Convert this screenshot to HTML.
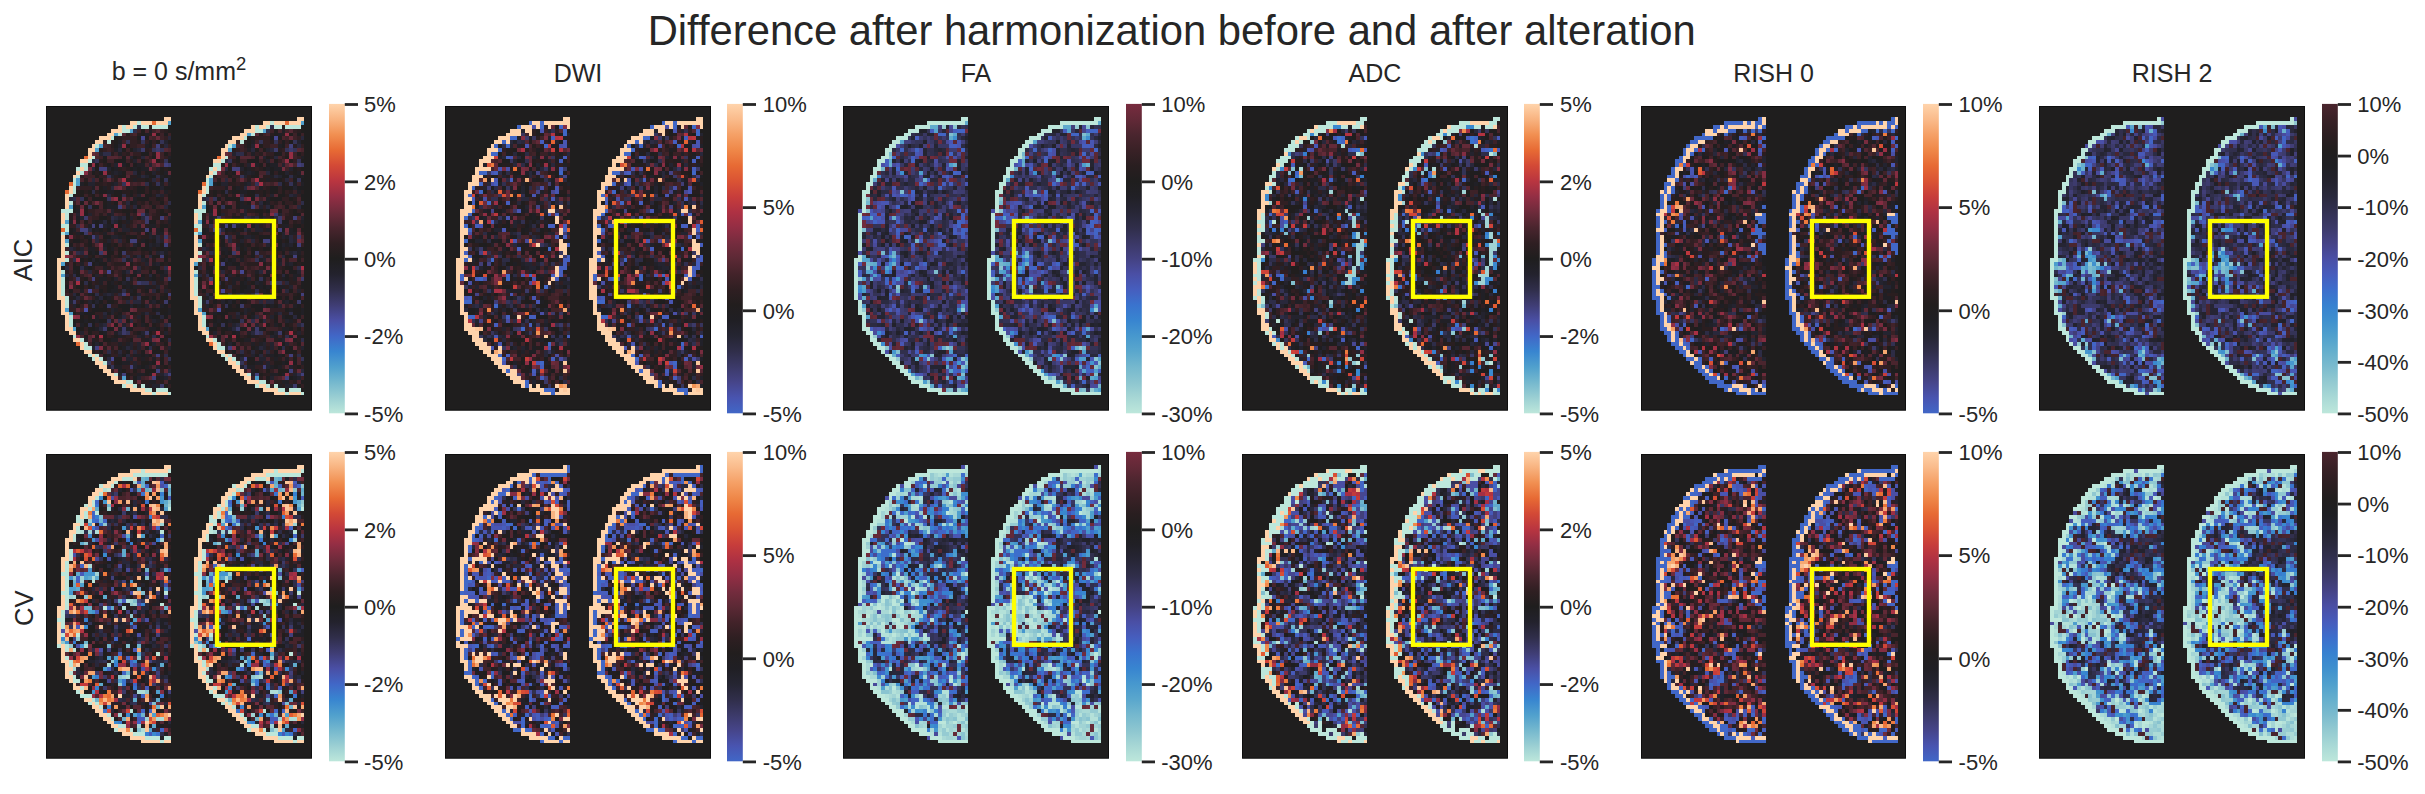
<!DOCTYPE html><html><head><meta charset="utf-8"><style>html,body{margin:0;padding:0;background:#fff;width:2425px;height:794px;overflow:hidden}svg{display:block}text{font-family:"Liberation Sans",sans-serif;fill:#262626}</style></head><body><svg width="2425" height="794" viewBox="0 0 2425 794"><rect width="2425" height="794" fill="#fff"/><defs><linearGradient id="g0" x1="0" y1="0" x2="0" y2="1"><stop offset="0.00" stop-color="#ffd4ac"/><stop offset="0.05" stop-color="#f8b380"/><stop offset="0.10" stop-color="#f18f51"/><stop offset="0.15" stop-color="#e76a34"/><stop offset="0.20" stop-color="#d34936"/><stop offset="0.25" stop-color="#b93540"/><stop offset="0.30" stop-color="#932e44"/><stop offset="0.35" stop-color="#6d2b3b"/><stop offset="0.40" stop-color="#4a252e"/><stop offset="0.45" stop-color="#2f1f22"/><stop offset="0.50" stop-color="#1f1e1e"/><stop offset="0.55" stop-color="#23222d"/><stop offset="0.60" stop-color="#302e4a"/><stop offset="0.65" stop-color="#3f3d74"/><stop offset="0.70" stop-color="#4a4fa5"/><stop offset="0.75" stop-color="#4167c7"/><stop offset="0.80" stop-color="#3885d0"/><stop offset="0.85" stop-color="#50a0cd"/><stop offset="0.90" stop-color="#75b8ce"/><stop offset="0.95" stop-color="#9bcfd3"/><stop offset="1.00" stop-color="#bde7db"/></linearGradient><linearGradient id="g1" x1="0" y1="0" x2="0" y2="1"><stop offset="0.00" stop-color="#ffd4ac"/><stop offset="0.05" stop-color="#fabb8b"/><stop offset="0.10" stop-color="#f5a066"/><stop offset="0.15" stop-color="#ef8748"/><stop offset="0.20" stop-color="#e76a34"/><stop offset="0.25" stop-color="#da5334"/><stop offset="0.30" stop-color="#c73d3b"/><stop offset="0.35" stop-color="#ae3143"/><stop offset="0.40" stop-color="#932e44"/><stop offset="0.45" stop-color="#752c3e"/><stop offset="0.50" stop-color="#5c2935"/><stop offset="0.55" stop-color="#43232a"/><stop offset="0.60" stop-color="#2f1f22"/><stop offset="0.65" stop-color="#221e1e"/><stop offset="0.70" stop-color="#201f24"/><stop offset="0.75" stop-color="#252532"/><stop offset="0.80" stop-color="#302e4a"/><stop offset="0.85" stop-color="#3c3a69"/><stop offset="0.90" stop-color="#46458a"/><stop offset="0.95" stop-color="#4954b0"/><stop offset="1.00" stop-color="#4167c7"/></linearGradient><linearGradient id="g2" x1="0" y1="0" x2="0" y2="1"><stop offset="0.00" stop-color="#782c3f"/><stop offset="0.05" stop-color="#622937"/><stop offset="0.10" stop-color="#4a252e"/><stop offset="0.15" stop-color="#392126"/><stop offset="0.20" stop-color="#291e20"/><stop offset="0.25" stop-color="#1f1e1e"/><stop offset="0.30" stop-color="#212026"/><stop offset="0.35" stop-color="#272636"/><stop offset="0.40" stop-color="#302e4a"/><stop offset="0.45" stop-color="#3b3866"/><stop offset="0.50" stop-color="#444282"/><stop offset="0.55" stop-color="#4a4fa5"/><stop offset="0.60" stop-color="#465ebe"/><stop offset="0.65" stop-color="#3a73ce"/><stop offset="0.70" stop-color="#3885d0"/><stop offset="0.75" stop-color="#4798ce"/><stop offset="0.80" stop-color="#5aa7cd"/><stop offset="0.85" stop-color="#75b8ce"/><stop offset="0.90" stop-color="#8dc6d0"/><stop offset="0.95" stop-color="#a7d7d5"/><stop offset="1.00" stop-color="#bde7db"/></linearGradient><linearGradient id="g3" x1="0" y1="0" x2="0" y2="1"><stop offset="0.00" stop-color="#ffd4ac"/><stop offset="0.05" stop-color="#f8b380"/><stop offset="0.10" stop-color="#f18f51"/><stop offset="0.15" stop-color="#e76a34"/><stop offset="0.20" stop-color="#d34936"/><stop offset="0.25" stop-color="#b93540"/><stop offset="0.30" stop-color="#932e44"/><stop offset="0.35" stop-color="#6d2b3b"/><stop offset="0.40" stop-color="#4a252e"/><stop offset="0.45" stop-color="#2f1f22"/><stop offset="0.50" stop-color="#1f1e1e"/><stop offset="0.55" stop-color="#23222d"/><stop offset="0.60" stop-color="#302e4a"/><stop offset="0.65" stop-color="#3f3d74"/><stop offset="0.70" stop-color="#4a4fa5"/><stop offset="0.75" stop-color="#4167c7"/><stop offset="0.80" stop-color="#3885d0"/><stop offset="0.85" stop-color="#50a0cd"/><stop offset="0.90" stop-color="#75b8ce"/><stop offset="0.95" stop-color="#9bcfd3"/><stop offset="1.00" stop-color="#bde7db"/></linearGradient><linearGradient id="g4" x1="0" y1="0" x2="0" y2="1"><stop offset="0.00" stop-color="#ffd4ac"/><stop offset="0.05" stop-color="#fabb8b"/><stop offset="0.10" stop-color="#f5a066"/><stop offset="0.15" stop-color="#ef8748"/><stop offset="0.20" stop-color="#e76a34"/><stop offset="0.25" stop-color="#da5334"/><stop offset="0.30" stop-color="#c73d3b"/><stop offset="0.35" stop-color="#ae3143"/><stop offset="0.40" stop-color="#932e44"/><stop offset="0.45" stop-color="#752c3e"/><stop offset="0.50" stop-color="#5c2935"/><stop offset="0.55" stop-color="#43232a"/><stop offset="0.60" stop-color="#2f1f22"/><stop offset="0.65" stop-color="#221e1e"/><stop offset="0.70" stop-color="#201f24"/><stop offset="0.75" stop-color="#252532"/><stop offset="0.80" stop-color="#302e4a"/><stop offset="0.85" stop-color="#3c3a69"/><stop offset="0.90" stop-color="#46458a"/><stop offset="0.95" stop-color="#4954b0"/><stop offset="1.00" stop-color="#4167c7"/></linearGradient><linearGradient id="g5" x1="0" y1="0" x2="0" y2="1"><stop offset="0.00" stop-color="#4a252e"/><stop offset="0.05" stop-color="#392126"/><stop offset="0.10" stop-color="#2c1e21"/><stop offset="0.15" stop-color="#211e1e"/><stop offset="0.20" stop-color="#1f1f23"/><stop offset="0.25" stop-color="#23222d"/><stop offset="0.30" stop-color="#2a293d"/><stop offset="0.35" stop-color="#333153"/><stop offset="0.40" stop-color="#3c3a69"/><stop offset="0.45" stop-color="#454386"/><stop offset="0.50" stop-color="#4a4fa5"/><stop offset="0.55" stop-color="#475cbc"/><stop offset="0.60" stop-color="#3d6ecc"/><stop offset="0.65" stop-color="#3781d0"/><stop offset="0.70" stop-color="#3f90ce"/><stop offset="0.75" stop-color="#50a0cd"/><stop offset="0.80" stop-color="#65afcd"/><stop offset="0.85" stop-color="#7bbbce"/><stop offset="0.90" stop-color="#93cad1"/><stop offset="0.95" stop-color="#a9d9d6"/><stop offset="1.00" stop-color="#bde7db"/></linearGradient></defs><text x="647.7" y="0" font-size="41.75" transform="translate(0,44.8) scale(1,1.036)">Difference after harmonization before and after alteration</text><text transform="translate(32.2,260) rotate(-90)" text-anchor="middle" font-size="25.5">AIC</text><text transform="translate(32.6,608.2) rotate(-90)" text-anchor="middle" font-size="25.5">CV</text><text x="179.0" y="79.7" text-anchor="middle" font-size="25">b = 0 s/mm<tspan dy="-10" font-size="18.5">2</tspan></text><rect x="46.5" y="106.5" width="265" height="303.7" fill="#1f1e1e" stroke="#0e0e0e" stroke-width="1"/><g transform="translate(46,106) scale(3.80000,3.80875)" shape-rendering="crispEdges"><g id="h00"><path fill="#bde7db" d="M24 4h1v1h-1zM20 5h1v1h-1zM23 5h1v1h-1zM25 5h2v1h-2zM28 5h4v1h-4zM20 6h2v1h-2zM19 7h1v1h-1zM17 8h1v1h-1zM16 9h1v1h-1zM13 10h1v1h-1zM12 13h1v1h-1zM11 14h1v1h-1zM9 15h2v1h-2zM8 16h1v1h-1zM10 16h1v1h-1zM9 17h1v1h-1zM8 18h1v1h-1zM7 19h1v1h-1zM7 20h1v1h-1zM7 21h1v1h-1zM7 22h1v1h-1zM6 23h1v1h-1zM6 25h1v1h-1zM4 27h3v1h-3zM5 28h1v1h-1zM5 29h1v1h-1zM4 31h2v1h-2zM5 32h1v1h-1zM4 33h1v1h-1zM5 36h1v1h-1zM5 38h1v1h-1zM5 40h1v1h-1zM4 43h1v1h-1zM4 45h1v1h-1zM4 46h1v1h-1zM4 47h1v1h-1zM4 48h1v1h-1zM4 49h1v1h-1zM5 50h1v1h-1zM5 51h1v1h-1zM5 52h1v1h-1zM6 55h1v1h-1zM6 56h1v1h-1zM6 57h1v1h-1zM7 60h1v1h-1zM9 61h1v1h-1zM10 62h1v1h-1zM10 63h2v1h-2zM11 65h1v1h-1zM13 65h1v1h-1zM12 66h1v1h-1zM14 66h1v1h-1zM15 67h1v1h-1zM18 70h1v1h-1zM21 72h2v1h-2zM20 73h1v1h-1zM23 73h1v1h-1zM25 73h1v1h-1zM26 74h2v1h-2zM29 74h3v1h-3zM28 75h1v1h-1zM32 75h1v1h-1z"/><path fill="#50a0cd" d="M32 4h1v1h-1zM22 6h1v1h-1zM18 7h1v1h-1zM14 10h1v1h-1zM13 11h1v1h-1zM8 19h1v1h-1zM8 20h1v1h-1zM6 26h1v1h-1zM5 30h1v1h-1zM5 33h1v1h-1zM5 35h1v1h-1zM4 41h1v1h-1zM4 44h1v1h-1zM5 53h1v1h-1zM6 54h1v1h-1zM7 58h1v1h-1zM20 71h1v1h-1z"/><path fill="#4a4fa5" d="M10 53h1v1h-1z"/><path fill="#474792" d="M25 8h1v1h-1zM16 43h1v1h-1zM11 48h1v1h-1zM17 66h1v1h-1z"/><path fill="#42407b" d="M29 10h1v1h-1zM31 15h1v1h-1zM14 16h2v1h-2zM19 26h1v1h-1zM30 29h1v1h-1zM12 31h1v1h-1zM14 31h1v1h-1zM9 32h2v1h-2zM26 32h1v1h-1zM12 34h1v1h-1zM22 35h2v1h-2zM31 36h1v1h-1zM30 39h1v1h-1zM11 41h1v1h-1zM12 45h1v1h-1zM20 49h1v1h-1zM32 49h1v1h-1zM13 63h1v1h-1zM29 65h1v1h-1zM22 68h1v1h-1zM29 69h1v1h-1zM20 70h1v1h-1zM32 70h1v1h-1zM28 71h1v1h-1z"/><path fill="#3c3a69" d="M25 11h1v1h-1zM29 11h1v1h-1zM32 15h1v1h-1zM25 28h1v1h-1zM10 29h1v1h-1zM26 29h1v1h-1zM26 30h1v1h-1zM10 33h1v1h-1zM31 34h1v1h-1zM14 38h1v1h-1zM20 38h1v1h-1zM8 45h1v1h-1zM32 45h1v1h-1zM24 46h1v1h-1zM7 51h1v1h-1zM31 51h1v1h-1zM16 52h1v1h-1zM15 58h1v1h-1zM20 58h1v1h-1zM20 59h1v1h-1zM26 59h1v1h-1zM30 73h1v1h-1z"/><path fill="#343356" d="M21 9h1v1h-1zM25 9h1v1h-1zM30 9h1v1h-1zM28 11h1v1h-1zM30 11h1v1h-1zM13 14h1v1h-1zM31 14h1v1h-1zM16 18h1v1h-1zM31 19h1v1h-1zM20 20h1v1h-1zM29 20h1v1h-1zM9 24h1v1h-1zM16 24h1v1h-1zM11 26h1v1h-1zM20 40h1v1h-1zM21 45h1v1h-1zM25 46h2v1h-2zM24 50h1v1h-1zM12 52h1v1h-1zM16 56h1v1h-1zM11 57h1v1h-1zM32 57h1v1h-1zM21 59h1v1h-1zM32 66h1v1h-1zM16 67h1v1h-1zM17 68h1v1h-1z"/><path fill="#2e2d48" d="M24 5h1v1h-1zM23 6h1v1h-1zM15 12h2v1h-2zM29 18h1v1h-1zM26 20h1v1h-1zM12 22h1v1h-1zM20 23h1v1h-1zM7 24h1v1h-1zM32 25h1v1h-1zM17 29h1v1h-1zM8 31h1v1h-1zM8 38h1v1h-1zM21 39h1v1h-1zM7 40h1v1h-1zM9 42h1v1h-1zM31 42h1v1h-1zM7 44h1v1h-1zM10 46h1v1h-1zM20 48h1v1h-1zM13 49h1v1h-1zM29 54h1v1h-1zM19 56h1v1h-1zM28 60h1v1h-1zM32 61h1v1h-1zM27 63h1v1h-1zM16 64h1v1h-1zM31 65h1v1h-1zM31 70h1v1h-1z"/><path fill="#29283b" d="M32 8h1v1h-1zM31 10h1v1h-1zM19 11h1v1h-1zM24 11h1v1h-1zM25 13h1v1h-1zM12 14h1v1h-1zM12 16h1v1h-1zM23 17h1v1h-1zM25 18h1v1h-1zM12 19h1v1h-1zM28 19h1v1h-1zM17 21h1v1h-1zM16 23h1v1h-1zM29 23h1v1h-1zM6 24h1v1h-1zM21 25h1v1h-1zM23 26h1v1h-1zM31 26h1v1h-1zM18 29h1v1h-1zM20 29h1v1h-1zM25 29h1v1h-1zM15 30h1v1h-1zM17 30h1v1h-1zM11 32h1v1h-1zM17 32h1v1h-1zM13 34h1v1h-1zM29 34h1v1h-1zM13 35h1v1h-1zM19 35h1v1h-1zM29 35h1v1h-1zM6 37h1v1h-1zM9 38h1v1h-1zM30 38h1v1h-1zM24 39h1v1h-1zM27 39h1v1h-1zM5 42h1v1h-1zM24 42h1v1h-1zM11 43h1v1h-1zM21 43h1v1h-1zM5 44h1v1h-1zM27 44h1v1h-1zM28 46h1v1h-1zM13 47h1v1h-1zM28 48h1v1h-1zM7 49h1v1h-1zM16 49h1v1h-1zM19 49h1v1h-1zM8 50h1v1h-1zM14 50h1v1h-1zM22 50h1v1h-1zM21 51h1v1h-1zM23 51h2v1h-2zM15 54h1v1h-1zM26 54h1v1h-1zM20 55h1v1h-1zM30 55h1v1h-1zM22 56h1v1h-1zM15 57h1v1h-1zM31 57h1v1h-1zM14 58h1v1h-1zM19 59h1v1h-1zM21 63h1v1h-1zM19 64h1v1h-1zM23 64h1v1h-1zM21 65h1v1h-1zM16 66h1v1h-1zM32 69h1v1h-1z"/><path fill="#24232e" d="M31 9h1v1h-1zM19 10h1v1h-1zM23 11h1v1h-1zM14 12h1v1h-1zM22 13h1v1h-1zM23 14h1v1h-1zM18 15h1v1h-1zM27 15h1v1h-1zM16 16h1v1h-1zM29 16h1v1h-1zM18 17h1v1h-1zM28 17h1v1h-1zM17 18h1v1h-1zM26 18h1v1h-1zM11 20h2v1h-2zM18 20h1v1h-1zM30 21h1v1h-1zM24 23h1v1h-1zM30 23h1v1h-1zM21 26h1v1h-1zM17 27h1v1h-1zM8 28h1v1h-1zM11 28h1v1h-1zM17 28h1v1h-1zM26 28h1v1h-1zM9 29h1v1h-1zM19 29h1v1h-1zM22 29h1v1h-1zM32 29h1v1h-1zM18 30h1v1h-1zM15 31h1v1h-1zM20 31h1v1h-1zM20 32h2v1h-2zM27 33h1v1h-1zM17 34h2v1h-2zM27 34h1v1h-1zM16 35h1v1h-1zM30 35h1v1h-1zM23 36h1v1h-1zM27 36h1v1h-1zM29 36h1v1h-1zM7 37h1v1h-1zM9 37h1v1h-1zM15 37h1v1h-1zM29 38h1v1h-1zM10 39h1v1h-1zM12 40h1v1h-1zM22 40h1v1h-1zM25 40h1v1h-1zM26 41h1v1h-1zM29 41h1v1h-1zM24 43h1v1h-1zM31 43h1v1h-1zM13 44h1v1h-1zM18 45h1v1h-1zM20 46h1v1h-1zM29 47h1v1h-1zM31 48h1v1h-1zM15 49h1v1h-1zM17 49h1v1h-1zM24 49h1v1h-1zM6 51h1v1h-1zM11 51h1v1h-1zM13 51h1v1h-1zM28 51h1v1h-1zM7 52h1v1h-1zM22 52h1v1h-1zM26 52h1v1h-1zM17 53h1v1h-1zM17 54h1v1h-1zM15 55h1v1h-1zM24 55h1v1h-1zM28 56h1v1h-1zM14 57h1v1h-1zM20 57h1v1h-1zM9 59h1v1h-1zM25 59h1v1h-1zM31 59h1v1h-1zM24 60h1v1h-1zM27 61h1v1h-1zM13 62h1v1h-1zM22 62h1v1h-1zM24 62h1v1h-1zM28 62h1v1h-1zM12 63h1v1h-1zM22 63h1v1h-1zM24 63h1v1h-1zM32 63h1v1h-1zM19 65h1v1h-1zM21 66h2v1h-2zM23 67h1v1h-1zM16 68h1v1h-1zM23 68h1v1h-1zM29 68h1v1h-1zM19 70h1v1h-1zM30 70h1v1h-1zM24 71h1v1h-1zM31 71h1v1h-1zM28 73h2v1h-2z"/><path fill="#212026" d="M27 6h1v1h-1zM26 7h1v1h-1zM19 9h1v1h-1zM26 10h1v1h-1zM18 11h1v1h-1zM19 12h1v1h-1zM32 13h1v1h-1zM20 15h1v1h-1zM24 15h2v1h-2zM18 16h1v1h-1zM23 16h1v1h-1zM25 16h2v1h-2zM17 17h1v1h-1zM19 17h1v1h-1zM31 17h1v1h-1zM24 18h1v1h-1zM30 18h1v1h-1zM32 18h1v1h-1zM23 19h1v1h-1zM9 20h1v1h-1zM17 20h1v1h-1zM30 20h1v1h-1zM32 20h1v1h-1zM12 21h1v1h-1zM15 21h1v1h-1zM21 21h1v1h-1zM16 22h2v1h-2zM31 22h1v1h-1zM23 24h1v1h-1zM16 25h1v1h-1zM23 25h1v1h-1zM16 26h3v1h-3zM8 27h1v1h-1zM16 28h1v1h-1zM8 29h1v1h-1zM6 30h1v1h-1zM12 30h1v1h-1zM14 30h1v1h-1zM21 30h1v1h-1zM32 30h1v1h-1zM11 31h1v1h-1zM16 31h1v1h-1zM24 31h1v1h-1zM27 31h2v1h-2zM7 32h1v1h-1zM13 32h1v1h-1zM18 32h1v1h-1zM23 32h2v1h-2zM29 32h1v1h-1zM8 33h1v1h-1zM15 33h1v1h-1zM29 33h2v1h-2zM11 34h1v1h-1zM19 34h1v1h-1zM28 34h1v1h-1zM25 35h1v1h-1zM15 36h1v1h-1zM28 36h1v1h-1zM11 37h2v1h-2zM17 37h1v1h-1zM27 37h1v1h-1zM31 37h1v1h-1zM12 38h1v1h-1zM31 38h1v1h-1zM15 39h1v1h-1zM23 39h1v1h-1zM14 40h1v1h-1zM16 40h1v1h-1zM21 40h1v1h-1zM26 40h1v1h-1zM9 41h1v1h-1zM13 41h1v1h-1zM28 41h1v1h-1zM10 42h1v1h-1zM15 42h1v1h-1zM7 43h1v1h-1zM20 43h1v1h-1zM23 43h1v1h-1zM30 44h2v1h-2zM14 45h2v1h-2zM22 45h1v1h-1zM25 45h1v1h-1zM27 45h1v1h-1zM30 45h1v1h-1zM14 46h1v1h-1zM17 46h1v1h-1zM21 46h1v1h-1zM18 47h1v1h-1zM21 47h1v1h-1zM23 47h1v1h-1zM26 47h2v1h-2zM9 48h1v1h-1zM17 48h2v1h-2zM22 48h1v1h-1zM11 49h1v1h-1zM7 50h1v1h-1zM13 50h1v1h-1zM16 50h1v1h-1zM27 51h1v1h-1zM24 52h1v1h-1zM30 52h1v1h-1zM18 53h1v1h-1zM29 53h1v1h-1zM32 53h1v1h-1zM9 54h1v1h-1zM25 54h1v1h-1zM32 54h1v1h-1zM13 55h1v1h-1zM19 55h1v1h-1zM27 55h1v1h-1zM10 56h1v1h-1zM13 56h1v1h-1zM29 56h1v1h-1zM7 57h1v1h-1zM9 57h1v1h-1zM25 57h1v1h-1zM13 58h1v1h-1zM19 58h1v1h-1zM21 58h1v1h-1zM27 58h2v1h-2zM15 59h1v1h-1zM18 59h1v1h-1zM19 60h1v1h-1zM25 60h1v1h-1zM29 60h1v1h-1zM10 61h1v1h-1zM12 61h1v1h-1zM17 61h2v1h-2zM26 61h1v1h-1zM19 62h1v1h-1zM21 62h1v1h-1zM20 63h1v1h-1zM16 65h1v1h-1zM23 65h2v1h-2zM26 65h1v1h-1zM25 66h1v1h-1zM28 66h1v1h-1zM20 67h2v1h-2zM27 67h1v1h-1zM32 67h1v1h-1zM18 68h2v1h-2zM24 68h1v1h-1zM26 68h1v1h-1zM19 69h1v1h-1zM24 70h2v1h-2zM27 70h1v1h-1zM30 71h1v1h-1zM27 72h2v1h-2zM26 73h1v1h-1z"/><path fill="#1f1e20" d="M32 5h1v1h-1zM31 7h1v1h-1zM24 8h1v1h-1zM27 9h1v1h-1zM18 10h1v1h-1zM27 10h1v1h-1zM25 12h2v1h-2zM15 13h1v1h-1zM20 13h1v1h-1zM19 14h2v1h-2zM13 15h1v1h-1zM16 15h1v1h-1zM23 15h1v1h-1zM17 16h1v1h-1zM22 16h1v1h-1zM24 16h1v1h-1zM12 17h1v1h-1zM14 17h1v1h-1zM24 17h1v1h-1zM26 17h1v1h-1zM19 18h1v1h-1zM27 18h2v1h-2zM30 19h1v1h-1zM32 19h1v1h-1zM27 20h1v1h-1zM24 21h2v1h-2zM27 21h1v1h-1zM31 21h2v1h-2zM14 22h1v1h-1zM19 22h1v1h-1zM24 22h1v1h-1zM22 23h1v1h-1zM27 23h1v1h-1zM32 23h1v1h-1zM10 24h1v1h-1zM12 24h2v1h-2zM19 24h1v1h-1zM25 24h2v1h-2zM9 25h1v1h-1zM18 25h1v1h-1zM22 25h1v1h-1zM7 26h1v1h-1zM13 26h1v1h-1zM15 26h1v1h-1zM24 26h1v1h-1zM28 26h1v1h-1zM32 26h1v1h-1zM23 27h1v1h-1zM26 27h1v1h-1zM10 28h1v1h-1zM21 28h1v1h-1zM31 28h1v1h-1zM15 29h1v1h-1zM8 30h1v1h-1zM13 30h1v1h-1zM27 30h2v1h-2zM13 31h1v1h-1zM17 31h1v1h-1zM19 31h1v1h-1zM31 31h1v1h-1zM6 32h1v1h-1zM14 32h1v1h-1zM16 32h1v1h-1zM27 32h1v1h-1zM30 32h1v1h-1zM6 33h1v1h-1zM9 33h1v1h-1zM15 34h2v1h-2zM21 34h1v1h-1zM23 34h1v1h-1zM7 35h2v1h-2zM11 35h1v1h-1zM26 35h1v1h-1zM6 36h1v1h-1zM11 36h1v1h-1zM16 36h1v1h-1zM24 36h1v1h-1zM26 36h1v1h-1zM22 37h1v1h-1zM26 37h1v1h-1zM32 37h1v1h-1zM11 38h1v1h-1zM13 38h1v1h-1zM16 38h1v1h-1zM27 38h1v1h-1zM19 39h1v1h-1zM25 39h1v1h-1zM9 40h1v1h-1zM11 40h1v1h-1zM13 40h1v1h-1zM14 41h2v1h-2zM4 42h1v1h-1zM7 42h2v1h-2zM11 42h1v1h-1zM29 42h1v1h-1zM29 43h2v1h-2zM8 44h1v1h-1zM15 44h1v1h-1zM23 44h1v1h-1zM25 44h1v1h-1zM28 44h1v1h-1zM17 45h1v1h-1zM28 45h1v1h-1zM16 46h1v1h-1zM32 46h1v1h-1zM5 47h1v1h-1zM16 47h2v1h-2zM22 47h1v1h-1zM32 47h1v1h-1zM6 48h1v1h-1zM14 48h1v1h-1zM16 48h1v1h-1zM26 48h1v1h-1zM8 49h1v1h-1zM22 49h2v1h-2zM15 50h1v1h-1zM28 50h1v1h-1zM31 50h1v1h-1zM9 51h1v1h-1zM12 51h1v1h-1zM14 51h1v1h-1zM16 51h1v1h-1zM29 51h1v1h-1zM32 51h1v1h-1zM13 52h1v1h-1zM15 52h1v1h-1zM19 52h3v1h-3zM31 52h1v1h-1zM12 53h2v1h-2zM20 53h2v1h-2zM28 53h1v1h-1zM7 54h1v1h-1zM10 54h2v1h-2zM16 54h1v1h-1zM19 54h1v1h-1zM22 54h1v1h-1zM31 54h1v1h-1zM28 55h1v1h-1zM31 55h1v1h-1zM9 56h1v1h-1zM12 56h1v1h-1zM14 56h1v1h-1zM25 56h1v1h-1zM32 56h1v1h-1zM12 57h1v1h-1zM8 58h1v1h-1zM12 58h1v1h-1zM16 58h2v1h-2zM22 58h1v1h-1zM29 58h1v1h-1zM14 59h1v1h-1zM24 59h1v1h-1zM10 60h1v1h-1zM31 60h1v1h-1zM22 61h1v1h-1zM30 61h1v1h-1zM12 62h1v1h-1zM14 62h1v1h-1zM27 62h1v1h-1zM26 63h1v1h-1zM29 63h1v1h-1zM14 64h1v1h-1zM21 64h1v1h-1zM25 64h1v1h-1zM28 64h1v1h-1zM32 64h1v1h-1zM15 65h1v1h-1zM20 65h1v1h-1zM25 65h1v1h-1zM18 66h1v1h-1zM19 67h1v1h-1zM28 67h1v1h-1zM30 67h1v1h-1zM25 68h1v1h-1zM23 71h1v1h-1zM29 71h1v1h-1zM32 72h1v1h-1z"/><path fill="#211e1e" d="M25 6h1v1h-1zM32 6h1v1h-1zM25 7h1v1h-1zM29 7h1v1h-1zM18 8h1v1h-1zM26 8h1v1h-1zM18 9h1v1h-1zM29 9h1v1h-1zM32 9h1v1h-1zM21 10h1v1h-1zM20 11h1v1h-1zM22 11h1v1h-1zM31 12h1v1h-1zM23 13h1v1h-1zM28 13h1v1h-1zM15 14h1v1h-1zM18 14h1v1h-1zM25 14h1v1h-1zM29 14h1v1h-1zM32 14h1v1h-1zM21 15h1v1h-1zM13 16h1v1h-1zM30 16h1v1h-1zM32 16h1v1h-1zM20 17h1v1h-1zM27 17h1v1h-1zM30 17h1v1h-1zM13 18h1v1h-1zM20 18h1v1h-1zM31 18h1v1h-1zM14 19h1v1h-1zM26 19h1v1h-1zM10 20h1v1h-1zM14 21h1v1h-1zM28 21h2v1h-2zM9 22h1v1h-1zM11 22h1v1h-1zM15 22h1v1h-1zM18 22h1v1h-1zM22 22h1v1h-1zM25 22h1v1h-1zM27 22h1v1h-1zM9 23h1v1h-1zM12 23h1v1h-1zM18 23h2v1h-2zM26 23h1v1h-1zM14 24h2v1h-2zM24 24h1v1h-1zM29 24h1v1h-1zM32 24h1v1h-1zM15 25h1v1h-1zM27 25h1v1h-1zM30 25h1v1h-1zM10 26h1v1h-1zM12 26h1v1h-1zM7 27h1v1h-1zM10 27h1v1h-1zM20 27h2v1h-2zM30 27h1v1h-1zM30 28h1v1h-1zM14 29h1v1h-1zM21 29h1v1h-1zM24 29h1v1h-1zM10 30h1v1h-1zM16 30h1v1h-1zM19 30h1v1h-1zM30 31h1v1h-1zM12 32h1v1h-1zM32 32h1v1h-1zM19 33h2v1h-2zM26 33h1v1h-1zM10 34h1v1h-1zM22 34h1v1h-1zM21 35h1v1h-1zM28 35h1v1h-1zM18 36h1v1h-1zM30 36h1v1h-1zM16 37h1v1h-1zM19 37h2v1h-2zM23 37h1v1h-1zM25 37h1v1h-1zM29 37h2v1h-2zM17 38h1v1h-1zM19 38h1v1h-1zM12 39h1v1h-1zM16 39h1v1h-1zM28 39h2v1h-2zM31 39h1v1h-1zM31 40h1v1h-1zM7 41h1v1h-1zM12 41h1v1h-1zM22 41h1v1h-1zM30 41h1v1h-1zM32 41h1v1h-1zM28 42h1v1h-1zM8 43h1v1h-1zM27 43h1v1h-1zM12 44h1v1h-1zM20 44h1v1h-1zM22 44h1v1h-1zM5 45h1v1h-1zM10 45h1v1h-1zM20 45h1v1h-1zM24 45h1v1h-1zM9 46h1v1h-1zM11 46h1v1h-1zM19 46h1v1h-1zM8 47h2v1h-2zM11 47h1v1h-1zM20 47h1v1h-1zM23 48h1v1h-1zM29 48h1v1h-1zM12 49h1v1h-1zM31 49h1v1h-1zM25 50h2v1h-2zM30 50h1v1h-1zM17 51h1v1h-1zM8 52h1v1h-1zM23 52h1v1h-1zM25 52h1v1h-1zM14 53h2v1h-2zM30 53h2v1h-2zM12 54h1v1h-1zM30 54h1v1h-1zM9 55h1v1h-1zM11 55h1v1h-1zM18 55h1v1h-1zM25 55h1v1h-1zM29 55h1v1h-1zM7 56h1v1h-1zM11 56h1v1h-1zM15 56h1v1h-1zM21 56h1v1h-1zM10 57h1v1h-1zM18 57h1v1h-1zM23 57h1v1h-1zM26 57h1v1h-1zM28 57h1v1h-1zM9 58h1v1h-1zM11 58h1v1h-1zM31 58h1v1h-1zM11 59h1v1h-1zM27 59h1v1h-1zM13 60h1v1h-1zM15 60h1v1h-1zM18 60h1v1h-1zM32 60h1v1h-1zM15 61h2v1h-2zM31 62h1v1h-1zM19 63h1v1h-1zM12 64h1v1h-1zM29 64h2v1h-2zM27 65h1v1h-1zM32 65h1v1h-1zM19 66h1v1h-1zM30 66h1v1h-1zM18 67h1v1h-1zM25 67h2v1h-2zM31 68h1v1h-1zM20 69h1v1h-1zM23 69h1v1h-1zM26 69h3v1h-3zM21 70h1v1h-1zM26 70h1v1h-1zM31 73h1v1h-1zM32 74h1v1h-1z"/><path fill="#291e20" d="M27 5h1v1h-1zM31 6h1v1h-1zM21 7h1v1h-1zM24 7h1v1h-1zM27 7h1v1h-1zM19 8h1v1h-1zM17 9h1v1h-1zM24 9h1v1h-1zM17 10h1v1h-1zM30 10h1v1h-1zM14 11h1v1h-1zM26 11h1v1h-1zM17 12h1v1h-1zM21 12h1v1h-1zM28 12h1v1h-1zM24 13h1v1h-1zM14 14h1v1h-1zM22 14h1v1h-1zM11 15h1v1h-1zM15 15h1v1h-1zM19 16h1v1h-1zM21 16h1v1h-1zM31 16h1v1h-1zM13 17h1v1h-1zM16 17h1v1h-1zM29 17h1v1h-1zM18 18h1v1h-1zM22 18h2v1h-2zM10 19h1v1h-1zM18 19h1v1h-1zM21 19h2v1h-2zM24 19h2v1h-2zM27 19h1v1h-1zM13 20h2v1h-2zM16 20h1v1h-1zM28 20h1v1h-1zM16 21h1v1h-1zM23 21h1v1h-1zM8 22h1v1h-1zM10 22h1v1h-1zM13 22h1v1h-1zM20 22h2v1h-2zM23 22h1v1h-1zM29 22h1v1h-1zM32 22h1v1h-1zM7 23h2v1h-2zM11 23h1v1h-1zM14 23h1v1h-1zM17 23h1v1h-1zM21 23h1v1h-1zM28 23h1v1h-1zM30 24h1v1h-1zM11 25h1v1h-1zM17 25h1v1h-1zM25 25h1v1h-1zM8 26h1v1h-1zM18 27h2v1h-2zM22 27h1v1h-1zM29 27h1v1h-1zM32 27h1v1h-1zM6 28h1v1h-1zM14 28h1v1h-1zM29 28h1v1h-1zM6 29h1v1h-1zM16 29h1v1h-1zM28 29h2v1h-2zM20 30h1v1h-1zM22 30h1v1h-1zM30 30h1v1h-1zM21 31h1v1h-1zM26 31h1v1h-1zM32 31h1v1h-1zM15 32h1v1h-1zM22 32h1v1h-1zM25 32h1v1h-1zM7 33h1v1h-1zM12 33h1v1h-1zM14 33h1v1h-1zM18 33h1v1h-1zM24 33h1v1h-1zM8 34h1v1h-1zM20 34h1v1h-1zM25 34h2v1h-2zM6 35h1v1h-1zM9 35h1v1h-1zM15 35h1v1h-1zM24 35h1v1h-1zM27 35h1v1h-1zM10 36h1v1h-1zM17 36h1v1h-1zM20 36h1v1h-1zM8 37h1v1h-1zM13 37h1v1h-1zM21 37h1v1h-1zM28 37h1v1h-1zM25 38h1v1h-1zM11 39h1v1h-1zM18 39h1v1h-1zM32 39h1v1h-1zM10 40h1v1h-1zM28 40h1v1h-1zM18 41h3v1h-3zM24 41h1v1h-1zM31 41h1v1h-1zM12 42h1v1h-1zM16 42h1v1h-1zM22 42h1v1h-1zM25 42h1v1h-1zM27 42h1v1h-1zM5 43h1v1h-1zM13 43h1v1h-1zM17 43h1v1h-1zM26 44h1v1h-1zM9 45h1v1h-1zM13 45h1v1h-1zM16 45h1v1h-1zM26 45h1v1h-1zM29 45h1v1h-1zM5 46h1v1h-1zM13 46h1v1h-1zM18 46h1v1h-1zM22 46h1v1h-1zM29 46h2v1h-2zM12 47h1v1h-1zM14 47h2v1h-2zM24 47h2v1h-2zM28 47h1v1h-1zM31 47h1v1h-1zM15 48h1v1h-1zM19 48h1v1h-1zM21 48h1v1h-1zM25 48h1v1h-1zM14 49h1v1h-1zM30 49h1v1h-1zM6 50h1v1h-1zM17 50h1v1h-1zM20 50h2v1h-2zM10 51h1v1h-1zM18 51h1v1h-1zM25 51h1v1h-1zM30 51h1v1h-1zM11 52h1v1h-1zM14 52h1v1h-1zM11 53h1v1h-1zM16 53h1v1h-1zM19 53h1v1h-1zM18 54h1v1h-1zM23 54h1v1h-1zM27 54h2v1h-2zM10 55h1v1h-1zM8 56h1v1h-1zM17 56h1v1h-1zM30 56h1v1h-1zM29 57h1v1h-1zM8 59h1v1h-1zM23 59h1v1h-1zM30 59h1v1h-1zM17 60h1v1h-1zM20 60h1v1h-1zM27 60h1v1h-1zM13 61h1v1h-1zM21 61h1v1h-1zM25 61h1v1h-1zM31 61h1v1h-1zM16 62h1v1h-1zM20 62h1v1h-1zM15 63h1v1h-1zM17 63h1v1h-1zM23 63h1v1h-1zM28 63h1v1h-1zM18 64h1v1h-1zM20 64h1v1h-1zM30 65h1v1h-1zM15 66h1v1h-1zM24 66h1v1h-1zM26 66h1v1h-1zM30 68h1v1h-1zM22 70h2v1h-2zM21 71h1v1h-1zM23 72h1v1h-1zM25 72h2v1h-2zM30 72h1v1h-1zM27 73h1v1h-1zM28 74h1v1h-1z"/><path fill="#311f23" d="M30 6h1v1h-1zM20 8h4v1h-4zM31 8h1v1h-1zM15 9h1v1h-1zM22 9h2v1h-2zM26 9h1v1h-1zM28 9h1v1h-1zM22 10h2v1h-2zM32 10h1v1h-1zM15 11h1v1h-1zM17 11h1v1h-1zM27 11h1v1h-1zM20 12h1v1h-1zM23 12h2v1h-2zM32 12h1v1h-1zM27 13h1v1h-1zM31 13h1v1h-1zM26 14h1v1h-1zM30 14h1v1h-1zM17 15h1v1h-1zM20 16h1v1h-1zM25 17h1v1h-1zM9 18h1v1h-1zM14 18h2v1h-2zM15 20h1v1h-1zM9 21h3v1h-3zM22 21h1v1h-1zM26 21h1v1h-1zM26 22h1v1h-1zM28 22h1v1h-1zM23 23h1v1h-1zM31 23h1v1h-1zM27 24h2v1h-2zM7 25h1v1h-1zM20 25h1v1h-1zM24 25h1v1h-1zM28 25h2v1h-2zM22 26h1v1h-1zM11 27h2v1h-2zM15 27h1v1h-1zM31 27h1v1h-1zM12 28h1v1h-1zM20 28h1v1h-1zM23 28h1v1h-1zM28 28h1v1h-1zM12 29h2v1h-2zM23 29h1v1h-1zM31 30h1v1h-1zM6 31h2v1h-2zM10 31h1v1h-1zM22 31h1v1h-1zM29 31h1v1h-1zM13 33h1v1h-1zM21 33h1v1h-1zM32 33h1v1h-1zM5 34h1v1h-1zM7 34h1v1h-1zM9 34h1v1h-1zM24 34h1v1h-1zM30 34h1v1h-1zM10 35h1v1h-1zM14 35h1v1h-1zM17 35h1v1h-1zM20 35h1v1h-1zM8 36h1v1h-1zM12 36h1v1h-1zM21 36h1v1h-1zM32 36h1v1h-1zM18 37h1v1h-1zM24 37h1v1h-1zM6 38h1v1h-1zM21 38h2v1h-2zM26 38h1v1h-1zM32 38h1v1h-1zM8 39h2v1h-2zM14 39h1v1h-1zM17 39h1v1h-1zM22 39h1v1h-1zM17 40h1v1h-1zM5 41h1v1h-1zM8 41h1v1h-1zM17 41h1v1h-1zM23 41h1v1h-1zM25 41h1v1h-1zM18 42h1v1h-1zM21 42h1v1h-1zM26 42h1v1h-1zM12 43h1v1h-1zM19 43h1v1h-1zM6 44h1v1h-1zM9 44h1v1h-1zM14 44h1v1h-1zM16 44h2v1h-2zM19 44h1v1h-1zM21 44h1v1h-1zM29 44h1v1h-1zM6 45h1v1h-1zM7 46h1v1h-1zM12 46h1v1h-1zM7 47h1v1h-1zM10 47h1v1h-1zM5 48h1v1h-1zM32 48h1v1h-1zM6 49h1v1h-1zM10 49h1v1h-1zM18 49h1v1h-1zM26 49h3v1h-3zM9 50h1v1h-1zM12 50h1v1h-1zM23 50h1v1h-1zM27 50h1v1h-1zM8 51h1v1h-1zM15 51h1v1h-1zM6 52h1v1h-1zM9 52h1v1h-1zM17 52h2v1h-2zM28 52h1v1h-1zM32 52h1v1h-1zM6 53h2v1h-2zM24 53h4v1h-4zM8 54h1v1h-1zM13 54h2v1h-2zM24 54h1v1h-1zM14 55h1v1h-1zM16 55h1v1h-1zM23 55h1v1h-1zM24 56h1v1h-1zM27 56h1v1h-1zM13 57h1v1h-1zM24 57h1v1h-1zM10 58h1v1h-1zM26 58h1v1h-1zM30 58h1v1h-1zM12 59h2v1h-2zM28 59h1v1h-1zM32 59h1v1h-1zM16 60h1v1h-1zM21 60h2v1h-2zM20 61h1v1h-1zM17 62h2v1h-2zM23 62h1v1h-1zM30 62h1v1h-1zM31 63h1v1h-1zM13 64h1v1h-1zM17 64h1v1h-1zM24 64h1v1h-1zM17 65h2v1h-2zM22 65h1v1h-1zM22 67h1v1h-1zM24 67h1v1h-1zM20 68h2v1h-2zM27 68h1v1h-1zM32 68h1v1h-1zM17 69h1v1h-1zM21 69h1v1h-1zM24 69h1v1h-1zM30 69h1v1h-1zM29 70h1v1h-1zM29 72h1v1h-1zM24 73h1v1h-1zM32 73h1v1h-1z"/><path fill="#3d2228" d="M24 6h1v1h-1zM28 6h1v1h-1zM22 7h1v1h-1zM30 7h1v1h-1zM32 7h1v1h-1zM28 8h1v1h-1zM30 8h1v1h-1zM20 9h1v1h-1zM16 10h1v1h-1zM24 10h2v1h-2zM28 10h1v1h-1zM16 11h1v1h-1zM21 11h1v1h-1zM18 12h1v1h-1zM27 12h1v1h-1zM30 12h1v1h-1zM14 13h1v1h-1zM30 13h1v1h-1zM16 14h2v1h-2zM21 14h1v1h-1zM14 15h1v1h-1zM28 16h1v1h-1zM11 17h1v1h-1zM10 18h3v1h-3zM15 19h1v1h-1zM17 19h1v1h-1zM29 19h1v1h-1zM19 20h1v1h-1zM22 20h1v1h-1zM24 20h1v1h-1zM31 20h1v1h-1zM8 21h1v1h-1zM30 22h1v1h-1zM10 23h1v1h-1zM13 23h1v1h-1zM11 24h1v1h-1zM21 24h1v1h-1zM26 25h1v1h-1zM31 25h1v1h-1zM25 26h1v1h-1zM27 26h1v1h-1zM29 26h1v1h-1zM13 27h2v1h-2zM27 27h2v1h-2zM13 28h1v1h-1zM15 28h1v1h-1zM19 28h1v1h-1zM22 28h1v1h-1zM27 28h1v1h-1zM11 29h1v1h-1zM11 30h1v1h-1zM23 30h1v1h-1zM25 30h1v1h-1zM29 30h1v1h-1zM8 32h1v1h-1zM19 32h1v1h-1zM16 33h1v1h-1zM22 33h2v1h-2zM7 36h1v1h-1zM19 36h1v1h-1zM5 37h1v1h-1zM10 37h1v1h-1zM18 38h1v1h-1zM23 38h2v1h-2zM28 38h1v1h-1zM13 39h1v1h-1zM20 39h1v1h-1zM6 40h1v1h-1zM15 40h1v1h-1zM18 40h1v1h-1zM24 40h1v1h-1zM32 40h1v1h-1zM10 41h1v1h-1zM16 41h1v1h-1zM13 42h2v1h-2zM19 42h1v1h-1zM30 42h1v1h-1zM6 43h1v1h-1zM10 43h1v1h-1zM15 43h1v1h-1zM18 43h1v1h-1zM25 43h2v1h-2zM7 45h1v1h-1zM11 45h1v1h-1zM19 45h1v1h-1zM23 45h1v1h-1zM15 46h1v1h-1zM27 46h1v1h-1zM31 46h1v1h-1zM7 48h2v1h-2zM12 48h2v1h-2zM30 48h1v1h-1zM5 49h1v1h-1zM25 49h1v1h-1zM29 49h1v1h-1zM19 50h1v1h-1zM29 50h1v1h-1zM20 51h1v1h-1zM9 53h1v1h-1zM20 54h1v1h-1zM21 55h1v1h-1zM32 55h1v1h-1zM23 56h1v1h-1zM21 57h1v1h-1zM30 57h1v1h-1zM23 58h3v1h-3zM32 58h1v1h-1zM10 59h1v1h-1zM16 59h1v1h-1zM22 59h1v1h-1zM23 60h1v1h-1zM26 60h1v1h-1zM11 62h1v1h-1zM29 62h1v1h-1zM25 63h1v1h-1zM15 64h1v1h-1zM31 64h1v1h-1zM28 65h1v1h-1zM27 66h1v1h-1zM29 66h1v1h-1zM17 67h1v1h-1zM22 69h1v1h-1zM19 71h1v1h-1zM22 71h1v1h-1zM25 71h1v1h-1zM32 71h1v1h-1z"/><path fill="#48242c" d="M26 6h1v1h-1zM23 7h1v1h-1zM27 8h1v1h-1zM15 10h1v1h-1zM32 11h1v1h-1zM22 12h1v1h-1zM13 13h1v1h-1zM19 13h1v1h-1zM26 13h1v1h-1zM24 14h1v1h-1zM27 14h1v1h-1zM22 15h1v1h-1zM26 15h1v1h-1zM30 15h1v1h-1zM21 17h2v1h-2zM9 19h1v1h-1zM11 19h1v1h-1zM13 19h1v1h-1zM23 20h1v1h-1zM20 21h1v1h-1zM31 24h1v1h-1zM12 25h1v1h-1zM14 25h1v1h-1zM14 26h1v1h-1zM26 26h1v1h-1zM30 26h1v1h-1zM7 28h1v1h-1zM18 28h1v1h-1zM31 29h1v1h-1zM9 30h1v1h-1zM24 30h1v1h-1zM23 31h1v1h-1zM17 33h1v1h-1zM14 34h1v1h-1zM32 34h1v1h-1zM18 35h1v1h-1zM9 36h1v1h-1zM22 36h1v1h-1zM7 39h1v1h-1zM26 39h1v1h-1zM19 40h1v1h-1zM29 40h2v1h-2zM6 41h1v1h-1zM6 42h1v1h-1zM17 42h1v1h-1zM20 42h1v1h-1zM28 43h1v1h-1zM10 44h1v1h-1zM19 47h1v1h-1zM30 47h1v1h-1zM10 48h1v1h-1zM24 48h1v1h-1zM11 50h1v1h-1zM32 50h1v1h-1zM22 51h1v1h-1zM29 52h1v1h-1zM26 55h1v1h-1zM26 56h1v1h-1zM8 57h1v1h-1zM27 57h1v1h-1zM17 59h1v1h-1zM9 60h1v1h-1zM14 61h1v1h-1zM19 61h1v1h-1zM15 62h1v1h-1zM18 63h1v1h-1zM22 64h1v1h-1zM14 65h1v1h-1zM23 66h1v1h-1zM31 66h1v1h-1zM31 67h1v1h-1zM25 69h1v1h-1zM26 71h1v1h-1zM31 72h1v1h-1z"/><path fill="#542732" d="M29 6h1v1h-1zM20 7h1v1h-1zM31 11h1v1h-1zM13 12h1v1h-1zM16 13h3v1h-3zM21 13h1v1h-1zM28 15h1v1h-1zM21 18h1v1h-1zM19 19h1v1h-1zM25 20h1v1h-1zM13 21h1v1h-1zM25 23h1v1h-1zM8 24h1v1h-1zM22 24h1v1h-1zM8 25h1v1h-1zM20 26h1v1h-1zM16 27h1v1h-1zM32 28h1v1h-1zM7 29h1v1h-1zM27 29h1v1h-1zM31 32h1v1h-1zM11 33h1v1h-1zM12 35h1v1h-1zM32 35h1v1h-1zM13 36h1v1h-1zM23 40h1v1h-1zM27 40h1v1h-1zM27 41h1v1h-1zM11 44h1v1h-1zM18 44h1v1h-1zM32 44h1v1h-1zM31 45h1v1h-1zM23 46h1v1h-1zM27 48h1v1h-1zM9 49h1v1h-1zM18 50h1v1h-1zM19 51h1v1h-1zM26 51h1v1h-1zM27 52h1v1h-1zM21 54h1v1h-1zM17 55h1v1h-1zM31 56h1v1h-1zM16 57h1v1h-1zM11 60h1v1h-1zM11 61h1v1h-1zM23 61h2v1h-2zM25 62h1v1h-1zM32 62h1v1h-1zM16 63h1v1h-1zM26 64h1v1h-1zM20 66h1v1h-1zM28 68h1v1h-1z"/><path fill="#642a38" d="M29 8h1v1h-1zM12 12h1v1h-1zM32 17h1v1h-1zM16 19h1v1h-1zM18 21h1v1h-1zM10 25h1v1h-1zM19 25h1v1h-1zM9 26h1v1h-1zM24 27h2v1h-2zM9 31h1v1h-1zM25 31h1v1h-1zM25 33h1v1h-1zM28 33h1v1h-1zM25 36h1v1h-1zM7 38h1v1h-1zM10 38h1v1h-1zM9 43h1v1h-1zM22 43h1v1h-1zM32 43h1v1h-1zM6 46h1v1h-1zM21 49h1v1h-1zM10 50h1v1h-1zM10 52h1v1h-1zM8 53h1v1h-1zM23 53h1v1h-1zM18 56h1v1h-1zM20 56h1v1h-1zM19 57h1v1h-1zM30 63h1v1h-1zM18 69h1v1h-1zM31 69h1v1h-1zM27 71h1v1h-1zM24 72h1v1h-1z"/><path fill="#722c3d" d="M29 15h1v1h-1zM11 16h1v1h-1zM27 16h1v1h-1zM19 21h1v1h-1zM17 24h1v1h-1zM20 24h1v1h-1zM13 25h1v1h-1zM28 32h1v1h-1zM31 33h1v1h-1zM31 35h1v1h-1zM14 37h1v1h-1zM15 38h1v1h-1zM6 39h1v1h-1zM23 42h1v1h-1zM24 44h1v1h-1zM22 53h1v1h-1zM12 55h1v1h-1zM18 58h1v1h-1zM12 60h1v1h-1zM30 60h1v1h-1zM28 61h1v1h-1z"/><path fill="#842d42" d="M10 17h1v1h-1zM15 23h1v1h-1zM24 28h1v1h-1zM7 30h1v1h-1zM6 34h1v1h-1zM14 36h1v1h-1zM21 41h1v1h-1zM14 43h1v1h-1zM6 47h1v1h-1zM8 55h1v1h-1zM22 55h1v1h-1zM17 57h1v1h-1zM29 61h1v1h-1zM14 63h1v1h-1zM27 64h1v1h-1z"/><path fill="#932e44" d="M28 7h1v1h-1zM20 10h1v1h-1zM29 12h1v1h-1zM29 13h1v1h-1zM28 14h1v1h-1zM12 15h1v1h-1zM19 15h1v1h-1zM15 17h1v1h-1zM18 24h1v1h-1zM9 27h1v1h-1zM9 28h1v1h-1zM18 31h1v1h-1zM5 39h1v1h-1zM7 55h1v1h-1zM22 57h1v1h-1zM8 60h1v1h-1zM26 62h1v1h-1zM29 67h1v1h-1zM28 70h1v1h-1z"/><path fill="#a52f44" d="M20 19h1v1h-1zM21 20h1v1h-1zM8 40h1v1h-1zM32 42h1v1h-1zM8 46h1v1h-1zM29 59h1v1h-1zM14 60h1v1h-1z"/><path fill="#e76a34" d="M28 4h1v1h-1zM10 13h1v1h-1zM6 20h1v1h-1zM5 22h1v1h-1zM4 32h1v1h-1zM8 62h1v1h-1z"/><path fill="#ffd4ac" d="M31 3h2v1h-2zM22 4h2v1h-2zM25 4h3v1h-3zM29 4h3v1h-3zM19 5h1v1h-1zM21 5h2v1h-2zM17 6h3v1h-3zM16 7h2v1h-2zM14 8h3v1h-3zM13 9h2v1h-2zM12 10h1v1h-1zM11 11h2v1h-2zM11 12h1v1h-1zM11 13h1v1h-1zM9 14h2v1h-2zM9 16h1v1h-1zM8 17h1v1h-1zM7 18h1v1h-1zM6 21h1v1h-1zM6 22h1v1h-1zM5 23h1v1h-1zM5 24h1v1h-1zM5 25h1v1h-1zM5 26h1v1h-1zM4 28h1v1h-1zM4 29h1v1h-1zM4 30h1v1h-1zM4 34h1v1h-1zM4 35h1v1h-1zM4 36h1v1h-1zM4 37h1v1h-1zM4 38h1v1h-1zM4 39h1v1h-1zM3 40h2v1h-2zM3 41h1v1h-1zM3 42h1v1h-1zM3 43h1v1h-1zM3 44h1v1h-1zM3 45h1v1h-1zM3 46h1v1h-1zM3 47h1v1h-1zM3 48h1v1h-1zM3 49h1v1h-1zM3 50h2v1h-2zM4 51h1v1h-1zM4 52h1v1h-1zM4 53h1v1h-1zM4 54h2v1h-2zM5 55h1v1h-1zM5 56h1v1h-1zM5 57h1v1h-1zM5 58h2v1h-2zM6 59h2v1h-2zM7 61h2v1h-2zM9 62h1v1h-1zM9 63h1v1h-1zM10 64h2v1h-2zM12 65h1v1h-1zM13 66h1v1h-1zM13 67h2v1h-2zM14 68h2v1h-2zM15 69h2v1h-2zM16 70h2v1h-2zM17 71h2v1h-2zM18 72h3v1h-3zM21 73h2v1h-2zM22 74h4v1h-4zM25 75h3v1h-3zM29 75h3v1h-3z"/></g><use href="#h00" x="35"/></g><rect x="217" y="221" width="57" height="75.8" fill="none" stroke="#ffff00" stroke-width="4.3"/><rect x="329" y="103.9" width="15.8" height="309.4" fill="url(#g0)"/><rect x="344.8" y="103.10" width="13.2" height="2.8" fill="#262626"/><text x="364.1" y="0" font-size="22" transform="translate(0,112.25) scale(1,1.045)">5%</text><rect x="344.8" y="180.45" width="13.2" height="2.8" fill="#262626"/><text x="364.1" y="0" font-size="22" transform="translate(0,189.60) scale(1,1.045)">2%</text><rect x="344.8" y="257.80" width="13.2" height="2.8" fill="#262626"/><text x="364.1" y="0" font-size="22" transform="translate(0,266.95) scale(1,1.045)">0%</text><rect x="344.8" y="335.15" width="13.2" height="2.8" fill="#262626"/><text x="364.1" y="0" font-size="22" transform="translate(0,344.30) scale(1,1.045)">-2%</text><rect x="344.8" y="412.50" width="13.2" height="2.8" fill="#262626"/><text x="364.1" y="0" font-size="22" transform="translate(0,421.65) scale(1,1.045)">-5%</text><rect x="46.5" y="454.5" width="265" height="303.7" fill="#1f1e1e" stroke="#0e0e0e" stroke-width="1"/><g transform="translate(46,454) scale(3.80000,3.80875)" shape-rendering="crispEdges"><g id="h01"><path fill="#bde7db" d="M25 4h1v1h-1zM32 4h1v1h-1zM23 5h9v1h-9zM20 6h3v1h-3zM18 7h1v1h-1zM14 8h1v1h-1zM17 8h1v1h-1zM16 9h1v1h-1zM14 10h1v1h-1zM13 11h1v1h-1zM12 12h1v1h-1zM10 13h1v1h-1zM12 13h1v1h-1zM11 14h1v1h-1zM32 14h1v1h-1zM10 15h1v1h-1zM13 15h1v1h-1zM8 16h1v1h-1zM10 16h1v1h-1zM8 17h2v1h-2zM9 18h1v1h-1zM8 19h1v1h-1zM8 20h1v1h-1zM30 20h1v1h-1zM7 21h1v1h-1zM7 22h1v1h-1zM6 25h1v1h-1zM6 26h1v1h-1zM6 27h1v1h-1zM5 28h1v1h-1zM5 29h1v1h-1zM5 30h1v1h-1zM4 31h2v1h-2zM5 32h1v1h-1zM5 33h1v1h-1zM12 33h1v1h-1zM5 34h1v1h-1zM5 35h1v1h-1zM4 36h2v1h-2zM31 36h1v1h-1zM5 37h1v1h-1zM5 38h1v1h-1zM5 39h1v1h-1zM30 39h1v1h-1zM5 40h1v1h-1zM15 40h1v1h-1zM4 41h1v1h-1zM4 42h1v1h-1zM3 43h2v1h-2zM4 44h1v1h-1zM4 45h1v1h-1zM4 47h1v1h-1zM8 47h1v1h-1zM3 50h1v1h-1zM5 50h1v1h-1zM5 51h1v1h-1zM7 51h1v1h-1zM29 52h1v1h-1zM5 53h1v1h-1zM6 54h1v1h-1zM6 55h1v1h-1zM6 57h1v1h-1zM7 58h1v1h-1zM7 59h2v1h-2zM9 61h1v1h-1zM8 62h1v1h-1zM9 63h3v1h-3zM12 64h1v1h-1zM11 65h1v1h-1zM13 65h1v1h-1zM14 66h1v1h-1zM22 67h1v1h-1zM16 68h1v1h-1zM17 69h1v1h-1zM19 71h2v1h-2zM18 72h1v1h-1zM22 72h1v1h-1zM23 73h3v1h-3zM26 74h4v1h-4zM31 74h2v1h-2zM30 75h1v1h-1z"/><path fill="#afddd7" d="M15 9h1v1h-1zM9 20h1v1h-1zM13 20h1v1h-1zM11 29h1v1h-1zM12 32h1v1h-1zM7 37h1v1h-1zM21 38h1v1h-1zM20 40h1v1h-1zM10 50h1v1h-1zM16 55h1v1h-1zM7 56h1v1h-1zM21 58h1v1h-1zM24 62h2v1h-2zM29 69h2v1h-2zM25 72h1v1h-1z"/><path fill="#a1d3d4" d="M23 7h1v1h-1zM32 13h1v1h-1zM16 14h1v1h-1zM11 17h1v1h-1zM30 18h1v1h-1zM11 20h1v1h-1zM30 22h1v1h-1zM13 31h1v1h-1zM9 32h1v1h-1zM9 33h1v1h-1zM6 37h1v1h-1zM22 38h1v1h-1zM23 39h1v1h-1zM20 58h1v1h-1zM19 68h1v1h-1zM26 69h1v1h-1zM24 71h1v1h-1z"/><path fill="#90c8d1" d="M32 8h1v1h-1zM30 9h1v1h-1zM32 12h1v1h-1zM15 18h1v1h-1zM10 23h1v1h-1zM7 32h1v1h-1zM10 37h1v1h-1zM22 39h1v1h-1zM22 42h1v1h-1zM8 48h1v1h-1zM4 49h1v1h-1zM6 50h1v1h-1zM24 53h1v1h-1zM17 54h1v1h-1zM19 58h1v1h-1zM19 60h1v1h-1zM26 62h1v1h-1z"/><path fill="#81bfcf" d="M27 9h1v1h-1zM14 16h1v1h-1zM26 32h1v1h-1zM25 36h1v1h-1zM23 38h1v1h-1zM21 50h1v1h-1zM28 65h1v1h-1zM24 72h1v1h-1z"/><path fill="#6eb4cd" d="M25 6h1v1h-1zM25 8h1v1h-1zM26 9h1v1h-1zM32 10h1v1h-1zM16 13h1v1h-1zM31 13h1v1h-1zM21 14h1v1h-1zM14 17h1v1h-1zM26 30h1v1h-1zM7 33h1v1h-1zM19 38h1v1h-1zM10 40h2v1h-2zM31 40h1v1h-1zM10 49h1v1h-1zM16 50h1v1h-1zM24 50h1v1h-1zM21 57h1v1h-1zM13 64h1v1h-1zM29 66h1v1h-1zM25 68h1v1h-1zM20 69h1v1h-1z"/><path fill="#60abcd" d="M26 6h1v1h-1zM25 7h1v1h-1zM32 9h1v1h-1zM31 12h1v1h-1zM13 14h1v1h-1zM21 21h1v1h-1zM9 23h1v1h-1zM20 25h1v1h-1zM20 26h1v1h-1zM8 31h1v1h-1zM11 32h1v1h-1zM13 32h1v1h-1zM7 34h1v1h-1zM8 35h1v1h-1zM24 35h1v1h-1zM15 37h1v1h-1zM17 40h1v1h-1zM30 55h1v1h-1zM14 60h1v1h-1zM23 64h1v1h-1zM29 64h1v1h-1zM28 71h1v1h-1z"/><path fill="#50a0cd" d="M24 9h1v1h-1zM31 14h1v1h-1zM11 18h1v1h-1zM25 21h1v1h-1zM31 30h1v1h-1zM10 32h1v1h-1zM9 34h1v1h-1zM6 35h2v1h-2zM11 41h1v1h-1zM23 43h1v1h-1zM24 52h1v1h-1zM16 53h1v1h-1zM18 53h1v1h-1zM19 59h1v1h-1zM29 62h1v1h-1zM23 68h1v1h-1zM28 68h1v1h-1zM27 72h1v1h-1z"/><path fill="#4596ce" d="M30 11h1v1h-1zM15 12h1v1h-1zM30 12h1v1h-1zM20 19h1v1h-1zM12 22h1v1h-1zM11 30h1v1h-1zM10 31h3v1h-3zM6 32h1v1h-1zM22 33h1v1h-1zM31 35h1v1h-1zM6 36h1v1h-1zM12 41h1v1h-1zM5 49h1v1h-1zM9 50h1v1h-1zM15 56h1v1h-1zM12 58h1v1h-1zM12 62h1v1h-1z"/><path fill="#3a89cf" d="M14 11h1v1h-1zM11 21h1v1h-1zM15 26h1v1h-1zM22 44h1v1h-1zM10 45h1v1h-1zM4 48h1v1h-1zM18 54h1v1h-1zM23 54h1v1h-1zM28 56h1v1h-1zM21 68h1v1h-1zM18 70h1v1h-1zM28 73h1v1h-1z"/><path fill="#377fd0" d="M30 10h1v1h-1zM13 16h1v1h-1zM27 16h1v1h-1zM29 22h1v1h-1zM22 23h1v1h-1zM25 39h1v1h-1zM10 43h1v1h-1zM7 49h1v1h-1zM18 55h1v1h-1zM13 58h1v1h-1zM13 61h1v1h-1zM16 66h1v1h-1zM19 70h1v1h-1zM26 73h1v1h-1z"/><path fill="#3a73ce" d="M25 10h1v1h-1zM26 12h1v1h-1zM13 13h1v1h-1zM12 17h1v1h-1zM14 18h1v1h-1zM12 19h1v1h-1zM21 22h1v1h-1zM20 59h1v1h-1zM20 60h1v1h-1zM23 61h1v1h-1zM30 63h1v1h-1zM15 67h1v1h-1zM24 68h1v1h-1zM29 73h1v1h-1z"/><path fill="#4265c5" d="M26 8h1v1h-1zM31 8h1v1h-1zM13 12h1v1h-1zM12 15h1v1h-1zM12 16h1v1h-1zM13 17h1v1h-1zM15 17h1v1h-1zM29 19h1v1h-1zM30 21h1v1h-1zM9 29h1v1h-1zM8 32h1v1h-1zM16 40h1v1h-1zM18 48h1v1h-1zM19 52h1v1h-1zM21 53h1v1h-1zM22 54h1v1h-1zM22 55h1v1h-1zM16 56h1v1h-1zM20 57h1v1h-1zM23 60h1v1h-1zM25 63h1v1h-1zM25 67h1v1h-1zM27 67h1v1h-1zM24 70h1v1h-1zM30 72h1v1h-1z"/><path fill="#475ab9" d="M24 7h1v1h-1zM30 7h1v1h-1zM22 9h1v1h-1zM32 11h1v1h-1zM32 30h1v1h-1zM9 31h1v1h-1zM8 33h1v1h-1zM20 38h1v1h-1zM13 41h1v1h-1zM8 45h1v1h-1zM23 45h1v1h-1zM23 51h1v1h-1zM26 61h1v1h-1zM24 69h2v1h-2zM27 73h1v1h-1z"/><path fill="#4a4fa5" d="M30 8h1v1h-1zM17 11h1v1h-1zM23 16h1v1h-1zM13 19h1v1h-1zM20 21h1v1h-1zM13 22h1v1h-1zM7 26h1v1h-1zM16 27h1v1h-1zM26 31h1v1h-1zM31 34h1v1h-1zM17 35h1v1h-1zM22 36h1v1h-1zM24 39h1v1h-1zM26 43h1v1h-1zM4 46h1v1h-1zM24 47h1v1h-1zM8 50h1v1h-1zM14 51h1v1h-1zM23 55h1v1h-1zM25 56h1v1h-1zM27 65h1v1h-1z"/><path fill="#474792" d="M28 23h1v1h-1zM16 24h1v1h-1zM13 27h1v1h-1zM19 29h1v1h-1zM21 30h1v1h-1zM31 37h1v1h-1zM19 39h1v1h-1zM16 59h1v1h-1zM23 63h1v1h-1z"/><path fill="#42407b" d="M19 26h1v1h-1zM17 32h1v1h-1zM20 33h1v1h-1zM32 33h1v1h-1zM32 35h1v1h-1zM18 38h1v1h-1zM24 38h1v1h-1zM14 39h1v1h-1zM5 41h1v1h-1zM21 41h1v1h-1zM23 41h1v1h-1zM29 47h1v1h-1zM7 48h1v1h-1zM16 51h1v1h-1zM27 54h1v1h-1zM29 57h1v1h-1zM32 62h1v1h-1z"/><path fill="#3c3a69" d="M18 10h1v1h-1zM20 15h1v1h-1zM23 18h1v1h-1zM32 21h1v1h-1zM18 23h1v1h-1zM15 25h1v1h-1zM27 28h1v1h-1zM27 35h1v1h-1zM29 36h1v1h-1zM18 45h1v1h-1zM22 45h1v1h-1zM29 45h1v1h-1zM24 49h1v1h-1zM31 50h1v1h-1zM14 52h1v1h-1zM13 57h1v1h-1zM15 58h1v1h-1zM29 58h1v1h-1zM22 59h1v1h-1zM31 59h1v1h-1zM28 60h1v1h-1zM15 61h1v1h-1zM20 62h1v1h-1z"/><path fill="#343356" d="M23 9h1v1h-1zM19 16h1v1h-1zM16 18h1v1h-1zM18 18h1v1h-1zM21 18h1v1h-1zM27 18h1v1h-1zM12 20h1v1h-1zM13 24h1v1h-1zM18 26h1v1h-1zM14 27h1v1h-1zM27 29h1v1h-1zM19 30h1v1h-1zM30 30h1v1h-1zM21 35h1v1h-1zM20 37h1v1h-1zM26 37h1v1h-1zM25 38h1v1h-1zM30 41h1v1h-1zM5 42h1v1h-1zM7 42h1v1h-1zM18 42h1v1h-1zM25 43h1v1h-1zM11 44h1v1h-1zM6 45h1v1h-1zM27 45h1v1h-1zM28 48h1v1h-1zM19 51h1v1h-1zM25 52h1v1h-1zM15 54h1v1h-1zM31 54h1v1h-1zM24 55h1v1h-1zM17 56h1v1h-1zM29 56h1v1h-1zM23 65h1v1h-1z"/><path fill="#2e2d48" d="M30 6h1v1h-1zM17 10h1v1h-1zM23 15h1v1h-1zM30 16h2v1h-2zM25 18h1v1h-1zM16 19h1v1h-1zM21 19h1v1h-1zM27 19h1v1h-1zM10 20h1v1h-1zM26 20h1v1h-1zM27 21h1v1h-1zM26 23h1v1h-1zM14 24h1v1h-1zM21 24h1v1h-1zM22 25h1v1h-1zM24 25h1v1h-1zM8 26h1v1h-1zM23 26h1v1h-1zM23 27h1v1h-1zM27 27h1v1h-1zM31 27h1v1h-1zM21 29h1v1h-1zM24 29h1v1h-1zM18 30h1v1h-1zM28 31h1v1h-1zM19 33h1v1h-1zM30 33h1v1h-1zM30 34h1v1h-1zM14 35h1v1h-1zM14 40h1v1h-1zM6 42h1v1h-1zM19 43h1v1h-1zM16 44h1v1h-1zM29 44h1v1h-1zM32 45h1v1h-1zM14 46h1v1h-1zM18 46h1v1h-1zM28 46h1v1h-1zM12 47h1v1h-1zM15 47h1v1h-1zM18 47h1v1h-1zM25 48h1v1h-1zM17 49h1v1h-1zM12 51h1v1h-1zM26 51h1v1h-1zM17 53h1v1h-1zM14 54h1v1h-1zM21 54h1v1h-1zM28 54h1v1h-1zM18 57h1v1h-1zM26 57h1v1h-1zM18 59h1v1h-1zM21 59h1v1h-1zM20 61h1v1h-1zM24 61h1v1h-1zM19 64h1v1h-1zM22 65h1v1h-1zM30 73h1v1h-1z"/><path fill="#29283b" d="M31 7h1v1h-1zM23 12h1v1h-1zM23 13h1v1h-1zM19 14h1v1h-1zM30 14h1v1h-1zM18 16h1v1h-1zM17 17h1v1h-1zM20 17h1v1h-1zM25 17h1v1h-1zM29 20h1v1h-1zM22 21h1v1h-1zM16 22h1v1h-1zM24 22h1v1h-1zM11 23h1v1h-1zM29 25h1v1h-1zM20 27h1v1h-1zM26 27h1v1h-1zM20 28h2v1h-2zM16 29h1v1h-1zM26 29h1v1h-1zM28 29h1v1h-1zM17 31h1v1h-1zM25 31h1v1h-1zM22 32h1v1h-1zM19 34h1v1h-1zM21 34h1v1h-1zM12 35h1v1h-1zM20 35h1v1h-1zM29 37h1v1h-1zM12 38h1v1h-1zM16 38h1v1h-1zM16 39h1v1h-1zM26 39h1v1h-1zM32 39h1v1h-1zM25 40h2v1h-2zM17 41h1v1h-1zM25 41h1v1h-1zM28 41h1v1h-1zM29 43h1v1h-1zM21 44h1v1h-1zM31 44h1v1h-1zM31 46h1v1h-1zM14 47h1v1h-1zM13 48h1v1h-1zM24 48h1v1h-1zM27 49h1v1h-1zM32 49h1v1h-1zM28 50h1v1h-1zM31 52h1v1h-1zM14 53h1v1h-1zM25 53h1v1h-1zM27 53h1v1h-1zM13 54h1v1h-1zM29 54h2v1h-2zM13 55h1v1h-1zM29 55h1v1h-1zM8 56h1v1h-1zM8 57h1v1h-1zM22 57h1v1h-1zM31 58h1v1h-1zM24 60h1v1h-1zM29 60h1v1h-1zM24 63h1v1h-1zM20 64h1v1h-1zM22 64h1v1h-1zM28 64h1v1h-1zM31 65h1v1h-1zM17 67h1v1h-1zM32 70h1v1h-1zM28 72h1v1h-1z"/><path fill="#24232e" d="M19 9h1v1h-1zM25 12h1v1h-1zM17 14h1v1h-1zM22 15h1v1h-1zM26 15h1v1h-1zM16 17h1v1h-1zM18 17h1v1h-1zM22 17h1v1h-1zM27 17h1v1h-1zM24 18h1v1h-1zM17 20h1v1h-1zM22 20h1v1h-1zM28 21h1v1h-1zM8 22h1v1h-1zM26 25h1v1h-1zM19 27h1v1h-1zM28 27h1v1h-1zM23 30h1v1h-1zM14 31h1v1h-1zM23 31h1v1h-1zM28 32h1v1h-1zM15 33h1v1h-1zM27 33h1v1h-1zM25 34h1v1h-1zM13 36h1v1h-1zM18 37h1v1h-1zM21 37h1v1h-1zM23 40h1v1h-1zM24 41h1v1h-1zM9 42h1v1h-1zM20 42h1v1h-1zM11 43h1v1h-1zM10 44h1v1h-1zM20 44h1v1h-1zM19 45h2v1h-2zM13 46h1v1h-1zM23 47h1v1h-1zM22 48h1v1h-1zM9 49h1v1h-1zM15 49h1v1h-1zM18 49h1v1h-1zM21 49h1v1h-1zM28 49h1v1h-1zM7 50h1v1h-1zM25 50h1v1h-1zM29 50h1v1h-1zM27 51h1v1h-1zM20 52h2v1h-2zM13 53h1v1h-1zM11 54h2v1h-2zM24 54h1v1h-1zM17 55h1v1h-1zM24 56h1v1h-1zM9 57h1v1h-1zM17 57h1v1h-1zM24 57h1v1h-1zM32 57h1v1h-1zM11 58h1v1h-1zM26 58h1v1h-1zM30 58h1v1h-1zM12 59h1v1h-1zM26 59h1v1h-1zM17 60h1v1h-1zM23 62h1v1h-1zM20 63h2v1h-2zM32 63h1v1h-1zM18 65h1v1h-1zM25 65h1v1h-1zM22 68h1v1h-1zM20 70h1v1h-1zM27 71h1v1h-1z"/><path fill="#212026" d="M28 6h1v1h-1zM20 7h1v1h-1zM23 10h1v1h-1zM31 11h1v1h-1zM29 12h1v1h-1zM22 14h1v1h-1zM24 14h1v1h-1zM21 15h1v1h-1zM10 17h1v1h-1zM20 18h1v1h-1zM28 20h1v1h-1zM8 21h1v1h-1zM23 22h1v1h-1zM25 22h1v1h-1zM16 23h1v1h-1zM21 23h1v1h-1zM6 24h1v1h-1zM19 24h1v1h-1zM24 24h1v1h-1zM32 25h1v1h-1zM29 26h1v1h-1zM17 27h1v1h-1zM17 28h1v1h-1zM14 29h1v1h-1zM20 29h1v1h-1zM22 29h2v1h-2zM30 29h1v1h-1zM21 31h1v1h-1zM24 31h1v1h-1zM16 32h1v1h-1zM18 32h1v1h-1zM21 33h1v1h-1zM29 33h1v1h-1zM12 34h2v1h-2zM16 35h1v1h-1zM26 35h1v1h-1zM28 35h1v1h-1zM14 38h1v1h-1zM29 38h1v1h-1zM8 39h1v1h-1zM13 39h1v1h-1zM18 39h1v1h-1zM21 39h1v1h-1zM28 39h2v1h-2zM14 42h1v1h-1zM24 42h1v1h-1zM5 43h2v1h-2zM17 43h1v1h-1zM30 43h2v1h-2zM12 44h1v1h-1zM19 44h1v1h-1zM25 44h1v1h-1zM28 44h1v1h-1zM30 44h1v1h-1zM15 45h1v1h-1zM30 45h2v1h-2zM17 46h1v1h-1zM19 46h1v1h-1zM25 46h1v1h-1zM32 46h1v1h-1zM20 47h1v1h-1zM22 47h1v1h-1zM25 47h1v1h-1zM30 47h3v1h-3zM16 48h1v1h-1zM20 48h2v1h-2zM19 49h1v1h-1zM31 51h1v1h-1zM10 52h1v1h-1zM12 52h1v1h-1zM11 53h1v1h-1zM22 56h1v1h-1zM19 57h1v1h-1zM8 58h1v1h-1zM21 60h1v1h-1zM27 61h1v1h-1zM30 61h1v1h-1zM14 62h1v1h-1zM31 62h1v1h-1zM30 64h1v1h-1zM21 65h1v1h-1zM20 66h1v1h-1zM26 67h1v1h-1zM29 71h1v1h-1zM32 71h1v1h-1zM31 73h1v1h-1zM30 74h1v1h-1z"/><path fill="#1f1e20" d="M22 7h1v1h-1zM22 8h1v1h-1zM20 9h1v1h-1zM27 10h1v1h-1zM29 10h1v1h-1zM15 11h1v1h-1zM24 11h1v1h-1zM17 12h1v1h-1zM27 12h1v1h-1zM19 13h1v1h-1zM26 13h1v1h-1zM19 15h1v1h-1zM21 17h1v1h-1zM26 18h1v1h-1zM9 19h1v1h-1zM17 19h1v1h-1zM32 19h1v1h-1zM23 20h1v1h-1zM13 21h1v1h-1zM23 21h1v1h-1zM29 21h1v1h-1zM9 22h1v1h-1zM27 22h1v1h-1zM13 23h1v1h-1zM29 23h1v1h-1zM7 24h1v1h-1zM9 24h1v1h-1zM18 24h1v1h-1zM12 25h1v1h-1zM14 26h1v1h-1zM25 26h1v1h-1zM9 27h1v1h-1zM8 28h1v1h-1zM12 28h1v1h-1zM16 28h1v1h-1zM15 29h1v1h-1zM32 29h1v1h-1zM16 30h1v1h-1zM20 30h1v1h-1zM29 30h1v1h-1zM31 31h1v1h-1zM19 32h2v1h-2zM25 32h1v1h-1zM23 33h1v1h-1zM19 35h1v1h-1zM23 35h1v1h-1zM25 35h1v1h-1zM15 36h1v1h-1zM28 36h1v1h-1zM13 37h2v1h-2zM25 37h1v1h-1zM10 39h1v1h-1zM12 39h1v1h-1zM19 40h1v1h-1zM20 41h1v1h-1zM22 41h1v1h-1zM26 41h1v1h-1zM31 41h1v1h-1zM12 42h1v1h-1zM17 42h1v1h-1zM26 42h1v1h-1zM11 45h2v1h-2zM17 45h1v1h-1zM6 48h1v1h-1zM12 48h1v1h-1zM27 48h1v1h-1zM11 49h1v1h-1zM22 50h1v1h-1zM27 50h1v1h-1zM10 51h1v1h-1zM15 51h1v1h-1zM17 51h2v1h-2zM23 52h1v1h-1zM12 53h1v1h-1zM15 53h1v1h-1zM10 54h1v1h-1zM19 54h1v1h-1zM9 55h1v1h-1zM11 55h1v1h-1zM31 55h1v1h-1zM14 56h1v1h-1zM18 56h1v1h-1zM31 56h1v1h-1zM31 57h1v1h-1zM32 58h1v1h-1zM15 59h1v1h-1zM15 60h1v1h-1zM11 61h1v1h-1zM18 61h1v1h-1zM22 61h1v1h-1zM28 63h2v1h-2zM31 63h1v1h-1zM26 66h1v1h-1zM31 66h1v1h-1zM18 67h1v1h-1zM18 69h1v1h-1zM30 71h1v1h-1z"/><path fill="#211e1e" d="M19 7h1v1h-1zM21 7h1v1h-1zM19 10h1v1h-1zM22 10h1v1h-1zM28 11h1v1h-1zM18 13h1v1h-1zM22 13h1v1h-1zM30 13h1v1h-1zM14 14h1v1h-1zM18 14h1v1h-1zM16 15h1v1h-1zM24 15h2v1h-2zM32 15h1v1h-1zM22 16h1v1h-1zM23 17h2v1h-2zM20 20h1v1h-1zM31 20h1v1h-1zM9 21h1v1h-1zM15 21h1v1h-1zM26 21h1v1h-1zM19 22h1v1h-1zM28 22h1v1h-1zM6 23h1v1h-1zM32 23h1v1h-1zM8 24h1v1h-1zM25 24h1v1h-1zM28 24h1v1h-1zM30 24h1v1h-1zM14 25h1v1h-1zM27 25h1v1h-1zM27 26h1v1h-1zM15 27h1v1h-1zM18 27h1v1h-1zM18 28h1v1h-1zM23 28h1v1h-1zM32 28h1v1h-1zM17 29h1v1h-1zM13 30h1v1h-1zM15 30h1v1h-1zM25 30h1v1h-1zM22 31h1v1h-1zM27 31h1v1h-1zM14 32h1v1h-1zM6 33h1v1h-1zM11 33h1v1h-1zM17 33h1v1h-1zM25 33h2v1h-2zM10 34h1v1h-1zM26 34h1v1h-1zM29 34h1v1h-1zM18 35h1v1h-1zM30 36h1v1h-1zM22 37h1v1h-1zM30 37h1v1h-1zM32 37h1v1h-1zM11 38h1v1h-1zM30 38h2v1h-2zM17 39h1v1h-1zM20 39h1v1h-1zM27 40h1v1h-1zM16 41h1v1h-1zM29 41h1v1h-1zM16 42h1v1h-1zM22 43h1v1h-1zM27 43h1v1h-1zM13 44h1v1h-1zM24 45h1v1h-1zM26 45h1v1h-1zM11 46h2v1h-2zM24 46h1v1h-1zM11 47h1v1h-1zM16 47h1v1h-1zM27 47h1v1h-1zM11 48h1v1h-1zM14 48h1v1h-1zM23 48h1v1h-1zM29 48h1v1h-1zM22 49h1v1h-1zM12 50h3v1h-3zM20 50h1v1h-1zM23 50h1v1h-1zM26 50h1v1h-1zM20 51h1v1h-1zM15 52h1v1h-1zM22 52h1v1h-1zM28 52h1v1h-1zM30 53h1v1h-1zM32 53h1v1h-1zM28 55h1v1h-1zM9 56h1v1h-1zM13 56h1v1h-1zM15 57h1v1h-1zM22 58h1v1h-1zM25 58h1v1h-1zM14 59h1v1h-1zM25 59h1v1h-1zM16 60h1v1h-1zM10 62h1v1h-1zM15 62h1v1h-1zM27 62h1v1h-1zM26 65h1v1h-1zM22 66h1v1h-1zM23 67h1v1h-1zM30 67h1v1h-1zM31 70h1v1h-1zM23 72h1v1h-1z"/><path fill="#291e20" d="M32 5h1v1h-1zM27 7h1v1h-1zM31 10h1v1h-1zM25 11h1v1h-1zM22 12h1v1h-1zM14 13h1v1h-1zM24 13h1v1h-1zM15 14h1v1h-1zM14 15h1v1h-1zM17 15h2v1h-2zM31 15h1v1h-1zM32 16h1v1h-1zM26 17h1v1h-1zM31 18h1v1h-1zM19 19h1v1h-1zM30 19h1v1h-1zM27 20h1v1h-1zM31 21h1v1h-1zM17 22h1v1h-1zM22 22h1v1h-1zM8 23h1v1h-1zM23 23h1v1h-1zM27 24h1v1h-1zM21 25h1v1h-1zM17 26h1v1h-1zM22 26h1v1h-1zM32 26h1v1h-1zM22 27h1v1h-1zM29 27h1v1h-1zM6 28h1v1h-1zM15 28h1v1h-1zM22 28h1v1h-1zM26 28h1v1h-1zM29 28h1v1h-1zM13 29h1v1h-1zM29 29h1v1h-1zM7 31h1v1h-1zM19 31h1v1h-1zM32 32h1v1h-1zM16 33h1v1h-1zM24 33h1v1h-1zM6 34h1v1h-1zM17 34h1v1h-1zM10 35h1v1h-1zM22 35h1v1h-1zM11 36h1v1h-1zM16 36h1v1h-1zM32 36h1v1h-1zM8 37h2v1h-2zM12 37h1v1h-1zM6 38h1v1h-1zM17 38h1v1h-1zM28 38h1v1h-1zM27 39h1v1h-1zM21 40h1v1h-1zM18 41h1v1h-1zM27 42h1v1h-1zM29 42h1v1h-1zM32 43h1v1h-1zM14 44h1v1h-1zM24 44h1v1h-1zM16 45h1v1h-1zM25 45h1v1h-1zM28 45h1v1h-1zM10 46h1v1h-1zM20 46h1v1h-1zM23 46h1v1h-1zM28 47h1v1h-1zM19 48h1v1h-1zM8 49h1v1h-1zM13 49h1v1h-1zM31 49h1v1h-1zM15 50h1v1h-1zM18 50h1v1h-1zM8 51h1v1h-1zM22 51h1v1h-1zM25 51h1v1h-1zM6 52h1v1h-1zM16 52h1v1h-1zM16 54h1v1h-1zM27 55h1v1h-1zM16 57h1v1h-1zM27 57h1v1h-1zM18 58h1v1h-1zM23 58h1v1h-1zM9 59h1v1h-1zM32 59h1v1h-1zM12 60h1v1h-1zM18 60h1v1h-1zM26 60h1v1h-1zM28 61h1v1h-1zM11 62h1v1h-1zM21 62h1v1h-1zM18 63h1v1h-1zM31 64h1v1h-1zM19 66h1v1h-1zM29 67h1v1h-1zM22 69h1v1h-1zM25 71h1v1h-1zM31 71h1v1h-1z"/><path fill="#311f23" d="M26 7h1v1h-1zM18 8h1v1h-1zM21 9h1v1h-1zM14 12h1v1h-1zM20 12h1v1h-1zM28 12h1v1h-1zM15 15h1v1h-1zM29 15h1v1h-1zM13 18h1v1h-1zM19 18h1v1h-1zM18 19h1v1h-1zM23 19h1v1h-1zM25 20h1v1h-1zM12 21h1v1h-1zM17 21h1v1h-1zM20 22h1v1h-1zM26 22h1v1h-1zM31 22h1v1h-1zM7 23h1v1h-1zM12 23h1v1h-1zM15 23h1v1h-1zM11 24h1v1h-1zM29 24h1v1h-1zM32 24h1v1h-1zM13 25h1v1h-1zM18 25h1v1h-1zM28 25h1v1h-1zM9 26h1v1h-1zM16 26h1v1h-1zM11 27h1v1h-1zM32 27h1v1h-1zM14 28h1v1h-1zM31 28h1v1h-1zM17 30h1v1h-1zM27 30h1v1h-1zM16 31h1v1h-1zM32 31h1v1h-1zM15 32h1v1h-1zM23 32h1v1h-1zM27 32h1v1h-1zM14 33h1v1h-1zM16 34h1v1h-1zM24 34h1v1h-1zM27 34h2v1h-2zM11 35h1v1h-1zM30 35h1v1h-1zM20 36h1v1h-1zM26 36h1v1h-1zM16 37h2v1h-2zM7 38h1v1h-1zM15 38h1v1h-1zM27 38h1v1h-1zM22 40h1v1h-1zM14 41h1v1h-1zM11 42h1v1h-1zM19 42h1v1h-1zM32 42h1v1h-1zM8 43h2v1h-2zM12 43h1v1h-1zM28 43h1v1h-1zM15 44h1v1h-1zM17 44h1v1h-1zM26 44h1v1h-1zM32 44h1v1h-1zM21 45h1v1h-1zM15 46h2v1h-2zM27 46h1v1h-1zM17 48h1v1h-1zM32 48h1v1h-1zM23 49h1v1h-1zM19 50h1v1h-1zM28 51h2v1h-2zM9 52h1v1h-1zM32 52h1v1h-1zM7 53h1v1h-1zM25 54h1v1h-1zM32 54h1v1h-1zM12 55h1v1h-1zM14 55h2v1h-2zM21 55h1v1h-1zM32 56h1v1h-1zM30 57h1v1h-1zM24 59h1v1h-1zM22 60h1v1h-1zM30 60h1v1h-1zM14 61h1v1h-1zM17 61h1v1h-1zM28 62h1v1h-1zM24 64h1v1h-1zM32 64h1v1h-1zM17 65h1v1h-1zM19 65h1v1h-1zM24 65h1v1h-1zM15 66h1v1h-1zM17 66h1v1h-1zM25 66h1v1h-1zM17 68h1v1h-1zM20 68h1v1h-1zM29 70h1v1h-1z"/><path fill="#3d2228" d="M32 7h1v1h-1zM23 8h1v1h-1zM27 8h1v1h-1zM20 10h1v1h-1zM24 12h1v1h-1zM21 13h1v1h-1zM26 14h1v1h-1zM17 18h1v1h-1zM26 19h1v1h-1zM16 20h1v1h-1zM19 20h1v1h-1zM16 21h1v1h-1zM10 22h2v1h-2zM32 22h1v1h-1zM17 23h1v1h-1zM24 23h1v1h-1zM17 25h1v1h-1zM19 25h1v1h-1zM12 26h1v1h-1zM8 27h1v1h-1zM21 27h1v1h-1zM24 27h1v1h-1zM10 28h1v1h-1zM13 28h1v1h-1zM19 28h1v1h-1zM30 28h1v1h-1zM12 29h1v1h-1zM18 29h1v1h-1zM7 30h1v1h-1zM12 30h1v1h-1zM28 30h1v1h-1zM18 31h1v1h-1zM20 31h1v1h-1zM21 32h1v1h-1zM13 33h1v1h-1zM14 34h2v1h-2zM32 34h1v1h-1zM12 36h1v1h-1zM13 38h1v1h-1zM31 39h1v1h-1zM27 41h1v1h-1zM8 42h1v1h-1zM23 42h1v1h-1zM9 44h1v1h-1zM27 44h1v1h-1zM26 46h1v1h-1zM13 47h1v1h-1zM21 47h1v1h-1zM9 48h2v1h-2zM14 49h1v1h-1zM16 49h1v1h-1zM17 50h1v1h-1zM30 50h1v1h-1zM30 51h1v1h-1zM32 51h1v1h-1zM17 52h1v1h-1zM26 52h1v1h-1zM29 53h1v1h-1zM10 56h1v1h-1zM12 56h1v1h-1zM30 56h1v1h-1zM28 57h1v1h-1zM16 58h1v1h-1zM30 59h1v1h-1zM8 60h1v1h-1zM17 62h2v1h-2zM22 62h1v1h-1zM22 63h1v1h-1zM27 63h1v1h-1zM27 66h1v1h-1zM19 67h1v1h-1zM32 67h1v1h-1zM26 68h1v1h-1zM23 69h1v1h-1zM22 71h1v1h-1zM29 72h1v1h-1zM32 72h1v1h-1z"/><path fill="#48242c" d="M24 6h1v1h-1zM17 9h1v1h-1zM19 11h2v1h-2zM22 11h1v1h-1zM15 13h1v1h-1zM20 13h1v1h-1zM26 16h1v1h-1zM31 17h2v1h-2zM22 18h1v1h-1zM14 19h1v1h-1zM18 21h1v1h-1zM19 23h2v1h-2zM30 23h1v1h-1zM22 24h1v1h-1zM25 25h1v1h-1zM26 26h1v1h-1zM24 28h1v1h-1zM28 28h1v1h-1zM14 30h1v1h-1zM22 30h1v1h-1zM10 33h1v1h-1zM7 36h1v1h-1zM19 36h1v1h-1zM21 36h1v1h-1zM23 37h1v1h-1zM7 39h1v1h-1zM9 39h1v1h-1zM8 40h1v1h-1zM12 40h1v1h-1zM28 40h1v1h-1zM13 42h1v1h-1zM21 42h1v1h-1zM28 42h1v1h-1zM30 42h2v1h-2zM13 43h1v1h-1zM15 43h1v1h-1zM18 44h1v1h-1zM23 44h1v1h-1zM13 45h1v1h-1zM30 46h1v1h-1zM9 47h1v1h-1zM26 47h1v1h-1zM30 48h2v1h-2zM20 49h1v1h-1zM26 49h1v1h-1zM29 49h2v1h-2zM32 50h1v1h-1zM21 51h1v1h-1zM18 52h1v1h-1zM27 52h1v1h-1zM30 52h1v1h-1zM20 53h1v1h-1zM10 55h1v1h-1zM32 55h1v1h-1zM11 56h1v1h-1zM13 59h1v1h-1zM17 59h1v1h-1zM11 60h1v1h-1zM31 60h2v1h-2zM16 61h1v1h-1zM25 61h1v1h-1zM21 64h1v1h-1zM25 64h1v1h-1zM27 64h1v1h-1zM19 69h1v1h-1zM22 70h1v1h-1zM23 71h1v1h-1z"/><path fill="#542732" d="M29 6h1v1h-1zM28 8h1v1h-1zM31 9h1v1h-1zM21 10h1v1h-1zM21 11h1v1h-1zM23 11h1v1h-1zM21 16h1v1h-1zM19 17h1v1h-1zM15 19h1v1h-1zM31 19h1v1h-1zM15 20h1v1h-1zM32 20h1v1h-1zM10 24h1v1h-1zM11 28h1v1h-1zM25 28h1v1h-1zM31 29h1v1h-1zM9 30h1v1h-1zM18 33h1v1h-1zM9 35h1v1h-1zM13 35h1v1h-1zM15 35h1v1h-1zM10 36h1v1h-1zM18 40h1v1h-1zM29 40h1v1h-1zM10 42h1v1h-1zM25 42h1v1h-1zM16 43h1v1h-1zM5 44h1v1h-1zM17 47h1v1h-1zM19 47h1v1h-1zM15 48h1v1h-1zM26 48h1v1h-1zM6 49h1v1h-1zM5 52h1v1h-1zM7 52h1v1h-1zM27 56h1v1h-1zM25 60h1v1h-1zM29 61h1v1h-1zM13 63h1v1h-1zM23 66h2v1h-2zM30 70h1v1h-1zM32 73h1v1h-1z"/><path fill="#642a38" d="M27 6h1v1h-1zM18 9h1v1h-1zM16 10h1v1h-1zM24 10h1v1h-1zM15 16h3v1h-3zM20 16h1v1h-1zM25 16h1v1h-1zM19 21h1v1h-1zM15 22h1v1h-1zM18 22h1v1h-1zM27 23h1v1h-1zM20 24h1v1h-1zM10 25h1v1h-1zM16 25h1v1h-1zM25 27h1v1h-1zM8 29h1v1h-1zM10 30h1v1h-1zM24 30h1v1h-1zM28 33h1v1h-1zM18 34h1v1h-1zM17 36h1v1h-1zM19 37h1v1h-1zM32 38h1v1h-1zM15 39h1v1h-1zM13 40h1v1h-1zM15 41h1v1h-1zM21 43h1v1h-1zM6 44h1v1h-1zM12 49h1v1h-1zM11 51h1v1h-1zM23 53h1v1h-1zM7 57h1v1h-1zM10 57h1v1h-1zM19 61h1v1h-1zM21 61h1v1h-1zM31 61h1v1h-1zM29 65h2v1h-2zM21 66h1v1h-1zM20 67h1v1h-1zM24 67h1v1h-1z"/><path fill="#722c3d" d="M31 6h2v1h-2zM10 21h1v1h-1zM15 24h1v1h-1zM13 26h1v1h-1zM21 26h1v1h-1zM8 30h1v1h-1zM7 43h1v1h-1zM14 43h1v1h-1zM25 49h1v1h-1zM11 50h1v1h-1zM13 52h1v1h-1zM14 57h1v1h-1zM9 58h1v1h-1zM14 58h1v1h-1zM20 65h1v1h-1zM31 67h1v1h-1z"/><path fill="#842d42" d="M18 12h1v1h-1zM20 14h1v1h-1zM24 16h1v1h-1zM18 20h1v1h-1zM14 22h1v1h-1zM11 25h1v1h-1zM28 26h1v1h-1zM6 31h1v1h-1zM8 36h1v1h-1zM11 39h1v1h-1zM24 40h1v1h-1zM30 40h1v1h-1zM9 41h1v1h-1zM8 52h1v1h-1zM30 62h1v1h-1zM18 68h1v1h-1zM31 72h1v1h-1z"/><path fill="#932e44" d="M25 9h1v1h-1zM28 9h1v1h-1zM18 11h1v1h-1zM25 14h1v1h-1zM14 21h1v1h-1zM26 24h1v1h-1zM23 25h1v1h-1zM29 31h1v1h-1zM30 32h1v1h-1zM14 36h1v1h-1zM18 36h1v1h-1zM6 40h1v1h-1zM24 43h1v1h-1zM10 47h1v1h-1zM9 51h1v1h-1zM13 51h1v1h-1zM6 53h1v1h-1zM26 53h1v1h-1zM19 55h2v1h-2zM23 56h1v1h-1zM28 59h1v1h-1zM12 61h1v1h-1zM19 62h1v1h-1zM12 63h1v1h-1zM32 69h1v1h-1zM23 70h1v1h-1zM21 71h1v1h-1z"/><path fill="#a52f44" d="M20 8h1v1h-1zM17 13h1v1h-1zM28 19h1v1h-1zM14 23h1v1h-1zM23 24h1v1h-1zM7 27h1v1h-1zM30 31h1v1h-1zM9 40h1v1h-1zM32 40h1v1h-1zM31 53h1v1h-1zM26 56h1v1h-1zM18 64h1v1h-1zM25 70h1v1h-1z"/><path fill="#b33341" d="M27 14h1v1h-1zM7 25h1v1h-1zM29 32h1v1h-1zM19 41h1v1h-1zM8 44h1v1h-1zM9 46h1v1h-1zM25 55h1v1h-1zM17 58h1v1h-1zM28 58h1v1h-1zM13 62h1v1h-1zM14 63h1v1h-1zM21 70h1v1h-1z"/><path fill="#c33a3c" d="M29 16h1v1h-1zM22 19h1v1h-1zM25 19h1v1h-1zM24 20h1v1h-1zM9 25h1v1h-1zM11 26h1v1h-1zM10 38h1v1h-1zM29 46h1v1h-1zM23 59h1v1h-1zM9 60h2v1h-2z"/><path fill="#ce4338" d="M10 18h1v1h-1zM10 41h1v1h-1zM5 47h1v1h-1zM8 53h1v1h-1zM22 53h1v1h-1zM20 54h1v1h-1zM15 65h1v1h-1zM16 67h1v1h-1zM21 67h1v1h-1zM28 70h1v1h-1z"/><path fill="#d74e35" d="M25 13h1v1h-1zM28 16h1v1h-1zM11 19h1v1h-1zM10 27h1v1h-1zM30 27h1v1h-1zM21 46h1v1h-1zM28 53h1v1h-1zM32 65h1v1h-1zM27 69h1v1h-1z"/><path fill="#e15c33" d="M16 11h1v1h-1zM27 15h1v1h-1zM8 25h1v1h-1zM10 26h1v1h-1zM24 26h1v1h-1zM8 34h1v1h-1zM6 39h1v1h-1zM8 54h1v1h-1zM24 58h1v1h-1zM27 59h1v1h-1zM13 60h1v1h-1zM29 68h1v1h-1z"/><path fill="#e76a34" d="M19 8h1v1h-1zM21 8h1v1h-1zM15 10h1v1h-1zM14 20h1v1h-1zM25 23h1v1h-1zM12 24h1v1h-1zM30 26h1v1h-1zM12 27h1v1h-1zM31 33h1v1h-1zM11 34h1v1h-1zM22 34h1v1h-1zM9 36h1v1h-1zM28 37h1v1h-1zM9 38h1v1h-1zM6 46h1v1h-1zM7 47h1v1h-1zM19 53h1v1h-1zM25 57h1v1h-1zM27 60h1v1h-1zM16 63h1v1h-1zM28 66h1v1h-1z"/><path fill="#ed7b3e" d="M11 15h1v1h-1zM32 18h1v1h-1zM7 29h1v1h-1zM15 31h1v1h-1zM20 34h1v1h-1zM24 37h1v1h-1zM8 41h1v1h-1zM11 52h1v1h-1zM7 54h1v1h-1zM26 55h1v1h-1zM11 59h1v1h-1zM16 62h1v1h-1zM15 63h1v1h-1zM14 64h1v1h-1zM16 64h1v1h-1zM30 68h1v1h-1zM27 70h1v1h-1z"/><path fill="#f0894b" d="M26 11h1v1h-1zM29 13h1v1h-1zM24 19h1v1h-1zM11 37h1v1h-1zM22 46h1v1h-1zM17 64h1v1h-1zM21 72h1v1h-1z"/><path fill="#f39a5f" d="M29 8h1v1h-1zM26 10h1v1h-1zM28 10h1v1h-1zM29 11h1v1h-1zM19 12h1v1h-1zM28 15h1v1h-1zM28 18h1v1h-1zM25 29h1v1h-1zM6 30h1v1h-1zM27 36h1v1h-1zM8 38h1v1h-1zM6 41h1v1h-1zM15 42h1v1h-1zM5 45h1v1h-1zM7 46h1v1h-1zM9 53h1v1h-1zM26 54h1v1h-1zM19 56h1v1h-1zM10 59h1v1h-1zM26 63h1v1h-1zM14 65h1v1h-1zM18 66h1v1h-1zM28 69h1v1h-1zM31 69h1v1h-1z"/><path fill="#f6a871" d="M24 8h1v1h-1zM12 14h1v1h-1zM23 14h1v1h-1zM11 16h1v1h-1zM29 17h1v1h-1zM31 23h1v1h-1zM17 24h1v1h-1zM31 24h1v1h-1zM7 28h1v1h-1zM31 32h1v1h-1zM23 34h1v1h-1zM7 40h1v1h-1zM32 41h1v1h-1zM7 44h1v1h-1zM8 46h1v1h-1zM6 51h1v1h-1zM24 51h1v1h-1zM10 53h1v1h-1zM9 54h1v1h-1zM7 55h1v1h-1zM11 57h2v1h-2zM23 57h1v1h-1zM29 59h1v1h-1zM32 61h1v1h-1zM17 63h1v1h-1zM32 66h1v1h-1zM31 68h1v1h-1zM21 69h1v1h-1z"/><path fill="#fab887" d="M29 7h1v1h-1zM29 9h1v1h-1zM21 12h1v1h-1zM27 13h1v1h-1zM29 14h1v1h-1zM29 18h1v1h-1zM10 19h1v1h-1zM21 20h1v1h-1zM30 25h1v1h-1zM31 26h1v1h-1zM6 29h1v1h-1zM10 29h1v1h-1zM24 32h1v1h-1zM24 36h1v1h-1zM27 37h1v1h-1zM18 43h1v1h-1zM7 45h1v1h-1zM9 45h1v1h-1zM5 46h1v1h-1zM6 47h1v1h-1zM5 48h1v1h-1zM20 56h2v1h-2zM27 58h1v1h-1zM10 61h1v1h-1zM15 64h1v1h-1zM26 64h1v1h-1zM16 65h1v1h-1zM28 67h1v1h-1zM27 68h1v1h-1zM26 71h1v1h-1z"/><path fill="#fcc69a" d="M28 7h1v1h-1zM27 11h1v1h-1zM16 12h1v1h-1zM28 13h1v1h-1zM28 14h1v1h-1zM30 15h1v1h-1zM28 17h1v1h-1zM24 21h1v1h-1zM31 25h1v1h-1zM9 28h1v1h-1zM29 35h1v1h-1zM23 36h1v1h-1zM26 38h1v1h-1zM7 41h1v1h-1zM20 43h1v1h-1zM14 45h1v1h-1zM10 58h1v1h-1zM30 66h1v1h-1zM26 72h1v1h-1z"/><path fill="#ffd4ac" d="M31 3h2v1h-2zM22 4h3v1h-3zM26 4h6v1h-6zM19 5h4v1h-4zM17 6h3v1h-3zM23 6h1v1h-1zM16 7h2v1h-2zM15 8h2v1h-2zM13 9h2v1h-2zM12 10h2v1h-2zM11 11h2v1h-2zM11 12h1v1h-1zM11 13h1v1h-1zM9 14h2v1h-2zM9 15h1v1h-1zM9 16h1v1h-1zM30 17h1v1h-1zM7 18h2v1h-2zM12 18h1v1h-1zM7 19h1v1h-1zM6 20h2v1h-2zM6 21h1v1h-1zM5 22h2v1h-2zM5 23h1v1h-1zM5 24h1v1h-1zM5 25h1v1h-1zM5 26h1v1h-1zM4 27h2v1h-2zM4 28h1v1h-1zM4 29h1v1h-1zM4 30h1v1h-1zM4 32h1v1h-1zM4 33h1v1h-1zM4 34h1v1h-1zM4 35h1v1h-1zM4 37h1v1h-1zM4 38h1v1h-1zM4 39h1v1h-1zM3 40h2v1h-2zM3 41h1v1h-1zM3 42h1v1h-1zM3 44h1v1h-1zM3 45h1v1h-1zM3 46h1v1h-1zM3 47h1v1h-1zM3 48h1v1h-1zM3 49h1v1h-1zM4 50h1v1h-1zM4 51h1v1h-1zM4 52h1v1h-1zM4 53h1v1h-1zM4 54h2v1h-2zM5 55h1v1h-1zM8 55h1v1h-1zM5 56h2v1h-2zM5 57h1v1h-1zM5 58h2v1h-2zM6 59h1v1h-1zM7 60h1v1h-1zM7 61h2v1h-2zM9 62h1v1h-1zM19 63h1v1h-1zM10 64h2v1h-2zM12 65h1v1h-1zM12 66h2v1h-2zM13 67h2v1h-2zM14 68h2v1h-2zM32 68h1v1h-1zM15 69h2v1h-2zM16 70h2v1h-2zM26 70h1v1h-1zM17 71h2v1h-2zM19 72h2v1h-2zM20 73h3v1h-3zM22 74h4v1h-4zM25 75h5v1h-5zM31 75h2v1h-2z"/></g><use href="#h01" x="35"/></g><rect x="217" y="569" width="57" height="75.8" fill="none" stroke="#ffff00" stroke-width="4.3"/><rect x="329" y="451.9" width="15.8" height="309.4" fill="url(#g0)"/><rect x="344.8" y="451.10" width="13.2" height="2.8" fill="#262626"/><text x="364.1" y="0" font-size="22" transform="translate(0,460.25) scale(1,1.045)">5%</text><rect x="344.8" y="528.45" width="13.2" height="2.8" fill="#262626"/><text x="364.1" y="0" font-size="22" transform="translate(0,537.60) scale(1,1.045)">2%</text><rect x="344.8" y="605.80" width="13.2" height="2.8" fill="#262626"/><text x="364.1" y="0" font-size="22" transform="translate(0,614.95) scale(1,1.045)">0%</text><rect x="344.8" y="683.15" width="13.2" height="2.8" fill="#262626"/><text x="364.1" y="0" font-size="22" transform="translate(0,692.30) scale(1,1.045)">-2%</text><rect x="344.8" y="760.50" width="13.2" height="2.8" fill="#262626"/><text x="364.1" y="0" font-size="22" transform="translate(0,769.65) scale(1,1.045)">-5%</text><text x="578.0" y="81.8" text-anchor="middle" font-size="25">DWI</text><rect x="445.5" y="106.5" width="265" height="303.7" fill="#1f1e1e" stroke="#0e0e0e" stroke-width="1"/><g transform="translate(445,106) scale(3.80000,3.80875)" shape-rendering="crispEdges"><g id="h10"><path fill="#4167c7" d="M22 4h1v1h-1zM25 4h1v1h-1zM19 5h1v1h-1zM25 5h1v1h-1zM30 5h1v1h-1zM31 6h1v1h-1zM31 7h1v1h-1zM17 8h2v1h-2zM15 9h1v1h-1zM13 10h1v1h-1zM16 10h1v1h-1zM26 10h1v1h-1zM14 11h1v1h-1zM12 12h2v1h-2zM9 17h2v1h-2zM30 17h1v1h-1zM9 20h1v1h-1zM7 21h1v1h-1zM9 22h1v1h-1zM6 23h1v1h-1zM11 25h1v1h-1zM7 27h1v1h-1zM6 28h1v1h-1zM5 29h1v1h-1zM5 31h1v1h-1zM6 32h1v1h-1zM5 35h1v1h-1zM27 37h1v1h-1zM5 40h1v1h-1zM12 40h1v1h-1zM4 44h1v1h-1zM16 44h1v1h-1zM22 44h1v1h-1zM4 45h1v1h-1zM9 45h1v1h-1zM16 45h1v1h-1zM26 47h1v1h-1zM5 51h2v1h-2zM13 52h1v1h-1zM6 55h2v1h-2zM20 58h1v1h-1zM27 62h1v1h-1zM14 65h1v1h-1zM15 66h1v1h-1zM25 67h1v1h-1zM16 69h1v1h-1zM21 72h1v1h-1zM21 73h1v1h-1zM26 74h3v1h-3zM28 75h1v1h-1z"/><path fill="#465ebe" d="M28 8h1v1h-1zM25 9h1v1h-1zM16 13h1v1h-1zM31 13h1v1h-1zM30 14h1v1h-1zM30 16h1v1h-1zM13 17h1v1h-1zM17 19h1v1h-1zM13 20h1v1h-1zM7 24h1v1h-1zM7 25h1v1h-1zM16 25h1v1h-1zM27 28h1v1h-1zM29 28h1v1h-1zM12 30h1v1h-1zM8 31h1v1h-1zM27 31h2v1h-2zM31 31h1v1h-1zM31 32h1v1h-1zM29 34h1v1h-1zM31 34h1v1h-1zM32 36h1v1h-1zM19 37h1v1h-1zM5 38h1v1h-1zM6 39h1v1h-1zM32 39h1v1h-1zM31 40h2v1h-2zM31 41h1v1h-1zM30 42h2v1h-2zM30 43h1v1h-1zM28 44h1v1h-1zM30 44h1v1h-1zM8 45h1v1h-1zM29 45h1v1h-1zM6 50h1v1h-1zM16 55h1v1h-1zM22 55h2v1h-2zM13 57h1v1h-1zM22 57h1v1h-1zM32 60h1v1h-1zM16 65h1v1h-1zM28 66h1v1h-1zM25 68h1v1h-1zM23 69h1v1h-1zM25 71h1v1h-1z"/><path fill="#4956b3" d="M25 6h1v1h-1zM31 9h1v1h-1zM21 10h1v1h-1zM31 10h1v1h-1zM17 13h1v1h-1zM14 16h1v1h-1zM12 17h1v1h-1zM13 19h1v1h-1zM29 21h1v1h-1zM29 22h1v1h-1zM23 23h1v1h-1zM28 24h1v1h-1zM19 27h1v1h-1zM16 29h1v1h-1zM9 31h1v1h-1zM15 32h1v1h-1zM18 35h1v1h-1zM20 44h1v1h-1zM23 45h1v1h-1zM17 49h1v1h-1zM5 50h1v1h-1zM23 50h1v1h-1zM24 51h1v1h-1zM13 60h1v1h-1zM14 62h1v1h-1zM12 63h1v1h-1zM27 63h1v1h-1zM15 67h1v1h-1zM24 67h1v1h-1zM23 70h1v1h-1z"/><path fill="#4a4fa5" d="M23 5h1v1h-1zM30 10h1v1h-1zM16 16h1v1h-1zM12 20h1v1h-1zM25 21h1v1h-1zM10 24h1v1h-1zM6 33h1v1h-1zM10 45h1v1h-1zM6 46h1v1h-1zM22 46h1v1h-1zM25 54h1v1h-1zM16 56h1v1h-1zM29 65h1v1h-1zM30 66h1v1h-1z"/><path fill="#484996" d="M28 22h1v1h-1zM21 35h1v1h-1z"/><path fill="#454386" d="M24 17h1v1h-1zM31 18h1v1h-1zM24 22h1v1h-1zM24 26h1v1h-1zM12 27h1v1h-1zM9 38h1v1h-1zM22 40h1v1h-1zM11 41h1v1h-1zM8 49h1v1h-1zM9 56h1v1h-1z"/><path fill="#413e77" d="M27 20h1v1h-1zM11 21h1v1h-1zM31 33h1v1h-1zM9 41h1v1h-1zM13 51h1v1h-1zM19 70h1v1h-1zM26 71h1v1h-1z"/><path fill="#3c3a69" d="M21 8h1v1h-1zM31 16h1v1h-1zM25 18h1v1h-1zM18 27h1v1h-1zM9 37h1v1h-1zM31 39h1v1h-1zM8 42h1v1h-1zM21 48h1v1h-1zM28 54h1v1h-1zM30 57h1v1h-1zM19 58h1v1h-1zM31 66h1v1h-1zM26 72h1v1h-1z"/><path fill="#37355c" d="M20 7h1v1h-1zM23 8h1v1h-1zM28 13h1v1h-1zM17 14h1v1h-1zM26 16h1v1h-1zM11 17h1v1h-1zM16 21h1v1h-1zM14 23h1v1h-1zM7 29h1v1h-1zM14 29h1v1h-1zM25 29h1v1h-1zM25 36h1v1h-1zM6 37h1v1h-1zM30 38h1v1h-1zM11 40h1v1h-1zM5 47h1v1h-1zM11 48h1v1h-1zM19 50h1v1h-1zM16 51h1v1h-1zM30 54h1v1h-1zM15 55h1v1h-1zM24 57h1v1h-1zM32 57h1v1h-1zM18 58h1v1h-1zM26 58h1v1h-1zM12 59h1v1h-1zM22 59h1v1h-1zM9 60h1v1h-1zM28 60h1v1h-1zM15 63h1v1h-1zM27 64h1v1h-1zM27 73h1v1h-1z"/><path fill="#323050" d="M28 6h1v1h-1zM21 14h1v1h-1zM26 19h1v1h-1zM15 20h1v1h-1zM24 21h1v1h-1zM20 23h1v1h-1zM12 24h2v1h-2zM26 24h1v1h-1zM27 25h1v1h-1zM30 25h1v1h-1zM27 26h1v1h-1zM8 30h1v1h-1zM20 30h1v1h-1zM19 33h1v1h-1zM23 35h1v1h-1zM11 38h1v1h-1zM14 39h1v1h-1zM19 39h1v1h-1zM25 41h1v1h-1zM28 41h1v1h-1zM32 45h1v1h-1zM25 48h1v1h-1zM19 51h1v1h-1zM17 52h1v1h-1zM18 53h1v1h-1zM12 54h1v1h-1zM7 56h1v1h-1zM21 56h1v1h-1zM29 57h1v1h-1zM11 60h1v1h-1zM30 60h1v1h-1zM17 62h1v1h-1zM30 62h1v1h-1zM18 68h1v1h-1z"/><path fill="#2d2c45" d="M19 9h1v1h-1zM15 10h1v1h-1zM21 12h1v1h-1zM20 15h1v1h-1zM14 17h1v1h-1zM16 17h1v1h-1zM30 18h1v1h-1zM16 19h1v1h-1zM13 21h1v1h-1zM22 21h1v1h-1zM12 22h1v1h-1zM32 25h1v1h-1zM9 26h1v1h-1zM29 27h1v1h-1zM6 29h1v1h-1zM13 30h1v1h-1zM23 31h1v1h-1zM10 33h1v1h-1zM22 33h1v1h-1zM19 34h1v1h-1zM11 35h1v1h-1zM26 36h1v1h-1zM12 39h1v1h-1zM15 40h2v1h-2zM26 43h1v1h-1zM18 44h1v1h-1zM27 47h1v1h-1zM31 48h1v1h-1zM17 51h1v1h-1zM8 52h1v1h-1zM23 52h1v1h-1zM24 53h1v1h-1zM18 56h1v1h-1zM20 57h1v1h-1zM32 59h1v1h-1zM29 61h1v1h-1zM30 71h1v1h-1zM31 72h1v1h-1z"/><path fill="#29283b" d="M17 9h1v1h-1zM20 9h1v1h-1zM18 12h1v1h-1zM32 12h1v1h-1zM15 13h1v1h-1zM19 13h1v1h-1zM18 15h1v1h-1zM28 15h1v1h-1zM25 16h1v1h-1zM22 17h1v1h-1zM22 18h1v1h-1zM31 19h1v1h-1zM11 20h1v1h-1zM20 24h2v1h-2zM29 24h1v1h-1zM19 25h1v1h-1zM29 25h1v1h-1zM26 27h1v1h-1zM24 32h1v1h-1zM18 33h1v1h-1zM32 33h1v1h-1zM13 34h1v1h-1zM23 34h1v1h-1zM18 36h1v1h-1zM8 37h1v1h-1zM26 39h1v1h-1zM20 40h1v1h-1zM15 41h1v1h-1zM30 41h1v1h-1zM16 42h1v1h-1zM29 46h1v1h-1zM32 47h1v1h-1zM20 50h1v1h-1zM7 52h1v1h-1zM16 52h1v1h-1zM21 52h1v1h-1zM5 53h1v1h-1zM13 53h1v1h-1zM26 54h1v1h-1zM15 56h1v1h-1zM23 58h1v1h-1zM30 58h1v1h-1zM13 59h1v1h-1zM17 59h1v1h-1zM12 60h1v1h-1zM14 60h1v1h-1zM10 61h1v1h-1zM15 61h1v1h-1zM30 61h1v1h-1zM13 62h1v1h-1zM26 64h1v1h-1zM26 65h1v1h-1zM29 66h1v1h-1zM24 69h1v1h-1z"/><path fill="#242430" d="M20 6h1v1h-1zM27 6h1v1h-1zM32 7h1v1h-1zM29 9h1v1h-1zM17 10h1v1h-1zM23 13h1v1h-1zM18 14h1v1h-1zM27 14h1v1h-1zM24 15h1v1h-1zM15 18h1v1h-1zM27 19h1v1h-1zM10 21h1v1h-1zM20 21h1v1h-1zM20 22h1v1h-1zM27 23h1v1h-1zM32 23h1v1h-1zM9 24h1v1h-1zM25 25h1v1h-1zM13 26h1v1h-1zM21 26h1v1h-1zM32 26h1v1h-1zM26 28h1v1h-1zM15 29h1v1h-1zM18 30h1v1h-1zM24 30h1v1h-1zM18 31h1v1h-1zM13 32h2v1h-2zM17 33h1v1h-1zM27 33h2v1h-2zM7 34h1v1h-1zM24 34h1v1h-1zM8 35h2v1h-2zM27 36h1v1h-1zM14 38h1v1h-1zM10 39h1v1h-1zM29 39h1v1h-1zM7 40h1v1h-1zM21 41h2v1h-2zM24 41h1v1h-1zM9 42h1v1h-1zM22 42h2v1h-2zM22 43h1v1h-1zM31 46h2v1h-2zM6 47h1v1h-1zM8 47h1v1h-1zM29 47h1v1h-1zM12 48h1v1h-1zM16 48h1v1h-1zM10 50h1v1h-1zM12 50h1v1h-1zM16 50h1v1h-1zM18 50h1v1h-1zM9 51h1v1h-1zM9 52h1v1h-1zM14 52h1v1h-1zM15 53h1v1h-1zM26 53h1v1h-1zM32 53h1v1h-1zM13 54h1v1h-1zM10 55h1v1h-1zM8 56h1v1h-1zM23 56h1v1h-1zM26 56h1v1h-1zM15 58h1v1h-1zM21 59h1v1h-1zM10 60h1v1h-1zM15 60h1v1h-1zM29 62h1v1h-1zM18 63h1v1h-1zM20 63h1v1h-1zM12 64h1v1h-1zM28 64h1v1h-1zM30 68h1v1h-1zM23 72h1v1h-1z"/><path fill="#222129" d="M19 8h1v1h-1zM22 8h1v1h-1zM27 8h1v1h-1zM31 8h1v1h-1zM18 9h1v1h-1zM19 10h1v1h-1zM32 10h1v1h-1zM27 12h1v1h-1zM14 13h1v1h-1zM26 13h1v1h-1zM30 13h1v1h-1zM10 15h1v1h-1zM31 15h1v1h-1zM27 16h1v1h-1zM21 17h1v1h-1zM10 18h1v1h-1zM19 18h1v1h-1zM14 20h1v1h-1zM20 20h1v1h-1zM32 20h1v1h-1zM17 21h1v1h-1zM13 22h1v1h-1zM18 22h1v1h-1zM25 22h1v1h-1zM8 23h1v1h-1zM24 23h1v1h-1zM8 26h1v1h-1zM10 27h1v1h-1zM15 27h1v1h-1zM21 27h1v1h-1zM25 27h1v1h-1zM30 28h1v1h-1zM10 29h1v1h-1zM14 30h1v1h-1zM19 30h1v1h-1zM22 30h1v1h-1zM26 30h1v1h-1zM22 31h1v1h-1zM16 35h1v1h-1zM32 35h1v1h-1zM12 36h1v1h-1zM19 36h1v1h-1zM10 37h1v1h-1zM15 37h1v1h-1zM7 41h1v1h-1zM20 41h1v1h-1zM27 41h1v1h-1zM6 42h1v1h-1zM21 42h1v1h-1zM26 42h1v1h-1zM25 44h1v1h-1zM15 45h1v1h-1zM18 45h1v1h-1zM30 45h2v1h-2zM7 46h1v1h-1zM11 47h1v1h-1zM30 47h1v1h-1zM17 48h3v1h-3zM28 48h1v1h-1zM21 49h1v1h-1zM5 52h1v1h-1zM18 52h1v1h-1zM22 54h1v1h-1zM21 55h1v1h-1zM29 55h1v1h-1zM20 56h1v1h-1zM8 57h1v1h-1zM23 57h1v1h-1zM26 57h1v1h-1zM30 59h1v1h-1zM19 60h1v1h-1zM12 61h1v1h-1zM25 61h1v1h-1zM32 61h1v1h-1zM26 62h1v1h-1zM32 62h1v1h-1zM20 64h1v1h-1zM32 66h1v1h-1zM18 67h1v1h-1zM26 67h1v1h-1zM30 67h1v1h-1zM22 69h1v1h-1zM21 70h1v1h-1zM24 70h1v1h-1zM30 70h1v1h-1zM32 71h1v1h-1zM32 73h1v1h-1z"/><path fill="#201f24" d="M28 10h2v1h-2zM24 11h1v1h-1zM16 12h1v1h-1zM30 12h1v1h-1zM24 13h1v1h-1zM20 14h1v1h-1zM29 14h1v1h-1zM21 15h1v1h-1zM24 16h1v1h-1zM23 17h1v1h-1zM32 18h1v1h-1zM23 19h1v1h-1zM28 19h1v1h-1zM28 20h1v1h-1zM28 21h1v1h-1zM29 23h1v1h-1zM18 24h1v1h-1zM24 25h1v1h-1zM28 25h1v1h-1zM11 27h1v1h-1zM20 27h1v1h-1zM23 28h1v1h-1zM9 29h1v1h-1zM23 29h1v1h-1zM26 29h1v1h-1zM32 29h1v1h-1zM10 30h1v1h-1zM6 31h1v1h-1zM13 31h1v1h-1zM26 31h1v1h-1zM17 32h1v1h-1zM21 32h1v1h-1zM11 33h1v1h-1zM9 34h1v1h-1zM11 34h1v1h-1zM18 34h1v1h-1zM6 35h1v1h-1zM13 35h1v1h-1zM21 36h1v1h-1zM25 37h1v1h-1zM8 38h1v1h-1zM18 38h1v1h-1zM25 38h1v1h-1zM8 40h1v1h-1zM25 40h1v1h-1zM29 40h1v1h-1zM18 41h1v1h-1zM10 42h1v1h-1zM20 42h1v1h-1zM24 42h1v1h-1zM14 43h1v1h-1zM18 43h1v1h-1zM9 44h1v1h-1zM32 44h1v1h-1zM11 45h1v1h-1zM24 45h2v1h-2zM9 46h1v1h-1zM9 48h1v1h-1zM6 49h1v1h-1zM11 49h1v1h-1zM17 50h1v1h-1zM25 51h1v1h-1zM8 53h1v1h-1zM19 53h1v1h-1zM25 53h1v1h-1zM10 54h1v1h-1zM17 54h1v1h-1zM24 54h1v1h-1zM31 54h1v1h-1zM14 55h1v1h-1zM18 55h1v1h-1zM32 55h1v1h-1zM13 56h1v1h-1zM28 56h1v1h-1zM30 56h1v1h-1zM17 58h1v1h-1zM29 60h1v1h-1zM11 61h1v1h-1zM24 61h1v1h-1zM28 61h1v1h-1zM15 62h1v1h-1zM17 63h1v1h-1zM21 63h1v1h-1zM23 63h1v1h-1zM25 63h1v1h-1zM22 64h2v1h-2zM19 65h1v1h-1zM27 70h1v1h-1zM23 71h1v1h-1zM25 73h1v1h-1z"/><path fill="#1f1e20" d="M29 5h1v1h-1zM30 9h1v1h-1zM14 10h1v1h-1zM19 12h1v1h-1zM20 13h1v1h-1zM16 14h1v1h-1zM12 18h1v1h-1zM21 18h1v1h-1zM30 20h1v1h-1zM12 21h1v1h-1zM15 21h1v1h-1zM21 21h1v1h-1zM10 22h1v1h-1zM19 22h1v1h-1zM27 22h1v1h-1zM22 23h1v1h-1zM17 24h1v1h-1zM8 25h1v1h-1zM20 26h1v1h-1zM29 26h1v1h-1zM14 27h1v1h-1zM8 28h1v1h-1zM19 28h1v1h-1zM32 28h1v1h-1zM22 29h1v1h-1zM16 30h1v1h-1zM21 31h1v1h-1zM20 32h1v1h-1zM25 32h1v1h-1zM27 32h1v1h-1zM12 33h2v1h-2zM12 35h1v1h-1zM14 35h1v1h-1zM10 36h1v1h-1zM16 37h1v1h-1zM32 37h1v1h-1zM20 38h1v1h-1zM23 38h1v1h-1zM32 38h1v1h-1zM7 39h3v1h-3zM12 41h1v1h-1zM14 42h1v1h-1zM32 42h1v1h-1zM5 43h1v1h-1zM23 43h1v1h-1zM11 44h1v1h-1zM17 44h1v1h-1zM25 46h1v1h-1zM15 47h1v1h-1zM25 47h1v1h-1zM31 47h1v1h-1zM5 48h1v1h-1zM27 48h1v1h-1zM31 49h1v1h-1zM25 50h1v1h-1zM10 51h1v1h-1zM22 51h1v1h-1zM26 52h1v1h-1zM6 53h2v1h-2zM20 53h1v1h-1zM27 53h1v1h-1zM7 54h1v1h-1zM26 55h1v1h-1zM31 55h1v1h-1zM10 57h1v1h-1zM27 57h1v1h-1zM10 58h1v1h-1zM9 59h1v1h-1zM29 59h1v1h-1zM26 61h1v1h-1zM29 63h1v1h-1zM26 66h1v1h-1zM22 67h1v1h-1zM19 68h1v1h-1zM28 69h1v1h-1zM23 73h1v1h-1z"/><path fill="#201e1e" d="M24 6h1v1h-1zM32 6h1v1h-1zM24 7h1v1h-1zM30 7h1v1h-1zM18 11h1v1h-1zM29 11h1v1h-1zM14 12h1v1h-1zM24 12h1v1h-1zM15 14h1v1h-1zM19 14h1v1h-1zM14 15h1v1h-1zM23 15h1v1h-1zM22 16h1v1h-1zM32 16h1v1h-1zM18 17h2v1h-2zM29 17h1v1h-1zM29 18h1v1h-1zM14 19h1v1h-1zM24 19h1v1h-1zM32 19h1v1h-1zM21 20h1v1h-1zM19 21h1v1h-1zM27 21h1v1h-1zM21 22h1v1h-1zM21 23h1v1h-1zM30 23h2v1h-2zM6 25h1v1h-1zM14 25h1v1h-1zM20 25h1v1h-1zM22 28h1v1h-1zM21 29h1v1h-1zM24 29h1v1h-1zM31 29h1v1h-1zM23 30h1v1h-1zM28 30h1v1h-1zM11 31h1v1h-1zM15 31h2v1h-2zM8 32h1v1h-1zM18 32h1v1h-1zM20 33h1v1h-1zM25 33h1v1h-1zM5 34h1v1h-1zM25 34h1v1h-1zM7 35h1v1h-1zM9 36h1v1h-1zM23 37h1v1h-1zM26 37h1v1h-1zM22 38h1v1h-1zM15 39h1v1h-1zM17 40h1v1h-1zM24 40h1v1h-1zM27 40h1v1h-1zM10 41h1v1h-1zM16 41h2v1h-2zM10 43h1v1h-1zM31 43h1v1h-1zM12 44h1v1h-1zM24 44h1v1h-1zM27 44h1v1h-1zM6 45h1v1h-1zM20 45h1v1h-1zM22 45h1v1h-1zM5 46h1v1h-1zM16 47h1v1h-1zM23 47h1v1h-1zM13 49h1v1h-1zM22 49h2v1h-2zM9 50h1v1h-1zM21 50h1v1h-1zM12 51h1v1h-1zM21 51h1v1h-1zM26 51h1v1h-1zM31 51h1v1h-1zM25 52h1v1h-1zM16 53h1v1h-1zM23 53h1v1h-1zM6 54h1v1h-1zM14 54h1v1h-1zM12 55h1v1h-1zM24 55h2v1h-2zM31 56h1v1h-1zM16 57h1v1h-1zM12 58h1v1h-1zM28 58h2v1h-2zM18 59h1v1h-1zM27 60h1v1h-1zM31 60h1v1h-1zM18 61h3v1h-3zM27 61h1v1h-1zM19 62h1v1h-1zM21 62h1v1h-1zM31 64h1v1h-1zM27 65h1v1h-1zM20 66h1v1h-1zM17 67h1v1h-1zM20 67h1v1h-1zM32 67h1v1h-1zM22 68h1v1h-1zM27 68h1v1h-1zM29 71h1v1h-1zM30 72h1v1h-1z"/><path fill="#251e1f" d="M25 7h1v1h-1zM22 9h1v1h-1zM27 9h1v1h-1zM23 10h1v1h-1zM16 11h2v1h-2zM25 11h1v1h-1zM17 12h1v1h-1zM20 12h1v1h-1zM29 13h1v1h-1zM23 14h1v1h-1zM25 14h2v1h-2zM31 14h1v1h-1zM15 15h2v1h-2zM27 15h1v1h-1zM17 16h1v1h-1zM19 16h1v1h-1zM15 17h1v1h-1zM27 17h2v1h-2zM31 17h1v1h-1zM13 18h1v1h-1zM18 18h1v1h-1zM20 18h1v1h-1zM24 18h1v1h-1zM11 19h1v1h-1zM25 19h1v1h-1zM31 20h1v1h-1zM31 21h1v1h-1zM30 22h2v1h-2zM24 24h1v1h-1zM17 25h1v1h-1zM16 26h1v1h-1zM19 26h1v1h-1zM13 27h1v1h-1zM16 28h1v1h-1zM27 29h2v1h-2zM21 30h1v1h-1zM27 30h1v1h-1zM24 31h1v1h-1zM29 31h1v1h-1zM12 32h1v1h-1zM16 32h1v1h-1zM26 32h1v1h-1zM21 33h1v1h-1zM17 34h1v1h-1zM30 34h1v1h-1zM26 35h2v1h-2zM5 36h1v1h-1zM11 36h1v1h-1zM15 36h1v1h-1zM20 36h1v1h-1zM7 37h1v1h-1zM20 37h1v1h-1zM24 37h1v1h-1zM28 37h1v1h-1zM15 38h1v1h-1zM17 38h1v1h-1zM29 38h1v1h-1zM23 39h2v1h-2zM18 40h2v1h-2zM28 40h1v1h-1zM19 41h1v1h-1zM11 42h1v1h-1zM15 42h1v1h-1zM32 43h1v1h-1zM8 44h1v1h-1zM17 45h1v1h-1zM17 47h1v1h-1zM7 48h1v1h-1zM23 48h1v1h-1zM5 49h1v1h-1zM7 49h1v1h-1zM19 49h1v1h-1zM7 51h1v1h-1zM11 51h1v1h-1zM20 51h1v1h-1zM24 52h1v1h-1zM29 52h1v1h-1zM21 53h1v1h-1zM16 54h1v1h-1zM11 55h1v1h-1zM17 55h1v1h-1zM22 56h1v1h-1zM15 57h1v1h-1zM17 57h1v1h-1zM14 59h1v1h-1zM20 59h1v1h-1zM17 60h1v1h-1zM21 60h1v1h-1zM17 61h1v1h-1zM23 61h1v1h-1zM12 62h1v1h-1zM23 62h1v1h-1zM24 63h1v1h-1zM28 63h1v1h-1zM31 63h2v1h-2zM16 64h1v1h-1zM19 64h1v1h-1zM22 65h1v1h-1zM31 65h1v1h-1zM21 68h1v1h-1zM26 68h1v1h-1zM20 69h2v1h-2zM22 71h1v1h-1zM24 72h2v1h-2zM28 72h1v1h-1z"/><path fill="#2a1e20" d="M26 5h1v1h-1zM23 6h1v1h-1zM23 7h1v1h-1zM29 7h1v1h-1zM24 8h1v1h-1zM32 8h1v1h-1zM32 9h1v1h-1zM20 10h1v1h-1zM25 10h1v1h-1zM21 11h1v1h-1zM29 12h1v1h-1zM24 14h1v1h-1zM17 15h1v1h-1zM25 15h1v1h-1zM29 15h1v1h-1zM32 15h1v1h-1zM29 16h1v1h-1zM16 18h1v1h-1zM20 19h1v1h-1zM22 20h1v1h-1zM32 21h1v1h-1zM18 23h1v1h-1zM14 24h1v1h-1zM18 25h1v1h-1zM21 25h1v1h-1zM31 25h1v1h-1zM15 26h1v1h-1zM25 26h1v1h-1zM7 28h1v1h-1zM11 28h1v1h-1zM14 28h1v1h-1zM18 28h1v1h-1zM20 28h1v1h-1zM17 29h1v1h-1zM10 31h1v1h-1zM14 31h1v1h-1zM20 31h1v1h-1zM22 32h1v1h-1zM23 33h2v1h-2zM8 34h1v1h-1zM10 35h1v1h-1zM31 35h1v1h-1zM7 36h2v1h-2zM14 36h1v1h-1zM29 36h1v1h-1zM13 37h1v1h-1zM21 37h2v1h-2zM14 40h1v1h-1zM6 41h1v1h-1zM8 41h1v1h-1zM14 41h1v1h-1zM18 42h1v1h-1zM6 43h1v1h-1zM9 43h1v1h-1zM26 44h1v1h-1zM19 45h1v1h-1zM26 45h1v1h-1zM15 46h3v1h-3zM19 46h1v1h-1zM21 46h1v1h-1zM28 46h1v1h-1zM12 47h1v1h-1zM20 47h1v1h-1zM28 47h1v1h-1zM20 48h1v1h-1zM10 49h1v1h-1zM27 49h1v1h-1zM8 50h1v1h-1zM11 50h1v1h-1zM26 50h1v1h-1zM30 50h3v1h-3zM23 51h1v1h-1zM27 51h1v1h-1zM12 52h1v1h-1zM15 52h1v1h-1zM31 52h1v1h-1zM10 53h1v1h-1zM14 53h1v1h-1zM17 53h1v1h-1zM8 54h1v1h-1zM29 54h1v1h-1zM12 56h1v1h-1zM29 56h1v1h-1zM32 56h1v1h-1zM11 57h1v1h-1zM25 57h1v1h-1zM27 58h1v1h-1zM31 58h1v1h-1zM18 60h1v1h-1zM25 62h1v1h-1zM29 64h1v1h-1zM21 65h1v1h-1zM24 66h1v1h-1zM19 67h1v1h-1zM27 67h1v1h-1zM27 69h1v1h-1zM30 69h1v1h-1zM29 70h1v1h-1zM26 73h1v1h-1zM28 73h1v1h-1zM29 74h1v1h-1z"/><path fill="#311f23" d="M29 6h1v1h-1zM26 9h1v1h-1zM15 11h1v1h-1zM23 11h1v1h-1zM31 12h1v1h-1zM30 15h1v1h-1zM17 17h1v1h-1zM28 18h1v1h-1zM18 19h1v1h-1zM8 21h2v1h-2zM7 22h1v1h-1zM17 22h1v1h-1zM26 22h1v1h-1zM23 24h1v1h-1zM27 24h1v1h-1zM15 25h1v1h-1zM23 26h1v1h-1zM31 26h1v1h-1zM24 28h1v1h-1zM15 30h1v1h-1zM25 30h1v1h-1zM30 30h1v1h-1zM17 31h1v1h-1zM19 31h1v1h-1zM10 32h1v1h-1zM7 33h1v1h-1zM26 33h1v1h-1zM22 34h1v1h-1zM16 38h1v1h-1zM26 38h2v1h-2zM17 39h1v1h-1zM27 39h1v1h-1zM5 41h1v1h-1zM23 41h1v1h-1zM13 42h1v1h-1zM19 42h1v1h-1zM8 43h1v1h-1zM8 46h1v1h-1zM10 46h1v1h-1zM26 46h1v1h-1zM30 46h1v1h-1zM14 47h1v1h-1zM8 48h1v1h-1zM22 48h1v1h-1zM12 49h1v1h-1zM16 49h1v1h-1zM26 49h1v1h-1zM7 50h1v1h-1zM30 51h1v1h-1zM32 51h1v1h-1zM12 53h1v1h-1zM28 55h1v1h-1zM27 56h1v1h-1zM12 57h1v1h-1zM18 57h2v1h-2zM13 58h2v1h-2zM11 59h1v1h-1zM15 59h1v1h-1zM23 59h1v1h-1zM25 60h1v1h-1zM14 61h1v1h-1zM16 61h1v1h-1zM18 62h1v1h-1zM13 63h1v1h-1zM19 63h1v1h-1zM21 64h1v1h-1zM25 64h1v1h-1zM30 64h1v1h-1zM15 65h1v1h-1zM20 65h1v1h-1zM24 65h2v1h-2zM23 66h1v1h-1zM16 67h1v1h-1zM20 68h1v1h-1zM26 70h1v1h-1zM32 70h1v1h-1zM21 71h1v1h-1zM27 71h1v1h-1zM22 72h1v1h-1z"/><path fill="#392126" d="M26 6h1v1h-1zM24 10h1v1h-1zM22 12h1v1h-1zM25 12h2v1h-2zM28 12h1v1h-1zM32 13h1v1h-1zM32 14h1v1h-1zM26 17h1v1h-1zM11 18h1v1h-1zM23 18h1v1h-1zM10 20h1v1h-1zM16 20h1v1h-1zM19 20h1v1h-1zM25 20h1v1h-1zM30 21h1v1h-1zM15 22h1v1h-1zM25 23h1v1h-1zM8 24h1v1h-1zM22 24h1v1h-1zM31 24h1v1h-1zM12 26h1v1h-1zM17 26h1v1h-1zM9 27h1v1h-1zM31 27h1v1h-1zM17 28h1v1h-1zM12 29h2v1h-2zM19 29h1v1h-1zM5 30h2v1h-2zM19 32h1v1h-1zM23 32h1v1h-1zM28 32h1v1h-1zM9 33h1v1h-1zM16 34h1v1h-1zM20 35h1v1h-1zM28 36h1v1h-1zM11 37h2v1h-2zM6 38h1v1h-1zM12 38h2v1h-2zM21 39h1v1h-1zM10 40h1v1h-1zM13 40h1v1h-1zM30 40h1v1h-1zM13 41h1v1h-1zM29 41h1v1h-1zM32 41h1v1h-1zM27 42h1v1h-1zM13 43h1v1h-1zM17 43h1v1h-1zM19 43h1v1h-1zM21 43h1v1h-1zM19 44h1v1h-1zM7 45h1v1h-1zM21 45h1v1h-1zM11 46h1v1h-1zM7 47h1v1h-1zM21 47h1v1h-1zM26 48h1v1h-1zM14 49h1v1h-1zM20 49h1v1h-1zM24 49h2v1h-2zM30 49h1v1h-1zM13 50h1v1h-1zM24 50h1v1h-1zM6 52h1v1h-1zM19 52h1v1h-1zM28 52h1v1h-1zM22 53h1v1h-1zM18 54h1v1h-1zM23 54h1v1h-1zM20 55h1v1h-1zM27 55h1v1h-1zM10 56h1v1h-1zM14 56h1v1h-1zM24 56h1v1h-1zM21 57h1v1h-1zM31 57h1v1h-1zM16 58h1v1h-1zM21 58h1v1h-1zM32 58h1v1h-1zM28 59h1v1h-1zM22 60h1v1h-1zM31 61h1v1h-1zM15 64h1v1h-1zM17 64h2v1h-2zM28 65h1v1h-1zM30 65h1v1h-1zM25 66h1v1h-1zM31 71h1v1h-1z"/><path fill="#412329" d="M21 7h1v1h-1zM25 8h1v1h-1zM22 11h1v1h-1zM15 12h1v1h-1zM23 12h1v1h-1zM13 14h1v1h-1zM28 14h1v1h-1zM12 16h1v1h-1zM25 17h1v1h-1zM32 17h1v1h-1zM14 18h1v1h-1zM23 20h1v1h-1zM26 20h1v1h-1zM23 21h1v1h-1zM26 21h1v1h-1zM11 22h1v1h-1zM9 23h1v1h-1zM11 23h2v1h-2zM11 24h1v1h-1zM15 24h1v1h-1zM12 25h1v1h-1zM14 26h1v1h-1zM26 26h1v1h-1zM16 27h1v1h-1zM23 27h1v1h-1zM9 28h1v1h-1zM21 28h1v1h-1zM20 29h1v1h-1zM7 31h1v1h-1zM32 31h1v1h-1zM9 32h1v1h-1zM11 32h1v1h-1zM29 32h1v1h-1zM14 34h1v1h-1zM28 35h1v1h-1zM6 36h1v1h-1zM17 36h1v1h-1zM18 37h1v1h-1zM7 38h1v1h-1zM11 39h1v1h-1zM18 39h1v1h-1zM20 39h1v1h-1zM9 40h1v1h-1zM26 41h1v1h-1zM25 42h1v1h-1zM28 42h1v1h-1zM18 46h1v1h-1zM13 47h1v1h-1zM22 47h1v1h-1zM10 48h1v1h-1zM29 48h2v1h-2zM32 48h1v1h-1zM9 49h1v1h-1zM28 49h1v1h-1zM32 49h1v1h-1zM22 50h1v1h-1zM27 50h3v1h-3zM28 51h1v1h-1zM28 53h2v1h-2zM11 54h1v1h-1zM25 56h1v1h-1zM25 58h1v1h-1zM10 59h1v1h-1zM25 59h1v1h-1zM31 59h1v1h-1zM23 60h1v1h-1zM22 61h1v1h-1zM16 62h1v1h-1zM20 62h1v1h-1zM22 62h1v1h-1zM22 63h1v1h-1zM18 66h2v1h-2zM27 66h1v1h-1zM28 70h1v1h-1zM31 70h1v1h-1zM24 71h1v1h-1zM27 72h1v1h-1zM29 72h1v1h-1z"/><path fill="#4a252e" d="M23 9h1v1h-1zM18 10h1v1h-1zM22 10h1v1h-1zM27 11h1v1h-1zM12 14h1v1h-1zM23 16h1v1h-1zM22 19h1v1h-1zM17 20h1v1h-1zM24 20h1v1h-1zM14 21h1v1h-1zM22 22h2v1h-2zM32 22h1v1h-1zM19 24h1v1h-1zM23 25h1v1h-1zM26 25h1v1h-1zM11 26h1v1h-1zM30 27h1v1h-1zM7 32h1v1h-1zM14 33h1v1h-1zM20 34h2v1h-2zM28 34h1v1h-1zM32 34h1v1h-1zM29 35h1v1h-1zM16 39h1v1h-1zM12 43h1v1h-1zM16 43h1v1h-1zM24 43h1v1h-1zM14 44h1v1h-1zM31 44h1v1h-1zM12 45h1v1h-1zM27 45h1v1h-1zM12 46h1v1h-1zM20 46h1v1h-1zM9 47h1v1h-1zM15 49h1v1h-1zM29 49h1v1h-1zM14 51h1v1h-1zM30 53h1v1h-1zM15 54h1v1h-1zM9 55h1v1h-1zM13 55h1v1h-1zM17 56h1v1h-1zM9 57h1v1h-1zM22 58h1v1h-1zM16 59h1v1h-1zM26 59h1v1h-1zM11 62h1v1h-1zM24 62h1v1h-1zM17 65h1v1h-1zM32 65h1v1h-1zM16 66h1v1h-1zM22 70h1v1h-1zM28 71h1v1h-1zM32 72h1v1h-1z"/><path fill="#542732" d="M30 6h1v1h-1zM27 7h1v1h-1zM21 9h1v1h-1zM31 11h1v1h-1zM18 13h1v1h-1zM14 14h1v1h-1zM26 18h1v1h-1zM9 19h1v1h-1zM29 20h1v1h-1zM13 23h1v1h-1zM16 24h1v1h-1zM25 24h1v1h-1zM32 24h1v1h-1zM22 25h1v1h-1zM17 27h1v1h-1zM15 28h1v1h-1zM31 28h1v1h-1zM30 29h1v1h-1zM8 33h1v1h-1zM15 33h2v1h-2zM10 34h1v1h-1zM15 35h1v1h-1zM19 35h1v1h-1zM13 36h1v1h-1zM14 37h1v1h-1zM21 38h1v1h-1zM24 38h1v1h-1zM28 38h1v1h-1zM12 42h1v1h-1zM27 43h1v1h-1zM10 47h1v1h-1zM19 47h1v1h-1zM18 49h1v1h-1zM8 51h1v1h-1zM18 51h1v1h-1zM11 52h1v1h-1zM22 52h1v1h-1zM32 52h1v1h-1zM14 57h1v1h-1zM31 62h1v1h-1zM24 64h1v1h-1zM17 68h1v1h-1zM28 68h1v1h-1zM26 69h1v1h-1zM29 69h1v1h-1zM32 69h1v1h-1zM20 71h1v1h-1z"/><path fill="#622937" d="M28 5h1v1h-1zM26 7h1v1h-1zM24 9h1v1h-1zM26 11h1v1h-1zM22 13h1v1h-1zM27 13h1v1h-1zM22 14h1v1h-1zM13 15h1v1h-1zM13 16h1v1h-1zM15 19h1v1h-1zM18 20h1v1h-1zM28 23h1v1h-1zM30 24h1v1h-1zM10 26h1v1h-1zM18 26h1v1h-1zM22 26h1v1h-1zM8 27h1v1h-1zM32 27h1v1h-1zM11 29h1v1h-1zM31 30h1v1h-1zM29 33h1v1h-1zM12 34h1v1h-1zM15 34h1v1h-1zM24 35h1v1h-1zM22 36h1v1h-1zM17 37h1v1h-1zM19 38h1v1h-1zM21 40h1v1h-1zM23 40h1v1h-1zM17 42h1v1h-1zM25 43h1v1h-1zM5 44h2v1h-2zM4 46h1v1h-1zM24 48h1v1h-1zM14 50h1v1h-1zM15 51h1v1h-1zM29 51h1v1h-1zM10 52h1v1h-1zM20 52h1v1h-1zM9 53h1v1h-1zM19 54h2v1h-2zM32 54h1v1h-1zM7 57h1v1h-1zM27 59h1v1h-1zM20 60h1v1h-1zM24 60h1v1h-1zM18 65h1v1h-1zM29 67h1v1h-1zM24 68h1v1h-1zM29 68h1v1h-1zM19 69h1v1h-1zM20 70h1v1h-1z"/><path fill="#6d2b3b" d="M19 11h1v1h-1zM32 11h1v1h-1zM19 15h1v1h-1zM21 16h1v1h-1zM17 18h1v1h-1zM19 19h1v1h-1zM8 22h1v1h-1zM16 22h1v1h-1zM16 23h1v1h-1zM10 25h1v1h-1zM28 28h1v1h-1zM18 29h1v1h-1zM12 31h1v1h-1zM25 31h1v1h-1zM26 34h1v1h-1zM22 39h1v1h-1zM26 40h1v1h-1zM11 43h1v1h-1zM15 48h1v1h-1zM27 52h1v1h-1zM30 55h1v1h-1zM28 62h1v1h-1zM28 67h1v1h-1zM31 68h1v1h-1z"/><path fill="#782c3f" d="M26 8h1v1h-1zM21 13h1v1h-1zM15 16h1v1h-1zM20 16h1v1h-1zM29 19h1v1h-1zM18 21h1v1h-1zM10 23h1v1h-1zM26 23h1v1h-1zM22 27h1v1h-1zM12 28h1v1h-1zM17 30h1v1h-1zM27 34h1v1h-1zM25 35h1v1h-1zM28 39h1v1h-1zM28 43h1v1h-1zM14 45h1v1h-1zM13 46h1v1h-1zM11 58h1v1h-1zM16 63h1v1h-1zM32 64h1v1h-1zM23 65h1v1h-1zM23 68h1v1h-1zM25 70h1v1h-1z"/><path fill="#842d42" d="M31 5h1v1h-1zM20 8h1v1h-1zM25 13h1v1h-1zM22 15h1v1h-1zM28 16h1v1h-1zM20 17h1v1h-1zM6 34h1v1h-1zM16 36h1v1h-1zM13 39h1v1h-1zM20 43h1v1h-1zM13 45h1v1h-1zM9 54h1v1h-1zM27 54h1v1h-1zM16 60h1v1h-1z"/><path fill="#902e44" d="M24 27h1v1h-1zM10 28h1v1h-1zM5 42h1v1h-1zM13 44h1v1h-1zM15 50h1v1h-1zM19 59h1v1h-1zM22 66h1v1h-1zM21 67h1v1h-1zM32 68h1v1h-1z"/><path fill="#9c2f45" d="M26 15h1v1h-1zM13 25h1v1h-1zM15 44h1v1h-1zM28 57h1v1h-1z"/><path fill="#a83044" d="M20 11h1v1h-1zM7 30h1v1h-1zM11 30h1v1h-1zM29 37h1v1h-1zM21 44h1v1h-1zM6 48h1v1h-1zM13 48h2v1h-2zM26 63h1v1h-1zM30 63h1v1h-1z"/><path fill="#b33341" d="M28 7h1v1h-1zM29 8h1v1h-1zM27 10h1v1h-1zM30 11h1v1h-1zM8 29h1v1h-1zM30 31h1v1h-1zM23 44h1v1h-1zM23 46h1v1h-1zM8 55h1v1h-1zM6 56h1v1h-1zM19 56h1v1h-1zM21 61h1v1h-1z"/><path fill="#be373e" d="M30 8h1v1h-1zM13 28h1v1h-1zM23 36h1v1h-1zM10 38h1v1h-1zM7 42h1v1h-1zM17 66h1v1h-1z"/><path fill="#c73d3b" d="M28 11h1v1h-1zM13 13h1v1h-1zM17 35h1v1h-1zM18 47h1v1h-1zM21 66h1v1h-1zM23 67h1v1h-1z"/><path fill="#d04537" d="M7 23h1v1h-1zM25 39h1v1h-1zM25 69h1v1h-1z"/><path fill="#d74e35" d="M11 15h1v1h-1zM27 18h1v1h-1zM15 23h1v1h-1zM7 43h1v1h-1zM10 44h1v1h-1zM24 58h1v1h-1z"/><path fill="#df5a33" d="M30 19h1v1h-1zM14 22h1v1h-1zM9 25h1v1h-1zM25 28h1v1h-1zM32 30h1v1h-1zM7 44h1v1h-1zM11 56h1v1h-1zM13 61h1v1h-1z"/><path fill="#e56433" d="M28 9h1v1h-1zM19 23h1v1h-1zM32 32h1v1h-1zM24 46h1v1h-1zM30 52h1v1h-1zM21 54h1v1h-1z"/><path fill="#e96f36" d="M18 16h1v1h-1zM24 47h1v1h-1z"/><path fill="#ed7b3e" d="M12 15h1v1h-1zM7 26h1v1h-1zM28 26h1v1h-1zM22 35h1v1h-1z"/><path fill="#ef8748" d="M17 23h1v1h-1zM14 46h1v1h-1zM11 53h1v1h-1z"/><path fill="#f29255" d="M24 59h1v1h-1zM30 73h1v1h-1z"/><path fill="#f49d63" d="M10 19h1v1h-1zM15 43h1v1h-1z"/><path fill="#f6a871" d="M9 30h1v1h-1zM31 53h1v1h-1zM13 64h1v1h-1zM31 73h1v1h-1z"/><path fill="#f8b380" d="M21 19h1v1h-1z"/><path fill="#fbbe8f" d="M9 58h1v1h-1z"/><path fill="#fdc99e" d="M12 19h1v1h-1zM30 26h1v1h-1zM8 58h1v1h-1zM26 60h1v1h-1zM14 64h1v1h-1zM31 67h1v1h-1zM31 69h1v1h-1zM31 74h1v1h-1z"/><path fill="#ffd4ac" d="M31 3h2v1h-2zM23 4h2v1h-2zM26 4h7v1h-7zM20 5h3v1h-3zM24 5h1v1h-1zM27 5h1v1h-1zM32 5h1v1h-1zM17 6h3v1h-3zM21 6h2v1h-2zM16 7h4v1h-4zM22 7h1v1h-1zM14 8h3v1h-3zM13 9h2v1h-2zM16 9h1v1h-1zM12 10h1v1h-1zM11 11h3v1h-3zM11 12h1v1h-1zM10 13h3v1h-3zM9 14h3v1h-3zM9 15h1v1h-1zM8 16h4v1h-4zM8 17h1v1h-1zM7 18h3v1h-3zM7 19h2v1h-2zM6 20h3v1h-3zM6 21h1v1h-1zM5 22h2v1h-2zM5 23h1v1h-1zM5 24h2v1h-2zM5 25h1v1h-1zM5 26h2v1h-2zM4 27h3v1h-3zM27 27h2v1h-2zM4 28h2v1h-2zM4 29h1v1h-1zM29 29h1v1h-1zM4 30h1v1h-1zM29 30h1v1h-1zM4 31h1v1h-1zM4 32h2v1h-2zM30 32h1v1h-1zM4 33h2v1h-2zM30 33h1v1h-1zM4 34h1v1h-1zM4 35h1v1h-1zM30 35h1v1h-1zM4 36h1v1h-1zM24 36h1v1h-1zM30 36h2v1h-2zM4 37h2v1h-2zM30 37h2v1h-2zM4 38h1v1h-1zM31 38h1v1h-1zM4 39h2v1h-2zM30 39h1v1h-1zM3 40h2v1h-2zM6 40h1v1h-1zM3 41h2v1h-2zM3 42h2v1h-2zM29 42h1v1h-1zM3 43h2v1h-2zM29 43h1v1h-1zM3 44h1v1h-1zM29 44h1v1h-1zM3 45h1v1h-1zM5 45h1v1h-1zM28 45h1v1h-1zM3 46h1v1h-1zM27 46h1v1h-1zM3 47h2v1h-2zM3 48h2v1h-2zM3 49h2v1h-2zM3 50h2v1h-2zM4 51h1v1h-1zM4 52h1v1h-1zM4 53h1v1h-1zM4 54h2v1h-2zM5 55h1v1h-1zM19 55h1v1h-1zM5 56h1v1h-1zM5 57h2v1h-2zM5 58h3v1h-3zM6 59h3v1h-3zM7 60h2v1h-2zM7 61h3v1h-3zM8 62h3v1h-3zM9 63h3v1h-3zM14 63h1v1h-1zM10 64h2v1h-2zM11 65h3v1h-3zM12 66h3v1h-3zM13 67h2v1h-2zM14 68h3v1h-3zM15 69h1v1h-1zM17 69h2v1h-2zM16 70h3v1h-3zM17 71h3v1h-3zM18 72h3v1h-3zM20 73h1v1h-1zM22 73h1v1h-1zM24 73h1v1h-1zM29 73h1v1h-1zM22 74h4v1h-4zM30 74h1v1h-1zM32 74h1v1h-1zM25 75h3v1h-3zM29 75h4v1h-4z"/></g><use href="#h10" x="35"/></g><rect x="616" y="221" width="57" height="75.8" fill="none" stroke="#ffff00" stroke-width="4.3"/><rect x="727" y="103.9" width="15.8" height="309.4" fill="url(#g1)"/><rect x="742.8" y="103.10" width="13.2" height="2.8" fill="#262626"/><text x="762.7" y="0" font-size="22" transform="translate(0,112.25) scale(1,1.045)">10%</text><rect x="742.8" y="206.23" width="13.2" height="2.8" fill="#262626"/><text x="762.7" y="0" font-size="22" transform="translate(0,215.38) scale(1,1.045)">5%</text><rect x="742.8" y="309.37" width="13.2" height="2.8" fill="#262626"/><text x="762.7" y="0" font-size="22" transform="translate(0,318.52) scale(1,1.045)">0%</text><rect x="742.8" y="412.50" width="13.2" height="2.8" fill="#262626"/><text x="762.7" y="0" font-size="22" transform="translate(0,421.65) scale(1,1.045)">-5%</text><rect x="445.5" y="454.5" width="265" height="303.7" fill="#1f1e1e" stroke="#0e0e0e" stroke-width="1"/><g transform="translate(445,454) scale(3.80000,3.80875)" shape-rendering="crispEdges"><g id="h11"><path fill="#4167c7" d="M32 3h1v1h-1zM32 4h1v1h-1zM23 5h1v1h-1zM25 5h7v1h-7zM22 6h1v1h-1zM27 6h1v1h-1zM19 7h1v1h-1zM27 7h1v1h-1zM29 7h1v1h-1zM17 8h1v1h-1zM16 9h1v1h-1zM14 10h2v1h-2zM13 11h1v1h-1zM12 12h1v1h-1zM19 14h1v1h-1zM14 15h1v1h-1zM10 16h1v1h-1zM11 17h1v1h-1zM9 18h1v1h-1zM16 18h2v1h-2zM8 19h1v1h-1zM18 19h1v1h-1zM8 20h1v1h-1zM12 20h1v1h-1zM7 21h1v1h-1zM7 22h1v1h-1zM13 22h1v1h-1zM24 23h1v1h-1zM6 24h1v1h-1zM6 25h1v1h-1zM6 27h1v1h-1zM30 27h1v1h-1zM9 28h1v1h-1zM5 29h1v1h-1zM5 30h1v1h-1zM32 30h1v1h-1zM22 31h1v1h-1zM5 32h1v1h-1zM11 32h1v1h-1zM5 33h2v1h-2zM5 34h1v1h-1zM5 35h1v1h-1zM4 36h1v1h-1zM5 38h1v1h-1zM8 38h1v1h-1zM18 38h1v1h-1zM12 39h1v1h-1zM15 39h1v1h-1zM4 41h1v1h-1zM4 42h1v1h-1zM29 42h1v1h-1zM4 43h1v1h-1zM4 44h1v1h-1zM7 45h1v1h-1zM11 45h1v1h-1zM4 46h1v1h-1zM4 47h1v1h-1zM30 47h1v1h-1zM3 48h1v1h-1zM22 49h1v1h-1zM8 50h1v1h-1zM12 50h1v1h-1zM5 51h1v1h-1zM5 52h1v1h-1zM21 52h1v1h-1zM5 53h1v1h-1zM6 54h1v1h-1zM6 55h1v1h-1zM31 55h1v1h-1zM6 56h1v1h-1zM5 57h2v1h-2zM12 57h1v1h-1zM7 58h1v1h-1zM12 58h1v1h-1zM8 59h1v1h-1zM10 59h1v1h-1zM8 60h1v1h-1zM9 61h1v1h-1zM22 63h1v1h-1zM25 63h1v1h-1zM27 63h1v1h-1zM12 64h1v1h-1zM22 64h1v1h-1zM13 65h1v1h-1zM25 65h1v1h-1zM15 67h1v1h-1zM16 68h1v1h-1zM21 68h1v1h-1zM17 69h1v1h-1zM20 69h1v1h-1zM27 69h1v1h-1zM20 70h1v1h-1zM20 71h1v1h-1zM25 71h1v1h-1zM27 71h1v1h-1zM18 72h2v1h-2zM21 72h2v1h-2zM25 73h1v1h-1zM27 74h2v1h-2zM31 74h2v1h-2zM25 75h1v1h-1zM30 75h1v1h-1z"/><path fill="#465ebe" d="M22 7h1v1h-1zM25 7h1v1h-1zM30 8h1v1h-1zM31 9h1v1h-1zM30 10h1v1h-1zM18 11h1v1h-1zM26 12h1v1h-1zM29 12h1v1h-1zM32 12h1v1h-1zM17 13h1v1h-1zM32 13h1v1h-1zM13 14h1v1h-1zM14 16h1v1h-1zM15 17h1v1h-1zM22 17h1v1h-1zM26 17h1v1h-1zM26 18h1v1h-1zM9 19h1v1h-1zM15 19h1v1h-1zM22 19h1v1h-1zM9 21h1v1h-1zM8 22h1v1h-1zM19 22h1v1h-1zM22 23h1v1h-1zM20 25h1v1h-1zM25 26h1v1h-1zM13 28h1v1h-1zM27 28h1v1h-1zM29 28h2v1h-2zM22 29h1v1h-1zM11 30h1v1h-1zM30 30h2v1h-2zM5 31h1v1h-1zM11 31h1v1h-1zM31 31h1v1h-1zM8 32h1v1h-1zM15 32h1v1h-1zM26 32h1v1h-1zM29 32h1v1h-1zM12 33h2v1h-2zM15 33h2v1h-2zM25 33h1v1h-1zM31 33h1v1h-1zM7 34h1v1h-1zM21 34h1v1h-1zM31 34h2v1h-2zM9 35h1v1h-1zM5 36h3v1h-3zM29 36h1v1h-1zM32 36h1v1h-1zM21 38h1v1h-1zM27 39h1v1h-1zM29 39h1v1h-1zM31 39h1v1h-1zM11 40h1v1h-1zM17 40h1v1h-1zM19 40h1v1h-1zM29 40h1v1h-1zM31 40h1v1h-1zM29 41h1v1h-1zM31 41h1v1h-1zM23 42h1v1h-1zM30 42h2v1h-2zM7 43h1v1h-1zM10 43h1v1h-1zM17 43h1v1h-1zM23 43h1v1h-1zM28 43h1v1h-1zM27 44h1v1h-1zM10 45h1v1h-1zM12 45h1v1h-1zM30 45h1v1h-1zM19 46h2v1h-2zM29 46h1v1h-1zM7 47h1v1h-1zM25 47h1v1h-1zM10 48h1v1h-1zM12 48h1v1h-1zM17 48h1v1h-1zM29 48h1v1h-1zM5 49h1v1h-1zM26 49h1v1h-1zM32 49h1v1h-1zM7 50h1v1h-1zM25 50h1v1h-1zM31 50h1v1h-1zM7 51h1v1h-1zM13 52h1v1h-1zM24 52h1v1h-1zM18 53h1v1h-1zM24 53h1v1h-1zM14 54h1v1h-1zM20 57h1v1h-1zM25 57h1v1h-1zM8 58h1v1h-1zM20 59h1v1h-1zM22 60h1v1h-1zM25 60h1v1h-1zM31 64h1v1h-1zM30 65h1v1h-1zM21 66h1v1h-1zM28 66h2v1h-2zM18 68h1v1h-1zM24 68h1v1h-1zM24 69h1v1h-1zM26 69h1v1h-1zM29 70h1v1h-1zM26 71h1v1h-1z"/><path fill="#4956b3" d="M24 7h1v1h-1zM26 7h1v1h-1zM25 8h1v1h-1zM15 9h1v1h-1zM26 9h1v1h-1zM32 9h1v1h-1zM31 10h1v1h-1zM14 11h1v1h-1zM25 11h1v1h-1zM29 11h1v1h-1zM14 12h1v1h-1zM15 13h1v1h-1zM32 14h1v1h-1zM30 16h1v1h-1zM12 18h1v1h-1zM15 18h1v1h-1zM30 18h1v1h-1zM12 19h3v1h-3zM21 19h1v1h-1zM25 19h1v1h-1zM28 19h1v1h-1zM10 20h1v1h-1zM23 20h1v1h-1zM31 20h1v1h-1zM27 23h1v1h-1zM30 23h1v1h-1zM11 28h1v1h-1zM20 28h1v1h-1zM26 28h1v1h-1zM21 29h1v1h-1zM18 30h1v1h-1zM20 30h1v1h-1zM26 30h1v1h-1zM7 31h2v1h-2zM10 31h1v1h-1zM9 32h2v1h-2zM13 32h1v1h-1zM23 32h1v1h-1zM30 32h1v1h-1zM7 33h1v1h-1zM6 34h1v1h-1zM17 35h2v1h-2zM32 35h1v1h-1zM9 36h1v1h-1zM6 37h3v1h-3zM25 37h1v1h-1zM31 37h1v1h-1zM24 38h1v1h-1zM20 39h2v1h-2zM26 39h1v1h-1zM18 40h1v1h-1zM21 40h1v1h-1zM10 41h1v1h-1zM21 42h1v1h-1zM12 43h1v1h-1zM25 43h1v1h-1zM27 43h1v1h-1zM8 44h1v1h-1zM22 44h1v1h-1zM26 44h1v1h-1zM24 45h1v1h-1zM31 45h1v1h-1zM8 46h1v1h-1zM26 46h1v1h-1zM30 48h1v1h-1zM18 49h1v1h-1zM6 50h1v1h-1zM11 50h1v1h-1zM20 50h1v1h-1zM28 50h1v1h-1zM32 50h1v1h-1zM25 51h1v1h-1zM12 52h1v1h-1zM17 52h1v1h-1zM25 52h1v1h-1zM23 55h1v1h-1zM9 56h1v1h-1zM21 56h1v1h-1zM31 56h1v1h-1zM14 59h1v1h-1zM19 59h1v1h-1zM14 60h1v1h-1zM17 61h1v1h-1zM30 61h1v1h-1zM25 62h1v1h-1zM22 67h1v1h-1zM23 68h1v1h-1zM29 71h1v1h-1zM28 72h1v1h-1zM29 73h1v1h-1z"/><path fill="#4a4fa5" d="M25 9h1v1h-1zM28 10h1v1h-1zM21 11h1v1h-1zM27 12h1v1h-1zM16 14h1v1h-1zM12 15h1v1h-1zM12 16h1v1h-1zM27 17h1v1h-1zM13 18h2v1h-2zM29 18h1v1h-1zM16 19h1v1h-1zM31 19h1v1h-1zM11 21h1v1h-1zM9 22h1v1h-1zM24 27h1v1h-1zM14 28h1v1h-1zM31 29h1v1h-1zM10 30h1v1h-1zM14 30h1v1h-1zM27 31h1v1h-1zM32 31h1v1h-1zM19 33h1v1h-1zM29 33h1v1h-1zM15 35h1v1h-1zM10 36h1v1h-1zM25 36h1v1h-1zM15 41h1v1h-1zM26 43h1v1h-1zM21 45h1v1h-1zM10 49h1v1h-1zM29 50h1v1h-1zM29 51h1v1h-1zM23 52h1v1h-1zM17 53h1v1h-1zM23 53h1v1h-1zM19 54h1v1h-1zM30 55h1v1h-1zM20 58h1v1h-1zM25 58h1v1h-1zM28 58h1v1h-1zM30 58h1v1h-1zM31 59h1v1h-1zM20 60h1v1h-1zM19 61h1v1h-1zM22 62h1v1h-1zM24 62h1v1h-1zM32 63h1v1h-1zM23 64h1v1h-1zM26 68h1v1h-1zM23 69h1v1h-1zM25 69h1v1h-1zM18 70h2v1h-2zM28 70h1v1h-1z"/><path fill="#484996" d="M12 27h1v1h-1zM28 30h1v1h-1zM12 31h1v1h-1zM14 34h1v1h-1zM22 48h1v1h-1zM22 50h1v1h-1z"/><path fill="#454386" d="M24 18h1v1h-1zM24 28h1v1h-1zM30 34h1v1h-1zM21 43h1v1h-1zM16 44h1v1h-1zM6 51h1v1h-1zM29 55h1v1h-1z"/><path fill="#413e77" d="M25 14h1v1h-1zM21 15h1v1h-1zM24 42h1v1h-1zM17 47h1v1h-1zM28 53h1v1h-1zM24 59h1v1h-1zM23 66h1v1h-1zM25 68h1v1h-1z"/><path fill="#3c3a69" d="M21 8h1v1h-1zM19 23h1v1h-1zM15 36h1v1h-1zM17 38h1v1h-1zM16 41h1v1h-1zM13 45h1v1h-1zM20 45h1v1h-1zM8 47h1v1h-1zM30 52h1v1h-1zM22 53h1v1h-1zM13 54h1v1h-1zM30 63h1v1h-1zM22 68h1v1h-1zM27 72h1v1h-1z"/><path fill="#37355c" d="M22 9h1v1h-1zM18 14h1v1h-1zM24 16h1v1h-1zM20 18h1v1h-1zM23 19h1v1h-1zM26 20h1v1h-1zM22 21h1v1h-1zM22 24h1v1h-1zM29 24h1v1h-1zM29 25h1v1h-1zM16 27h1v1h-1zM24 30h1v1h-1zM17 33h1v1h-1zM11 37h1v1h-1zM10 46h1v1h-1zM27 47h1v1h-1zM13 50h1v1h-1zM24 50h1v1h-1zM26 51h1v1h-1zM27 54h1v1h-1zM32 56h1v1h-1zM23 57h1v1h-1zM24 58h1v1h-1zM12 61h1v1h-1zM26 67h1v1h-1zM31 68h1v1h-1z"/><path fill="#323050" d="M22 8h1v1h-1zM15 11h1v1h-1zM20 14h1v1h-1zM23 18h1v1h-1zM11 20h1v1h-1zM32 20h1v1h-1zM15 23h1v1h-1zM15 25h1v1h-1zM18 27h1v1h-1zM16 29h1v1h-1zM25 31h1v1h-1zM24 32h1v1h-1zM25 34h1v1h-1zM32 44h1v1h-1zM23 47h1v1h-1zM18 52h1v1h-1zM18 56h1v1h-1zM14 57h1v1h-1zM17 58h1v1h-1zM32 59h1v1h-1zM9 60h1v1h-1zM21 61h1v1h-1zM23 62h1v1h-1zM24 63h1v1h-1zM32 73h1v1h-1z"/><path fill="#2d2c45" d="M27 8h1v1h-1zM32 8h1v1h-1zM27 9h1v1h-1zM23 12h1v1h-1zM21 18h1v1h-1zM20 19h1v1h-1zM9 20h1v1h-1zM15 20h1v1h-1zM21 23h1v1h-1zM29 23h1v1h-1zM29 26h1v1h-1zM17 27h1v1h-1zM6 28h1v1h-1zM26 29h1v1h-1zM21 31h1v1h-1zM19 32h1v1h-1zM25 32h1v1h-1zM27 33h1v1h-1zM14 35h1v1h-1zM26 35h1v1h-1zM16 36h1v1h-1zM19 38h1v1h-1zM15 40h1v1h-1zM23 40h1v1h-1zM20 42h1v1h-1zM24 44h1v1h-1zM23 48h1v1h-1zM10 50h1v1h-1zM17 50h1v1h-1zM12 51h1v1h-1zM30 51h1v1h-1zM14 52h1v1h-1zM9 55h1v1h-1zM21 55h1v1h-1zM17 57h1v1h-1zM22 57h1v1h-1zM23 58h1v1h-1zM26 58h1v1h-1zM25 61h1v1h-1z"/><path fill="#29283b" d="M28 8h1v1h-1zM32 11h1v1h-1zM20 12h1v1h-1zM31 13h1v1h-1zM11 19h1v1h-1zM27 20h1v1h-1zM28 21h1v1h-1zM11 22h1v1h-1zM14 23h1v1h-1zM7 24h1v1h-1zM27 24h1v1h-1zM14 26h1v1h-1zM17 28h1v1h-1zM18 29h2v1h-2zM32 29h1v1h-1zM13 30h1v1h-1zM26 31h1v1h-1zM20 34h1v1h-1zM6 35h1v1h-1zM17 37h1v1h-1zM29 37h1v1h-1zM23 38h1v1h-1zM28 40h1v1h-1zM28 42h1v1h-1zM5 44h1v1h-1zM22 45h1v1h-1zM25 46h1v1h-1zM32 46h1v1h-1zM13 47h1v1h-1zM19 48h1v1h-1zM14 56h1v1h-1zM27 56h1v1h-1zM26 64h1v1h-1zM26 66h1v1h-1zM17 67h1v1h-1zM30 70h1v1h-1z"/><path fill="#242430" d="M18 7h1v1h-1zM18 9h1v1h-1zM21 10h1v1h-1zM27 13h1v1h-1zM25 15h1v1h-1zM13 16h1v1h-1zM31 16h1v1h-1zM17 17h2v1h-2zM20 20h2v1h-2zM24 20h1v1h-1zM10 21h1v1h-1zM12 22h1v1h-1zM18 22h1v1h-1zM20 23h1v1h-1zM32 24h1v1h-1zM25 25h2v1h-2zM15 26h1v1h-1zM15 28h1v1h-1zM23 28h1v1h-1zM11 29h1v1h-1zM23 29h1v1h-1zM17 30h1v1h-1zM27 32h1v1h-1zM32 32h1v1h-1zM24 33h1v1h-1zM27 34h1v1h-1zM21 35h1v1h-1zM28 35h1v1h-1zM26 37h1v1h-1zM11 38h2v1h-2zM7 39h1v1h-1zM16 39h1v1h-1zM9 40h1v1h-1zM14 42h1v1h-1zM20 44h1v1h-1zM16 45h1v1h-1zM27 45h1v1h-1zM12 47h1v1h-1zM19 47h1v1h-1zM20 48h1v1h-1zM32 51h1v1h-1zM28 52h1v1h-1zM12 53h1v1h-1zM26 53h1v1h-1zM15 54h2v1h-2zM31 54h1v1h-1zM24 55h1v1h-1zM7 56h1v1h-1zM21 58h1v1h-1zM13 59h1v1h-1zM23 60h1v1h-1zM21 63h1v1h-1zM32 66h1v1h-1zM27 67h1v1h-1zM20 68h1v1h-1zM21 70h1v1h-1zM24 70h1v1h-1zM25 72h1v1h-1z"/><path fill="#222129" d="M16 12h1v1h-1zM31 12h1v1h-1zM24 14h1v1h-1zM11 15h1v1h-1zM22 15h1v1h-1zM27 15h1v1h-1zM18 18h1v1h-1zM30 19h1v1h-1zM22 20h1v1h-1zM20 21h1v1h-1zM28 22h1v1h-1zM19 24h1v1h-1zM21 24h1v1h-1zM30 24h1v1h-1zM19 25h1v1h-1zM24 25h1v1h-1zM17 26h1v1h-1zM26 26h1v1h-1zM28 26h1v1h-1zM19 27h1v1h-1zM8 28h1v1h-1zM16 28h1v1h-1zM19 28h1v1h-1zM13 29h1v1h-1zM24 29h1v1h-1zM30 29h1v1h-1zM9 30h1v1h-1zM15 30h1v1h-1zM23 30h1v1h-1zM14 31h1v1h-1zM18 31h1v1h-1zM28 31h1v1h-1zM8 35h1v1h-1zM14 37h1v1h-1zM16 37h1v1h-1zM14 38h2v1h-2zM20 40h1v1h-1zM19 42h1v1h-1zM9 43h1v1h-1zM11 44h1v1h-1zM21 44h1v1h-1zM19 45h1v1h-1zM9 48h1v1h-1zM11 48h1v1h-1zM8 49h1v1h-1zM14 49h1v1h-1zM15 50h2v1h-2zM23 50h1v1h-1zM27 50h1v1h-1zM9 51h1v1h-1zM11 51h1v1h-1zM27 52h1v1h-1zM30 53h1v1h-1zM32 53h1v1h-1zM18 54h1v1h-1zM28 55h1v1h-1zM15 56h1v1h-1zM30 57h2v1h-2zM15 58h1v1h-1zM22 59h1v1h-1zM29 61h1v1h-1zM20 64h1v1h-1zM14 65h1v1h-1zM20 65h2v1h-2zM31 73h1v1h-1z"/><path fill="#201f24" d="M20 10h1v1h-1zM16 11h1v1h-1zM23 11h1v1h-1zM16 13h1v1h-1zM23 14h1v1h-1zM20 16h1v1h-1zM22 16h1v1h-1zM16 17h1v1h-1zM25 18h1v1h-1zM32 18h1v1h-1zM19 19h1v1h-1zM18 21h1v1h-1zM29 21h1v1h-1zM16 22h1v1h-1zM22 22h1v1h-1zM16 23h1v1h-1zM28 23h1v1h-1zM32 23h1v1h-1zM10 24h1v1h-1zM28 24h1v1h-1zM17 25h1v1h-1zM18 26h1v1h-1zM21 26h1v1h-1zM25 28h1v1h-1zM14 29h1v1h-1zM22 36h1v1h-1zM12 37h1v1h-1zM27 37h1v1h-1zM25 38h1v1h-1zM13 39h1v1h-1zM17 39h1v1h-1zM14 40h1v1h-1zM32 41h1v1h-1zM13 44h1v1h-1zM9 45h1v1h-1zM25 45h1v1h-1zM18 47h1v1h-1zM20 47h1v1h-1zM28 47h1v1h-1zM31 48h1v1h-1zM23 49h1v1h-1zM27 49h3v1h-3zM14 51h2v1h-2zM28 51h1v1h-1zM6 53h1v1h-1zM25 55h1v1h-1zM12 56h1v1h-1zM24 56h1v1h-1zM26 56h1v1h-1zM8 57h1v1h-1zM32 57h1v1h-1zM12 59h1v1h-1zM29 59h1v1h-1zM32 60h1v1h-1zM18 61h1v1h-1zM30 62h1v1h-1zM28 64h1v1h-1zM23 65h1v1h-1zM32 65h1v1h-1zM27 66h1v1h-1zM24 71h1v1h-1zM29 72h1v1h-1z"/><path fill="#1f1e20" d="M28 6h1v1h-1zM24 10h1v1h-1zM31 11h1v1h-1zM18 13h1v1h-1zM20 13h1v1h-1zM32 15h1v1h-1zM13 17h1v1h-1zM28 17h1v1h-1zM18 20h1v1h-1zM29 20h1v1h-1zM16 21h1v1h-1zM31 21h2v1h-2zM23 22h1v1h-1zM9 23h1v1h-1zM26 23h1v1h-1zM7 25h1v1h-1zM9 25h1v1h-1zM16 26h1v1h-1zM27 26h1v1h-1zM21 27h1v1h-1zM32 27h1v1h-1zM12 30h1v1h-1zM19 31h2v1h-2zM8 33h1v1h-1zM7 35h1v1h-1zM10 35h1v1h-1zM8 36h1v1h-1zM15 37h1v1h-1zM21 37h1v1h-1zM23 37h1v1h-1zM26 38h1v1h-1zM14 39h1v1h-1zM18 41h2v1h-2zM23 41h1v1h-1zM26 42h1v1h-1zM24 43h1v1h-1zM19 44h1v1h-1zM25 44h1v1h-1zM26 47h1v1h-1zM4 49h1v1h-1zM25 49h1v1h-1zM9 50h1v1h-1zM21 51h1v1h-1zM23 51h2v1h-2zM27 51h1v1h-1zM31 51h1v1h-1zM26 52h1v1h-1zM32 52h1v1h-1zM15 53h1v1h-1zM21 53h1v1h-1zM20 54h2v1h-2zM11 55h1v1h-1zM17 55h1v1h-1zM8 56h1v1h-1zM19 56h1v1h-1zM28 56h1v1h-1zM16 57h1v1h-1zM22 58h1v1h-1zM21 59h1v1h-1zM15 60h1v1h-1zM30 60h1v1h-1zM22 61h1v1h-1zM26 61h1v1h-1zM21 64h1v1h-1zM28 65h2v1h-2zM31 65h1v1h-1zM25 67h1v1h-1zM29 74h1v1h-1z"/><path fill="#201e1e" d="M29 6h1v1h-1zM22 12h1v1h-1zM21 14h1v1h-1zM23 15h1v1h-1zM15 16h1v1h-1zM21 16h1v1h-1zM23 16h1v1h-1zM21 17h1v1h-1zM16 20h1v1h-1zM28 20h1v1h-1zM15 21h1v1h-1zM30 21h1v1h-1zM17 22h1v1h-1zM25 23h1v1h-1zM25 24h1v1h-1zM14 25h1v1h-1zM18 25h1v1h-1zM22 25h2v1h-2zM13 27h1v1h-1zM12 28h1v1h-1zM27 29h1v1h-1zM17 32h1v1h-1zM32 33h1v1h-1zM9 34h1v1h-1zM23 34h1v1h-1zM29 34h1v1h-1zM19 36h1v1h-1zM20 37h1v1h-1zM6 39h1v1h-1zM11 39h1v1h-1zM24 39h1v1h-1zM25 40h1v1h-1zM27 40h1v1h-1zM9 41h1v1h-1zM13 42h1v1h-1zM29 45h1v1h-1zM16 46h1v1h-1zM15 47h1v1h-1zM24 47h1v1h-1zM16 48h1v1h-1zM6 49h1v1h-1zM16 49h1v1h-1zM20 49h1v1h-1zM30 49h1v1h-1zM16 52h1v1h-1zM19 52h1v1h-1zM20 55h1v1h-1zM17 56h1v1h-1zM22 56h1v1h-1zM30 56h1v1h-1zM10 57h1v1h-1zM15 57h1v1h-1zM19 57h1v1h-1zM9 58h1v1h-1zM29 58h1v1h-1zM16 59h1v1h-1zM17 60h1v1h-1zM19 60h1v1h-1zM24 60h1v1h-1zM31 60h1v1h-1zM23 61h1v1h-1zM28 62h1v1h-1zM32 62h1v1h-1zM31 63h1v1h-1zM25 64h1v1h-1zM22 66h1v1h-1zM24 66h1v1h-1zM25 70h1v1h-1zM31 70h1v1h-1zM28 73h1v1h-1z"/><path fill="#251e1f" d="M30 6h1v1h-1zM24 9h1v1h-1zM17 11h1v1h-1zM19 12h1v1h-1zM25 13h1v1h-1zM17 14h1v1h-1zM31 14h1v1h-1zM18 15h1v1h-1zM26 15h1v1h-1zM19 16h1v1h-1zM25 16h1v1h-1zM14 17h1v1h-1zM25 17h1v1h-1zM22 18h1v1h-1zM17 19h1v1h-1zM8 21h1v1h-1zM26 21h2v1h-2zM21 22h1v1h-1zM24 22h1v1h-1zM27 22h1v1h-1zM29 22h1v1h-1zM18 24h1v1h-1zM31 25h2v1h-2zM19 26h1v1h-1zM22 26h1v1h-1zM23 27h1v1h-1zM26 27h1v1h-1zM15 29h1v1h-1zM18 33h1v1h-1zM12 34h1v1h-1zM18 34h1v1h-1zM28 34h1v1h-1zM20 35h1v1h-1zM22 38h1v1h-1zM19 39h1v1h-1zM28 39h1v1h-1zM13 40h1v1h-1zM13 41h1v1h-1zM27 41h2v1h-2zM6 42h1v1h-1zM32 43h1v1h-1zM18 44h1v1h-1zM11 46h1v1h-1zM18 46h1v1h-1zM32 47h1v1h-1zM8 48h1v1h-1zM19 49h1v1h-1zM30 50h1v1h-1zM22 52h1v1h-1zM32 55h1v1h-1zM9 57h1v1h-1zM23 59h1v1h-1zM12 60h1v1h-1zM18 60h1v1h-1zM29 60h1v1h-1zM10 62h1v1h-1zM12 62h2v1h-2zM24 64h1v1h-1zM29 64h1v1h-1zM32 64h1v1h-1zM19 66h1v1h-1zM25 66h1v1h-1zM19 67h1v1h-1zM18 69h1v1h-1zM29 69h1v1h-1zM23 70h1v1h-1zM21 71h1v1h-1z"/><path fill="#2a1e20" d="M30 7h1v1h-1zM32 7h1v1h-1zM31 8h1v1h-1zM17 9h1v1h-1zM22 10h1v1h-1zM24 11h1v1h-1zM14 14h1v1h-1zM22 14h1v1h-1zM16 15h1v1h-1zM27 16h1v1h-1zM19 17h1v1h-1zM30 17h1v1h-1zM32 17h1v1h-1zM27 19h1v1h-1zM30 20h1v1h-1zM12 21h1v1h-1zM19 21h1v1h-1zM32 22h1v1h-1zM12 23h1v1h-1zM14 24h1v1h-1zM20 24h1v1h-1zM27 25h1v1h-1zM24 26h1v1h-1zM20 27h1v1h-1zM29 27h1v1h-1zM22 28h1v1h-1zM8 29h1v1h-1zM27 30h1v1h-1zM16 31h1v1h-1zM23 31h1v1h-1zM23 35h1v1h-1zM14 36h1v1h-1zM26 36h1v1h-1zM18 39h1v1h-1zM22 39h1v1h-1zM16 40h1v1h-1zM25 41h1v1h-1zM16 42h1v1h-1zM22 42h1v1h-1zM29 43h1v1h-1zM12 44h1v1h-1zM17 46h1v1h-1zM21 46h1v1h-1zM23 46h1v1h-1zM11 47h1v1h-1zM31 47h1v1h-1zM21 48h1v1h-1zM17 49h1v1h-1zM18 50h1v1h-1zM26 50h1v1h-1zM13 51h1v1h-1zM18 51h1v1h-1zM29 52h1v1h-1zM27 53h1v1h-1zM13 56h1v1h-1zM10 58h1v1h-1zM19 58h1v1h-1zM31 58h1v1h-1zM30 59h1v1h-1zM14 61h2v1h-2zM15 62h1v1h-1zM24 65h1v1h-1zM20 66h1v1h-1zM21 69h1v1h-1zM30 72h1v1h-1zM26 73h1v1h-1z"/><path fill="#311f23" d="M18 8h1v1h-1zM21 9h1v1h-1zM26 10h1v1h-1zM29 10h1v1h-1zM15 12h1v1h-1zM18 12h1v1h-1zM21 12h1v1h-1zM30 12h1v1h-1zM16 16h1v1h-1zM32 16h1v1h-1zM23 17h1v1h-1zM27 18h1v1h-1zM13 20h1v1h-1zM10 22h1v1h-1zM14 22h1v1h-1zM15 24h1v1h-1zM17 29h1v1h-1zM19 30h1v1h-1zM22 32h1v1h-1zM28 33h1v1h-1zM13 34h1v1h-1zM15 34h1v1h-1zM25 35h1v1h-1zM29 35h1v1h-1zM17 36h1v1h-1zM21 36h1v1h-1zM28 36h1v1h-1zM9 37h1v1h-1zM22 37h1v1h-1zM30 37h1v1h-1zM20 38h1v1h-1zM28 38h1v1h-1zM7 40h1v1h-1zM27 42h1v1h-1zM32 42h1v1h-1zM6 44h1v1h-1zM10 44h1v1h-1zM17 44h1v1h-1zM23 44h1v1h-1zM24 46h1v1h-1zM27 46h1v1h-1zM21 47h1v1h-1zM8 51h1v1h-1zM14 53h1v1h-1zM29 53h1v1h-1zM12 54h1v1h-1zM28 54h1v1h-1zM14 55h1v1h-1zM22 55h1v1h-1zM29 56h1v1h-1zM18 58h1v1h-1zM11 59h1v1h-1zM16 60h1v1h-1zM24 61h1v1h-1zM31 61h1v1h-1zM11 62h1v1h-1zM29 63h1v1h-1zM30 67h1v1h-1zM19 68h1v1h-1zM19 69h1v1h-1zM22 70h1v1h-1zM30 71h1v1h-1z"/><path fill="#392126" d="M24 5h1v1h-1zM25 12h1v1h-1zM14 13h1v1h-1zM10 15h1v1h-1zM20 15h1v1h-1zM26 16h1v1h-1zM19 20h1v1h-1zM11 23h1v1h-1zM13 24h1v1h-1zM21 25h1v1h-1zM6 26h1v1h-1zM13 26h1v1h-1zM20 26h1v1h-1zM32 26h1v1h-1zM11 27h1v1h-1zM20 29h1v1h-1zM16 30h1v1h-1zM6 31h1v1h-1zM9 31h1v1h-1zM13 31h1v1h-1zM17 31h1v1h-1zM7 32h1v1h-1zM10 34h1v1h-1zM13 36h1v1h-1zM13 37h1v1h-1zM32 38h1v1h-1zM25 39h1v1h-1zM26 41h1v1h-1zM11 43h1v1h-1zM30 43h1v1h-1zM30 44h1v1h-1zM17 45h1v1h-1zM26 45h1v1h-1zM30 46h1v1h-1zM15 48h1v1h-1zM25 48h2v1h-2zM7 49h1v1h-1zM11 49h1v1h-1zM15 49h1v1h-1zM8 52h1v1h-1zM13 53h1v1h-1zM11 54h1v1h-1zM16 56h1v1h-1zM23 56h1v1h-1zM24 57h1v1h-1zM26 57h1v1h-1zM15 59h1v1h-1zM13 60h1v1h-1zM18 62h1v1h-1zM16 63h1v1h-1zM23 63h1v1h-1zM28 63h1v1h-1zM13 64h1v1h-1zM32 70h1v1h-1zM23 71h1v1h-1z"/><path fill="#412329" d="M32 5h1v1h-1zM25 6h1v1h-1zM19 9h1v1h-1zM22 11h1v1h-1zM17 12h1v1h-1zM14 21h1v1h-1zM26 24h1v1h-1zM22 27h1v1h-1zM31 27h1v1h-1zM10 29h1v1h-1zM25 30h1v1h-1zM8 34h1v1h-1zM17 34h1v1h-1zM13 38h1v1h-1zM16 38h1v1h-1zM27 38h1v1h-1zM12 40h1v1h-1zM24 40h1v1h-1zM22 41h1v1h-1zM24 41h1v1h-1zM5 43h1v1h-1zM31 44h1v1h-1zM13 46h1v1h-1zM9 47h1v1h-1zM27 48h1v1h-1zM9 49h1v1h-1zM24 49h1v1h-1zM31 49h1v1h-1zM19 50h1v1h-1zM10 51h1v1h-1zM22 51h1v1h-1zM10 52h1v1h-1zM10 54h1v1h-1zM32 54h1v1h-1zM10 55h1v1h-1zM27 55h1v1h-1zM10 56h2v1h-2zM29 57h1v1h-1zM32 58h1v1h-1zM10 61h1v1h-1zM17 62h1v1h-1zM27 62h1v1h-1zM12 63h1v1h-1zM20 63h1v1h-1zM19 64h1v1h-1zM15 66h1v1h-1zM31 66h1v1h-1zM28 67h1v1h-1zM30 68h1v1h-1zM19 71h1v1h-1zM31 72h1v1h-1zM30 73h1v1h-1z"/><path fill="#4a252e" d="M32 10h1v1h-1zM24 12h1v1h-1zM17 15h1v1h-1zM18 16h1v1h-1zM20 17h1v1h-1zM31 17h1v1h-1zM10 18h1v1h-1zM10 19h1v1h-1zM26 19h1v1h-1zM20 22h1v1h-1zM11 24h1v1h-1zM24 24h1v1h-1zM7 26h1v1h-1zM14 27h1v1h-1zM18 28h1v1h-1zM21 30h1v1h-1zM26 33h1v1h-1zM12 36h1v1h-1zM20 36h1v1h-1zM23 39h1v1h-1zM12 41h1v1h-1zM7 42h2v1h-2zM8 43h1v1h-1zM31 43h1v1h-1zM22 46h1v1h-1zM16 47h1v1h-1zM18 48h1v1h-1zM12 49h1v1h-1zM6 52h1v1h-1zM16 53h1v1h-1zM17 54h1v1h-1zM13 58h1v1h-1zM28 60h1v1h-1zM20 61h1v1h-1zM30 66h1v1h-1zM20 67h1v1h-1zM27 68h1v1h-1z"/><path fill="#542732" d="M26 8h1v1h-1zM21 13h1v1h-1zM26 13h1v1h-1zM30 13h1v1h-1zM19 15h1v1h-1zM17 20h1v1h-1zM17 21h1v1h-1zM23 21h1v1h-1zM13 23h1v1h-1zM16 24h1v1h-1zM12 25h1v1h-1zM9 29h1v1h-1zM24 31h1v1h-1zM24 34h1v1h-1zM19 37h1v1h-1zM18 45h1v1h-1zM7 46h1v1h-1zM12 46h1v1h-1zM13 49h1v1h-1zM21 50h1v1h-1zM17 51h1v1h-1zM15 52h1v1h-1zM20 52h1v1h-1zM25 54h1v1h-1zM29 54h1v1h-1zM13 55h1v1h-1zM21 57h1v1h-1zM17 59h2v1h-2zM30 64h1v1h-1zM24 67h1v1h-1zM29 67h1v1h-1zM31 67h1v1h-1zM24 72h1v1h-1z"/><path fill="#622937" d="M26 6h1v1h-1zM17 16h1v1h-1zM19 18h1v1h-1zM26 22h1v1h-1zM30 22h2v1h-2zM13 25h1v1h-1zM8 26h1v1h-1zM20 33h1v1h-1zM10 37h1v1h-1zM18 37h1v1h-1zM32 37h1v1h-1zM8 39h1v1h-1zM14 45h1v1h-1zM10 47h1v1h-1zM14 47h1v1h-1zM24 48h1v1h-1zM19 51h1v1h-1zM25 53h1v1h-1zM14 58h1v1h-1zM16 58h1v1h-1zM16 61h1v1h-1zM22 65h1v1h-1zM27 65h1v1h-1zM21 67h1v1h-1zM23 72h1v1h-1z"/><path fill="#6d2b3b" d="M20 7h1v1h-1zM20 8h1v1h-1zM15 22h1v1h-1zM21 28h1v1h-1zM20 41h1v1h-1zM22 43h1v1h-1zM21 49h1v1h-1zM30 54h1v1h-1zM15 55h1v1h-1zM7 57h1v1h-1zM26 60h1v1h-1zM26 65h1v1h-1z"/><path fill="#782c3f" d="M32 6h1v1h-1zM20 11h1v1h-1zM15 14h1v1h-1zM31 15h1v1h-1zM8 24h1v1h-1zM18 36h1v1h-1zM9 39h1v1h-1zM14 50h1v1h-1zM11 57h1v1h-1zM21 60h1v1h-1zM30 69h1v1h-1zM32 71h1v1h-1z"/><path fill="#842d42" d="M17 10h2v1h-2zM27 11h1v1h-1zM22 13h1v1h-1zM13 21h1v1h-1zM8 25h1v1h-1zM16 25h1v1h-1zM12 32h1v1h-1zM23 33h1v1h-1zM14 41h1v1h-1zM19 43h2v1h-2zM32 45h1v1h-1zM7 48h1v1h-1zM16 51h1v1h-1zM20 51h1v1h-1zM25 59h1v1h-1zM17 63h1v1h-1z"/><path fill="#902e44" d="M31 7h1v1h-1zM23 10h1v1h-1zM8 23h1v1h-1zM22 30h1v1h-1zM22 40h1v1h-1zM14 48h1v1h-1zM32 48h1v1h-1zM13 57h1v1h-1zM23 67h1v1h-1z"/><path fill="#9c2f45" d="M15 15h1v1h-1zM7 23h1v1h-1zM29 47h1v1h-1zM29 62h1v1h-1z"/><path fill="#a83044" d="M20 9h1v1h-1zM32 28h1v1h-1zM22 47h1v1h-1zM22 71h1v1h-1zM24 73h1v1h-1z"/><path fill="#b33341" d="M25 10h1v1h-1zM25 20h1v1h-1zM21 21h1v1h-1zM10 25h1v1h-1zM6 43h1v1h-1zM15 46h1v1h-1zM12 55h1v1h-1z"/><path fill="#be373e" d="M16 35h1v1h-1zM10 39h1v1h-1zM10 42h1v1h-1zM28 48h1v1h-1zM16 62h1v1h-1z"/><path fill="#c73d3b" d="M10 33h1v1h-1zM26 63h1v1h-1z"/><path fill="#d04537" d="M31 6h1v1h-1zM29 13h1v1h-1zM30 15h1v1h-1zM32 19h1v1h-1zM31 23h1v1h-1zM7 29h1v1h-1zM14 32h1v1h-1zM8 40h1v1h-1zM26 40h1v1h-1zM28 57h1v1h-1zM10 60h1v1h-1zM21 62h1v1h-1zM19 65h1v1h-1zM18 67h1v1h-1z"/><path fill="#d74e35" d="M24 6h1v1h-1zM23 8h1v1h-1zM28 12h1v1h-1zM27 14h1v1h-1zM10 26h1v1h-1zM16 34h1v1h-1zM9 46h1v1h-1zM11 53h1v1h-1zM20 56h1v1h-1zM20 62h1v1h-1zM18 65h1v1h-1zM32 67h1v1h-1zM26 70h1v1h-1z"/><path fill="#df5a33" d="M29 19h1v1h-1zM6 30h1v1h-1zM22 34h1v1h-1zM27 36h1v1h-1zM10 40h1v1h-1zM15 42h1v1h-1zM6 45h1v1h-1zM22 54h1v1h-1zM11 61h1v1h-1zM27 61h1v1h-1zM14 63h1v1h-1zM28 71h1v1h-1z"/><path fill="#e56433" d="M24 17h1v1h-1zM23 24h1v1h-1zM11 26h1v1h-1zM31 26h1v1h-1zM18 32h1v1h-1zM12 35h1v1h-1zM19 35h1v1h-1zM14 62h1v1h-1zM32 68h1v1h-1z"/><path fill="#e96f36" d="M23 23h1v1h-1zM13 43h1v1h-1zM16 43h1v1h-1zM7 44h1v1h-1zM7 53h1v1h-1zM7 55h1v1h-1zM17 68h1v1h-1zM28 68h1v1h-1z"/><path fill="#ed7b3e" d="M19 10h1v1h-1zM24 15h1v1h-1zM10 17h1v1h-1zM28 18h1v1h-1zM15 27h1v1h-1zM27 57h1v1h-1zM32 61h1v1h-1zM19 62h1v1h-1zM17 64h1v1h-1z"/><path fill="#ef8748" d="M30 14h1v1h-1zM12 17h1v1h-1zM11 25h1v1h-1zM11 35h1v1h-1zM31 46h1v1h-1zM16 65h1v1h-1zM28 69h1v1h-1z"/><path fill="#f29255" d="M28 7h1v1h-1zM26 14h1v1h-1zM29 17h1v1h-1zM11 18h1v1h-1zM9 24h1v1h-1zM12 24h1v1h-1zM7 30h1v1h-1zM11 36h1v1h-1zM24 36h1v1h-1zM11 41h1v1h-1zM18 42h1v1h-1zM9 44h1v1h-1zM6 47h1v1h-1zM13 48h1v1h-1zM10 53h1v1h-1zM26 54h1v1h-1zM9 59h1v1h-1z"/><path fill="#f49d63" d="M23 9h1v1h-1zM19 11h1v1h-1zM24 13h1v1h-1zM25 22h1v1h-1zM30 26h1v1h-1zM8 30h1v1h-1zM11 34h1v1h-1zM15 45h1v1h-1zM19 53h1v1h-1zM7 54h1v1h-1zM17 65h1v1h-1zM31 71h1v1h-1z"/><path fill="#f6a871" d="M19 8h1v1h-1zM23 13h1v1h-1zM18 23h1v1h-1zM30 25h1v1h-1zM28 32h1v1h-1zM32 39h1v1h-1zM21 41h1v1h-1zM15 44h1v1h-1zM24 54h1v1h-1zM8 55h1v1h-1z"/><path fill="#f8b380" d="M30 11h1v1h-1zM28 15h1v1h-1zM28 16h1v1h-1zM19 63h1v1h-1zM18 66h1v1h-1z"/><path fill="#ffd4ac" d="M31 3h1v1h-1zM22 4h10v1h-10zM19 5h4v1h-4zM17 6h5v1h-5zM23 6h1v1h-1zM16 7h2v1h-2zM21 7h1v1h-1zM23 7h1v1h-1zM14 8h3v1h-3zM24 8h1v1h-1zM29 8h1v1h-1zM13 9h2v1h-2zM28 9h3v1h-3zM12 10h2v1h-2zM16 10h1v1h-1zM27 10h1v1h-1zM11 11h2v1h-2zM26 11h1v1h-1zM28 11h1v1h-1zM11 12h1v1h-1zM13 12h1v1h-1zM10 13h4v1h-4zM19 13h1v1h-1zM28 13h1v1h-1zM9 14h4v1h-4zM28 14h2v1h-2zM9 15h1v1h-1zM13 15h1v1h-1zM29 15h1v1h-1zM8 16h2v1h-2zM11 16h1v1h-1zM29 16h1v1h-1zM8 17h2v1h-2zM7 18h2v1h-2zM31 18h1v1h-1zM7 19h1v1h-1zM24 19h1v1h-1zM6 20h2v1h-2zM14 20h1v1h-1zM6 21h1v1h-1zM24 21h2v1h-2zM5 22h2v1h-2zM5 23h2v1h-2zM10 23h1v1h-1zM17 23h1v1h-1zM5 24h1v1h-1zM17 24h1v1h-1zM31 24h1v1h-1zM5 25h1v1h-1zM28 25h1v1h-1zM5 26h1v1h-1zM9 26h1v1h-1zM12 26h1v1h-1zM23 26h1v1h-1zM4 27h2v1h-2zM7 27h4v1h-4zM25 27h1v1h-1zM27 27h2v1h-2zM4 28h2v1h-2zM7 28h1v1h-1zM10 28h1v1h-1zM28 28h1v1h-1zM31 28h1v1h-1zM4 29h1v1h-1zM6 29h1v1h-1zM12 29h1v1h-1zM25 29h1v1h-1zM28 29h2v1h-2zM4 30h1v1h-1zM29 30h1v1h-1zM4 31h1v1h-1zM15 31h1v1h-1zM29 31h2v1h-2zM4 32h1v1h-1zM6 32h1v1h-1zM16 32h1v1h-1zM20 32h2v1h-2zM31 32h1v1h-1zM4 33h1v1h-1zM9 33h1v1h-1zM11 33h1v1h-1zM14 33h1v1h-1zM21 33h2v1h-2zM30 33h1v1h-1zM4 34h1v1h-1zM19 34h1v1h-1zM26 34h1v1h-1zM4 35h1v1h-1zM13 35h1v1h-1zM22 35h1v1h-1zM24 35h1v1h-1zM27 35h1v1h-1zM30 35h2v1h-2zM23 36h1v1h-1zM30 36h2v1h-2zM4 37h2v1h-2zM24 37h1v1h-1zM28 37h1v1h-1zM4 38h1v1h-1zM6 38h2v1h-2zM9 38h2v1h-2zM29 38h3v1h-3zM4 39h2v1h-2zM30 39h1v1h-1zM3 40h4v1h-4zM30 40h1v1h-1zM32 40h1v1h-1zM3 41h1v1h-1zM5 41h4v1h-4zM17 41h1v1h-1zM30 41h1v1h-1zM3 42h1v1h-1zM5 42h1v1h-1zM9 42h1v1h-1zM11 42h2v1h-2zM17 42h1v1h-1zM25 42h1v1h-1zM3 43h1v1h-1zM14 43h2v1h-2zM18 43h1v1h-1zM3 44h1v1h-1zM14 44h1v1h-1zM28 44h2v1h-2zM3 45h3v1h-3zM8 45h1v1h-1zM23 45h1v1h-1zM28 45h1v1h-1zM3 46h1v1h-1zM5 46h2v1h-2zM14 46h1v1h-1zM28 46h1v1h-1zM3 47h1v1h-1zM5 47h1v1h-1zM4 48h3v1h-3zM3 49h1v1h-1zM3 50h3v1h-3zM4 51h1v1h-1zM4 52h1v1h-1zM7 52h1v1h-1zM9 52h1v1h-1zM11 52h1v1h-1zM31 52h1v1h-1zM4 53h1v1h-1zM8 53h2v1h-2zM20 53h1v1h-1zM31 53h1v1h-1zM4 54h2v1h-2zM8 54h2v1h-2zM23 54h1v1h-1zM5 55h1v1h-1zM16 55h1v1h-1zM18 55h2v1h-2zM26 55h1v1h-1zM5 56h1v1h-1zM25 56h1v1h-1zM18 57h1v1h-1zM5 58h2v1h-2zM11 58h1v1h-1zM27 58h1v1h-1zM6 59h2v1h-2zM26 59h3v1h-3zM7 60h1v1h-1zM11 60h1v1h-1zM27 60h1v1h-1zM7 61h2v1h-2zM13 61h1v1h-1zM28 61h1v1h-1zM8 62h2v1h-2zM26 62h1v1h-1zM31 62h1v1h-1zM9 63h3v1h-3zM13 63h1v1h-1zM15 63h1v1h-1zM18 63h1v1h-1zM10 64h2v1h-2zM14 64h3v1h-3zM18 64h1v1h-1zM27 64h1v1h-1zM11 65h2v1h-2zM15 65h1v1h-1zM12 66h3v1h-3zM16 66h2v1h-2zM13 67h2v1h-2zM16 67h1v1h-1zM14 68h2v1h-2zM29 68h1v1h-1zM15 69h2v1h-2zM22 69h1v1h-1zM31 69h2v1h-2zM16 70h2v1h-2zM27 70h1v1h-1zM17 71h2v1h-2zM20 72h1v1h-1zM26 72h1v1h-1zM32 72h1v1h-1zM20 73h4v1h-4zM27 73h1v1h-1zM22 74h5v1h-5zM30 74h1v1h-1zM26 75h4v1h-4zM31 75h2v1h-2z"/></g><use href="#h11" x="35"/></g><rect x="616" y="569" width="57" height="75.8" fill="none" stroke="#ffff00" stroke-width="4.3"/><rect x="727" y="451.9" width="15.8" height="309.4" fill="url(#g1)"/><rect x="742.8" y="451.10" width="13.2" height="2.8" fill="#262626"/><text x="762.7" y="0" font-size="22" transform="translate(0,460.25) scale(1,1.045)">10%</text><rect x="742.8" y="554.23" width="13.2" height="2.8" fill="#262626"/><text x="762.7" y="0" font-size="22" transform="translate(0,563.38) scale(1,1.045)">5%</text><rect x="742.8" y="657.37" width="13.2" height="2.8" fill="#262626"/><text x="762.7" y="0" font-size="22" transform="translate(0,666.52) scale(1,1.045)">0%</text><rect x="742.8" y="760.50" width="13.2" height="2.8" fill="#262626"/><text x="762.7" y="0" font-size="22" transform="translate(0,769.65) scale(1,1.045)">-5%</text><text x="976.0" y="81.8" text-anchor="middle" font-size="25">FA</text><rect x="843.5" y="106.5" width="265" height="303.7" fill="#1f1e1e" stroke="#0e0e0e" stroke-width="1"/><g transform="translate(843,106) scale(3.80000,3.80875)" shape-rendering="crispEdges"><g id="h20"><path fill="#bde7db" d="M31 3h2v1h-2zM22 4h10v1h-10zM19 5h4v1h-4zM17 6h3v1h-3zM16 7h2v1h-2zM14 8h3v1h-3zM13 9h2v1h-2zM12 10h2v1h-2zM11 11h2v1h-2zM11 12h1v1h-1zM10 13h2v1h-2zM9 14h2v1h-2zM9 15h1v1h-1zM8 16h2v1h-2zM8 17h1v1h-1zM7 18h2v1h-2zM7 19h1v1h-1zM6 20h2v1h-2zM6 21h1v1h-1zM5 22h2v1h-2zM5 23h1v1h-1zM5 24h1v1h-1zM5 25h1v1h-1zM5 26h1v1h-1zM5 27h1v1h-1zM4 28h1v1h-1zM4 29h1v1h-1zM4 30h1v1h-1zM4 31h1v1h-1zM4 32h1v1h-1zM4 33h1v1h-1zM4 34h1v1h-1zM4 35h1v1h-1zM4 36h1v1h-1zM4 37h1v1h-1zM4 39h1v1h-1zM3 40h2v1h-2zM3 41h1v1h-1zM3 42h1v1h-1zM3 43h1v1h-1zM3 44h1v1h-1zM3 45h1v1h-1zM3 46h1v1h-1zM3 47h1v1h-1zM3 48h1v1h-1zM3 49h1v1h-1zM3 50h1v1h-1zM4 51h1v1h-1zM4 52h1v1h-1zM4 53h1v1h-1zM4 54h2v1h-2zM5 55h1v1h-1zM5 56h1v1h-1zM5 57h1v1h-1zM5 58h2v1h-2zM6 59h2v1h-2zM7 60h1v1h-1zM7 61h2v1h-2zM8 62h2v1h-2zM9 63h2v1h-2zM10 64h1v1h-1zM11 65h2v1h-2zM12 66h2v1h-2zM13 67h2v1h-2zM14 68h2v1h-2zM15 69h2v1h-2zM16 70h2v1h-2zM17 71h2v1h-2zM18 72h3v1h-3zM20 73h3v1h-3zM22 74h4v1h-4zM25 75h8v1h-8z"/><path fill="#95cbd2" d="M26 5h1v1h-1zM4 45h1v1h-1zM5 53h1v1h-1zM31 53h1v1h-1zM8 60h1v1h-1zM27 63h1v1h-1zM14 66h1v1h-1zM20 71h1v1h-1zM22 72h1v1h-1zM30 74h1v1h-1z"/><path fill="#8ac4d0" d="M29 5h1v1h-1zM12 13h1v1h-1zM6 24h1v1h-1zM6 27h1v1h-1zM6 42h1v1h-1zM14 47h1v1h-1zM11 63h1v1h-1zM23 65h1v1h-1zM22 66h1v1h-1zM31 66h1v1h-1zM32 67h1v1h-1zM31 68h1v1h-1z"/><path fill="#81bfcf" d="M28 7h1v1h-1zM15 22h1v1h-1zM5 32h1v1h-1zM24 43h1v1h-1zM20 56h1v1h-1zM14 64h1v1h-1zM31 70h1v1h-1zM28 74h1v1h-1z"/><path fill="#75b8ce" d="M12 12h1v1h-1zM10 16h1v1h-1zM6 25h1v1h-1zM19 35h1v1h-1zM10 38h1v1h-1zM13 39h1v1h-1zM6 41h1v1h-1zM14 48h1v1h-1zM28 63h1v1h-1zM19 71h1v1h-1zM32 73h1v1h-1zM27 74h1v1h-1z"/><path fill="#68b0cd" d="M12 15h1v1h-1zM29 15h1v1h-1zM21 19h1v1h-1zM13 29h1v1h-1zM13 38h1v1h-1zM7 41h1v1h-1zM13 41h1v1h-1zM21 47h1v1h-1zM26 63h1v1h-1zM13 65h1v1h-1z"/><path fill="#60abcd" d="M32 4h1v1h-1zM23 5h2v1h-2zM29 7h1v1h-1zM28 8h1v1h-1zM12 14h1v1h-1zM8 19h1v1h-1zM5 39h1v1h-1zM8 41h1v1h-1zM7 45h1v1h-1zM5 50h1v1h-1zM19 66h1v1h-1zM27 68h1v1h-1zM32 68h1v1h-1zM27 71h1v1h-1zM30 71h1v1h-1zM23 73h1v1h-1zM31 74h1v1h-1z"/><path fill="#55a3cd" d="M24 6h1v1h-1zM15 9h1v1h-1zM7 29h1v1h-1zM5 40h2v1h-2zM11 42h1v1h-1zM6 43h1v1h-1zM5 47h1v1h-1zM31 52h1v1h-1zM6 55h1v1h-1zM29 58h1v1h-1zM32 66h1v1h-1zM28 69h1v1h-1z"/><path fill="#4e9ecd" d="M28 15h1v1h-1zM20 17h1v1h-1zM12 39h1v1h-1zM7 43h1v1h-1zM8 44h1v1h-1zM5 45h1v1h-1zM5 48h1v1h-1zM5 52h1v1h-1zM29 60h1v1h-1zM28 64h1v1h-1zM27 66h2v1h-2zM31 69h1v1h-1zM18 70h1v1h-1zM31 71h1v1h-1zM21 72h1v1h-1zM32 74h1v1h-1z"/><path fill="#4596ce" d="M14 45h1v1h-1zM17 46h1v1h-1zM13 64h1v1h-1zM20 65h1v1h-1zM30 67h1v1h-1z"/><path fill="#3e8ecf" d="M29 8h1v1h-1zM15 17h1v1h-1zM12 41h1v1h-1zM8 42h1v1h-1zM12 42h1v1h-1zM11 43h1v1h-1zM4 47h1v1h-1zM9 59h1v1h-1zM10 62h1v1h-1zM21 65h1v1h-1zM17 69h1v1h-1z"/><path fill="#3987cf" d="M9 18h1v1h-1zM13 40h1v1h-1zM4 48h1v1h-1zM30 53h1v1h-1z"/><path fill="#4265c5" d="M30 6h2v1h-2zM25 7h2v1h-2zM15 11h1v1h-1zM19 11h1v1h-1zM31 11h1v1h-1zM28 12h1v1h-1zM13 13h1v1h-1zM18 14h1v1h-1zM14 16h1v1h-1zM29 17h1v1h-1zM20 20h1v1h-1zM25 21h1v1h-1zM18 22h1v1h-1zM15 23h1v1h-1zM14 26h1v1h-1zM30 27h1v1h-1zM6 29h1v1h-1zM8 30h1v1h-1zM30 30h1v1h-1zM30 31h1v1h-1zM14 32h1v1h-1zM31 32h1v1h-1zM31 33h1v1h-1zM16 34h1v1h-1zM12 38h1v1h-1zM21 41h1v1h-1zM14 42h2v1h-2zM19 42h1v1h-1zM12 43h1v1h-1zM31 43h1v1h-1zM11 45h1v1h-1zM11 46h1v1h-1zM13 46h1v1h-1zM12 47h1v1h-1zM18 48h1v1h-1zM21 48h2v1h-2zM12 49h1v1h-1zM19 55h2v1h-2zM25 55h1v1h-1zM10 59h1v1h-1zM28 59h1v1h-1zM29 65h1v1h-1zM29 68h1v1h-1zM29 69h1v1h-1zM28 72h1v1h-1z"/><path fill="#465ebe" d="M23 6h1v1h-1zM29 6h1v1h-1zM19 8h1v1h-1zM28 10h2v1h-2zM18 13h1v1h-1zM11 14h1v1h-1zM11 15h1v1h-1zM30 17h1v1h-1zM27 18h1v1h-1zM32 18h1v1h-1zM22 19h1v1h-1zM26 20h1v1h-1zM28 20h1v1h-1zM16 23h1v1h-1zM18 23h1v1h-1zM7 28h2v1h-2zM31 28h1v1h-1zM5 29h1v1h-1zM9 29h1v1h-1zM31 29h1v1h-1zM14 30h1v1h-1zM31 30h1v1h-1zM21 32h1v1h-1zM29 32h1v1h-1zM32 32h1v1h-1zM14 33h1v1h-1zM25 33h1v1h-1zM29 33h1v1h-1zM17 34h1v1h-1zM31 34h1v1h-1zM20 35h1v1h-1zM25 35h1v1h-1zM18 36h1v1h-1zM25 36h2v1h-2zM24 38h1v1h-1zM11 39h1v1h-1zM14 39h1v1h-1zM12 40h1v1h-1zM4 41h1v1h-1zM16 41h1v1h-1zM4 43h1v1h-1zM17 43h1v1h-1zM4 44h1v1h-1zM9 44h1v1h-1zM13 45h1v1h-1zM18 47h1v1h-1zM28 49h1v1h-1zM22 50h1v1h-1zM12 53h1v1h-1zM7 58h1v1h-1zM20 58h1v1h-1zM28 58h1v1h-1zM16 59h1v1h-1zM25 59h1v1h-1zM25 63h1v1h-1zM19 64h1v1h-1zM14 65h1v1h-1zM32 65h1v1h-1zM21 66h1v1h-1zM26 66h1v1h-1zM27 67h1v1h-1zM30 69h1v1h-1zM32 69h1v1h-1zM19 70h1v1h-1zM25 73h1v1h-1z"/><path fill="#4956b3" d="M28 9h1v1h-1zM30 9h1v1h-1zM30 10h1v1h-1zM19 12h1v1h-1zM14 15h1v1h-1zM27 16h1v1h-1zM26 18h1v1h-1zM32 20h1v1h-1zM13 21h1v1h-1zM13 23h1v1h-1zM21 23h1v1h-1zM18 24h1v1h-1zM10 25h2v1h-2zM9 26h1v1h-1zM7 27h1v1h-1zM32 27h1v1h-1zM10 28h1v1h-1zM8 29h1v1h-1zM14 29h1v1h-1zM24 29h1v1h-1zM9 30h2v1h-2zM23 30h1v1h-1zM29 31h1v1h-1zM30 33h1v1h-1zM14 34h1v1h-1zM12 37h1v1h-1zM18 37h1v1h-1zM14 40h1v1h-1zM9 41h1v1h-1zM11 41h1v1h-1zM17 41h1v1h-1zM20 41h1v1h-1zM29 47h1v1h-1zM4 49h1v1h-1zM14 49h1v1h-1zM12 50h1v1h-1zM13 52h1v1h-1zM14 53h1v1h-1zM18 55h1v1h-1zM19 56h1v1h-1zM21 56h1v1h-1zM15 62h1v1h-1zM22 65h1v1h-1zM30 66h1v1h-1zM29 67h1v1h-1zM31 67h1v1h-1zM20 70h1v1h-1z"/><path fill="#4a4fa5" d="M14 10h1v1h-1zM20 11h1v1h-1zM20 12h1v1h-1zM27 13h1v1h-1zM29 13h1v1h-1zM24 14h1v1h-1zM10 15h1v1h-1zM27 19h1v1h-1zM13 22h1v1h-1zM11 23h1v1h-1zM14 23h1v1h-1zM9 25h1v1h-1zM17 25h1v1h-1zM28 25h1v1h-1zM4 27h1v1h-1zM25 28h1v1h-1zM10 29h1v1h-1zM12 29h1v1h-1zM13 31h1v1h-1zM12 32h1v1h-1zM20 34h1v1h-1zM32 34h1v1h-1zM8 35h1v1h-1zM24 35h1v1h-1zM27 37h1v1h-1zM4 38h1v1h-1zM10 39h1v1h-1zM9 40h1v1h-1zM14 41h1v1h-1zM21 42h1v1h-1zM8 43h1v1h-1zM16 43h1v1h-1zM7 44h1v1h-1zM14 44h3v1h-3zM9 45h1v1h-1zM13 48h1v1h-1zM32 48h1v1h-1zM4 50h1v1h-1zM31 51h2v1h-2zM23 52h1v1h-1zM30 52h1v1h-1zM32 52h1v1h-1zM32 53h1v1h-1zM14 54h1v1h-1zM18 54h1v1h-1zM9 56h1v1h-1zM9 58h1v1h-1zM21 58h1v1h-1zM26 58h1v1h-1zM9 60h1v1h-1zM16 61h1v1h-1zM28 62h1v1h-1zM12 63h1v1h-1zM11 64h1v1h-1zM22 68h1v1h-1zM27 69h1v1h-1zM29 70h1v1h-1z"/><path fill="#494a9a" d="M28 5h1v1h-1zM27 9h1v1h-1zM30 12h1v1h-1zM19 13h1v1h-1zM13 15h1v1h-1zM24 15h1v1h-1zM27 15h1v1h-1zM28 16h1v1h-1zM14 17h1v1h-1zM16 18h1v1h-1zM20 18h1v1h-1zM28 18h1v1h-1zM21 20h1v1h-1zM17 23h1v1h-1zM17 24h1v1h-1zM10 26h1v1h-1zM28 26h1v1h-1zM9 27h1v1h-1zM25 29h1v1h-1zM7 30h1v1h-1zM32 30h1v1h-1zM15 32h2v1h-2zM26 34h1v1h-1zM8 36h1v1h-1zM32 36h1v1h-1zM24 37h2v1h-2zM7 40h1v1h-1zM25 41h1v1h-1zM7 42h1v1h-1zM20 42h1v1h-1zM14 43h1v1h-1zM18 43h1v1h-1zM8 45h1v1h-1zM15 45h1v1h-1zM14 46h2v1h-2zM18 46h1v1h-1zM19 47h1v1h-1zM22 47h1v1h-1zM6 48h1v1h-1zM29 48h1v1h-1zM15 51h1v1h-1zM11 53h1v1h-1zM21 53h1v1h-1zM25 54h1v1h-1zM12 56h1v1h-1zM8 58h1v1h-1zM10 58h1v1h-1zM23 58h1v1h-1zM30 58h1v1h-1zM8 59h1v1h-1zM24 59h1v1h-1zM15 61h1v1h-1zM12 62h1v1h-1zM19 63h1v1h-1zM17 64h1v1h-1zM28 65h1v1h-1zM23 66h1v1h-1zM22 69h1v1h-1zM27 70h1v1h-1zM32 72h1v1h-1zM30 73h2v1h-2z"/><path fill="#46458a" d="M28 6h1v1h-1zM18 11h1v1h-1zM23 18h1v1h-1zM11 19h1v1h-1zM20 19h1v1h-1zM14 22h1v1h-1zM31 24h1v1h-1zM8 25h1v1h-1zM13 26h1v1h-1zM8 27h1v1h-1zM10 27h1v1h-1zM6 30h1v1h-1zM28 31h1v1h-1zM30 32h1v1h-1zM17 35h1v1h-1zM23 35h1v1h-1zM13 37h2v1h-2zM23 37h1v1h-1zM18 38h1v1h-1zM15 43h1v1h-1zM6 46h1v1h-1zM28 47h1v1h-1zM32 50h1v1h-1zM13 53h1v1h-1zM17 55h1v1h-1zM26 55h1v1h-1zM21 57h1v1h-1zM27 65h1v1h-1zM21 67h1v1h-1zM28 68h1v1h-1zM21 70h1v1h-1zM32 71h1v1h-1zM30 72h1v1h-1z"/><path fill="#42407b" d="M25 5h1v1h-1zM16 9h2v1h-2zM31 9h1v1h-1zM21 10h1v1h-1zM14 12h1v1h-1zM17 13h1v1h-1zM16 14h1v1h-1zM12 16h1v1h-1zM25 17h1v1h-1zM19 19h1v1h-1zM29 22h1v1h-1zM14 24h1v1h-1zM15 25h1v1h-1zM21 25h1v1h-1zM16 27h2v1h-2zM14 28h2v1h-2zM15 30h1v1h-1zM28 30h1v1h-1zM6 32h2v1h-2zM9 33h1v1h-1zM25 34h1v1h-1zM22 35h1v1h-1zM29 35h1v1h-1zM32 35h1v1h-1zM9 37h2v1h-2zM29 37h1v1h-1zM7 38h2v1h-2zM23 40h1v1h-1zM31 40h1v1h-1zM10 42h1v1h-1zM23 43h1v1h-1zM27 43h1v1h-1zM30 43h1v1h-1zM28 44h1v1h-1zM30 47h1v1h-1zM7 48h1v1h-1zM7 49h1v1h-1zM10 49h1v1h-1zM31 49h2v1h-2zM8 50h1v1h-1zM17 50h1v1h-1zM26 50h1v1h-1zM10 52h1v1h-1zM12 52h1v1h-1zM18 52h1v1h-1zM26 52h1v1h-1zM19 54h1v1h-1zM30 54h1v1h-1zM14 55h1v1h-1zM23 56h1v1h-1zM12 58h1v1h-1zM22 58h1v1h-1zM18 59h1v1h-1zM19 62h1v1h-1zM29 62h1v1h-1zM17 66h1v1h-1zM16 67h2v1h-2z"/><path fill="#3e3c70" d="M31 7h1v1h-1zM20 8h1v1h-1zM22 8h1v1h-1zM26 8h1v1h-1zM22 9h1v1h-1zM15 10h1v1h-1zM23 10h1v1h-1zM17 11h1v1h-1zM28 11h2v1h-2zM30 13h1v1h-1zM20 15h1v1h-1zM25 15h1v1h-1zM32 15h1v1h-1zM18 16h1v1h-1zM21 16h1v1h-1zM24 16h1v1h-1zM12 17h1v1h-1zM18 17h1v1h-1zM21 17h1v1h-1zM12 18h1v1h-1zM14 18h2v1h-2zM13 19h1v1h-1zM16 19h1v1h-1zM31 19h1v1h-1zM8 20h1v1h-1zM31 20h1v1h-1zM10 21h1v1h-1zM16 21h1v1h-1zM22 21h2v1h-2zM26 21h1v1h-1zM30 21h1v1h-1zM16 22h1v1h-1zM30 22h2v1h-2zM26 23h1v1h-1zM21 24h1v1h-1zM24 24h1v1h-1zM29 24h1v1h-1zM12 25h1v1h-1zM27 25h1v1h-1zM12 26h1v1h-1zM18 26h1v1h-1zM26 26h1v1h-1zM15 27h1v1h-1zM20 27h2v1h-2zM25 27h2v1h-2zM20 28h1v1h-1zM22 28h1v1h-1zM32 28h1v1h-1zM19 29h1v1h-1zM12 31h1v1h-1zM19 31h1v1h-1zM21 31h1v1h-1zM13 32h1v1h-1zM27 32h1v1h-1zM13 33h1v1h-1zM18 33h1v1h-1zM24 33h1v1h-1zM32 33h1v1h-1zM30 34h1v1h-1zM5 35h1v1h-1zM11 36h1v1h-1zM13 36h1v1h-1zM24 36h1v1h-1zM5 37h1v1h-1zM8 37h1v1h-1zM19 37h1v1h-1zM28 37h1v1h-1zM14 38h1v1h-1zM29 38h1v1h-1zM19 39h1v1h-1zM22 39h3v1h-3zM10 40h1v1h-1zM18 40h1v1h-1zM20 40h1v1h-1zM25 42h1v1h-1zM30 42h1v1h-1zM32 42h1v1h-1zM22 43h1v1h-1zM32 44h1v1h-1zM6 45h1v1h-1zM18 45h1v1h-1zM23 45h1v1h-1zM4 46h1v1h-1zM8 46h1v1h-1zM25 46h1v1h-1zM27 46h1v1h-1zM29 46h1v1h-1zM8 47h1v1h-1zM11 47h1v1h-1zM12 48h1v1h-1zM31 48h1v1h-1zM13 49h1v1h-1zM18 49h3v1h-3zM26 49h1v1h-1zM7 50h1v1h-1zM13 51h1v1h-1zM25 51h1v1h-1zM27 51h1v1h-1zM15 52h1v1h-1zM24 52h1v1h-1zM27 52h1v1h-1zM15 53h1v1h-1zM22 53h1v1h-1zM9 54h1v1h-1zM15 54h2v1h-2zM20 54h1v1h-1zM13 55h1v1h-1zM31 55h1v1h-1zM11 56h1v1h-1zM14 56h1v1h-1zM17 56h1v1h-1zM12 57h1v1h-1zM16 57h1v1h-1zM24 57h1v1h-1zM26 57h1v1h-1zM32 58h1v1h-1zM12 60h1v1h-1zM20 60h1v1h-1zM14 61h1v1h-1zM21 61h1v1h-1zM31 61h1v1h-1zM20 62h1v1h-1zM23 64h1v1h-1zM15 65h1v1h-1zM18 65h2v1h-2zM26 65h1v1h-1zM24 66h1v1h-1zM20 67h1v1h-1zM23 67h1v1h-1z"/><path fill="#393763" d="M25 6h1v1h-1zM21 7h1v1h-1zM18 9h1v1h-1zM23 9h1v1h-1zM25 10h3v1h-3zM14 11h1v1h-1zM26 13h1v1h-1zM27 14h1v1h-1zM32 14h1v1h-1zM15 15h1v1h-1zM31 15h1v1h-1zM22 16h1v1h-1zM31 16h1v1h-1zM10 18h1v1h-1zM27 20h1v1h-1zM29 20h1v1h-1zM20 21h1v1h-1zM31 21h1v1h-1zM21 22h1v1h-1zM24 23h2v1h-2zM16 24h1v1h-1zM28 24h1v1h-1zM32 24h1v1h-1zM14 25h1v1h-1zM22 26h1v1h-1zM32 26h1v1h-1zM23 27h1v1h-1zM17 28h1v1h-1zM23 28h1v1h-1zM15 29h1v1h-1zM23 29h1v1h-1zM22 30h1v1h-1zM24 30h1v1h-1zM17 31h1v1h-1zM12 33h1v1h-1zM7 34h1v1h-1zM24 34h1v1h-1zM21 36h1v1h-1zM15 37h1v1h-1zM21 37h1v1h-1zM23 38h1v1h-1zM30 38h2v1h-2zM25 39h1v1h-1zM29 39h1v1h-1zM16 40h1v1h-1zM19 40h1v1h-1zM22 40h1v1h-1zM27 40h1v1h-1zM4 42h1v1h-1zM5 43h1v1h-1zM32 43h1v1h-1zM19 44h1v1h-1zM20 45h1v1h-1zM28 45h1v1h-1zM32 45h1v1h-1zM10 46h1v1h-1zM24 46h1v1h-1zM30 46h1v1h-1zM17 47h1v1h-1zM25 47h1v1h-1zM31 47h1v1h-1zM10 48h1v1h-1zM24 48h2v1h-2zM29 49h1v1h-1zM15 50h1v1h-1zM28 50h1v1h-1zM6 51h1v1h-1zM22 51h3v1h-3zM22 52h1v1h-1zM16 53h1v1h-1zM26 53h1v1h-1zM27 54h1v1h-1zM29 55h1v1h-1zM16 56h1v1h-1zM22 56h1v1h-1zM13 58h1v1h-1zM29 59h1v1h-1zM15 60h1v1h-1zM27 60h1v1h-1zM31 60h1v1h-1zM16 62h1v1h-1zM23 62h1v1h-1zM18 64h1v1h-1zM16 66h1v1h-1zM25 67h1v1h-1zM18 68h1v1h-1zM21 68h1v1h-1zM18 69h1v1h-1zM21 69h1v1h-1zM22 71h1v1h-1z"/><path fill="#343356" d="M31 5h1v1h-1zM22 6h1v1h-1zM17 8h1v1h-1zM21 8h1v1h-1zM23 8h1v1h-1zM25 8h1v1h-1zM27 8h1v1h-1zM30 8h1v1h-1zM19 9h2v1h-2zM17 12h1v1h-1zM22 12h1v1h-1zM29 12h1v1h-1zM16 13h1v1h-1zM25 13h1v1h-1zM14 14h1v1h-1zM26 14h1v1h-1zM23 15h1v1h-1zM19 17h1v1h-1zM23 17h1v1h-1zM11 18h1v1h-1zM13 18h1v1h-1zM19 18h1v1h-1zM24 18h1v1h-1zM30 19h1v1h-1zM11 21h1v1h-1zM17 21h1v1h-1zM27 21h2v1h-2zM10 23h1v1h-1zM19 23h1v1h-1zM23 23h1v1h-1zM30 23h1v1h-1zM32 23h1v1h-1zM11 24h1v1h-1zM25 25h1v1h-1zM21 26h1v1h-1zM12 30h2v1h-2zM25 30h1v1h-1zM8 31h2v1h-2zM15 31h1v1h-1zM22 31h1v1h-1zM24 31h1v1h-1zM18 32h1v1h-1zM19 33h1v1h-1zM22 33h1v1h-1zM6 34h1v1h-1zM11 34h1v1h-1zM27 34h1v1h-1zM28 35h1v1h-1zM30 35h2v1h-2zM7 36h1v1h-1zM30 36h1v1h-1zM16 37h1v1h-1zM11 38h1v1h-1zM7 39h2v1h-2zM20 39h1v1h-1zM8 40h1v1h-1zM28 40h1v1h-1zM30 40h1v1h-1zM18 41h1v1h-1zM30 41h1v1h-1zM32 41h1v1h-1zM5 42h1v1h-1zM18 42h1v1h-1zM23 42h1v1h-1zM19 43h1v1h-1zM25 43h1v1h-1zM17 44h1v1h-1zM23 44h2v1h-2zM30 44h1v1h-1zM10 45h1v1h-1zM19 45h1v1h-1zM21 45h1v1h-1zM25 45h1v1h-1zM9 46h1v1h-1zM24 47h1v1h-1zM28 48h1v1h-1zM30 48h1v1h-1zM8 49h2v1h-2zM21 49h1v1h-1zM16 50h1v1h-1zM5 51h1v1h-1zM12 51h1v1h-1zM7 52h1v1h-1zM11 52h1v1h-1zM21 52h1v1h-1zM8 53h1v1h-1zM12 54h2v1h-2zM21 54h1v1h-1zM26 54h1v1h-1zM28 54h1v1h-1zM16 55h1v1h-1zM7 56h2v1h-2zM29 56h1v1h-1zM28 57h1v1h-1zM19 58h1v1h-1zM17 60h1v1h-1zM30 61h1v1h-1zM17 62h1v1h-1zM23 63h1v1h-1zM30 63h2v1h-2zM15 66h1v1h-1zM20 69h1v1h-1zM24 69h1v1h-1zM25 70h1v1h-1zM21 71h1v1h-1zM27 72h1v1h-1zM27 73h1v1h-1zM29 74h1v1h-1z"/><path fill="#312f4d" d="M32 5h1v1h-1zM18 7h1v1h-1zM27 7h1v1h-1zM30 7h1v1h-1zM26 9h1v1h-1zM16 10h1v1h-1zM19 10h1v1h-1zM16 11h1v1h-1zM22 11h2v1h-2zM15 12h1v1h-1zM18 12h1v1h-1zM23 12h1v1h-1zM32 12h1v1h-1zM17 14h1v1h-1zM25 14h1v1h-1zM21 15h1v1h-1zM32 16h1v1h-1zM10 17h1v1h-1zM27 17h1v1h-1zM18 18h1v1h-1zM15 19h1v1h-1zM26 19h1v1h-1zM24 20h1v1h-1zM12 21h1v1h-1zM14 21h2v1h-2zM18 21h1v1h-1zM25 22h1v1h-1zM28 22h1v1h-1zM32 22h1v1h-1zM28 23h2v1h-2zM15 24h1v1h-1zM27 24h1v1h-1zM13 25h1v1h-1zM31 25h1v1h-1zM23 26h1v1h-1zM27 26h1v1h-1zM13 27h1v1h-1zM29 27h1v1h-1zM16 28h1v1h-1zM29 28h1v1h-1zM27 29h1v1h-1zM18 30h1v1h-1zM27 30h1v1h-1zM27 31h1v1h-1zM24 32h1v1h-1zM27 33h1v1h-1zM9 34h1v1h-1zM7 35h1v1h-1zM9 35h1v1h-1zM18 35h1v1h-1zM17 36h1v1h-1zM11 37h1v1h-1zM26 37h1v1h-1zM32 37h1v1h-1zM27 38h2v1h-2zM15 39h1v1h-1zM17 39h1v1h-1zM27 39h2v1h-2zM15 40h1v1h-1zM17 40h1v1h-1zM25 40h1v1h-1zM19 41h1v1h-1zM22 41h1v1h-1zM24 42h1v1h-1zM28 42h1v1h-1zM31 42h1v1h-1zM22 44h1v1h-1zM12 45h1v1h-1zM24 45h1v1h-1zM29 45h1v1h-1zM21 46h1v1h-1zM10 47h1v1h-1zM13 47h1v1h-1zM8 48h1v1h-1zM15 49h2v1h-2zM24 50h1v1h-1zM16 51h1v1h-1zM18 51h2v1h-2zM29 51h1v1h-1zM8 52h1v1h-1zM28 53h1v1h-1zM8 54h1v1h-1zM11 55h1v1h-1zM6 56h1v1h-1zM26 56h1v1h-1zM30 56h1v1h-1zM14 57h2v1h-2zM15 58h1v1h-1zM25 58h1v1h-1zM31 58h1v1h-1zM13 59h1v1h-1zM21 59h1v1h-1zM27 59h1v1h-1zM13 60h1v1h-1zM18 60h2v1h-2zM30 60h1v1h-1zM32 60h1v1h-1zM13 61h1v1h-1zM21 62h1v1h-1zM20 63h1v1h-1zM15 64h2v1h-2zM30 64h2v1h-2zM16 65h1v1h-1zM20 68h1v1h-1zM28 70h1v1h-1zM23 72h1v1h-1zM29 72h1v1h-1zM24 73h1v1h-1zM26 73h1v1h-1z"/><path fill="#2c2b42" d="M19 7h1v1h-1zM24 9h1v1h-1zM32 9h1v1h-1zM18 10h1v1h-1zM31 10h1v1h-1zM13 11h1v1h-1zM32 11h1v1h-1zM24 12h1v1h-1zM15 13h1v1h-1zM22 14h1v1h-1zM17 19h2v1h-2zM15 20h1v1h-1zM17 20h2v1h-2zM24 21h1v1h-1zM10 22h2v1h-2zM8 23h1v1h-1zM12 23h1v1h-1zM12 24h1v1h-1zM22 24h1v1h-1zM32 25h1v1h-1zM7 26h1v1h-1zM25 26h1v1h-1zM31 26h1v1h-1zM11 27h1v1h-1zM28 27h1v1h-1zM18 28h1v1h-1zM21 28h1v1h-1zM17 29h1v1h-1zM21 29h1v1h-1zM11 30h1v1h-1zM16 30h1v1h-1zM19 30h1v1h-1zM26 30h1v1h-1zM26 31h1v1h-1zM10 32h1v1h-1zM19 32h2v1h-2zM26 32h1v1h-1zM7 33h1v1h-1zM28 33h1v1h-1zM21 34h2v1h-2zM12 35h1v1h-1zM9 36h1v1h-1zM16 36h1v1h-1zM20 36h1v1h-1zM27 36h1v1h-1zM5 38h1v1h-1zM17 38h1v1h-1zM26 38h1v1h-1zM26 39h1v1h-1zM11 40h1v1h-1zM26 40h1v1h-1zM29 40h1v1h-1zM29 41h1v1h-1zM26 42h1v1h-1zM9 43h1v1h-1zM6 44h1v1h-1zM17 45h1v1h-1zM30 45h1v1h-1zM9 47h1v1h-1zM16 47h1v1h-1zM17 48h1v1h-1zM6 49h1v1h-1zM17 49h1v1h-1zM23 49h2v1h-2zM27 49h1v1h-1zM27 50h1v1h-1zM29 50h1v1h-1zM31 50h1v1h-1zM10 51h2v1h-2zM14 51h1v1h-1zM20 51h1v1h-1zM28 51h1v1h-1zM16 52h1v1h-1zM28 52h2v1h-2zM10 53h1v1h-1zM23 53h1v1h-1zM29 53h1v1h-1zM23 54h1v1h-1zM25 56h1v1h-1zM32 56h1v1h-1zM7 57h2v1h-2zM11 58h1v1h-1zM19 59h1v1h-1zM26 59h1v1h-1zM30 59h1v1h-1zM14 60h1v1h-1zM17 61h2v1h-2zM26 61h1v1h-1zM28 61h1v1h-1zM17 63h1v1h-1zM21 63h1v1h-1zM32 63h1v1h-1zM22 64h1v1h-1zM29 64h1v1h-1zM25 66h1v1h-1zM23 69h1v1h-1zM26 70h1v1h-1zM25 72h1v1h-1zM28 73h1v1h-1z"/><path fill="#29283b" d="M30 5h1v1h-1zM26 6h1v1h-1zM20 7h1v1h-1zM32 7h1v1h-1zM31 8h1v1h-1zM24 11h1v1h-1zM26 11h1v1h-1zM23 14h1v1h-1zM16 15h1v1h-1zM22 15h1v1h-1zM20 16h1v1h-1zM26 16h1v1h-1zM11 17h1v1h-1zM32 17h1v1h-1zM17 18h1v1h-1zM29 18h2v1h-2zM23 19h2v1h-2zM32 19h1v1h-1zM9 20h1v1h-1zM8 21h1v1h-1zM19 21h1v1h-1zM22 22h2v1h-2zM27 22h1v1h-1zM7 23h1v1h-1zM31 23h1v1h-1zM8 24h1v1h-1zM20 24h1v1h-1zM23 24h1v1h-1zM26 24h1v1h-1zM16 25h1v1h-1zM26 25h1v1h-1zM29 25h1v1h-1zM17 26h1v1h-1zM19 27h1v1h-1zM27 27h1v1h-1zM24 28h1v1h-1zM30 28h1v1h-1zM16 29h1v1h-1zM17 30h1v1h-1zM29 30h1v1h-1zM20 31h1v1h-1zM5 33h1v1h-1zM17 33h1v1h-1zM21 33h1v1h-1zM23 33h1v1h-1zM8 34h1v1h-1zM30 37h1v1h-1zM19 38h1v1h-1zM21 38h1v1h-1zM9 39h1v1h-1zM21 39h1v1h-1zM31 39h2v1h-2zM24 40h1v1h-1zM27 42h1v1h-1zM29 42h1v1h-1zM29 43h1v1h-1zM5 44h1v1h-1zM10 44h1v1h-1zM12 44h1v1h-1zM20 44h1v1h-1zM29 44h1v1h-1zM16 46h1v1h-1zM22 46h1v1h-1zM20 47h1v1h-1zM32 47h1v1h-1zM16 48h1v1h-1zM19 48h1v1h-1zM26 48h1v1h-1zM25 49h1v1h-1zM20 50h1v1h-1zM23 50h1v1h-1zM30 50h1v1h-1zM17 51h1v1h-1zM9 52h1v1h-1zM14 52h1v1h-1zM20 52h1v1h-1zM27 53h1v1h-1zM6 54h1v1h-1zM29 54h1v1h-1zM21 55h2v1h-2zM24 55h1v1h-1zM13 56h1v1h-1zM31 56h1v1h-1zM9 57h1v1h-1zM17 57h1v1h-1zM23 57h1v1h-1zM14 58h1v1h-1zM12 59h1v1h-1zM15 59h1v1h-1zM17 59h1v1h-1zM10 60h1v1h-1zM24 60h1v1h-1zM26 60h1v1h-1zM28 60h1v1h-1zM24 61h1v1h-1zM27 61h1v1h-1zM32 62h1v1h-1zM22 63h1v1h-1zM21 64h1v1h-1zM24 64h1v1h-1zM32 64h1v1h-1zM17 65h1v1h-1zM30 65h2v1h-2zM18 67h1v1h-1zM19 69h1v1h-1zM32 70h1v1h-1z"/><path fill="#252532" d="M27 5h1v1h-1zM22 7h2v1h-2zM18 8h1v1h-1zM24 10h1v1h-1zM21 11h1v1h-1zM25 11h1v1h-1zM21 12h1v1h-1zM26 12h1v1h-1zM22 13h1v1h-1zM32 13h1v1h-1zM13 14h1v1h-1zM19 14h1v1h-1zM30 14h1v1h-1zM26 15h1v1h-1zM30 15h1v1h-1zM13 16h1v1h-1zM13 17h1v1h-1zM16 17h1v1h-1zM24 17h1v1h-1zM28 17h1v1h-1zM21 18h1v1h-1zM25 18h1v1h-1zM10 19h1v1h-1zM12 19h1v1h-1zM14 19h1v1h-1zM11 20h2v1h-2zM16 20h1v1h-1zM21 21h1v1h-1zM29 21h1v1h-1zM20 22h1v1h-1zM20 23h1v1h-1zM22 23h1v1h-1zM13 24h1v1h-1zM19 24h1v1h-1zM24 25h1v1h-1zM24 26h1v1h-1zM18 27h1v1h-1zM11 28h1v1h-1zM26 28h1v1h-1zM28 28h1v1h-1zM11 29h1v1h-1zM18 29h1v1h-1zM22 29h1v1h-1zM26 29h1v1h-1zM11 31h1v1h-1zM8 32h2v1h-2zM11 32h1v1h-1zM22 32h2v1h-2zM28 32h1v1h-1zM8 33h1v1h-1zM10 33h1v1h-1zM26 33h1v1h-1zM5 34h1v1h-1zM12 34h1v1h-1zM15 34h1v1h-1zM29 34h1v1h-1zM15 35h1v1h-1zM6 37h1v1h-1zM15 38h1v1h-1zM25 38h1v1h-1zM32 38h1v1h-1zM6 39h1v1h-1zM21 40h1v1h-1zM24 41h1v1h-1zM27 41h2v1h-2zM31 41h1v1h-1zM17 42h1v1h-1zM22 42h1v1h-1zM21 43h1v1h-1zM11 44h1v1h-1zM18 44h1v1h-1zM26 44h1v1h-1zM31 44h1v1h-1zM31 45h1v1h-1zM31 46h1v1h-1zM15 48h1v1h-1zM20 48h1v1h-1zM5 49h1v1h-1zM10 50h2v1h-2zM19 50h1v1h-1zM6 52h1v1h-1zM17 52h1v1h-1zM25 52h1v1h-1zM24 53h2v1h-2zM10 54h1v1h-1zM17 54h1v1h-1zM24 54h1v1h-1zM31 54h1v1h-1zM9 55h2v1h-2zM10 57h1v1h-1zM19 57h1v1h-1zM25 57h1v1h-1zM31 57h1v1h-1zM18 58h1v1h-1zM32 59h1v1h-1zM16 60h1v1h-1zM25 60h1v1h-1zM9 61h1v1h-1zM20 61h1v1h-1zM22 61h1v1h-1zM13 62h1v1h-1zM30 62h1v1h-1zM16 63h1v1h-1zM18 63h1v1h-1zM12 64h1v1h-1zM25 65h1v1h-1zM18 66h1v1h-1zM29 66h1v1h-1zM17 68h1v1h-1zM19 68h1v1h-1zM23 68h3v1h-3zM22 70h1v1h-1zM26 72h1v1h-1z"/><path fill="#22222b" d="M20 6h2v1h-2zM32 8h1v1h-1zM21 9h1v1h-1zM17 10h1v1h-1zM20 10h1v1h-1zM32 10h1v1h-1zM15 14h1v1h-1zM20 14h1v1h-1zM19 15h1v1h-1zM23 16h1v1h-1zM30 16h1v1h-1zM22 17h1v1h-1zM31 17h1v1h-1zM22 18h1v1h-1zM32 21h1v1h-1zM7 22h1v1h-1zM9 22h1v1h-1zM19 22h1v1h-1zM24 22h1v1h-1zM26 22h1v1h-1zM9 23h1v1h-1zM18 25h1v1h-1zM22 25h1v1h-1zM30 25h1v1h-1zM11 26h1v1h-1zM15 26h2v1h-2zM19 26h2v1h-2zM12 27h1v1h-1zM19 28h1v1h-1zM28 29h1v1h-1zM20 30h2v1h-2zM18 31h1v1h-1zM23 31h1v1h-1zM25 32h1v1h-1zM11 33h1v1h-1zM16 33h1v1h-1zM10 34h1v1h-1zM18 34h1v1h-1zM28 34h1v1h-1zM11 35h1v1h-1zM16 35h1v1h-1zM26 35h1v1h-1zM5 36h1v1h-1zM10 36h1v1h-1zM12 36h1v1h-1zM14 36h1v1h-1zM28 36h1v1h-1zM7 37h1v1h-1zM22 37h1v1h-1zM16 38h1v1h-1zM20 38h1v1h-1zM16 39h1v1h-1zM30 39h1v1h-1zM32 40h1v1h-1zM10 41h1v1h-1zM15 41h1v1h-1zM23 41h1v1h-1zM13 43h1v1h-1zM20 43h1v1h-1zM26 43h1v1h-1zM28 43h1v1h-1zM13 44h1v1h-1zM21 44h1v1h-1zM22 45h1v1h-1zM7 46h1v1h-1zM23 46h1v1h-1zM26 46h1v1h-1zM28 46h1v1h-1zM7 47h1v1h-1zM23 47h1v1h-1zM9 48h1v1h-1zM11 48h1v1h-1zM11 49h1v1h-1zM22 49h1v1h-1zM9 50h1v1h-1zM7 51h1v1h-1zM26 51h1v1h-1zM19 52h1v1h-1zM7 53h1v1h-1zM9 53h1v1h-1zM19 53h2v1h-2zM28 55h1v1h-1zM30 55h1v1h-1zM32 55h1v1h-1zM15 56h1v1h-1zM24 56h1v1h-1zM27 56h2v1h-2zM13 57h1v1h-1zM27 57h1v1h-1zM30 57h1v1h-1zM32 57h1v1h-1zM16 58h2v1h-2zM24 58h1v1h-1zM11 59h1v1h-1zM14 59h1v1h-1zM20 59h1v1h-1zM23 59h1v1h-1zM31 59h1v1h-1zM11 60h1v1h-1zM29 61h1v1h-1zM32 61h1v1h-1zM18 62h1v1h-1zM22 62h1v1h-1zM25 64h2v1h-2zM24 65h1v1h-1zM15 67h1v1h-1zM19 67h1v1h-1zM26 68h1v1h-1zM25 69h1v1h-1zM23 71h1v1h-1zM25 71h1v1h-1zM29 71h1v1h-1zM29 73h1v1h-1z"/><path fill="#5a2834" d="M27 6h1v1h-1zM29 9h1v1h-1zM27 11h1v1h-1zM16 12h1v1h-1zM25 12h1v1h-1zM31 12h1v1h-1zM14 13h1v1h-1zM31 13h1v1h-1zM11 16h1v1h-1zM15 16h1v1h-1zM19 16h1v1h-1zM25 16h1v1h-1zM26 17h1v1h-1zM31 18h1v1h-1zM9 19h1v1h-1zM13 20h1v1h-1zM23 20h1v1h-1zM30 20h1v1h-1zM9 21h1v1h-1zM8 22h1v1h-1zM12 22h1v1h-1zM27 23h1v1h-1zM9 24h1v1h-1zM30 24h1v1h-1zM23 25h1v1h-1zM22 27h1v1h-1zM31 27h1v1h-1zM12 28h1v1h-1zM20 29h1v1h-1zM6 31h2v1h-2zM14 31h1v1h-1zM25 31h1v1h-1zM6 33h1v1h-1zM15 33h1v1h-1zM10 35h1v1h-1zM13 35h1v1h-1zM21 35h1v1h-1zM15 36h1v1h-1zM19 36h1v1h-1zM29 36h1v1h-1zM20 37h1v1h-1zM31 37h1v1h-1zM13 42h1v1h-1zM16 42h1v1h-1zM16 45h1v1h-1zM5 46h1v1h-1zM20 46h1v1h-1zM6 47h1v1h-1zM15 47h1v1h-1zM14 50h1v1h-1zM21 50h1v1h-1zM8 51h1v1h-1zM22 54h1v1h-1zM32 54h1v1h-1zM7 55h1v1h-1zM18 56h1v1h-1zM6 57h1v1h-1zM29 57h1v1h-1zM10 61h3v1h-3zM19 61h1v1h-1zM24 62h1v1h-1zM26 62h1v1h-1zM13 63h1v1h-1zM15 63h1v1h-1zM27 64h1v1h-1zM24 67h1v1h-1zM28 67h1v1h-1zM23 70h1v1h-1zM24 72h1v1h-1z"/><path fill="#642a38" d="M24 7h1v1h-1zM24 8h1v1h-1zM30 11h1v1h-1zM13 12h1v1h-1zM21 13h1v1h-1zM24 13h1v1h-1zM28 13h1v1h-1zM21 14h1v1h-1zM31 14h1v1h-1zM17 15h1v1h-1zM17 16h1v1h-1zM29 16h1v1h-1zM9 17h1v1h-1zM17 17h1v1h-1zM25 19h1v1h-1zM29 19h1v1h-1zM14 20h1v1h-1zM25 20h1v1h-1zM7 21h1v1h-1zM7 24h1v1h-1zM10 24h1v1h-1zM19 25h1v1h-1zM8 26h1v1h-1zM30 26h1v1h-1zM24 27h1v1h-1zM6 28h1v1h-1zM13 28h1v1h-1zM27 28h1v1h-1zM29 29h1v1h-1zM32 29h1v1h-1zM10 31h1v1h-1zM16 31h1v1h-1zM31 31h1v1h-1zM17 32h1v1h-1zM20 33h1v1h-1zM13 34h1v1h-1zM23 34h1v1h-1zM27 35h1v1h-1zM6 36h1v1h-1zM23 36h1v1h-1zM31 36h1v1h-1zM17 37h1v1h-1zM6 38h1v1h-1zM22 38h1v1h-1zM18 39h1v1h-1zM26 41h1v1h-1zM9 42h1v1h-1zM10 43h1v1h-1zM25 44h1v1h-1zM27 44h1v1h-1zM26 45h2v1h-2zM27 48h1v1h-1zM30 49h1v1h-1zM18 50h1v1h-1zM21 51h1v1h-1zM18 53h1v1h-1zM8 55h1v1h-1zM12 55h1v1h-1zM15 55h1v1h-1zM23 55h1v1h-1zM27 55h1v1h-1zM10 56h1v1h-1zM11 57h1v1h-1zM22 57h1v1h-1zM27 58h1v1h-1zM25 61h1v1h-1zM11 62h1v1h-1zM14 62h1v1h-1zM25 62h1v1h-1zM27 62h1v1h-1zM31 62h1v1h-1zM14 63h1v1h-1zM29 63h1v1h-1zM16 68h1v1h-1zM30 68h1v1h-1zM26 69h1v1h-1zM24 70h1v1h-1zM31 72h1v1h-1z"/><path fill="#702b3c" d="M32 6h1v1h-1zM25 9h1v1h-1zM22 10h1v1h-1zM27 12h1v1h-1zM20 13h1v1h-1zM23 13h1v1h-1zM28 14h2v1h-2zM18 15h1v1h-1zM16 16h1v1h-1zM28 19h1v1h-1zM10 20h1v1h-1zM19 20h1v1h-1zM22 20h1v1h-1zM17 22h1v1h-1zM6 23h1v1h-1zM25 24h1v1h-1zM7 25h1v1h-1zM20 25h1v1h-1zM6 26h1v1h-1zM29 26h1v1h-1zM14 27h1v1h-1zM5 28h1v1h-1zM9 28h1v1h-1zM30 29h1v1h-1zM5 30h1v1h-1zM5 31h1v1h-1zM32 31h1v1h-1zM19 34h1v1h-1zM6 35h1v1h-1zM14 35h1v1h-1zM22 36h1v1h-1zM9 38h1v1h-1zM5 41h1v1h-1zM12 46h1v1h-1zM19 46h1v1h-1zM32 46h1v1h-1zM26 47h2v1h-2zM23 48h1v1h-1zM6 50h1v1h-1zM13 50h1v1h-1zM25 50h1v1h-1zM9 51h1v1h-1zM30 51h1v1h-1zM6 53h1v1h-1zM17 53h1v1h-1zM7 54h1v1h-1zM11 54h1v1h-1zM18 57h1v1h-1zM20 57h1v1h-1zM22 59h1v1h-1zM21 60h3v1h-3zM23 61h1v1h-1zM24 63h1v1h-1zM20 64h1v1h-1zM20 66h1v1h-1zM22 67h1v1h-1zM26 67h1v1h-1zM30 70h1v1h-1zM24 71h1v1h-1zM26 71h1v1h-1zM28 71h1v1h-1zM26 74h1v1h-1z"/></g><use href="#h20" x="35"/></g><rect x="1014" y="221" width="57" height="75.8" fill="none" stroke="#ffff00" stroke-width="4.3"/><rect x="1126" y="103.9" width="15.8" height="309.4" fill="url(#g2)"/><rect x="1141.8" y="103.10" width="13.2" height="2.8" fill="#262626"/><text x="1161.3" y="0" font-size="22" transform="translate(0,112.25) scale(1,1.045)">10%</text><rect x="1141.8" y="180.45" width="13.2" height="2.8" fill="#262626"/><text x="1161.3" y="0" font-size="22" transform="translate(0,189.60) scale(1,1.045)">0%</text><rect x="1141.8" y="257.80" width="13.2" height="2.8" fill="#262626"/><text x="1161.3" y="0" font-size="22" transform="translate(0,266.95) scale(1,1.045)">-10%</text><rect x="1141.8" y="335.15" width="13.2" height="2.8" fill="#262626"/><text x="1161.3" y="0" font-size="22" transform="translate(0,344.30) scale(1,1.045)">-20%</text><rect x="1141.8" y="412.50" width="13.2" height="2.8" fill="#262626"/><text x="1161.3" y="0" font-size="22" transform="translate(0,421.65) scale(1,1.045)">-30%</text><rect x="843.5" y="454.5" width="265" height="303.7" fill="#1f1e1e" stroke="#0e0e0e" stroke-width="1"/><g transform="translate(843,454) scale(3.80000,3.80875)" shape-rendering="crispEdges"><g id="h21"><path fill="#bde7db" d="M32 3h1v1h-1zM22 4h10v1h-10zM19 5h4v1h-4zM17 6h3v1h-3zM16 7h2v1h-2zM14 8h1v1h-1zM16 8h2v1h-2zM13 9h2v1h-2zM12 10h2v1h-2zM12 11h1v1h-1zM11 12h1v1h-1zM10 13h2v1h-2zM9 14h2v1h-2zM9 15h1v1h-1zM27 15h1v1h-1zM8 16h2v1h-2zM8 17h1v1h-1zM16 17h1v1h-1zM7 18h2v1h-2zM7 19h1v1h-1zM6 20h2v1h-2zM6 21h1v1h-1zM5 22h2v1h-2zM15 22h1v1h-1zM5 23h1v1h-1zM16 23h1v1h-1zM5 24h1v1h-1zM5 25h2v1h-2zM5 26h1v1h-1zM4 27h2v1h-2zM4 28h1v1h-1zM4 29h1v1h-1zM4 30h1v1h-1zM4 31h1v1h-1zM14 31h1v1h-1zM32 31h1v1h-1zM4 32h1v1h-1zM4 33h1v1h-1zM4 34h1v1h-1zM4 35h1v1h-1zM19 35h1v1h-1zM4 36h1v1h-1zM18 36h1v1h-1zM4 37h1v1h-1zM10 37h1v1h-1zM14 37h1v1h-1zM4 38h1v1h-1zM10 38h1v1h-1zM13 38h1v1h-1zM15 38h1v1h-1zM7 39h1v1h-1zM9 39h1v1h-1zM13 39h1v1h-1zM3 40h2v1h-2zM9 40h1v1h-1zM3 41h1v1h-1zM12 41h1v1h-1zM15 41h1v1h-1zM18 41h1v1h-1zM32 41h1v1h-1zM3 42h1v1h-1zM6 42h1v1h-1zM3 43h2v1h-2zM13 43h2v1h-2zM3 44h1v1h-1zM10 44h1v1h-1zM14 44h1v1h-1zM3 45h1v1h-1zM5 45h1v1h-1zM7 45h1v1h-1zM15 45h1v1h-1zM3 46h1v1h-1zM10 46h1v1h-1zM3 47h1v1h-1zM5 47h1v1h-1zM13 47h1v1h-1zM16 47h1v1h-1zM3 48h5v1h-5zM3 49h1v1h-1zM3 50h2v1h-2zM4 51h1v1h-1zM4 52h2v1h-2zM31 52h1v1h-1zM4 53h1v1h-1zM4 54h2v1h-2zM5 55h1v1h-1zM7 55h1v1h-1zM19 55h1v1h-1zM5 56h1v1h-1zM5 57h1v1h-1zM5 58h2v1h-2zM6 59h3v1h-3zM28 59h1v1h-1zM7 60h1v1h-1zM7 61h2v1h-2zM13 61h1v1h-1zM8 62h2v1h-2zM9 63h2v1h-2zM10 64h2v1h-2zM11 65h2v1h-2zM17 65h1v1h-1zM12 66h2v1h-2zM13 67h3v1h-3zM14 68h2v1h-2zM15 69h2v1h-2zM16 70h2v1h-2zM25 70h2v1h-2zM29 70h1v1h-1zM17 71h2v1h-2zM18 72h4v1h-4zM20 73h3v1h-3zM23 74h3v1h-3zM25 75h8v1h-8z"/><path fill="#b4e1d9" d="M32 4h1v1h-1zM25 5h1v1h-1zM28 5h1v1h-1zM22 6h1v1h-1zM26 7h1v1h-1zM28 7h1v1h-1zM21 8h1v1h-1zM30 9h1v1h-1zM20 11h1v1h-1zM28 12h1v1h-1zM13 13h1v1h-1zM19 13h1v1h-1zM11 14h1v1h-1zM32 14h1v1h-1zM11 15h1v1h-1zM18 16h1v1h-1zM21 16h1v1h-1zM9 17h2v1h-2zM17 23h1v1h-1zM13 26h1v1h-1zM31 27h1v1h-1zM8 28h2v1h-2zM13 32h1v1h-1zM15 32h1v1h-1zM21 33h1v1h-1zM17 35h1v1h-1zM11 37h1v1h-1zM18 38h1v1h-1zM14 39h1v1h-1zM19 39h1v1h-1zM8 40h1v1h-1zM10 40h1v1h-1zM12 40h1v1h-1zM15 40h1v1h-1zM6 41h2v1h-2zM14 41h1v1h-1zM4 42h1v1h-1zM9 42h1v1h-1zM15 42h1v1h-1zM23 43h1v1h-1zM6 44h1v1h-1zM8 44h1v1h-1zM15 44h1v1h-1zM4 45h1v1h-1zM9 45h2v1h-2zM14 45h1v1h-1zM5 46h1v1h-1zM17 46h1v1h-1zM10 47h2v1h-2zM18 47h1v1h-1zM21 47h1v1h-1zM12 48h1v1h-1zM21 48h1v1h-1zM10 49h3v1h-3zM31 53h1v1h-1zM12 56h1v1h-1zM20 56h1v1h-1zM28 58h1v1h-1zM29 60h1v1h-1zM9 61h1v1h-1zM13 62h1v1h-1zM26 62h2v1h-2zM11 63h1v1h-1zM14 63h1v1h-1zM20 63h1v1h-1zM27 63h1v1h-1zM19 65h3v1h-3zM19 66h1v1h-1zM22 66h1v1h-1zM26 66h2v1h-2zM32 66h1v1h-1zM22 67h1v1h-1zM32 67h1v1h-1zM27 68h1v1h-1zM30 68h1v1h-1zM30 69h2v1h-2zM32 70h1v1h-1zM26 71h1v1h-1zM27 72h1v1h-1zM31 72h1v1h-1zM23 73h1v1h-1zM25 73h1v1h-1z"/><path fill="#a9d9d6" d="M24 5h1v1h-1zM26 5h1v1h-1zM29 5h2v1h-2zM30 7h1v1h-1zM14 10h1v1h-1zM16 10h1v1h-1zM28 10h1v1h-1zM30 10h1v1h-1zM18 11h2v1h-2zM32 12h1v1h-1zM18 13h1v1h-1zM18 14h2v1h-2zM28 14h1v1h-1zM14 15h1v1h-1zM28 15h1v1h-1zM26 18h1v1h-1zM8 20h1v1h-1zM22 20h1v1h-1zM7 21h1v1h-1zM18 23h1v1h-1zM7 27h1v1h-1zM7 29h1v1h-1zM12 29h1v1h-1zM25 29h1v1h-1zM9 30h1v1h-1zM16 33h1v1h-1zM5 34h1v1h-1zM19 34h1v1h-1zM13 35h1v1h-1zM20 35h1v1h-1zM5 36h1v1h-1zM13 37h1v1h-1zM10 39h1v1h-1zM6 40h1v1h-1zM4 41h1v1h-1zM10 41h2v1h-2zM19 41h1v1h-1zM16 42h1v1h-1zM18 42h2v1h-2zM5 43h2v1h-2zM16 43h1v1h-1zM19 43h1v1h-1zM18 46h1v1h-1zM4 47h1v1h-1zM12 47h1v1h-1zM14 47h1v1h-1zM19 47h1v1h-1zM13 48h1v1h-1zM17 48h1v1h-1zM22 48h1v1h-1zM30 50h1v1h-1zM6 55h1v1h-1zM6 56h1v1h-1zM19 56h1v1h-1zM7 58h2v1h-2zM11 61h1v1h-1zM14 62h1v1h-1zM12 63h1v1h-1zM20 64h1v1h-1zM27 65h1v1h-1zM17 66h1v1h-1zM24 66h1v1h-1zM28 67h2v1h-2zM24 68h1v1h-1zM18 70h1v1h-1zM20 70h1v1h-1zM28 70h1v1h-1zM21 71h1v1h-1zM23 72h1v1h-1zM25 72h1v1h-1zM29 72h1v1h-1zM28 73h1v1h-1zM32 73h1v1h-1zM26 74h1v1h-1zM29 74h1v1h-1z"/><path fill="#a1d3d4" d="M32 5h1v1h-1zM24 6h1v1h-1zM27 6h2v1h-2zM18 7h1v1h-1zM28 8h1v1h-1zM27 9h1v1h-1zM29 9h1v1h-1zM15 10h1v1h-1zM14 11h1v1h-1zM12 12h1v1h-1zM20 12h1v1h-1zM27 12h1v1h-1zM14 13h1v1h-1zM12 14h1v1h-1zM10 15h1v1h-1zM29 15h1v1h-1zM10 16h1v1h-1zM12 16h1v1h-1zM15 16h2v1h-2zM29 16h1v1h-1zM17 18h1v1h-1zM19 18h1v1h-1zM28 18h1v1h-1zM20 19h1v1h-1zM13 22h1v1h-1zM6 24h1v1h-1zM5 28h1v1h-1zM5 29h1v1h-1zM5 31h1v1h-1zM29 32h1v1h-1zM5 33h1v1h-1zM21 35h1v1h-1zM15 36h1v1h-1zM12 38h1v1h-1zM5 39h1v1h-1zM5 40h1v1h-1zM14 40h1v1h-1zM5 41h1v1h-1zM8 41h1v1h-1zM17 41h1v1h-1zM7 42h1v1h-1zM20 42h1v1h-1zM7 43h1v1h-1zM9 43h2v1h-2zM17 43h1v1h-1zM13 44h1v1h-1zM16 44h1v1h-1zM8 45h1v1h-1zM4 46h1v1h-1zM13 46h1v1h-1zM5 49h1v1h-1zM13 49h1v1h-1zM5 51h1v1h-1zM5 53h1v1h-1zM26 55h1v1h-1zM18 56h1v1h-1zM7 57h1v1h-1zM10 58h1v1h-1zM21 58h1v1h-1zM9 59h1v1h-1zM9 60h1v1h-1zM13 60h1v1h-1zM13 63h1v1h-1zM25 63h1v1h-1zM12 64h1v1h-1zM14 64h1v1h-1zM30 66h1v1h-1zM18 67h1v1h-1zM27 67h1v1h-1zM16 68h1v1h-1zM29 68h1v1h-1zM31 68h1v1h-1zM26 69h1v1h-1zM21 70h1v1h-1zM30 70h1v1h-1zM20 71h1v1h-1zM25 71h1v1h-1zM27 71h2v1h-2zM31 71h1v1h-1zM28 72h1v1h-1zM32 72h1v1h-1zM30 73h1v1h-1zM27 74h2v1h-2zM32 74h1v1h-1z"/><path fill="#95cbd2" d="M23 5h1v1h-1zM23 6h1v1h-1zM25 6h1v1h-1zM29 6h2v1h-2zM24 7h2v1h-2zM29 7h1v1h-1zM23 8h2v1h-2zM30 11h1v1h-1zM26 12h1v1h-1zM12 13h1v1h-1zM27 13h1v1h-1zM31 13h1v1h-1zM29 14h1v1h-1zM20 15h1v1h-1zM14 16h1v1h-1zM9 18h2v1h-2zM8 19h1v1h-1zM22 19h1v1h-1zM6 23h1v1h-1zM13 23h1v1h-1zM8 24h1v1h-1zM10 24h1v1h-1zM16 24h1v1h-1zM8 27h1v1h-1zM6 29h1v1h-1zM9 29h1v1h-1zM31 31h1v1h-1zM16 34h1v1h-1zM18 34h1v1h-1zM22 34h1v1h-1zM5 35h1v1h-1zM8 35h1v1h-1zM19 38h1v1h-1zM12 39h1v1h-1zM18 39h1v1h-1zM7 40h1v1h-1zM11 40h1v1h-1zM16 41h1v1h-1zM21 41h1v1h-1zM10 42h1v1h-1zM12 42h1v1h-1zM14 42h1v1h-1zM12 43h1v1h-1zM11 44h1v1h-1zM17 45h1v1h-1zM7 46h1v1h-1zM9 46h1v1h-1zM14 46h1v1h-1zM15 47h1v1h-1zM17 47h1v1h-1zM11 48h1v1h-1zM14 48h2v1h-2zM17 49h1v1h-1zM32 51h1v1h-1zM30 52h1v1h-1zM32 52h1v1h-1zM6 54h1v1h-1zM21 56h1v1h-1zM6 57h1v1h-1zM30 57h1v1h-1zM24 58h1v1h-1zM23 59h1v1h-1zM12 60h1v1h-1zM12 62h1v1h-1zM15 62h1v1h-1zM19 63h1v1h-1zM26 63h1v1h-1zM26 64h1v1h-1zM13 65h1v1h-1zM26 65h1v1h-1zM29 65h1v1h-1zM31 65h1v1h-1zM14 66h1v1h-1zM21 66h1v1h-1zM26 67h1v1h-1zM30 67h2v1h-2zM26 68h1v1h-1zM28 68h1v1h-1zM32 68h1v1h-1zM17 69h2v1h-2zM28 69h1v1h-1zM27 70h1v1h-1zM29 71h1v1h-1zM32 71h1v1h-1zM26 72h1v1h-1zM26 73h2v1h-2z"/><path fill="#8ac4d0" d="M29 8h1v1h-1zM16 9h2v1h-2zM29 10h1v1h-1zM30 14h1v1h-1zM20 18h1v1h-1zM21 19h1v1h-1zM17 24h1v1h-1zM9 25h1v1h-1zM6 27h1v1h-1zM24 29h1v1h-1zM14 30h1v1h-1zM6 32h1v1h-1zM14 32h1v1h-1zM16 32h1v1h-1zM14 33h1v1h-1zM17 33h1v1h-1zM9 34h1v1h-1zM32 35h1v1h-1zM12 37h1v1h-1zM9 38h1v1h-1zM11 38h1v1h-1zM14 38h1v1h-1zM8 39h1v1h-1zM11 39h1v1h-1zM13 40h1v1h-1zM13 41h1v1h-1zM8 42h1v1h-1zM11 42h1v1h-1zM8 43h1v1h-1zM11 43h1v1h-1zM15 43h1v1h-1zM7 44h1v1h-1zM9 44h1v1h-1zM17 44h2v1h-2zM6 45h1v1h-1zM12 45h1v1h-1zM11 46h1v1h-1zM15 46h1v1h-1zM6 47h2v1h-2zM20 48h1v1h-1zM30 54h1v1h-1zM17 55h2v1h-2zM24 59h1v1h-1zM30 59h1v1h-1zM24 60h1v1h-1zM30 60h1v1h-1zM12 61h1v1h-1zM14 61h1v1h-1zM10 62h2v1h-2zM13 64h1v1h-1zM25 64h1v1h-1zM27 64h1v1h-1zM14 65h1v1h-1zM24 65h1v1h-1zM32 65h1v1h-1zM20 66h1v1h-1zM23 67h1v1h-1zM27 69h1v1h-1zM29 69h1v1h-1zM31 70h1v1h-1zM19 71h1v1h-1zM31 73h1v1h-1zM31 74h1v1h-1z"/><path fill="#81bfcf" d="M28 13h1v1h-1zM13 14h1v1h-1zM13 28h1v1h-1zM20 29h1v1h-1zM20 33h1v1h-1zM19 36h1v1h-1zM16 46h1v1h-1zM7 54h1v1h-1zM8 57h1v1h-1zM32 69h1v1h-1z"/><path fill="#4e9ecd" d="M27 5h1v1h-1zM18 10h1v1h-1zM26 11h1v1h-1zM31 11h1v1h-1zM17 13h1v1h-1zM16 15h1v1h-1zM30 15h1v1h-1zM23 16h1v1h-1zM30 16h1v1h-1zM17 17h1v1h-1zM29 17h1v1h-1zM12 18h1v1h-1zM27 18h1v1h-1zM29 19h1v1h-1zM31 19h1v1h-1zM21 20h1v1h-1zM32 20h1v1h-1zM24 21h1v1h-1zM9 23h1v1h-1zM18 25h1v1h-1zM16 26h1v1h-1zM23 26h1v1h-1zM29 26h1v1h-1zM11 28h1v1h-1zM17 28h1v1h-1zM30 28h1v1h-1zM16 31h1v1h-1zM22 32h1v1h-1zM15 33h1v1h-1zM30 33h1v1h-1zM12 34h1v1h-1zM20 34h1v1h-1zM23 34h1v1h-1zM32 36h1v1h-1zM5 37h1v1h-1zM18 37h1v1h-1zM28 37h1v1h-1zM31 42h1v1h-1zM4 44h1v1h-1zM30 44h1v1h-1zM32 46h1v1h-1zM30 47h1v1h-1zM18 48h2v1h-2zM21 49h1v1h-1zM28 49h1v1h-1zM10 53h1v1h-1zM20 53h1v1h-1zM22 53h1v1h-1zM27 53h1v1h-1zM22 54h1v1h-1zM12 55h1v1h-1zM16 56h1v1h-1zM22 56h1v1h-1zM21 57h1v1h-1zM30 58h1v1h-1zM16 59h1v1h-1zM25 60h1v1h-1zM10 61h1v1h-1zM20 61h1v1h-1zM32 62h1v1h-1zM16 64h1v1h-1z"/><path fill="#4596ce" d="M17 11h1v1h-1zM25 11h1v1h-1zM20 13h1v1h-1zM26 13h1v1h-1zM17 14h1v1h-1zM17 16h1v1h-1zM12 17h1v1h-1zM18 17h1v1h-1zM31 17h1v1h-1zM15 18h1v1h-1zM32 19h1v1h-1zM29 20h1v1h-1zM14 21h1v1h-1zM10 23h1v1h-1zM29 25h1v1h-1zM12 26h1v1h-1zM19 26h1v1h-1zM16 29h1v1h-1zM32 29h1v1h-1zM13 31h1v1h-1zM20 31h1v1h-1zM26 31h1v1h-1zM7 32h1v1h-1zM31 32h2v1h-2zM18 33h1v1h-1zM12 35h1v1h-1zM23 35h1v1h-1zM6 37h1v1h-1zM15 39h1v1h-1zM21 39h1v1h-1zM24 39h1v1h-1zM20 43h1v1h-1zM12 46h1v1h-1zM16 48h1v1h-1zM32 49h1v1h-1zM7 50h1v1h-1zM25 51h1v1h-1zM19 53h1v1h-1zM21 53h1v1h-1zM29 53h1v1h-1zM24 54h1v1h-1zM21 55h1v1h-1zM11 56h1v1h-1zM30 56h1v1h-1zM13 58h1v1h-1zM29 59h1v1h-1zM17 60h1v1h-1zM15 64h1v1h-1zM16 66h1v1h-1zM20 67h1v1h-1zM22 69h1v1h-1zM25 69h1v1h-1zM24 72h1v1h-1z"/><path fill="#3e8ecf" d="M20 6h1v1h-1zM31 6h1v1h-1zM31 10h2v1h-2zM14 12h1v1h-1zM32 13h1v1h-1zM23 14h1v1h-1zM26 15h1v1h-1zM16 21h1v1h-1zM32 21h1v1h-1zM11 24h1v1h-1zM8 25h1v1h-1zM18 26h1v1h-1zM16 27h1v1h-1zM15 28h1v1h-1zM24 28h2v1h-2zM28 31h1v1h-1zM9 35h1v1h-1zM20 38h3v1h-3zM20 39h1v1h-1zM19 44h1v1h-1zM22 44h1v1h-1zM28 46h1v1h-1zM6 50h1v1h-1zM22 50h1v1h-1zM22 55h1v1h-1zM26 56h1v1h-1zM11 57h1v1h-1zM9 58h1v1h-1zM11 60h1v1h-1zM14 60h1v1h-1zM21 60h1v1h-1zM15 61h1v1h-1zM25 62h1v1h-1zM18 63h1v1h-1zM29 64h1v1h-1zM28 65h1v1h-1zM18 66h1v1h-1zM19 67h1v1h-1zM23 71h1v1h-1z"/><path fill="#3987cf" d="M27 11h1v1h-1zM15 12h1v1h-1zM29 12h1v1h-1zM16 13h1v1h-1zM14 14h1v1h-1zM22 15h2v1h-2zM28 16h1v1h-1zM19 17h1v1h-1zM12 19h1v1h-1zM10 20h1v1h-1zM15 20h1v1h-1zM27 20h1v1h-1zM31 20h1v1h-1zM13 24h1v1h-1zM19 24h2v1h-2zM28 26h1v1h-1zM9 27h1v1h-1zM8 29h1v1h-1zM26 29h1v1h-1zM8 30h1v1h-1zM22 30h1v1h-1zM31 30h1v1h-1zM10 31h1v1h-1zM19 32h1v1h-1zM12 33h1v1h-1zM9 36h1v1h-1zM17 36h1v1h-1zM21 36h1v1h-1zM28 36h1v1h-1zM17 38h1v1h-1zM20 41h1v1h-1zM24 42h1v1h-1zM18 45h1v1h-1zM29 47h1v1h-1zM6 49h1v1h-1zM29 49h1v1h-1zM12 50h1v1h-1zM12 51h1v1h-1zM29 51h1v1h-1zM31 51h1v1h-1zM7 52h1v1h-1zM29 52h1v1h-1zM23 53h1v1h-1zM31 54h1v1h-1zM10 55h1v1h-1zM30 55h1v1h-1zM26 59h1v1h-1zM24 62h1v1h-1zM22 65h1v1h-1zM20 69h1v1h-1zM24 71h1v1h-1z"/><path fill="#377fd0" d="M20 8h1v1h-1zM25 8h1v1h-1zM27 8h1v1h-1zM15 9h1v1h-1zM15 11h1v1h-1zM24 11h1v1h-1zM24 13h1v1h-1zM29 13h1v1h-1zM26 14h2v1h-2zM32 15h1v1h-1zM11 18h1v1h-1zM25 18h1v1h-1zM29 18h1v1h-1zM18 19h1v1h-1zM23 19h1v1h-1zM26 19h1v1h-1zM28 19h1v1h-1zM15 24h1v1h-1zM9 26h1v1h-1zM13 27h1v1h-1zM25 27h1v1h-1zM7 28h1v1h-1zM11 29h1v1h-1zM14 29h1v1h-1zM23 29h1v1h-1zM5 30h1v1h-1zM7 30h1v1h-1zM19 30h1v1h-1zM24 32h1v1h-1zM27 32h1v1h-1zM22 33h1v1h-1zM28 33h1v1h-1zM16 36h1v1h-1zM26 36h2v1h-2zM24 37h1v1h-1zM6 38h1v1h-1zM23 38h1v1h-1zM20 40h1v1h-1zM24 44h1v1h-1zM26 44h1v1h-1zM19 46h1v1h-1zM29 46h1v1h-1zM11 50h1v1h-1zM18 50h1v1h-1zM7 51h1v1h-1zM11 51h1v1h-1zM15 51h1v1h-1zM23 51h1v1h-1zM27 52h1v1h-1zM6 53h1v1h-1zM12 53h1v1h-1zM17 56h1v1h-1zM20 58h1v1h-1zM10 59h1v1h-1zM16 63h1v1h-1zM23 66h1v1h-1zM17 67h1v1h-1zM21 67h1v1h-1zM24 67h1v1h-1zM22 72h1v1h-1z"/><path fill="#3975cf" d="M21 7h1v1h-1zM21 9h1v1h-1zM20 10h1v1h-1zM19 12h1v1h-1zM11 17h1v1h-1zM23 17h1v1h-1zM16 19h1v1h-1zM21 21h1v1h-1zM14 24h1v1h-1zM19 25h1v1h-1zM7 26h1v1h-1zM10 27h1v1h-1zM15 30h1v1h-1zM17 30h1v1h-1zM11 31h1v1h-1zM18 31h1v1h-1zM30 31h1v1h-1zM25 33h1v1h-1zM27 33h1v1h-1zM31 33h1v1h-1zM8 34h1v1h-1zM31 35h1v1h-1zM14 36h1v1h-1zM20 36h1v1h-1zM24 36h1v1h-1zM9 37h1v1h-1zM17 37h1v1h-1zM19 40h1v1h-1zM21 42h1v1h-1zM25 42h1v1h-1zM28 44h1v1h-1zM14 51h1v1h-1zM9 52h2v1h-2zM15 52h1v1h-1zM22 52h1v1h-1zM13 53h1v1h-1zM12 54h1v1h-1zM24 55h1v1h-1zM8 56h1v1h-1zM24 57h1v1h-1zM26 57h1v1h-1zM21 59h1v1h-1zM16 60h1v1h-1zM32 61h1v1h-1zM21 64h1v1h-1zM23 65h1v1h-1zM21 68h1v1h-1z"/><path fill="#3d6ecc" d="M31 5h1v1h-1zM26 9h1v1h-1zM13 11h1v1h-1zM16 12h1v1h-1zM22 14h1v1h-1zM13 15h1v1h-1zM15 15h1v1h-1zM18 15h1v1h-1zM25 15h1v1h-1zM26 16h2v1h-2zM11 19h1v1h-1zM13 19h1v1h-1zM15 19h1v1h-1zM24 19h1v1h-1zM27 19h1v1h-1zM30 20h1v1h-1zM25 21h1v1h-1zM8 22h1v1h-1zM16 22h1v1h-1zM15 23h1v1h-1zM10 25h4v1h-4zM17 25h1v1h-1zM10 26h2v1h-2zM27 26h1v1h-1zM12 28h1v1h-1zM30 30h1v1h-1zM7 31h1v1h-1zM29 31h1v1h-1zM17 34h1v1h-1zM15 35h1v1h-1zM15 37h1v1h-1zM22 37h1v1h-1zM25 38h1v1h-1zM22 39h1v1h-1zM25 41h1v1h-1zM21 43h1v1h-1zM24 43h1v1h-1zM10 48h1v1h-1zM31 50h1v1h-1zM11 52h2v1h-2zM23 52h1v1h-1zM14 54h1v1h-1zM23 54h1v1h-1zM25 54h1v1h-1zM27 54h1v1h-1zM10 57h1v1h-1zM17 57h1v1h-1zM27 58h1v1h-1zM32 58h1v1h-1zM19 59h1v1h-1zM25 59h1v1h-1zM31 59h2v1h-2zM19 60h1v1h-1zM18 61h1v1h-1zM21 61h2v1h-2zM25 61h1v1h-1zM28 62h2v1h-2zM15 66h1v1h-1zM23 68h1v1h-1zM23 69h1v1h-1z"/><path fill="#4265c5" d="M26 6h1v1h-1zM19 7h2v1h-2zM31 7h1v1h-1zM18 9h1v1h-1zM32 11h1v1h-1zM20 14h1v1h-1zM31 14h1v1h-1zM17 15h1v1h-1zM20 16h1v1h-1zM14 17h1v1h-1zM27 17h2v1h-2zM21 18h1v1h-1zM23 18h1v1h-1zM17 19h1v1h-1zM13 20h2v1h-2zM20 20h1v1h-1zM23 20h1v1h-1zM25 20h2v1h-2zM7 22h1v1h-1zM11 22h1v1h-1zM24 23h1v1h-1zM18 24h1v1h-1zM17 27h1v1h-1zM15 29h1v1h-1zM20 30h1v1h-1zM20 32h1v1h-1zM11 33h1v1h-1zM29 33h1v1h-1zM7 34h1v1h-1zM27 35h1v1h-1zM27 37h1v1h-1zM7 38h1v1h-1zM32 45h1v1h-1zM24 46h1v1h-1zM19 51h1v1h-1zM6 52h1v1h-1zM26 52h1v1h-1zM32 56h1v1h-1zM9 57h1v1h-1zM20 57h1v1h-1zM23 57h1v1h-1zM28 57h1v1h-1zM11 58h1v1h-1zM17 59h1v1h-1zM19 61h1v1h-1zM18 64h2v1h-2zM22 64h1v1h-1zM25 68h1v1h-1zM23 70h2v1h-2z"/><path fill="#465ebe" d="M19 8h1v1h-1zM26 10h1v1h-1zM24 12h1v1h-1zM30 12h1v1h-1zM21 13h1v1h-1zM23 13h1v1h-1zM20 17h1v1h-1zM32 17h1v1h-1zM16 20h1v1h-1zM12 21h1v1h-1zM9 24h1v1h-1zM31 24h1v1h-1zM14 26h1v1h-1zM10 28h1v1h-1zM14 28h1v1h-1zM6 30h1v1h-1zM24 30h1v1h-1zM11 32h1v1h-1zM21 32h1v1h-1zM26 35h1v1h-1zM5 38h1v1h-1zM8 38h1v1h-1zM28 42h1v1h-1zM8 46h1v1h-1zM28 47h1v1h-1zM7 49h3v1h-3zM18 49h1v1h-1zM9 50h1v1h-1zM20 50h1v1h-1zM14 52h1v1h-1zM25 53h1v1h-1zM19 54h1v1h-1zM26 54h1v1h-1zM8 55h1v1h-1zM14 55h1v1h-1zM25 56h1v1h-1zM16 57h1v1h-1zM29 57h1v1h-1zM15 58h1v1h-1zM26 58h1v1h-1zM22 59h1v1h-1zM26 60h1v1h-1zM18 62h2v1h-2zM15 63h1v1h-1zM24 63h1v1h-1zM28 64h1v1h-1zM18 65h1v1h-1z"/><path fill="#4956b3" d="M27 7h1v1h-1zM23 9h1v1h-1zM19 15h1v1h-1zM24 15h1v1h-1zM31 15h1v1h-1zM29 21h2v1h-2zM19 23h1v1h-1zM31 28h2v1h-2zM6 31h1v1h-1zM14 34h1v1h-1zM21 34h1v1h-1zM32 34h1v1h-1zM7 35h1v1h-1zM7 36h1v1h-1zM25 36h1v1h-1zM20 37h1v1h-1zM31 37h1v1h-1zM24 38h1v1h-1zM22 43h1v1h-1zM30 43h1v1h-1zM6 46h1v1h-1zM29 48h1v1h-1zM5 50h1v1h-1zM24 50h1v1h-1zM9 51h1v1h-1zM15 53h1v1h-1zM17 53h1v1h-1zM24 53h1v1h-1zM28 53h1v1h-1zM13 54h1v1h-1zM27 55h1v1h-1zM31 55h1v1h-1zM7 56h1v1h-1zM17 58h1v1h-1zM22 58h1v1h-1zM25 58h1v1h-1zM29 58h1v1h-1zM22 60h1v1h-1zM28 60h1v1h-1zM32 64h1v1h-1zM25 67h1v1h-1zM19 69h1v1h-1zM30 74h1v1h-1z"/><path fill="#4a4fa5" d="M31 3h1v1h-1zM23 7h1v1h-1zM15 8h1v1h-1zM26 8h1v1h-1zM11 11h1v1h-1zM23 11h1v1h-1zM31 12h1v1h-1zM25 14h1v1h-1zM16 18h1v1h-1zM18 18h1v1h-1zM32 18h1v1h-1zM11 20h1v1h-1zM24 20h1v1h-1zM28 20h1v1h-1zM13 21h1v1h-1zM19 22h2v1h-2zM14 23h1v1h-1zM7 24h1v1h-1zM14 25h1v1h-1zM16 28h1v1h-1zM19 28h1v1h-1zM13 30h1v1h-1zM32 30h1v1h-1zM17 32h1v1h-1zM6 33h1v1h-1zM26 34h1v1h-1zM29 34h1v1h-1zM18 35h1v1h-1zM6 36h1v1h-1zM23 37h1v1h-1zM26 37h1v1h-1zM4 39h1v1h-1zM18 40h1v1h-1zM22 40h1v1h-1zM26 41h1v1h-1zM23 42h1v1h-1zM21 45h1v1h-1zM28 45h1v1h-1zM20 46h1v1h-1zM20 47h1v1h-1zM10 50h1v1h-1zM28 50h1v1h-1zM32 50h1v1h-1zM11 53h1v1h-1zM32 53h1v1h-1zM20 55h1v1h-1zM18 57h1v1h-1zM27 59h1v1h-1zM10 60h1v1h-1zM17 64h1v1h-1zM30 65h1v1h-1zM25 66h1v1h-1zM19 70h1v1h-1zM22 74h1v1h-1z"/><path fill="#494a9a" d="M30 8h1v1h-1zM20 9h1v1h-1zM17 10h1v1h-1zM19 10h1v1h-1zM28 11h2v1h-2zM19 16h1v1h-1zM21 17h1v1h-1zM31 18h1v1h-1zM25 19h1v1h-1zM30 19h1v1h-1zM22 21h1v1h-1zM18 22h1v1h-1zM12 23h1v1h-1zM7 25h1v1h-1zM20 25h1v1h-1zM22 25h1v1h-1zM8 26h1v1h-1zM26 28h1v1h-1zM10 29h1v1h-1zM13 29h1v1h-1zM31 29h1v1h-1zM15 31h1v1h-1zM5 32h1v1h-1zM12 32h1v1h-1zM30 32h1v1h-1zM25 34h1v1h-1zM22 35h1v1h-1zM25 35h1v1h-1zM8 36h1v1h-1zM25 37h1v1h-1zM16 39h2v1h-2zM9 41h1v1h-1zM24 41h1v1h-1zM29 43h1v1h-1zM25 44h1v1h-1zM24 45h1v1h-1zM23 46h1v1h-1zM9 47h1v1h-1zM22 47h1v1h-1zM28 48h1v1h-1zM32 48h1v1h-1zM15 50h1v1h-1zM17 50h1v1h-1zM21 50h1v1h-1zM20 51h1v1h-1zM18 54h1v1h-1zM9 55h1v1h-1zM11 55h1v1h-1zM10 56h1v1h-1zM22 57h1v1h-1zM27 57h1v1h-1zM8 60h1v1h-1zM20 60h1v1h-1zM23 60h1v1h-1zM32 60h1v1h-1zM27 61h1v1h-1zM29 61h1v1h-1zM28 63h1v1h-1zM23 64h1v1h-1zM24 73h1v1h-1z"/><path fill="#46458a" d="M15 26h1v1h-1zM21 69h1v1h-1z"/><path fill="#3e3c70" d="M28 21h1v1h-1zM28 23h1v1h-1zM12 30h1v1h-1zM21 31h1v1h-1zM25 40h1v1h-1zM31 40h1v1h-1zM30 42h1v1h-1zM13 51h1v1h-1z"/><path fill="#393763" d="M21 6h1v1h-1zM22 8h1v1h-1zM21 10h1v1h-1zM24 10h1v1h-1zM25 12h1v1h-1zM24 16h1v1h-1zM32 16h1v1h-1zM13 17h1v1h-1zM9 22h1v1h-1zM23 22h1v1h-1zM30 23h1v1h-1zM32 23h1v1h-1zM12 24h1v1h-1zM22 24h1v1h-1zM29 24h1v1h-1zM32 25h1v1h-1zM11 27h1v1h-1zM23 27h1v1h-1zM27 27h1v1h-1zM29 27h1v1h-1zM18 28h1v1h-1zM27 29h1v1h-1zM29 30h1v1h-1zM8 31h1v1h-1zM19 31h1v1h-1zM24 34h1v1h-1zM11 35h1v1h-1zM32 37h1v1h-1zM30 38h1v1h-1zM32 39h1v1h-1zM17 40h1v1h-1zM23 40h1v1h-1zM30 40h1v1h-1zM22 41h1v1h-1zM29 42h1v1h-1zM21 44h1v1h-1zM24 47h1v1h-1zM31 47h1v1h-1zM24 48h1v1h-1zM19 49h1v1h-1zM31 49h1v1h-1zM27 50h1v1h-1zM28 51h1v1h-1zM19 52h1v1h-1zM7 53h1v1h-1zM17 54h1v1h-1zM9 56h1v1h-1zM31 57h1v1h-1zM12 58h1v1h-1zM14 58h1v1h-1zM21 63h1v1h-1zM16 65h1v1h-1z"/><path fill="#343356" d="M32 8h1v1h-1zM22 10h1v1h-1zM15 13h1v1h-1zM22 13h1v1h-1zM25 13h1v1h-1zM13 18h1v1h-1zM9 19h1v1h-1zM10 21h2v1h-2zM10 22h1v1h-1zM24 22h1v1h-1zM11 23h1v1h-1zM23 23h1v1h-1zM23 24h1v1h-1zM14 27h1v1h-1zM26 27h1v1h-1zM20 28h2v1h-2zM23 28h1v1h-1zM21 29h1v1h-1zM27 30h1v1h-1zM27 31h1v1h-1zM26 33h1v1h-1zM31 34h1v1h-1zM10 35h1v1h-1zM16 37h1v1h-1zM30 37h1v1h-1zM31 38h1v1h-1zM24 40h1v1h-1zM29 40h1v1h-1zM23 41h1v1h-1zM30 41h1v1h-1zM26 43h1v1h-1zM12 44h1v1h-1zM31 44h1v1h-1zM23 47h1v1h-1zM23 48h1v1h-1zM25 48h1v1h-1zM31 48h1v1h-1zM24 51h1v1h-1zM26 51h1v1h-1zM28 55h2v1h-2zM31 56h1v1h-1zM25 57h1v1h-1zM16 61h1v1h-1zM23 61h2v1h-2zM30 61h1v1h-1zM31 64h1v1h-1z"/><path fill="#312f4d" d="M32 7h1v1h-1zM25 10h1v1h-1zM16 11h1v1h-1zM26 17h1v1h-1zM24 18h1v1h-1zM18 20h2v1h-2zM27 23h1v1h-1zM28 24h1v1h-1zM28 25h1v1h-1zM26 26h1v1h-1zM30 26h1v1h-1zM24 27h1v1h-1zM30 27h1v1h-1zM27 28h1v1h-1zM30 29h1v1h-1zM11 30h1v1h-1zM25 30h1v1h-1zM28 30h1v1h-1zM7 33h1v1h-1zM6 34h1v1h-1zM10 34h1v1h-1zM30 34h1v1h-1zM30 35h1v1h-1zM31 36h1v1h-1zM26 39h1v1h-1zM28 39h1v1h-1zM28 40h1v1h-1zM31 43h1v1h-1zM32 44h1v1h-1zM22 45h1v1h-1zM22 46h1v1h-1zM31 46h1v1h-1zM26 47h1v1h-1zM8 48h1v1h-1zM27 48h1v1h-1zM23 49h1v1h-1zM27 49h1v1h-1zM8 50h1v1h-1zM13 52h1v1h-1zM18 52h1v1h-1zM21 52h1v1h-1zM21 54h1v1h-1zM23 56h1v1h-1zM12 59h1v1h-1zM20 62h1v1h-1zM23 62h1v1h-1zM22 68h1v1h-1zM24 69h1v1h-1z"/><path fill="#2c2b42" d="M21 11h2v1h-2zM21 12h1v1h-1zM16 14h1v1h-1zM13 16h1v1h-1zM22 18h1v1h-1zM23 21h1v1h-1zM12 22h1v1h-1zM25 22h1v1h-1zM26 23h1v1h-1zM21 26h2v1h-2zM24 26h1v1h-1zM18 27h2v1h-2zM22 28h1v1h-1zM29 28h1v1h-1zM26 30h1v1h-1zM12 31h1v1h-1zM23 31h2v1h-2zM10 32h1v1h-1zM25 32h1v1h-1zM10 33h1v1h-1zM24 33h1v1h-1zM6 35h1v1h-1zM11 36h2v1h-2zM31 39h1v1h-1zM26 40h1v1h-1zM28 41h1v1h-1zM27 42h1v1h-1zM25 43h1v1h-1zM20 45h1v1h-1zM23 45h1v1h-1zM26 45h2v1h-2zM16 49h1v1h-1zM10 51h1v1h-1zM17 51h2v1h-2zM22 51h1v1h-1zM16 52h1v1h-1zM9 54h1v1h-1zM16 54h1v1h-1zM29 54h1v1h-1zM15 55h1v1h-1zM29 56h1v1h-1zM20 59h1v1h-1zM21 62h1v1h-1zM30 62h1v1h-1zM23 63h1v1h-1zM31 63h1v1h-1zM19 68h2v1h-2z"/><path fill="#29283b" d="M25 9h1v1h-1zM32 9h1v1h-1zM14 18h1v1h-1zM12 20h1v1h-1zM17 20h1v1h-1zM20 21h1v1h-1zM22 22h1v1h-1zM27 22h1v1h-1zM30 22h2v1h-2zM22 23h1v1h-1zM25 23h1v1h-1zM27 24h1v1h-1zM21 25h1v1h-1zM24 25h1v1h-1zM27 25h1v1h-1zM17 26h1v1h-1zM31 26h1v1h-1zM21 27h2v1h-2zM32 27h1v1h-1zM18 30h1v1h-1zM22 31h1v1h-1zM25 31h1v1h-1zM18 32h1v1h-1zM19 33h1v1h-1zM7 37h1v1h-1zM16 38h1v1h-1zM32 38h1v1h-1zM29 39h1v1h-1zM29 41h1v1h-1zM30 45h1v1h-1zM27 46h1v1h-1zM8 47h1v1h-1zM30 48h1v1h-1zM22 49h1v1h-1zM24 49h1v1h-1zM23 50h1v1h-1zM25 50h1v1h-1zM6 51h1v1h-1zM8 51h1v1h-1zM8 52h1v1h-1zM17 52h1v1h-1zM24 52h1v1h-1zM8 53h1v1h-1zM8 54h1v1h-1zM20 54h1v1h-1zM13 55h1v1h-1zM23 55h1v1h-1zM32 55h1v1h-1zM13 56h1v1h-1zM15 56h1v1h-1zM13 57h3v1h-3zM32 57h1v1h-1zM18 58h1v1h-1zM31 61h1v1h-1zM24 64h1v1h-1zM30 64h1v1h-1z"/><path fill="#252532" d="M19 9h1v1h-1zM24 9h1v1h-1zM23 10h1v1h-1zM17 12h1v1h-1zM15 14h1v1h-1zM24 17h2v1h-2zM30 17h1v1h-1zM18 21h1v1h-1zM27 21h1v1h-1zM26 22h1v1h-1zM32 22h1v1h-1zM21 23h1v1h-1zM29 23h1v1h-1zM31 23h1v1h-1zM26 24h1v1h-1zM30 24h1v1h-1zM16 25h1v1h-1zM23 25h1v1h-1zM26 25h1v1h-1zM31 25h1v1h-1zM18 29h2v1h-2zM29 29h1v1h-1zM9 31h1v1h-1zM8 32h1v1h-1zM23 32h1v1h-1zM26 32h1v1h-1zM11 34h1v1h-1zM28 34h1v1h-1zM28 35h1v1h-1zM10 36h1v1h-1zM29 36h1v1h-1zM21 37h1v1h-1zM27 39h1v1h-1zM21 40h1v1h-1zM31 41h1v1h-1zM28 43h1v1h-1zM25 45h1v1h-1zM29 45h1v1h-1zM31 45h1v1h-1zM21 46h1v1h-1zM25 46h1v1h-1zM25 47h1v1h-1zM30 49h1v1h-1zM27 51h1v1h-1zM10 54h1v1h-1zM28 54h1v1h-1zM24 56h1v1h-1zM27 56h1v1h-1zM12 57h1v1h-1zM19 58h1v1h-1zM13 59h1v1h-1zM18 59h1v1h-1zM15 60h1v1h-1zM27 60h1v1h-1zM17 61h1v1h-1zM16 62h1v1h-1zM31 62h1v1h-1zM22 63h1v1h-1zM29 63h1v1h-1zM25 65h1v1h-1zM16 67h1v1h-1z"/><path fill="#22222b" d="M23 12h1v1h-1zM22 16h1v1h-1zM31 16h1v1h-1zM17 21h1v1h-1zM19 21h1v1h-1zM31 21h1v1h-1zM21 22h1v1h-1zM28 22h2v1h-2zM7 23h1v1h-1zM21 24h1v1h-1zM24 24h2v1h-2zM15 25h1v1h-1zM30 25h1v1h-1zM25 26h1v1h-1zM32 26h1v1h-1zM12 27h1v1h-1zM17 29h1v1h-1zM22 29h1v1h-1zM16 30h1v1h-1zM17 31h1v1h-1zM9 33h1v1h-1zM27 34h1v1h-1zM29 35h1v1h-1zM30 36h1v1h-1zM29 37h1v1h-1zM26 38h1v1h-1zM28 38h2v1h-2zM23 39h1v1h-1zM16 40h1v1h-1zM32 40h1v1h-1zM32 42h1v1h-1zM27 43h1v1h-1zM27 44h1v1h-1zM29 44h1v1h-1zM19 45h1v1h-1zM30 46h1v1h-1zM27 47h1v1h-1zM32 47h1v1h-1zM26 48h1v1h-1zM25 49h2v1h-2zM16 50h1v1h-1zM19 50h1v1h-1zM21 51h1v1h-1zM20 52h1v1h-1zM25 52h1v1h-1zM9 53h1v1h-1zM14 53h1v1h-1zM26 53h1v1h-1zM11 59h1v1h-1zM14 59h1v1h-1zM17 63h1v1h-1zM30 63h1v1h-1zM32 63h1v1h-1zM22 71h1v1h-1z"/><path fill="#5a2834" d="M18 8h1v1h-1zM28 9h1v1h-1zM31 9h1v1h-1zM22 12h1v1h-1zM15 21h1v1h-1zM20 23h1v1h-1zM25 25h1v1h-1zM20 27h1v1h-1zM28 27h1v1h-1zM10 30h1v1h-1zM21 30h1v1h-1zM8 33h1v1h-1zM23 33h1v1h-1zM14 35h1v1h-1zM8 37h1v1h-1zM19 37h1v1h-1zM27 38h1v1h-1zM27 41h1v1h-1zM5 42h1v1h-1zM13 42h1v1h-1zM32 43h1v1h-1zM11 45h1v1h-1zM13 45h1v1h-1zM4 49h1v1h-1zM15 49h1v1h-1zM20 49h1v1h-1zM26 50h1v1h-1zM18 53h1v1h-1zM11 54h1v1h-1zM15 54h1v1h-1zM28 56h1v1h-1zM19 57h1v1h-1zM26 61h1v1h-1zM31 66h1v1h-1zM18 68h1v1h-1z"/><path fill="#642a38" d="M22 7h1v1h-1zM31 8h1v1h-1zM22 9h1v1h-1zM27 10h1v1h-1zM13 12h1v1h-1zM18 12h1v1h-1zM12 15h1v1h-1zM11 16h1v1h-1zM22 17h1v1h-1zM14 19h1v1h-1zM19 19h1v1h-1zM9 20h1v1h-1zM8 21h2v1h-2zM17 22h1v1h-1zM8 23h1v1h-1zM20 26h1v1h-1zM15 27h1v1h-1zM23 30h1v1h-1zM13 34h1v1h-1zM15 34h1v1h-1zM24 35h1v1h-1zM13 36h1v1h-1zM23 36h1v1h-1zM25 39h1v1h-1zM18 43h1v1h-1zM5 44h1v1h-1zM20 44h1v1h-1zM23 44h1v1h-1zM26 46h1v1h-1zM9 48h1v1h-1zM14 50h1v1h-1zM29 50h1v1h-1zM16 53h1v1h-1zM30 53h1v1h-1zM32 54h1v1h-1zM16 55h1v1h-1zM14 56h1v1h-1zM23 58h1v1h-1zM15 59h1v1h-1zM28 61h1v1h-1zM17 62h1v1h-1zM22 62h1v1h-1zM15 65h1v1h-1zM28 66h1v1h-1zM17 68h1v1h-1zM22 70h1v1h-1zM30 71h1v1h-1zM30 72h1v1h-1zM29 73h1v1h-1z"/><path fill="#702b3c" d="M32 6h1v1h-1zM30 13h1v1h-1zM21 14h1v1h-1zM24 14h1v1h-1zM21 15h1v1h-1zM25 16h1v1h-1zM15 17h1v1h-1zM30 18h1v1h-1zM10 19h1v1h-1zM26 21h1v1h-1zM14 22h1v1h-1zM32 24h1v1h-1zM6 26h1v1h-1zM6 28h1v1h-1zM28 28h1v1h-1zM28 29h1v1h-1zM9 32h1v1h-1zM28 32h1v1h-1zM13 33h1v1h-1zM16 35h1v1h-1zM22 36h1v1h-1zM6 39h1v1h-1zM30 39h1v1h-1zM27 40h1v1h-1zM17 42h1v1h-1zM22 42h1v1h-1zM26 42h1v1h-1zM16 45h1v1h-1zM14 49h1v1h-1zM13 50h1v1h-1zM16 51h1v1h-1zM30 51h1v1h-1zM28 52h1v1h-1zM25 55h1v1h-1zM16 58h1v1h-1zM31 58h1v1h-1zM18 60h1v1h-1zM31 60h1v1h-1zM29 66h1v1h-1z"/><path fill="#782c3f" d="M32 33h1v1h-1z"/></g><use href="#h21" x="35"/></g><rect x="1014" y="569" width="57" height="75.8" fill="none" stroke="#ffff00" stroke-width="4.3"/><rect x="1126" y="451.9" width="15.8" height="309.4" fill="url(#g2)"/><rect x="1141.8" y="451.10" width="13.2" height="2.8" fill="#262626"/><text x="1161.3" y="0" font-size="22" transform="translate(0,460.25) scale(1,1.045)">10%</text><rect x="1141.8" y="528.45" width="13.2" height="2.8" fill="#262626"/><text x="1161.3" y="0" font-size="22" transform="translate(0,537.60) scale(1,1.045)">0%</text><rect x="1141.8" y="605.80" width="13.2" height="2.8" fill="#262626"/><text x="1161.3" y="0" font-size="22" transform="translate(0,614.95) scale(1,1.045)">-10%</text><rect x="1141.8" y="683.15" width="13.2" height="2.8" fill="#262626"/><text x="1161.3" y="0" font-size="22" transform="translate(0,692.30) scale(1,1.045)">-20%</text><rect x="1141.8" y="760.50" width="13.2" height="2.8" fill="#262626"/><text x="1161.3" y="0" font-size="22" transform="translate(0,769.65) scale(1,1.045)">-30%</text><text x="1375.0" y="81.8" text-anchor="middle" font-size="25">ADC</text><rect x="1242.5" y="106.5" width="265" height="303.7" fill="#1f1e1e" stroke="#0e0e0e" stroke-width="1"/><g transform="translate(1242,106) scale(3.80000,3.80875)" shape-rendering="crispEdges"><g id="h30"><path fill="#bde7db" d="M31 3h2v1h-2zM22 4h3v1h-3zM30 4h2v1h-2zM20 5h4v1h-4zM26 5h2v1h-2zM29 5h2v1h-2zM17 6h1v1h-1zM19 6h3v1h-3zM16 7h2v1h-2zM19 7h1v1h-1zM14 8h1v1h-1zM17 8h1v1h-1zM13 9h1v1h-1zM15 9h1v1h-1zM12 10h3v1h-3zM11 11h3v1h-3zM30 12h1v1h-1zM10 13h3v1h-3zM9 14h3v1h-3zM10 15h1v1h-1zM9 16h1v1h-1zM8 17h1v1h-1zM7 18h2v1h-2zM7 19h1v1h-1zM8 20h1v1h-1zM6 21h1v1h-1zM7 22h1v1h-1zM5 28h1v1h-1zM5 29h1v1h-1zM4 30h2v1h-2zM8 30h1v1h-1zM5 31h1v1h-1zM4 32h2v1h-2zM4 34h1v1h-1zM4 35h2v1h-2zM4 37h1v1h-1zM4 38h1v1h-1zM5 39h1v1h-1zM3 40h2v1h-2zM4 41h1v1h-1zM4 42h1v1h-1zM4 43h1v1h-1zM3 44h2v1h-2zM4 45h1v1h-1zM3 46h1v1h-1zM4 48h1v1h-1zM4 49h1v1h-1zM3 50h1v1h-1zM5 50h1v1h-1zM5 51h1v1h-1zM4 52h1v1h-1zM6 54h1v1h-1zM6 55h1v1h-1zM9 56h1v1h-1zM7 58h1v1h-1zM6 59h1v1h-1zM8 59h1v1h-1zM8 62h1v1h-1zM10 62h1v1h-1zM10 63h1v1h-1zM12 64h1v1h-1zM13 65h1v1h-1zM14 66h1v1h-1zM30 67h1v1h-1zM14 68h1v1h-1zM16 68h1v1h-1zM17 69h1v1h-1zM18 71h3v1h-3zM18 72h1v1h-1zM20 72h1v1h-1zM22 72h1v1h-1zM20 73h3v1h-3zM25 74h1v1h-1zM27 74h2v1h-2zM31 74h1v1h-1zM26 75h1v1h-1zM28 75h1v1h-1zM31 75h2v1h-2z"/><path fill="#afddd7" d="M26 10h1v1h-1zM15 16h1v1h-1zM31 24h1v1h-1zM27 44h1v1h-1z"/><path fill="#a1d3d4" d="M23 22h1v1h-1zM7 25h1v1h-1zM27 27h1v1h-1zM28 28h1v1h-1zM17 29h1v1h-1zM29 29h1v1h-1zM29 30h1v1h-1zM29 31h1v1h-1zM30 33h1v1h-1zM30 34h1v1h-1zM31 35h1v1h-1zM30 36h2v1h-2zM30 37h2v1h-2zM30 38h1v1h-1zM30 39h1v1h-1zM30 40h1v1h-1zM30 41h1v1h-1zM29 42h1v1h-1zM29 43h1v1h-1zM28 44h2v1h-2zM28 45h1v1h-1zM27 46h2v1h-2zM23 51h1v1h-1zM22 68h1v1h-1z"/><path fill="#90c8d1" d="M18 9h1v1h-1zM23 58h1v1h-1zM20 59h1v1h-1zM17 65h1v1h-1zM30 65h1v1h-1zM28 66h1v1h-1zM29 67h1v1h-1zM29 73h1v1h-1z"/><path fill="#81bfcf" d="M31 12h1v1h-1zM13 16h1v1h-1zM12 17h1v1h-1zM15 18h1v1h-1zM11 33h1v1h-1zM13 46h1v1h-1zM5 52h1v1h-1z"/><path fill="#6eb4cd" d="M11 31h1v1h-1zM22 39h1v1h-1zM28 39h1v1h-1zM23 52h1v1h-1zM17 68h1v1h-1z"/><path fill="#3a89cf" d="M24 5h2v1h-2zM18 7h1v1h-1zM12 12h1v1h-1zM10 16h1v1h-1zM7 21h1v1h-1zM6 23h1v1h-1zM6 24h1v1h-1zM30 28h1v1h-1zM32 33h1v1h-1zM29 34h1v1h-1zM29 36h1v1h-1zM32 36h1v1h-1zM31 39h1v1h-1zM5 40h1v1h-1zM32 40h1v1h-1zM31 41h1v1h-1zM31 42h1v1h-1zM29 45h2v1h-2zM26 46h1v1h-1zM29 46h1v1h-1zM9 61h1v1h-1zM30 69h1v1h-1zM30 70h1v1h-1zM21 72h1v1h-1zM25 73h1v1h-1zM29 74h1v1h-1zM32 74h1v1h-1z"/><path fill="#377fd0" d="M16 12h1v1h-1zM31 18h1v1h-1zM16 24h1v1h-1zM25 29h1v1h-1zM10 32h1v1h-1zM29 33h1v1h-1zM16 43h1v1h-1zM17 48h1v1h-1zM31 48h1v1h-1zM18 50h1v1h-1zM30 53h1v1h-1zM17 59h1v1h-1zM15 64h1v1h-1zM25 67h1v1h-1zM27 68h1v1h-1zM25 69h1v1h-1z"/><path fill="#3a73ce" d="M25 8h1v1h-1zM25 9h1v1h-1zM30 11h1v1h-1zM14 18h1v1h-1zM13 19h1v1h-1zM8 32h1v1h-1zM10 44h1v1h-1zM6 47h1v1h-1zM21 57h1v1h-1z"/><path fill="#4265c5" d="M26 8h1v1h-1zM26 9h1v1h-1zM29 11h1v1h-1zM14 17h1v1h-1zM12 19h1v1h-1zM23 19h1v1h-1zM19 27h1v1h-1zM7 28h1v1h-1zM7 30h1v1h-1zM11 30h1v1h-1zM7 31h1v1h-1zM27 31h1v1h-1zM14 32h1v1h-1zM10 45h1v1h-1zM8 46h1v1h-1zM20 58h1v1h-1zM30 63h1v1h-1zM17 66h1v1h-1zM21 66h1v1h-1z"/><path fill="#475ab9" d="M24 8h1v1h-1zM32 8h1v1h-1zM19 10h1v1h-1zM17 11h1v1h-1zM28 11h1v1h-1zM32 11h1v1h-1zM13 15h1v1h-1zM18 16h1v1h-1zM29 17h1v1h-1zM14 22h1v1h-1zM16 26h1v1h-1zM28 26h1v1h-1zM26 38h1v1h-1zM26 41h1v1h-1zM9 44h1v1h-1zM8 60h1v1h-1zM26 61h1v1h-1zM16 67h1v1h-1zM32 68h1v1h-1z"/><path fill="#4a4fa5" d="M18 11h1v1h-1zM22 14h1v1h-1zM12 20h1v1h-1zM10 29h1v1h-1zM10 30h1v1h-1zM10 31h1v1h-1zM25 40h1v1h-1zM7 44h1v1h-1zM8 49h1v1h-1zM16 50h1v1h-1zM11 58h1v1h-1zM21 58h2v1h-2zM26 58h1v1h-1zM14 60h1v1h-1z"/><path fill="#474792" d="M32 22h1v1h-1zM16 25h1v1h-1zM28 29h1v1h-1zM26 31h1v1h-1zM12 39h1v1h-1zM9 52h1v1h-1zM29 62h1v1h-1zM31 62h1v1h-1zM29 71h1v1h-1z"/><path fill="#42407b" d="M22 7h1v1h-1zM14 12h1v1h-1zM23 13h1v1h-1zM12 32h1v1h-1zM5 36h1v1h-1zM23 37h1v1h-1zM26 40h1v1h-1zM28 41h1v1h-1zM25 42h1v1h-1zM18 47h1v1h-1zM19 53h1v1h-1zM23 57h1v1h-1zM28 59h1v1h-1zM19 63h1v1h-1zM32 71h1v1h-1z"/><path fill="#3c3a69" d="M27 6h1v1h-1zM15 12h1v1h-1zM18 14h1v1h-1zM24 14h1v1h-1zM17 15h1v1h-1zM24 15h1v1h-1zM26 16h1v1h-1zM12 23h1v1h-1zM32 23h1v1h-1zM20 24h1v1h-1zM17 27h1v1h-1zM11 28h1v1h-1zM22 29h1v1h-1zM13 30h1v1h-1zM32 30h1v1h-1zM23 36h1v1h-1zM31 38h1v1h-1zM7 39h2v1h-2zM28 40h1v1h-1zM9 43h1v1h-1zM21 46h1v1h-1zM25 49h1v1h-1zM6 52h1v1h-1zM7 53h1v1h-1zM6 56h1v1h-1zM15 57h1v1h-1zM25 65h1v1h-1zM23 66h1v1h-1z"/><path fill="#343356" d="M29 6h1v1h-1zM31 8h1v1h-1zM15 10h1v1h-1zM13 12h1v1h-1zM22 15h1v1h-1zM23 16h1v1h-1zM23 17h1v1h-1zM20 18h1v1h-1zM30 18h1v1h-1zM27 19h1v1h-1zM22 20h1v1h-1zM23 21h1v1h-1zM9 22h1v1h-1zM17 22h1v1h-1zM13 25h1v1h-1zM30 26h1v1h-1zM8 28h1v1h-1zM14 28h1v1h-1zM21 28h1v1h-1zM8 29h1v1h-1zM17 31h1v1h-1zM19 31h1v1h-1zM7 34h1v1h-1zM7 36h1v1h-1zM14 36h1v1h-1zM10 37h1v1h-1zM12 40h1v1h-1zM7 41h1v1h-1zM20 41h1v1h-1zM20 43h1v1h-1zM16 45h1v1h-1zM23 47h1v1h-1zM5 48h1v1h-1zM10 48h1v1h-1zM11 49h1v1h-1zM26 49h1v1h-1zM22 53h1v1h-1zM15 54h1v1h-1zM20 54h1v1h-1zM26 54h1v1h-1zM21 55h1v1h-1zM11 56h1v1h-1zM30 56h1v1h-1zM29 57h1v1h-1zM14 58h1v1h-1zM31 58h1v1h-1zM11 59h1v1h-1zM18 59h1v1h-1zM27 59h1v1h-1zM21 60h1v1h-1zM11 61h1v1h-1zM14 61h1v1h-1zM32 67h1v1h-1zM24 69h1v1h-1z"/><path fill="#2e2d48" d="M28 12h2v1h-2zM13 13h1v1h-1zM21 13h1v1h-1zM16 14h1v1h-1zM32 15h1v1h-1zM9 17h1v1h-1zM9 18h1v1h-1zM32 20h1v1h-1zM20 21h2v1h-2zM29 23h1v1h-1zM22 24h1v1h-1zM32 25h1v1h-1zM27 26h1v1h-1zM32 26h1v1h-1zM7 27h1v1h-1zM22 28h1v1h-1zM6 29h1v1h-1zM30 29h1v1h-1zM18 30h1v1h-1zM6 32h1v1h-1zM13 32h1v1h-1zM15 32h1v1h-1zM13 34h1v1h-1zM20 35h1v1h-1zM25 37h1v1h-1zM7 38h1v1h-1zM20 38h1v1h-1zM14 39h1v1h-1zM7 40h2v1h-2zM14 40h1v1h-1zM17 41h1v1h-1zM28 42h1v1h-1zM30 42h1v1h-1zM18 43h1v1h-1zM27 43h1v1h-1zM19 46h1v1h-1zM24 46h1v1h-1zM26 47h1v1h-1zM30 47h1v1h-1zM21 48h1v1h-1zM21 49h1v1h-1zM7 51h2v1h-2zM26 51h1v1h-1zM8 52h1v1h-1zM26 52h1v1h-1zM15 53h1v1h-1zM8 55h1v1h-1zM10 55h1v1h-1zM18 55h2v1h-2zM15 56h1v1h-1zM11 57h2v1h-2zM9 60h1v1h-1zM26 60h1v1h-1zM19 61h1v1h-1zM23 61h1v1h-1zM15 62h1v1h-1zM12 63h1v1h-1zM22 65h1v1h-1zM21 70h1v1h-1zM29 72h1v1h-1z"/><path fill="#29283b" d="M26 6h1v1h-1zM19 8h1v1h-1zM21 9h1v1h-1zM29 9h1v1h-1zM28 10h1v1h-1zM20 14h1v1h-1zM23 14h1v1h-1zM25 15h1v1h-1zM31 16h1v1h-1zM10 19h1v1h-1zM24 19h1v1h-1zM11 20h1v1h-1zM15 20h1v1h-1zM19 20h1v1h-1zM30 20h1v1h-1zM8 23h1v1h-1zM14 23h1v1h-1zM21 23h1v1h-1zM26 23h1v1h-1zM30 24h1v1h-1zM20 25h1v1h-1zM26 25h1v1h-1zM28 25h1v1h-1zM30 25h1v1h-1zM19 26h1v1h-1zM31 26h1v1h-1zM15 27h1v1h-1zM20 27h1v1h-1zM23 27h1v1h-1zM30 27h1v1h-1zM32 27h1v1h-1zM31 29h1v1h-1zM6 30h1v1h-1zM23 30h1v1h-1zM27 30h2v1h-2zM24 31h1v1h-1zM16 32h1v1h-1zM6 33h2v1h-2zM24 33h1v1h-1zM17 34h1v1h-1zM23 34h1v1h-1zM28 34h1v1h-1zM32 34h1v1h-1zM5 37h1v1h-1zM26 39h1v1h-1zM10 40h1v1h-1zM16 40h1v1h-1zM11 41h1v1h-1zM18 41h1v1h-1zM25 41h1v1h-1zM32 41h1v1h-1zM6 42h1v1h-1zM23 43h1v1h-1zM5 44h1v1h-1zM18 44h1v1h-1zM21 44h1v1h-1zM24 44h1v1h-1zM11 45h2v1h-2zM20 45h1v1h-1zM23 45h1v1h-1zM27 45h1v1h-1zM14 47h1v1h-1zM25 47h1v1h-1zM16 48h1v1h-1zM25 48h1v1h-1zM24 49h1v1h-1zM30 49h1v1h-1zM7 50h1v1h-1zM11 50h1v1h-1zM10 51h2v1h-2zM20 51h1v1h-1zM24 51h1v1h-1zM13 53h1v1h-1zM24 54h1v1h-1zM11 55h1v1h-1zM27 55h1v1h-1zM12 56h1v1h-1zM28 56h1v1h-1zM32 56h1v1h-1zM19 57h1v1h-1zM27 58h1v1h-1zM19 59h1v1h-1zM18 60h2v1h-2zM22 60h1v1h-1zM25 60h1v1h-1zM21 61h1v1h-1zM29 61h1v1h-1zM25 62h1v1h-1zM25 64h1v1h-1zM16 65h1v1h-1zM20 65h1v1h-1zM23 65h1v1h-1zM24 67h1v1h-1zM25 68h1v1h-1zM27 72h1v1h-1zM32 72h1v1h-1zM31 73h1v1h-1z"/><path fill="#24232e" d="M20 7h1v1h-1zM27 8h1v1h-1zM30 9h1v1h-1zM16 11h1v1h-1zM25 12h1v1h-1zM14 13h1v1h-1zM19 15h1v1h-1zM27 16h1v1h-1zM9 19h1v1h-1zM32 19h1v1h-1zM9 20h1v1h-1zM14 21h1v1h-1zM21 22h1v1h-1zM16 23h1v1h-1zM19 23h1v1h-1zM15 24h1v1h-1zM17 24h1v1h-1zM23 24h1v1h-1zM25 24h1v1h-1zM14 25h1v1h-1zM9 26h1v1h-1zM20 26h2v1h-2zM25 26h1v1h-1zM28 27h1v1h-1zM31 27h1v1h-1zM13 28h1v1h-1zM19 28h1v1h-1zM24 28h1v1h-1zM26 28h1v1h-1zM7 29h1v1h-1zM13 29h1v1h-1zM18 29h1v1h-1zM20 29h1v1h-1zM23 29h1v1h-1zM32 29h1v1h-1zM15 30h1v1h-1zM14 31h1v1h-1zM20 31h1v1h-1zM31 31h1v1h-1zM11 32h1v1h-1zM19 32h1v1h-1zM28 32h1v1h-1zM30 32h1v1h-1zM8 33h1v1h-1zM12 33h1v1h-1zM16 34h1v1h-1zM24 34h1v1h-1zM26 35h2v1h-2zM30 35h1v1h-1zM10 36h1v1h-1zM17 36h1v1h-1zM19 36h1v1h-1zM11 37h1v1h-1zM14 37h1v1h-1zM19 37h1v1h-1zM32 37h1v1h-1zM23 39h1v1h-1zM22 40h1v1h-1zM27 40h1v1h-1zM8 41h1v1h-1zM22 41h1v1h-1zM24 41h1v1h-1zM10 42h1v1h-1zM16 42h1v1h-1zM19 42h1v1h-1zM12 43h1v1h-1zM5 45h1v1h-1zM15 45h1v1h-1zM21 45h1v1h-1zM7 46h1v1h-1zM11 46h1v1h-1zM23 46h1v1h-1zM32 46h1v1h-1zM10 47h1v1h-1zM15 47h1v1h-1zM21 47h1v1h-1zM29 47h1v1h-1zM11 48h1v1h-1zM23 48h1v1h-1zM7 49h1v1h-1zM18 49h1v1h-1zM23 49h1v1h-1zM24 50h1v1h-1zM6 51h1v1h-1zM22 51h1v1h-1zM10 52h1v1h-1zM19 52h1v1h-1zM20 53h1v1h-1zM11 54h1v1h-1zM18 54h1v1h-1zM28 54h1v1h-1zM13 55h3v1h-3zM26 55h1v1h-1zM28 55h1v1h-1zM32 55h1v1h-1zM13 56h1v1h-1zM25 56h1v1h-1zM8 57h1v1h-1zM27 57h1v1h-1zM32 57h1v1h-1zM15 58h1v1h-1zM25 59h1v1h-1zM24 60h1v1h-1zM28 61h1v1h-1zM31 61h1v1h-1zM26 62h1v1h-1zM15 63h1v1h-1zM21 63h1v1h-1zM32 63h1v1h-1zM20 64h1v1h-1zM30 64h1v1h-1zM15 66h1v1h-1zM22 67h1v1h-1zM28 68h1v1h-1zM18 69h1v1h-1zM21 69h1v1h-1zM23 70h1v1h-1zM29 70h1v1h-1zM28 71h1v1h-1zM24 72h1v1h-1z"/><path fill="#212026" d="M28 5h1v1h-1zM26 7h1v1h-1zM28 8h1v1h-1zM24 9h1v1h-1zM32 9h1v1h-1zM22 10h1v1h-1zM25 11h1v1h-1zM19 12h1v1h-1zM27 12h1v1h-1zM28 13h1v1h-1zM30 13h1v1h-1zM12 14h1v1h-1zM15 15h1v1h-1zM21 15h1v1h-1zM23 15h1v1h-1zM25 16h1v1h-1zM16 17h1v1h-1zM22 17h1v1h-1zM24 17h1v1h-1zM21 18h1v1h-1zM15 19h1v1h-1zM18 19h2v1h-2zM31 19h1v1h-1zM26 20h1v1h-1zM18 21h1v1h-1zM30 21h1v1h-1zM12 22h1v1h-1zM18 22h2v1h-2zM22 22h1v1h-1zM11 23h1v1h-1zM20 23h1v1h-1zM8 24h1v1h-1zM27 24h1v1h-1zM12 25h1v1h-1zM17 25h1v1h-1zM19 25h1v1h-1zM6 27h1v1h-1zM14 27h1v1h-1zM22 27h1v1h-1zM25 27h2v1h-2zM17 28h1v1h-1zM31 28h2v1h-2zM26 30h1v1h-1zM9 32h1v1h-1zM5 33h1v1h-1zM9 33h1v1h-1zM15 33h1v1h-1zM18 33h1v1h-1zM6 34h1v1h-1zM10 34h2v1h-2zM16 35h1v1h-1zM18 35h2v1h-2zM6 36h1v1h-1zM12 36h2v1h-2zM7 37h1v1h-1zM20 37h1v1h-1zM25 38h1v1h-1zM11 39h1v1h-1zM19 39h1v1h-1zM19 40h1v1h-1zM29 40h1v1h-1zM12 41h1v1h-1zM7 42h1v1h-1zM12 42h1v1h-1zM21 42h1v1h-1zM15 43h1v1h-1zM17 43h1v1h-1zM31 43h2v1h-2zM14 44h2v1h-2zM17 44h1v1h-1zM9 45h1v1h-1zM16 46h2v1h-2zM22 46h1v1h-1zM30 46h2v1h-2zM27 47h1v1h-1zM6 48h1v1h-1zM15 48h1v1h-1zM22 48h1v1h-1zM24 48h1v1h-1zM26 48h1v1h-1zM28 48h1v1h-1zM10 49h1v1h-1zM12 49h1v1h-1zM16 49h1v1h-1zM28 49h1v1h-1zM31 49h2v1h-2zM25 50h1v1h-1zM28 50h1v1h-1zM12 51h1v1h-1zM14 51h2v1h-2zM30 51h1v1h-1zM13 52h1v1h-1zM32 52h1v1h-1zM28 53h1v1h-1zM29 54h1v1h-1zM16 55h1v1h-1zM22 55h1v1h-1zM25 55h1v1h-1zM7 56h2v1h-2zM17 56h3v1h-3zM10 57h1v1h-1zM28 57h1v1h-1zM29 58h1v1h-1zM12 59h1v1h-1zM15 59h1v1h-1zM23 59h1v1h-1zM28 60h1v1h-1zM32 60h1v1h-1zM18 61h1v1h-1zM25 61h1v1h-1zM14 62h1v1h-1zM28 62h1v1h-1zM13 63h1v1h-1zM31 63h1v1h-1zM32 64h1v1h-1zM14 65h1v1h-1zM19 65h1v1h-1zM19 66h1v1h-1zM30 66h1v1h-1zM32 66h1v1h-1zM20 67h1v1h-1zM31 67h1v1h-1zM20 68h1v1h-1zM20 69h1v1h-1zM19 70h1v1h-1zM22 70h1v1h-1zM25 70h1v1h-1zM24 71h1v1h-1z"/><path fill="#1f1e20" d="M24 7h1v1h-1zM23 8h1v1h-1zM20 9h1v1h-1zM20 13h1v1h-1zM24 13h1v1h-1zM17 14h1v1h-1zM21 14h1v1h-1zM29 14h1v1h-1zM11 15h1v1h-1zM14 15h1v1h-1zM16 15h1v1h-1zM20 15h1v1h-1zM26 15h1v1h-1zM29 15h1v1h-1zM14 16h1v1h-1zM13 17h1v1h-1zM26 17h1v1h-1zM25 18h1v1h-1zM27 18h1v1h-1zM32 18h1v1h-1zM14 19h1v1h-1zM17 19h1v1h-1zM25 19h1v1h-1zM10 20h1v1h-1zM18 20h1v1h-1zM25 20h1v1h-1zM27 20h1v1h-1zM25 21h1v1h-1zM29 21h1v1h-1zM31 21h1v1h-1zM8 22h1v1h-1zM13 23h1v1h-1zM24 23h1v1h-1zM9 24h1v1h-1zM13 24h1v1h-1zM29 24h1v1h-1zM23 25h1v1h-1zM29 25h1v1h-1zM7 26h1v1h-1zM11 26h1v1h-1zM15 26h1v1h-1zM18 26h1v1h-1zM22 26h1v1h-1zM29 26h1v1h-1zM12 27h1v1h-1zM21 27h1v1h-1zM24 27h1v1h-1zM23 28h1v1h-1zM12 29h1v1h-1zM27 29h1v1h-1zM17 30h1v1h-1zM12 31h1v1h-1zM18 31h1v1h-1zM24 32h1v1h-1zM28 33h1v1h-1zM8 34h1v1h-1zM19 34h2v1h-2zM11 35h1v1h-1zM25 35h1v1h-1zM9 36h1v1h-1zM15 36h1v1h-1zM22 36h1v1h-1zM25 36h1v1h-1zM13 37h1v1h-1zM15 37h1v1h-1zM21 37h2v1h-2zM24 37h1v1h-1zM8 38h1v1h-1zM14 38h1v1h-1zM18 38h1v1h-1zM27 38h1v1h-1zM9 39h1v1h-1zM16 39h1v1h-1zM27 39h1v1h-1zM6 40h1v1h-1zM18 40h1v1h-1zM29 41h1v1h-1zM5 42h1v1h-1zM17 42h1v1h-1zM27 42h1v1h-1zM32 42h1v1h-1zM19 43h1v1h-1zM22 43h1v1h-1zM19 44h1v1h-1zM25 44h2v1h-2zM32 45h1v1h-1zM12 46h1v1h-1zM20 46h1v1h-1zM11 47h1v1h-1zM12 48h1v1h-1zM19 48h1v1h-1zM27 48h1v1h-1zM30 48h1v1h-1zM15 49h1v1h-1zM8 50h1v1h-1zM23 50h1v1h-1zM26 50h1v1h-1zM31 51h1v1h-1zM11 52h1v1h-1zM29 52h1v1h-1zM8 53h1v1h-1zM23 53h2v1h-2zM29 53h1v1h-1zM31 53h1v1h-1zM13 54h1v1h-1zM16 54h2v1h-2zM19 54h1v1h-1zM24 55h1v1h-1zM23 56h1v1h-1zM27 56h1v1h-1zM9 57h1v1h-1zM13 57h1v1h-1zM16 57h1v1h-1zM8 58h2v1h-2zM30 59h1v1h-1zM13 60h1v1h-1zM16 60h1v1h-1zM30 60h1v1h-1zM16 61h1v1h-1zM24 61h1v1h-1zM27 61h1v1h-1zM30 61h1v1h-1zM21 62h1v1h-1zM23 62h1v1h-1zM14 63h1v1h-1zM20 63h1v1h-1zM28 63h1v1h-1zM18 64h1v1h-1zM23 64h1v1h-1zM19 67h1v1h-1zM26 67h1v1h-1zM23 68h1v1h-1zM19 69h1v1h-1zM28 69h1v1h-1zM31 69h2v1h-2zM18 70h1v1h-1zM24 73h1v1h-1zM26 73h1v1h-1z"/><path fill="#211e1e" d="M25 6h1v1h-1zM30 6h2v1h-2zM21 7h1v1h-1zM23 7h1v1h-1zM29 7h1v1h-1zM31 7h1v1h-1zM18 8h1v1h-1zM21 8h1v1h-1zM29 8h1v1h-1zM16 9h2v1h-2zM28 9h1v1h-1zM32 10h1v1h-1zM32 12h1v1h-1zM22 13h1v1h-1zM31 14h1v1h-1zM27 15h2v1h-2zM22 16h1v1h-1zM17 17h1v1h-1zM21 17h1v1h-1zM25 17h1v1h-1zM27 17h1v1h-1zM31 17h2v1h-2zM11 18h1v1h-1zM13 18h1v1h-1zM16 18h1v1h-1zM19 18h1v1h-1zM22 18h1v1h-1zM28 18h2v1h-2zM26 19h1v1h-1zM16 20h1v1h-1zM20 20h1v1h-1zM24 20h1v1h-1zM10 21h1v1h-1zM17 21h1v1h-1zM27 21h1v1h-1zM24 22h1v1h-1zM27 22h1v1h-1zM29 22h2v1h-2zM18 23h1v1h-1zM11 24h1v1h-1zM32 24h1v1h-1zM31 25h1v1h-1zM6 26h1v1h-1zM12 26h3v1h-3zM23 26h2v1h-2zM26 26h1v1h-1zM13 27h1v1h-1zM18 27h1v1h-1zM29 27h1v1h-1zM16 28h1v1h-1zM27 28h1v1h-1zM15 29h1v1h-1zM21 29h1v1h-1zM9 30h1v1h-1zM19 30h2v1h-2zM31 30h1v1h-1zM7 32h1v1h-1zM17 32h1v1h-1zM20 32h1v1h-1zM14 33h1v1h-1zM17 33h1v1h-1zM23 33h1v1h-1zM26 33h1v1h-1zM5 34h1v1h-1zM14 34h1v1h-1zM18 34h1v1h-1zM21 34h2v1h-2zM12 35h1v1h-1zM15 35h1v1h-1zM22 35h1v1h-1zM24 35h1v1h-1zM29 35h1v1h-1zM8 36h1v1h-1zM17 37h1v1h-1zM13 38h1v1h-1zM15 38h2v1h-2zM23 38h1v1h-1zM32 38h1v1h-1zM10 39h1v1h-1zM13 39h1v1h-1zM17 39h1v1h-1zM25 39h1v1h-1zM29 39h1v1h-1zM15 40h1v1h-1zM17 40h1v1h-1zM24 40h1v1h-1zM5 41h1v1h-1zM15 41h2v1h-2zM13 42h2v1h-2zM23 42h1v1h-1zM13 43h2v1h-2zM21 43h1v1h-1zM12 44h1v1h-1zM30 44h1v1h-1zM22 45h1v1h-1zM25 45h1v1h-1zM10 46h1v1h-1zM12 47h2v1h-2zM17 47h1v1h-1zM19 47h1v1h-1zM22 47h1v1h-1zM32 47h1v1h-1zM32 48h1v1h-1zM5 49h1v1h-1zM13 49h1v1h-1zM22 49h1v1h-1zM29 49h1v1h-1zM6 50h1v1h-1zM14 50h1v1h-1zM29 50h1v1h-1zM21 51h1v1h-1zM28 51h1v1h-1zM7 52h1v1h-1zM22 52h1v1h-1zM27 52h1v1h-1zM26 53h2v1h-2zM8 54h1v1h-1zM12 54h1v1h-1zM14 54h1v1h-1zM27 54h1v1h-1zM30 54h2v1h-2zM9 55h1v1h-1zM29 55h1v1h-1zM14 56h1v1h-1zM22 56h1v1h-1zM18 57h1v1h-1zM24 57h3v1h-3zM30 57h1v1h-1zM16 58h1v1h-1zM30 58h1v1h-1zM9 59h1v1h-1zM21 59h1v1h-1zM24 59h1v1h-1zM32 59h1v1h-1zM11 60h1v1h-1zM20 60h1v1h-1zM27 60h1v1h-1zM29 60h1v1h-1zM10 61h1v1h-1zM20 61h1v1h-1zM32 61h1v1h-1zM22 62h1v1h-1zM24 62h1v1h-1zM30 62h1v1h-1zM16 63h1v1h-1zM25 63h1v1h-1zM29 63h1v1h-1zM21 64h1v1h-1zM28 65h1v1h-1zM24 66h1v1h-1zM26 66h1v1h-1zM19 68h1v1h-1zM24 68h1v1h-1zM26 68h1v1h-1zM29 68h1v1h-1zM27 69h1v1h-1zM29 69h1v1h-1zM26 70h1v1h-1zM25 71h3v1h-3zM31 71h1v1h-1zM26 72h1v1h-1zM31 72h1v1h-1zM28 73h1v1h-1zM30 74h1v1h-1z"/><path fill="#291e20" d="M32 4h1v1h-1zM28 6h1v1h-1zM32 7h1v1h-1zM22 8h1v1h-1zM30 10h2v1h-2zM14 11h1v1h-1zM27 11h1v1h-1zM17 12h1v1h-1zM26 12h1v1h-1zM15 13h1v1h-1zM19 13h1v1h-1zM26 13h1v1h-1zM14 14h2v1h-2zM26 14h2v1h-2zM12 15h1v1h-1zM31 15h1v1h-1zM16 16h1v1h-1zM19 16h1v1h-1zM11 17h1v1h-1zM18 17h1v1h-1zM20 17h1v1h-1zM24 18h1v1h-1zM11 19h1v1h-1zM16 19h1v1h-1zM29 19h1v1h-1zM12 21h1v1h-1zM16 21h1v1h-1zM19 21h1v1h-1zM26 21h1v1h-1zM28 21h1v1h-1zM16 22h1v1h-1zM28 22h1v1h-1zM9 23h1v1h-1zM22 23h1v1h-1zM27 23h1v1h-1zM12 24h1v1h-1zM19 24h1v1h-1zM21 24h1v1h-1zM26 24h1v1h-1zM8 25h1v1h-1zM15 25h1v1h-1zM18 25h1v1h-1zM17 26h1v1h-1zM12 28h1v1h-1zM9 29h1v1h-1zM16 29h1v1h-1zM24 29h1v1h-1zM21 30h1v1h-1zM24 30h1v1h-1zM23 31h1v1h-1zM18 32h1v1h-1zM27 32h1v1h-1zM29 32h1v1h-1zM31 32h1v1h-1zM31 33h1v1h-1zM15 34h1v1h-1zM25 34h1v1h-1zM13 35h1v1h-1zM23 35h1v1h-1zM28 35h1v1h-1zM18 36h1v1h-1zM21 36h1v1h-1zM28 36h1v1h-1zM6 37h1v1h-1zM8 37h1v1h-1zM16 37h1v1h-1zM17 38h1v1h-1zM19 38h1v1h-1zM29 38h1v1h-1zM6 39h1v1h-1zM13 40h1v1h-1zM20 40h1v1h-1zM6 41h1v1h-1zM9 41h2v1h-2zM19 41h1v1h-1zM11 42h1v1h-1zM8 44h1v1h-1zM13 44h1v1h-1zM16 44h1v1h-1zM31 44h1v1h-1zM8 45h1v1h-1zM19 45h1v1h-1zM26 45h1v1h-1zM9 46h1v1h-1zM25 46h1v1h-1zM8 47h1v1h-1zM16 47h1v1h-1zM31 47h1v1h-1zM7 48h2v1h-2zM14 48h1v1h-1zM6 49h1v1h-1zM27 49h1v1h-1zM27 50h1v1h-1zM31 50h1v1h-1zM9 51h1v1h-1zM17 51h2v1h-2zM18 52h1v1h-1zM25 52h1v1h-1zM18 53h1v1h-1zM22 54h1v1h-1zM20 55h1v1h-1zM10 56h1v1h-1zM26 56h1v1h-1zM7 57h1v1h-1zM14 57h1v1h-1zM17 57h1v1h-1zM31 57h1v1h-1zM12 58h1v1h-1zM18 58h1v1h-1zM25 58h1v1h-1zM14 59h1v1h-1zM16 59h1v1h-1zM15 60h1v1h-1zM17 60h1v1h-1zM23 60h1v1h-1zM15 61h1v1h-1zM22 61h1v1h-1zM13 62h1v1h-1zM18 62h3v1h-3zM27 62h1v1h-1zM17 63h1v1h-1zM22 63h1v1h-1zM17 64h1v1h-1zM19 64h1v1h-1zM22 64h1v1h-1zM24 64h1v1h-1zM26 64h1v1h-1zM28 64h1v1h-1zM21 65h1v1h-1zM29 65h1v1h-1zM25 66h1v1h-1zM29 66h1v1h-1zM21 68h1v1h-1zM31 68h1v1h-1zM24 70h1v1h-1zM27 70h1v1h-1zM23 71h1v1h-1zM25 72h1v1h-1z"/><path fill="#311f23" d="M25 7h1v1h-1zM23 9h1v1h-1zM16 10h1v1h-1zM20 10h1v1h-1zM25 10h1v1h-1zM15 11h1v1h-1zM26 11h1v1h-1zM24 12h1v1h-1zM30 14h1v1h-1zM18 15h1v1h-1zM24 16h1v1h-1zM30 16h1v1h-1zM28 17h1v1h-1zM30 17h1v1h-1zM20 19h1v1h-1zM22 19h1v1h-1zM23 20h1v1h-1zM29 20h1v1h-1zM22 21h1v1h-1zM10 22h1v1h-1zM20 22h1v1h-1zM15 23h1v1h-1zM10 24h1v1h-1zM18 24h1v1h-1zM10 25h2v1h-2zM18 28h1v1h-1zM26 29h1v1h-1zM25 30h1v1h-1zM15 31h1v1h-1zM25 31h1v1h-1zM28 31h1v1h-1zM32 31h1v1h-1zM22 32h1v1h-1zM16 33h1v1h-1zM20 33h1v1h-1zM22 33h1v1h-1zM25 33h1v1h-1zM27 33h1v1h-1zM12 34h1v1h-1zM31 34h1v1h-1zM7 35h1v1h-1zM10 35h1v1h-1zM20 36h1v1h-1zM26 36h1v1h-1zM18 37h1v1h-1zM29 37h1v1h-1zM21 38h1v1h-1zM28 38h1v1h-1zM15 39h1v1h-1zM18 39h1v1h-1zM20 39h1v1h-1zM14 41h1v1h-1zM23 41h1v1h-1zM8 42h2v1h-2zM15 42h1v1h-1zM22 42h1v1h-1zM8 43h1v1h-1zM10 43h2v1h-2zM24 43h1v1h-1zM23 44h1v1h-1zM6 45h1v1h-1zM13 45h2v1h-2zM15 46h1v1h-1zM9 47h1v1h-1zM24 47h1v1h-1zM13 48h1v1h-1zM29 48h1v1h-1zM14 49h1v1h-1zM9 50h1v1h-1zM12 50h1v1h-1zM19 50h1v1h-1zM30 50h1v1h-1zM13 51h1v1h-1zM20 52h1v1h-1zM24 52h1v1h-1zM28 52h1v1h-1zM30 52h1v1h-1zM9 53h1v1h-1zM14 53h1v1h-1zM21 53h1v1h-1zM25 53h1v1h-1zM9 54h1v1h-1zM29 56h1v1h-1zM31 56h1v1h-1zM17 58h1v1h-1zM28 58h1v1h-1zM16 62h1v1h-1zM29 64h1v1h-1zM18 65h1v1h-1zM24 65h1v1h-1zM26 65h1v1h-1zM31 65h2v1h-2zM16 66h1v1h-1zM21 67h1v1h-1zM18 68h1v1h-1zM30 68h1v1h-1zM20 70h1v1h-1zM31 70h2v1h-2zM21 71h1v1h-1zM23 72h1v1h-1zM28 72h1v1h-1zM30 73h1v1h-1zM26 74h1v1h-1z"/><path fill="#3d2228" d="M32 5h1v1h-1zM31 9h1v1h-1zM17 10h2v1h-2zM27 10h1v1h-1zM19 11h1v1h-1zM22 11h1v1h-1zM22 12h1v1h-1zM17 13h1v1h-1zM19 14h1v1h-1zM20 16h1v1h-1zM28 16h1v1h-1zM10 18h1v1h-1zM17 18h2v1h-2zM14 20h1v1h-1zM28 20h1v1h-1zM11 21h1v1h-1zM32 21h1v1h-1zM11 22h1v1h-1zM13 22h1v1h-1zM15 22h1v1h-1zM25 22h2v1h-2zM10 23h1v1h-1zM25 23h1v1h-1zM7 24h1v1h-1zM24 24h1v1h-1zM10 26h1v1h-1zM6 28h1v1h-1zM19 29h1v1h-1zM22 30h1v1h-1zM8 31h2v1h-2zM26 32h1v1h-1zM32 32h1v1h-1zM10 33h1v1h-1zM9 34h1v1h-1zM26 34h1v1h-1zM6 35h1v1h-1zM21 35h1v1h-1zM12 37h1v1h-1zM11 38h2v1h-2zM24 39h1v1h-1zM32 39h1v1h-1zM9 40h1v1h-1zM23 40h1v1h-1zM7 43h1v1h-1zM20 44h1v1h-1zM22 44h1v1h-1zM18 45h1v1h-1zM14 46h1v1h-1zM18 46h1v1h-1zM9 48h1v1h-1zM9 49h1v1h-1zM19 49h2v1h-2zM20 50h1v1h-1zM16 51h1v1h-1zM19 51h1v1h-1zM27 51h1v1h-1zM12 52h1v1h-1zM16 52h1v1h-1zM21 52h1v1h-1zM17 53h1v1h-1zM32 53h1v1h-1zM7 54h1v1h-1zM7 55h1v1h-1zM23 55h1v1h-1zM31 55h1v1h-1zM16 56h1v1h-1zM21 56h1v1h-1zM24 56h1v1h-1zM20 57h1v1h-1zM31 59h1v1h-1zM12 61h1v1h-1zM17 62h1v1h-1zM26 63h1v1h-1zM15 65h1v1h-1zM17 67h2v1h-2zM28 67h1v1h-1zM23 69h1v1h-1zM26 69h1v1h-1z"/><path fill="#48242c" d="M32 6h1v1h-1zM30 8h1v1h-1zM29 10h1v1h-1zM21 11h1v1h-1zM23 11h2v1h-2zM27 13h1v1h-1zM31 13h1v1h-1zM32 14h1v1h-1zM17 16h1v1h-1zM29 16h1v1h-1zM10 17h1v1h-1zM12 18h1v1h-1zM26 18h1v1h-1zM17 20h1v1h-1zM8 21h1v1h-1zM15 21h1v1h-1zM7 23h1v1h-1zM30 23h2v1h-2zM14 24h1v1h-1zM24 25h2v1h-2zM14 29h1v1h-1zM12 30h1v1h-1zM30 30h1v1h-1zM6 31h1v1h-1zM21 31h1v1h-1zM27 34h1v1h-1zM26 37h1v1h-1zM21 39h1v1h-1zM24 42h1v1h-1zM26 43h1v1h-1zM30 43h1v1h-1zM11 44h1v1h-1zM6 46h1v1h-1zM20 47h1v1h-1zM15 50h1v1h-1zM17 50h1v1h-1zM21 50h2v1h-2zM25 51h1v1h-1zM15 52h1v1h-1zM17 52h1v1h-1zM6 53h1v1h-1zM10 53h1v1h-1zM16 53h1v1h-1zM21 54h1v1h-1zM12 55h1v1h-1zM17 55h1v1h-1zM30 55h1v1h-1zM13 58h1v1h-1zM19 58h1v1h-1zM32 58h1v1h-1zM13 59h1v1h-1zM29 59h1v1h-1zM17 61h1v1h-1zM11 62h1v1h-1zM16 64h1v1h-1zM18 66h1v1h-1zM30 72h1v1h-1zM27 73h1v1h-1z"/><path fill="#542732" d="M30 7h1v1h-1zM22 9h1v1h-1zM21 10h1v1h-1zM18 12h1v1h-1zM20 12h1v1h-1zM25 13h1v1h-1zM12 16h1v1h-1zM19 17h1v1h-1zM8 19h1v1h-1zM28 19h1v1h-1zM31 20h1v1h-1zM24 21h1v1h-1zM31 22h1v1h-1zM23 23h1v1h-1zM22 25h1v1h-1zM8 26h1v1h-1zM20 28h1v1h-1zM16 30h1v1h-1zM23 32h1v1h-1zM13 33h1v1h-1zM19 33h1v1h-1zM17 35h1v1h-1zM27 37h2v1h-2zM21 40h1v1h-1zM20 42h1v1h-1zM32 44h1v1h-1zM24 45h1v1h-1zM31 45h1v1h-1zM7 47h1v1h-1zM20 48h1v1h-1zM17 49h1v1h-1zM14 52h1v1h-1zM11 53h1v1h-1zM10 54h1v1h-1zM22 57h1v1h-1zM23 63h2v1h-2zM27 63h1v1h-1zM22 71h1v1h-1zM23 73h1v1h-1z"/><path fill="#642a38" d="M23 10h2v1h-2zM20 11h1v1h-1zM21 12h1v1h-1zM18 13h1v1h-1zM25 14h1v1h-1zM23 18h1v1h-1zM13 20h1v1h-1zM17 23h1v1h-1zM21 25h1v1h-1zM10 27h1v1h-1zM14 30h1v1h-1zM14 35h1v1h-1zM22 38h1v1h-1zM11 40h1v1h-1zM31 40h1v1h-1zM25 43h1v1h-1zM10 50h1v1h-1zM23 54h1v1h-1zM32 54h1v1h-1zM22 59h1v1h-1zM31 60h1v1h-1zM32 62h1v1h-1zM22 66h1v1h-1zM22 69h1v1h-1z"/><path fill="#722c3d" d="M19 9h1v1h-1zM16 13h1v1h-1zM32 13h1v1h-1zM28 14h1v1h-1zM30 15h1v1h-1zM21 16h1v1h-1zM21 20h1v1h-1zM13 21h1v1h-1zM28 24h1v1h-1zM16 27h1v1h-1zM29 28h1v1h-1zM22 31h1v1h-1zM16 36h1v1h-1zM5 38h1v1h-1zM26 42h1v1h-1zM17 45h1v1h-1zM13 50h1v1h-1zM32 50h1v1h-1z"/><path fill="#842d42" d="M22 6h1v1h-1zM23 12h1v1h-1zM32 16h1v1h-1zM28 23h1v1h-1zM15 28h1v1h-1zM28 47h1v1h-1zM12 60h1v1h-1z"/><path fill="#932e44" d="M27 25h1v1h-1zM6 38h1v1h-1zM27 41h1v1h-1zM18 48h1v1h-1zM31 64h1v1h-1z"/><path fill="#a52f44" d="M24 6h1v1h-1zM21 19h1v1h-1zM9 38h1v1h-1zM12 53h1v1h-1zM10 59h1v1h-1zM20 66h1v1h-1z"/><path fill="#b33341" d="M27 7h2v1h-2zM21 32h1v1h-1zM21 33h1v1h-1zM13 41h1v1h-1zM5 46h1v1h-1zM25 54h1v1h-1zM10 60h1v1h-1z"/><path fill="#c33a3c" d="M29 13h1v1h-1zM13 14h1v1h-1zM11 16h1v1h-1zM13 31h1v1h-1zM16 31h1v1h-1zM24 36h1v1h-1zM9 37h1v1h-1zM10 38h1v1h-1zM24 38h1v1h-1zM20 56h1v1h-1zM13 61h1v1h-1zM14 64h1v1h-1zM32 73h1v1h-1z"/><path fill="#ce4338" d="M9 25h1v1h-1zM9 28h2v1h-2zM30 31h1v1h-1zM5 43h2v1h-2zM7 45h1v1h-1zM24 58h1v1h-1zM13 64h1v1h-1zM27 65h1v1h-1zM31 66h1v1h-1zM23 67h1v1h-1zM28 70h1v1h-1zM30 71h1v1h-1z"/><path fill="#d74e35" d="M9 21h1v1h-1zM25 32h1v1h-1zM27 36h1v1h-1zM27 67h1v1h-1z"/><path fill="#e15c33" d="M30 19h1v1h-1zM11 27h1v1h-1zM32 35h1v1h-1zM21 41h1v1h-1zM28 43h1v1h-1zM31 52h1v1h-1zM10 58h1v1h-1z"/><path fill="#e76a34" d="M20 8h1v1h-1zM31 11h1v1h-1zM9 27h1v1h-1zM25 28h1v1h-1zM11 36h1v1h-1zM29 51h1v1h-1zM32 51h1v1h-1zM26 59h1v1h-1zM12 62h1v1h-1z"/><path fill="#ed7b3e" d="M27 9h1v1h-1zM8 27h1v1h-1zM8 35h1v1h-1zM5 47h1v1h-1zM27 64h1v1h-1z"/><path fill="#f0894b" d="M23 6h1v1h-1zM18 42h1v1h-1zM18 63h1v1h-1z"/><path fill="#f39a5f" d="M15 17h1v1h-1zM11 29h1v1h-1zM9 35h1v1h-1zM6 44h1v1h-1zM27 66h1v1h-1z"/><path fill="#ffd4ac" d="M25 4h5v1h-5zM19 5h1v1h-1zM31 5h1v1h-1zM18 6h1v1h-1zM15 8h2v1h-2zM14 9h1v1h-1zM11 12h1v1h-1zM9 15h1v1h-1zM8 16h1v1h-1zM6 20h2v1h-2zM5 22h2v1h-2zM5 23h1v1h-1zM5 24h1v1h-1zM5 25h2v1h-2zM5 26h1v1h-1zM4 27h2v1h-2zM4 28h1v1h-1zM4 29h1v1h-1zM4 31h1v1h-1zM4 33h1v1h-1zM4 36h1v1h-1zM4 39h1v1h-1zM3 41h1v1h-1zM3 42h1v1h-1zM3 43h1v1h-1zM3 45h1v1h-1zM4 46h1v1h-1zM3 47h2v1h-2zM3 48h1v1h-1zM3 49h1v1h-1zM4 50h1v1h-1zM4 51h1v1h-1zM4 53h2v1h-2zM4 54h2v1h-2zM5 55h1v1h-1zM5 56h1v1h-1zM5 57h2v1h-2zM5 58h2v1h-2zM7 59h1v1h-1zM7 60h1v1h-1zM7 61h2v1h-2zM9 62h1v1h-1zM9 63h1v1h-1zM11 63h1v1h-1zM10 64h2v1h-2zM11 65h2v1h-2zM12 66h2v1h-2zM13 67h3v1h-3zM15 68h1v1h-1zM15 69h2v1h-2zM16 70h2v1h-2zM17 71h1v1h-1zM19 72h1v1h-1zM22 74h3v1h-3zM25 75h1v1h-1zM27 75h1v1h-1zM29 75h2v1h-2z"/></g><use href="#h30" x="35"/></g><rect x="1413" y="221" width="57" height="75.8" fill="none" stroke="#ffff00" stroke-width="4.3"/><rect x="1524" y="103.9" width="15.8" height="309.4" fill="url(#g3)"/><rect x="1539.8" y="103.10" width="13.2" height="2.8" fill="#262626"/><text x="1560.0" y="0" font-size="22" transform="translate(0,112.25) scale(1,1.045)">5%</text><rect x="1539.8" y="180.45" width="13.2" height="2.8" fill="#262626"/><text x="1560.0" y="0" font-size="22" transform="translate(0,189.60) scale(1,1.045)">2%</text><rect x="1539.8" y="257.80" width="13.2" height="2.8" fill="#262626"/><text x="1560.0" y="0" font-size="22" transform="translate(0,266.95) scale(1,1.045)">0%</text><rect x="1539.8" y="335.15" width="13.2" height="2.8" fill="#262626"/><text x="1560.0" y="0" font-size="22" transform="translate(0,344.30) scale(1,1.045)">-2%</text><rect x="1539.8" y="412.50" width="13.2" height="2.8" fill="#262626"/><text x="1560.0" y="0" font-size="22" transform="translate(0,421.65) scale(1,1.045)">-5%</text><rect x="1242.5" y="454.5" width="265" height="303.7" fill="#1f1e1e" stroke="#0e0e0e" stroke-width="1"/><g transform="translate(1242,454) scale(3.80000,3.80875)" shape-rendering="crispEdges"><g id="h31"><path fill="#bde7db" d="M31 3h2v1h-2zM23 4h4v1h-4zM29 4h4v1h-4zM20 5h4v1h-4zM26 5h2v1h-2zM30 5h1v1h-1zM18 6h2v1h-2zM21 6h2v1h-2zM25 6h2v1h-2zM31 6h1v1h-1zM16 7h4v1h-4zM14 8h1v1h-1zM16 8h4v1h-4zM13 9h3v1h-3zM13 10h2v1h-2zM11 11h2v1h-2zM11 12h2v1h-2zM14 12h1v1h-1zM10 13h3v1h-3zM9 14h3v1h-3zM9 15h1v1h-1zM11 15h1v1h-1zM22 15h1v1h-1zM8 16h3v1h-3zM9 17h2v1h-2zM7 18h3v1h-3zM7 19h2v1h-2zM7 20h3v1h-3zM7 21h1v1h-1zM5 22h1v1h-1zM5 23h3v1h-3zM22 23h1v1h-1zM6 25h2v1h-2zM6 26h1v1h-1zM6 27h1v1h-1zM32 28h1v1h-1zM4 29h2v1h-2zM15 29h1v1h-1zM5 30h2v1h-2zM4 31h1v1h-1zM5 32h2v1h-2zM5 33h1v1h-1zM5 35h1v1h-1zM24 35h1v1h-1zM6 36h1v1h-1zM5 37h2v1h-2zM31 37h1v1h-1zM4 38h1v1h-1zM5 39h1v1h-1zM3 40h1v1h-1zM5 40h1v1h-1zM4 41h1v1h-1zM4 42h1v1h-1zM3 43h3v1h-3zM4 44h1v1h-1zM4 45h1v1h-1zM4 46h1v1h-1zM5 47h1v1h-1zM3 48h1v1h-1zM3 49h2v1h-2zM9 49h1v1h-1zM5 50h1v1h-1zM5 51h1v1h-1zM6 52h1v1h-1zM4 53h2v1h-2zM5 56h3v1h-3zM5 57h2v1h-2zM5 58h1v1h-1zM7 58h2v1h-2zM8 59h1v1h-1zM8 60h1v1h-1zM7 61h1v1h-1zM11 63h1v1h-1zM12 65h1v1h-1zM14 65h1v1h-1zM14 66h1v1h-1zM15 67h1v1h-1zM17 69h1v1h-1zM18 70h1v1h-1zM20 70h1v1h-1zM17 71h2v1h-2zM20 71h1v1h-1zM18 72h3v1h-3zM22 72h3v1h-3zM20 73h3v1h-3zM24 73h2v1h-2zM31 73h1v1h-1zM22 74h3v1h-3zM27 74h2v1h-2zM30 74h3v1h-3zM26 75h2v1h-2zM29 75h3v1h-3z"/><path fill="#afddd7" d="M32 8h1v1h-1zM10 19h1v1h-1zM19 19h1v1h-1zM32 20h1v1h-1zM12 32h1v1h-1zM31 34h1v1h-1zM7 37h1v1h-1zM19 49h1v1h-1zM31 51h1v1h-1zM28 67h1v1h-1zM25 71h1v1h-1z"/><path fill="#a1d3d4" d="M14 17h1v1h-1zM18 19h1v1h-1zM11 20h1v1h-1zM23 23h1v1h-1zM9 24h1v1h-1zM13 30h1v1h-1zM29 30h1v1h-1zM27 31h1v1h-1zM16 32h1v1h-1zM7 33h1v1h-1zM16 35h1v1h-1zM19 38h1v1h-1zM15 45h1v1h-1zM28 48h1v1h-1zM30 61h1v1h-1zM25 62h1v1h-1zM22 69h1v1h-1z"/><path fill="#90c8d1" d="M23 16h1v1h-1zM16 17h1v1h-1zM15 18h1v1h-1zM29 18h1v1h-1zM16 19h1v1h-1zM10 28h1v1h-1zM21 30h1v1h-1zM15 35h1v1h-1zM14 46h1v1h-1zM20 46h1v1h-1zM30 49h1v1h-1zM29 50h1v1h-1zM32 50h1v1h-1zM24 51h1v1h-1zM27 51h1v1h-1zM16 53h1v1h-1zM22 55h1v1h-1zM27 57h1v1h-1zM25 61h1v1h-1zM31 62h1v1h-1zM30 73h1v1h-1z"/><path fill="#81bfcf" d="M25 5h1v1h-1zM23 7h1v1h-1zM24 9h1v1h-1zM20 10h1v1h-1zM25 10h1v1h-1zM17 11h1v1h-1zM22 12h1v1h-1zM31 14h1v1h-1zM22 17h1v1h-1zM29 17h1v1h-1zM23 31h1v1h-1zM10 32h1v1h-1zM5 36h1v1h-1zM31 36h1v1h-1zM27 40h2v1h-2zM11 42h1v1h-1zM24 45h1v1h-1zM23 50h1v1h-1zM24 53h2v1h-2zM26 54h1v1h-1zM23 56h1v1h-1zM26 58h1v1h-1zM30 62h1v1h-1zM32 63h1v1h-1zM28 70h1v1h-1zM31 70h1v1h-1z"/><path fill="#6eb4cd" d="M32 6h1v1h-1zM26 9h1v1h-1zM31 12h1v1h-1zM20 14h1v1h-1zM14 20h1v1h-1zM28 20h1v1h-1zM11 22h1v1h-1zM26 22h1v1h-1zM30 28h1v1h-1zM16 33h1v1h-1zM32 35h1v1h-1zM30 36h1v1h-1zM24 38h1v1h-1zM15 40h1v1h-1zM29 40h1v1h-1zM13 45h1v1h-1zM29 46h1v1h-1zM8 49h1v1h-1zM11 49h1v1h-1zM7 50h1v1h-1zM16 51h1v1h-1zM16 54h1v1h-1zM19 58h1v1h-1zM19 60h1v1h-1zM32 60h1v1h-1zM18 62h1v1h-1zM31 63h1v1h-1zM30 64h1v1h-1zM21 68h1v1h-1zM20 69h1v1h-1z"/><path fill="#60abcd" d="M21 10h1v1h-1zM31 13h2v1h-2zM29 14h1v1h-1zM32 14h1v1h-1zM13 19h1v1h-1zM30 20h1v1h-1zM28 22h1v1h-1zM32 22h1v1h-1zM8 25h1v1h-1zM12 28h1v1h-1zM5 31h1v1h-1zM31 35h1v1h-1zM20 38h1v1h-1zM29 38h1v1h-1zM16 40h1v1h-1zM10 44h1v1h-1zM22 53h1v1h-1zM17 54h1v1h-1zM19 57h1v1h-1zM20 58h1v1h-1zM23 58h1v1h-1zM20 59h1v1h-1zM22 60h1v1h-1zM27 64h1v1h-1zM29 66h1v1h-1z"/><path fill="#50a0cd" d="M13 17h1v1h-1zM21 20h1v1h-1zM30 21h1v1h-1zM20 27h1v1h-1zM30 34h1v1h-1zM31 38h1v1h-1zM9 43h1v1h-1zM25 68h1v1h-1z"/><path fill="#4596ce" d="M19 52h1v1h-1z"/><path fill="#3a89cf" d="M26 24h1v1h-1zM30 40h1v1h-1zM17 41h1v1h-1zM25 64h1v1h-1z"/><path fill="#377fd0" d="M21 27h1v1h-1zM19 34h1v1h-1zM9 38h1v1h-1zM25 44h1v1h-1zM13 46h1v1h-1zM29 48h1v1h-1zM12 53h1v1h-1zM19 54h1v1h-1zM25 59h1v1h-1z"/><path fill="#3a73ce" d="M18 23h1v1h-1zM14 24h1v1h-1zM18 31h1v1h-1zM32 33h1v1h-1zM19 42h1v1h-1zM31 47h1v1h-1zM27 52h1v1h-1zM9 55h1v1h-1zM22 58h1v1h-1zM22 64h1v1h-1z"/><path fill="#4265c5" d="M31 7h1v1h-1zM31 8h1v1h-1zM31 9h1v1h-1zM23 10h1v1h-1zM26 10h1v1h-1zM29 11h1v1h-1zM30 13h1v1h-1zM20 15h1v1h-1zM12 16h1v1h-1zM11 17h2v1h-2zM11 19h1v1h-1zM14 19h1v1h-1zM23 19h2v1h-2zM16 20h1v1h-1zM11 21h1v1h-1zM15 21h1v1h-1zM18 21h1v1h-1zM24 22h1v1h-1zM25 23h1v1h-1zM21 26h1v1h-1zM21 28h1v1h-1zM18 30h1v1h-1zM11 31h1v1h-1zM7 32h1v1h-1zM11 32h1v1h-1zM18 32h1v1h-1zM30 35h1v1h-1zM23 36h1v1h-1zM28 38h1v1h-1zM19 39h1v1h-1zM12 40h1v1h-1zM16 41h1v1h-1zM32 42h1v1h-1zM7 43h1v1h-1zM12 43h2v1h-2zM26 44h1v1h-1zM32 45h1v1h-1zM19 46h1v1h-1zM14 47h1v1h-1zM10 48h1v1h-1zM16 50h1v1h-1zM12 51h1v1h-1zM23 51h1v1h-1zM24 52h1v1h-1zM14 53h2v1h-2zM17 53h1v1h-1zM16 55h1v1h-1zM10 57h1v1h-1zM14 60h1v1h-1zM23 60h1v1h-1zM19 61h1v1h-1zM26 62h1v1h-1zM29 62h1v1h-1zM32 62h1v1h-1zM23 63h1v1h-1zM30 63h1v1h-1zM15 64h1v1h-1zM30 68h1v1h-1zM24 69h1v1h-1zM29 71h1v1h-1z"/><path fill="#475ab9" d="M32 5h1v1h-1zM29 7h1v1h-1zM22 8h1v1h-1zM32 11h1v1h-1zM17 12h1v1h-1zM29 13h1v1h-1zM16 14h1v1h-1zM21 14h1v1h-1zM26 15h1v1h-1zM30 15h1v1h-1zM20 16h2v1h-2zM15 17h1v1h-1zM26 17h1v1h-1zM31 17h1v1h-1zM22 18h1v1h-1zM32 18h1v1h-1zM17 19h1v1h-1zM31 19h1v1h-1zM12 20h1v1h-1zM19 20h1v1h-1zM23 20h1v1h-1zM31 20h1v1h-1zM22 21h1v1h-1zM24 21h1v1h-1zM29 21h1v1h-1zM30 22h1v1h-1zM31 23h1v1h-1zM20 24h1v1h-1zM15 25h1v1h-1zM19 26h1v1h-1zM16 27h1v1h-1zM22 28h1v1h-1zM30 29h1v1h-1zM11 30h1v1h-1zM9 31h1v1h-1zM14 31h1v1h-1zM17 31h1v1h-1zM8 32h1v1h-1zM9 33h1v1h-1zM12 33h1v1h-1zM30 33h1v1h-1zM21 36h1v1h-1zM15 37h1v1h-1zM27 37h1v1h-1zM18 38h1v1h-1zM25 39h1v1h-1zM31 40h1v1h-1zM24 41h1v1h-1zM15 42h1v1h-1zM26 43h2v1h-2zM29 43h1v1h-1zM27 44h1v1h-1zM26 46h1v1h-1zM9 47h1v1h-1zM16 47h1v1h-1zM25 47h1v1h-1zM27 48h1v1h-1zM32 48h1v1h-1zM10 49h1v1h-1zM20 50h2v1h-2zM31 50h1v1h-1zM14 51h1v1h-1zM30 51h1v1h-1zM9 52h1v1h-1zM23 52h1v1h-1zM23 54h1v1h-1zM15 55h1v1h-1zM28 56h1v1h-1zM13 57h1v1h-1zM21 57h2v1h-2zM24 57h1v1h-1zM28 57h1v1h-1zM14 59h1v1h-1zM22 59h1v1h-1zM15 60h1v1h-1zM14 61h1v1h-1zM28 62h1v1h-1zM12 64h1v1h-1zM18 64h1v1h-1zM29 64h1v1h-1zM23 66h1v1h-1zM21 67h2v1h-2zM27 67h1v1h-1zM26 69h1v1h-1zM25 70h1v1h-1z"/><path fill="#4a4fa5" d="M25 7h2v1h-2zM24 8h3v1h-3zM22 9h1v1h-1zM25 9h1v1h-1zM13 11h1v1h-1zM13 12h1v1h-1zM24 12h1v1h-1zM17 13h1v1h-1zM20 13h2v1h-2zM27 13h1v1h-1zM13 15h2v1h-2zM27 15h1v1h-1zM32 15h1v1h-1zM15 16h1v1h-1zM32 16h1v1h-1zM21 18h1v1h-1zM15 19h1v1h-1zM10 20h1v1h-1zM12 21h2v1h-2zM21 21h1v1h-1zM14 22h1v1h-1zM19 22h1v1h-1zM31 22h1v1h-1zM16 24h1v1h-1zM19 24h1v1h-1zM18 25h1v1h-1zM30 25h1v1h-1zM16 26h1v1h-1zM18 26h1v1h-1zM20 26h1v1h-1zM30 26h2v1h-2zM15 28h1v1h-1zM21 29h1v1h-1zM29 29h1v1h-1zM32 29h1v1h-1zM12 30h1v1h-1zM26 30h1v1h-1zM25 31h1v1h-1zM9 32h1v1h-1zM10 33h1v1h-1zM21 33h1v1h-1zM8 37h1v1h-1zM23 37h1v1h-1zM26 37h1v1h-1zM25 38h1v1h-1zM32 38h1v1h-1zM20 39h2v1h-2zM24 39h1v1h-1zM29 39h1v1h-1zM11 40h1v1h-1zM14 40h1v1h-1zM12 41h1v1h-1zM21 41h1v1h-1zM14 42h1v1h-1zM26 42h1v1h-1zM7 44h2v1h-2zM9 45h2v1h-2zM24 47h1v1h-1zM32 47h1v1h-1zM16 48h2v1h-2zM25 48h1v1h-1zM5 49h1v1h-1zM18 50h1v1h-1zM24 50h2v1h-2zM25 51h1v1h-1zM17 52h1v1h-1zM26 52h1v1h-1zM10 54h1v1h-1zM29 54h1v1h-1zM32 55h1v1h-1zM14 56h1v1h-1zM21 56h1v1h-1zM28 58h1v1h-1zM18 59h1v1h-1zM24 60h2v1h-2zM29 60h1v1h-1zM15 61h1v1h-1zM13 63h1v1h-1zM24 63h1v1h-1zM24 64h1v1h-1zM18 65h1v1h-1zM23 65h1v1h-1zM28 65h1v1h-1zM30 65h1v1h-1zM15 66h1v1h-1zM17 66h1v1h-1zM28 66h1v1h-1zM30 66h1v1h-1zM16 67h1v1h-1zM25 67h1v1h-1zM29 67h1v1h-1zM20 68h1v1h-1zM24 68h1v1h-1zM28 68h1v1h-1zM23 69h1v1h-1z"/><path fill="#474792" d="M30 8h1v1h-1zM32 9h1v1h-1zM31 10h2v1h-2zM16 11h1v1h-1zM26 11h1v1h-1zM31 11h1v1h-1zM16 12h1v1h-1zM30 12h1v1h-1zM30 14h1v1h-1zM25 16h1v1h-1zM28 16h1v1h-1zM30 16h1v1h-1zM30 17h1v1h-1zM13 18h2v1h-2zM23 18h1v1h-1zM12 19h1v1h-1zM30 19h1v1h-1zM26 20h1v1h-1zM22 22h1v1h-1zM30 23h1v1h-1zM18 27h2v1h-2zM28 27h2v1h-2zM7 28h1v1h-1zM11 28h1v1h-1zM17 28h1v1h-1zM28 28h1v1h-1zM31 28h1v1h-1zM10 29h1v1h-1zM12 29h1v1h-1zM28 29h1v1h-1zM31 29h1v1h-1zM12 31h2v1h-2zM29 31h1v1h-1zM26 33h1v1h-1zM31 33h1v1h-1zM18 34h1v1h-1zM23 34h1v1h-1zM7 35h1v1h-1zM27 36h1v1h-1zM17 37h1v1h-1zM21 38h2v1h-2zM27 38h1v1h-1zM30 38h1v1h-1zM13 39h1v1h-1zM27 39h1v1h-1zM25 40h1v1h-1zM16 42h1v1h-1zM18 42h1v1h-1zM22 43h1v1h-1zM30 43h1v1h-1zM11 44h1v1h-1zM28 44h1v1h-1zM8 45h1v1h-1zM22 45h1v1h-1zM5 46h1v1h-1zM8 46h1v1h-1zM12 46h1v1h-1zM24 46h1v1h-1zM8 47h1v1h-1zM10 47h1v1h-1zM15 47h1v1h-1zM27 47h1v1h-1zM30 47h1v1h-1zM6 48h1v1h-1zM12 48h1v1h-1zM7 49h1v1h-1zM24 49h1v1h-1zM26 49h1v1h-1zM8 51h1v1h-1zM22 51h1v1h-1zM13 52h1v1h-1zM31 52h1v1h-1zM20 53h1v1h-1zM26 53h1v1h-1zM29 53h1v1h-1zM32 53h1v1h-1zM14 54h1v1h-1zM31 54h2v1h-2zM15 56h1v1h-1zM24 56h2v1h-2zM16 59h1v1h-1zM19 59h1v1h-1zM30 60h1v1h-1zM28 61h1v1h-1zM16 68h1v1h-1zM22 68h2v1h-2zM26 68h1v1h-1zM29 70h1v1h-1zM28 72h1v1h-1z"/><path fill="#42407b" d="M27 6h1v1h-1zM19 11h1v1h-1zM24 11h1v1h-1zM27 11h1v1h-1zM15 12h1v1h-1zM13 13h1v1h-1zM15 13h1v1h-1zM17 15h1v1h-1zM21 15h1v1h-1zM31 15h1v1h-1zM13 16h1v1h-1zM17 16h1v1h-1zM31 16h1v1h-1zM12 18h1v1h-1zM16 18h1v1h-1zM28 18h1v1h-1zM25 20h1v1h-1zM17 21h1v1h-1zM10 22h1v1h-1zM21 22h1v1h-1zM13 23h1v1h-1zM19 23h1v1h-1zM29 23h1v1h-1zM32 23h1v1h-1zM24 24h1v1h-1zM16 25h1v1h-1zM17 26h1v1h-1zM22 26h1v1h-1zM25 29h1v1h-1zM32 30h1v1h-1zM13 32h1v1h-1zM27 32h1v1h-1zM8 33h1v1h-1zM17 33h1v1h-1zM11 34h1v1h-1zM15 34h1v1h-1zM12 35h1v1h-1zM16 37h1v1h-1zM23 38h1v1h-1zM6 39h1v1h-1zM23 39h1v1h-1zM23 40h1v1h-1zM15 41h1v1h-1zM23 41h1v1h-1zM23 42h1v1h-1zM21 44h1v1h-1zM29 44h1v1h-1zM18 45h1v1h-1zM20 45h1v1h-1zM27 45h1v1h-1zM17 47h1v1h-1zM11 48h1v1h-1zM12 49h1v1h-1zM22 49h1v1h-1zM8 50h1v1h-1zM11 50h1v1h-1zM13 50h1v1h-1zM15 50h1v1h-1zM17 50h1v1h-1zM22 50h1v1h-1zM11 52h1v1h-1zM22 52h1v1h-1zM19 53h1v1h-1zM27 53h1v1h-1zM18 54h1v1h-1zM25 54h1v1h-1zM30 56h1v1h-1zM21 58h1v1h-1zM21 59h1v1h-1zM23 59h1v1h-1zM31 60h1v1h-1zM10 61h1v1h-1zM24 61h1v1h-1zM21 63h1v1h-1zM28 64h1v1h-1zM16 65h1v1h-1zM29 65h1v1h-1zM25 69h1v1h-1zM19 70h1v1h-1zM24 70h1v1h-1zM26 70h1v1h-1zM32 70h1v1h-1zM31 72h1v1h-1z"/><path fill="#3c3a69" d="M20 8h1v1h-1zM19 9h1v1h-1zM22 10h1v1h-1zM28 11h1v1h-1zM24 13h1v1h-1zM26 13h1v1h-1zM19 14h1v1h-1zM24 14h1v1h-1zM19 16h1v1h-1zM18 18h1v1h-1zM25 19h1v1h-1zM29 19h1v1h-1zM15 20h1v1h-1zM17 20h1v1h-1zM29 20h1v1h-1zM8 24h1v1h-1zM12 24h1v1h-1zM18 24h1v1h-1zM28 24h2v1h-2zM23 28h1v1h-1zM9 29h1v1h-1zM11 29h1v1h-1zM14 29h1v1h-1zM16 29h1v1h-1zM24 30h1v1h-1zM8 31h1v1h-1zM18 33h1v1h-1zM20 33h1v1h-1zM22 33h1v1h-1zM17 34h1v1h-1zM29 34h1v1h-1zM22 35h1v1h-1zM26 35h1v1h-1zM25 36h1v1h-1zM20 37h1v1h-1zM16 38h2v1h-2zM26 38h1v1h-1zM18 39h1v1h-1zM26 39h1v1h-1zM17 40h1v1h-1zM20 40h1v1h-1zM8 42h1v1h-1zM13 42h1v1h-1zM18 43h1v1h-1zM25 43h1v1h-1zM13 44h1v1h-1zM17 45h1v1h-1zM19 45h1v1h-1zM23 46h1v1h-1zM25 46h1v1h-1zM28 46h1v1h-1zM18 48h1v1h-1zM24 48h1v1h-1zM26 48h1v1h-1zM27 49h1v1h-1zM19 51h1v1h-1zM20 52h1v1h-1zM11 53h1v1h-1zM13 54h1v1h-1zM22 54h1v1h-1zM28 54h1v1h-1zM21 55h1v1h-1zM29 55h1v1h-1zM9 56h1v1h-1zM11 56h1v1h-1zM15 57h2v1h-2zM32 57h1v1h-1zM12 58h2v1h-2zM27 58h1v1h-1zM30 58h1v1h-1zM24 59h1v1h-1zM32 59h1v1h-1zM10 60h1v1h-1zM17 62h1v1h-1zM20 62h1v1h-1zM32 64h1v1h-1zM25 65h1v1h-1zM20 66h1v1h-1zM23 67h1v1h-1zM30 67h1v1h-1zM32 68h1v1h-1zM31 69h1v1h-1zM19 71h1v1h-1zM30 72h1v1h-1zM23 73h1v1h-1zM26 73h1v1h-1z"/><path fill="#343356" d="M20 7h2v1h-2zM16 9h1v1h-1zM16 10h1v1h-1zM14 14h1v1h-1zM23 15h1v1h-1zM20 21h1v1h-1zM23 21h1v1h-1zM8 22h1v1h-1zM16 22h1v1h-1zM11 24h1v1h-1zM21 24h1v1h-1zM27 24h1v1h-1zM25 26h1v1h-1zM7 27h1v1h-1zM10 27h2v1h-2zM17 27h1v1h-1zM24 27h1v1h-1zM26 27h1v1h-1zM18 28h1v1h-1zM27 28h1v1h-1zM24 29h1v1h-1zM17 30h1v1h-1zM22 32h1v1h-1zM28 32h1v1h-1zM11 33h1v1h-1zM24 33h1v1h-1zM28 33h1v1h-1zM14 34h1v1h-1zM20 34h1v1h-1zM19 35h1v1h-1zM12 36h1v1h-1zM14 37h1v1h-1zM21 37h1v1h-1zM29 37h1v1h-1zM31 39h1v1h-1zM26 41h1v1h-1zM28 41h1v1h-1zM17 42h1v1h-1zM24 43h1v1h-1zM11 45h1v1h-1zM14 45h1v1h-1zM16 45h1v1h-1zM15 46h2v1h-2zM14 48h1v1h-1zM16 49h1v1h-1zM13 51h1v1h-1zM28 51h1v1h-1zM32 51h1v1h-1zM21 53h1v1h-1zM15 54h1v1h-1zM16 56h1v1h-1zM31 56h1v1h-1zM14 58h1v1h-1zM32 58h1v1h-1zM21 60h1v1h-1zM21 61h1v1h-1zM15 63h1v1h-1zM19 63h1v1h-1zM31 65h1v1h-1zM18 67h1v1h-1zM20 67h1v1h-1zM30 69h1v1h-1zM32 71h1v1h-1z"/><path fill="#2e2d48" d="M30 6h1v1h-1zM19 10h1v1h-1zM21 12h1v1h-1zM23 12h1v1h-1zM16 15h1v1h-1zM28 15h1v1h-1zM24 16h1v1h-1zM27 16h1v1h-1zM32 17h1v1h-1zM20 18h1v1h-1zM22 19h1v1h-1zM15 22h1v1h-1zM20 23h1v1h-1zM17 24h1v1h-1zM17 25h1v1h-1zM25 25h1v1h-1zM12 26h1v1h-1zM23 26h1v1h-1zM14 27h1v1h-1zM31 27h1v1h-1zM22 30h2v1h-2zM27 30h1v1h-1zM21 31h1v1h-1zM28 34h1v1h-1zM10 36h1v1h-1zM22 39h1v1h-1zM26 40h1v1h-1zM5 41h1v1h-1zM9 41h1v1h-1zM19 43h2v1h-2zM28 43h1v1h-1zM31 43h1v1h-1zM12 44h1v1h-1zM18 44h2v1h-2zM31 44h2v1h-2zM7 46h1v1h-1zM10 46h1v1h-1zM31 46h2v1h-2zM19 47h1v1h-1zM22 47h1v1h-1zM30 48h1v1h-1zM14 49h1v1h-1zM23 49h1v1h-1zM12 50h1v1h-1zM7 51h1v1h-1zM9 51h1v1h-1zM20 51h1v1h-1zM28 52h2v1h-2zM10 53h1v1h-1zM21 54h1v1h-1zM30 55h1v1h-1zM8 56h1v1h-1zM12 56h1v1h-1zM12 57h1v1h-1zM14 57h1v1h-1zM30 57h1v1h-1zM18 58h1v1h-1zM27 59h1v1h-1zM26 61h1v1h-1zM21 65h1v1h-1zM32 65h1v1h-1zM18 66h1v1h-1zM28 69h1v1h-1z"/><path fill="#29283b" d="M32 7h1v1h-1zM28 8h1v1h-1zM27 12h1v1h-1zM18 14h1v1h-1zM22 16h1v1h-1zM20 17h1v1h-1zM21 19h1v1h-1zM18 20h1v1h-1zM18 22h1v1h-1zM24 23h1v1h-1zM27 23h1v1h-1zM32 24h1v1h-1zM24 26h1v1h-1zM16 28h1v1h-1zM24 28h1v1h-1zM26 29h1v1h-1zM19 30h1v1h-1zM24 31h1v1h-1zM31 31h1v1h-1zM14 32h1v1h-1zM19 33h1v1h-1zM27 34h1v1h-1zM23 35h1v1h-1zM8 36h1v1h-1zM11 36h1v1h-1zM13 37h1v1h-1zM32 37h1v1h-1zM6 38h1v1h-1zM11 38h2v1h-2zM14 41h1v1h-1zM31 41h1v1h-1zM22 42h1v1h-1zM28 42h1v1h-1zM10 43h1v1h-1zM14 43h1v1h-1zM14 44h1v1h-1zM12 45h1v1h-1zM29 45h1v1h-1zM31 45h1v1h-1zM9 46h1v1h-1zM18 46h1v1h-1zM6 47h1v1h-1zM13 48h1v1h-1zM19 48h2v1h-2zM31 48h1v1h-1zM13 49h1v1h-1zM32 49h1v1h-1zM29 51h1v1h-1zM18 52h1v1h-1zM18 53h1v1h-1zM9 54h1v1h-1zM27 54h1v1h-1zM17 56h1v1h-1zM17 57h1v1h-1zM26 57h1v1h-1zM15 58h1v1h-1zM31 58h1v1h-1zM12 59h1v1h-1zM28 59h1v1h-1zM17 60h1v1h-1zM16 61h1v1h-1zM19 62h1v1h-1zM21 62h1v1h-1zM23 62h1v1h-1zM19 65h1v1h-1zM27 65h1v1h-1zM24 71h1v1h-1zM27 73h1v1h-1zM32 73h1v1h-1z"/><path fill="#24232e" d="M29 8h1v1h-1zM17 9h1v1h-1zM21 9h1v1h-1zM18 10h1v1h-1zM22 11h1v1h-1zM18 13h1v1h-1zM22 13h1v1h-1zM15 15h1v1h-1zM17 17h1v1h-1zM25 17h1v1h-1zM17 18h1v1h-1zM25 18h1v1h-1zM26 19h1v1h-1zM20 20h1v1h-1zM16 21h1v1h-1zM31 21h1v1h-1zM17 22h1v1h-1zM10 23h1v1h-1zM13 24h1v1h-1zM25 24h1v1h-1zM31 24h1v1h-1zM19 25h1v1h-1zM24 25h1v1h-1zM26 25h1v1h-1zM29 25h1v1h-1zM32 25h1v1h-1zM30 27h1v1h-1zM8 28h1v1h-1zM13 28h1v1h-1zM26 28h1v1h-1zM17 29h1v1h-1zM22 29h1v1h-1zM9 30h1v1h-1zM19 31h2v1h-2zM30 31h1v1h-1zM32 31h1v1h-1zM24 32h1v1h-1zM10 34h1v1h-1zM13 34h1v1h-1zM32 34h1v1h-1zM11 35h1v1h-1zM14 35h1v1h-1zM18 35h1v1h-1zM7 36h1v1h-1zM16 36h1v1h-1zM19 36h2v1h-2zM12 37h1v1h-1zM13 38h1v1h-1zM7 39h1v1h-1zM14 39h1v1h-1zM28 39h1v1h-1zM32 39h1v1h-1zM29 41h1v1h-1zM32 41h1v1h-1zM6 42h1v1h-1zM24 42h1v1h-1zM30 42h1v1h-1zM8 43h1v1h-1zM24 44h1v1h-1zM21 46h1v1h-1zM30 46h1v1h-1zM12 47h2v1h-2zM23 48h1v1h-1zM25 49h1v1h-1zM10 51h1v1h-1zM15 51h1v1h-1zM17 51h1v1h-1zM21 51h1v1h-1zM26 51h1v1h-1zM8 52h1v1h-1zM32 52h1v1h-1zM28 53h1v1h-1zM30 54h1v1h-1zM6 55h1v1h-1zM27 55h2v1h-2zM13 56h1v1h-1zM19 56h1v1h-1zM29 57h1v1h-1zM25 58h1v1h-1zM15 59h1v1h-1zM17 61h1v1h-1zM22 61h1v1h-1zM14 63h1v1h-1zM16 63h1v1h-1zM20 64h1v1h-1zM26 64h1v1h-1zM31 64h1v1h-1zM20 65h1v1h-1zM24 65h1v1h-1zM26 65h1v1h-1zM26 66h1v1h-1zM22 70h1v1h-1zM27 72h1v1h-1z"/><path fill="#212026" d="M18 9h1v1h-1zM17 10h1v1h-1zM24 10h1v1h-1zM28 12h1v1h-1zM25 13h1v1h-1zM22 14h1v1h-1zM23 17h1v1h-1zM30 18h1v1h-1zM22 20h1v1h-1zM9 21h1v1h-1zM14 23h1v1h-1zM21 23h1v1h-1zM10 25h1v1h-1zM21 25h1v1h-1zM10 26h2v1h-2zM14 26h1v1h-1zM29 26h1v1h-1zM27 27h1v1h-1zM20 29h1v1h-1zM26 31h1v1h-1zM15 32h1v1h-1zM32 32h1v1h-1zM9 34h1v1h-1zM12 34h1v1h-1zM6 35h1v1h-1zM8 35h1v1h-1zM21 35h1v1h-1zM25 35h1v1h-1zM13 36h1v1h-1zM18 37h1v1h-1zM15 39h1v1h-1zM30 39h1v1h-1zM10 41h1v1h-1zM25 41h1v1h-1zM25 42h1v1h-1zM21 43h1v1h-1zM22 44h1v1h-1zM25 45h1v1h-1zM23 47h1v1h-1zM26 47h1v1h-1zM28 47h1v1h-1zM17 49h2v1h-2zM20 49h1v1h-1zM28 49h2v1h-2zM19 50h1v1h-1zM14 52h1v1h-1zM12 54h1v1h-1zM24 54h1v1h-1zM14 55h1v1h-1zM31 55h1v1h-1zM8 57h1v1h-1zM31 57h1v1h-1zM17 58h1v1h-1zM29 58h1v1h-1zM31 59h1v1h-1zM12 60h1v1h-1zM24 62h1v1h-1zM18 63h1v1h-1zM25 63h1v1h-1zM23 64h1v1h-1zM15 65h1v1h-1zM24 66h2v1h-2zM22 71h2v1h-2zM21 72h1v1h-1z"/><path fill="#1f1e20" d="M27 8h1v1h-1zM25 11h1v1h-1zM18 12h1v1h-1zM25 12h1v1h-1zM16 13h1v1h-1zM17 14h1v1h-1zM25 15h1v1h-1zM18 16h1v1h-1zM18 17h1v1h-1zM32 19h1v1h-1zM14 21h1v1h-1zM27 21h1v1h-1zM32 21h1v1h-1zM12 22h1v1h-1zM20 22h1v1h-1zM23 22h1v1h-1zM29 22h1v1h-1zM9 23h1v1h-1zM17 23h1v1h-1zM12 25h1v1h-1zM14 25h1v1h-1zM28 25h1v1h-1zM31 25h1v1h-1zM15 26h1v1h-1zM8 27h1v1h-1zM15 27h1v1h-1zM5 28h1v1h-1zM29 28h1v1h-1zM18 29h1v1h-1zM30 30h1v1h-1zM7 31h1v1h-1zM21 32h1v1h-1zM13 33h1v1h-1zM25 33h1v1h-1zM27 33h1v1h-1zM29 33h1v1h-1zM7 34h1v1h-1zM16 34h1v1h-1zM21 34h1v1h-1zM20 35h1v1h-1zM28 35h2v1h-2zM18 36h1v1h-1zM24 37h1v1h-1zM19 40h1v1h-1zM8 41h1v1h-1zM27 41h1v1h-1zM6 43h1v1h-1zM32 43h1v1h-1zM16 44h1v1h-1zM30 44h1v1h-1zM17 46h1v1h-1zM27 46h1v1h-1zM20 47h1v1h-1zM7 48h2v1h-2zM15 48h1v1h-1zM7 52h1v1h-1zM12 52h1v1h-1zM25 52h1v1h-1zM30 52h1v1h-1zM13 55h1v1h-1zM23 55h1v1h-1zM18 57h1v1h-1zM16 58h1v1h-1zM26 59h1v1h-1zM13 60h1v1h-1zM16 60h1v1h-1zM10 62h1v1h-1zM13 62h1v1h-1zM17 63h1v1h-1zM22 63h1v1h-1zM27 63h1v1h-1zM13 65h1v1h-1zM24 67h1v1h-1zM31 68h1v1h-1zM18 69h1v1h-1zM21 71h1v1h-1zM32 72h1v1h-1zM29 74h1v1h-1z"/><path fill="#211e1e" d="M28 5h2v1h-2zM28 7h1v1h-1zM19 12h1v1h-1zM32 12h1v1h-1zM24 15h1v1h-1zM19 17h1v1h-1zM9 22h1v1h-1zM26 23h1v1h-1zM22 25h1v1h-1zM8 26h1v1h-1zM27 26h1v1h-1zM32 26h1v1h-1zM23 27h1v1h-1zM14 28h1v1h-1zM15 30h1v1h-1zM28 30h1v1h-1zM6 31h1v1h-1zM16 31h1v1h-1zM17 32h1v1h-1zM23 32h1v1h-1zM25 32h1v1h-1zM14 33h1v1h-1zM26 34h1v1h-1zM15 36h1v1h-1zM17 36h1v1h-1zM19 37h1v1h-1zM8 38h1v1h-1zM8 40h1v1h-1zM22 40h1v1h-1zM32 40h1v1h-1zM19 41h1v1h-1zM21 42h1v1h-1zM27 42h1v1h-1zM11 47h1v1h-1zM18 47h1v1h-1zM26 50h1v1h-1zM10 52h1v1h-1zM15 52h1v1h-1zM6 53h2v1h-2zM13 53h1v1h-1zM11 55h1v1h-1zM24 55h1v1h-1zM18 56h1v1h-1zM25 57h1v1h-1zM18 60h1v1h-1zM20 61h1v1h-1zM31 61h1v1h-1zM28 63h2v1h-2zM19 64h1v1h-1zM22 65h1v1h-1zM19 66h1v1h-1zM21 66h1v1h-1zM21 69h1v1h-1zM23 70h1v1h-1z"/><path fill="#291e20" d="M18 11h1v1h-1zM20 12h1v1h-1zM15 14h1v1h-1zM26 14h1v1h-1zM21 17h1v1h-1zM27 17h1v1h-1zM27 18h1v1h-1zM12 23h1v1h-1zM15 23h2v1h-2zM7 24h1v1h-1zM22 24h2v1h-2zM30 24h1v1h-1zM20 25h1v1h-1zM13 27h1v1h-1zM20 28h1v1h-1zM27 29h1v1h-1zM14 30h1v1h-1zM13 35h1v1h-1zM9 36h1v1h-1zM32 36h1v1h-1zM10 37h1v1h-1zM30 37h1v1h-1zM11 39h1v1h-1zM24 40h1v1h-1zM7 41h1v1h-1zM20 41h1v1h-1zM30 41h1v1h-1zM9 42h2v1h-2zM31 42h1v1h-1zM17 43h1v1h-1zM5 44h1v1h-1zM20 44h1v1h-1zM26 45h1v1h-1zM11 51h1v1h-1zM18 51h1v1h-1zM21 52h1v1h-1zM12 55h1v1h-1zM22 56h1v1h-1zM26 56h1v1h-1zM23 57h1v1h-1zM11 58h1v1h-1zM13 59h1v1h-1zM27 60h1v1h-1zM23 61h1v1h-1zM14 62h1v1h-1zM22 62h1v1h-1zM16 66h1v1h-1zM19 69h1v1h-1z"/><path fill="#311f23" d="M23 9h1v1h-1zM27 9h1v1h-1zM21 11h1v1h-1zM23 11h1v1h-1zM19 13h1v1h-1zM23 13h1v1h-1zM27 14h1v1h-1zM18 15h1v1h-1zM24 17h1v1h-1zM8 21h1v1h-1zM26 21h1v1h-1zM25 22h1v1h-1zM27 22h1v1h-1zM22 27h1v1h-1zM32 27h1v1h-1zM13 29h1v1h-1zM23 29h1v1h-1zM25 30h1v1h-1zM15 33h1v1h-1zM10 35h1v1h-1zM29 36h1v1h-1zM25 37h1v1h-1zM8 39h1v1h-1zM10 39h1v1h-1zM12 39h1v1h-1zM13 40h1v1h-1zM21 40h1v1h-1zM11 41h1v1h-1zM18 41h1v1h-1zM22 41h1v1h-1zM29 42h1v1h-1zM17 44h1v1h-1zM5 45h1v1h-1zM30 45h1v1h-1zM22 46h1v1h-1zM7 47h1v1h-1zM10 50h1v1h-1zM27 50h1v1h-1zM10 56h1v1h-1zM32 56h1v1h-1zM11 60h1v1h-1zM20 60h1v1h-1zM32 61h1v1h-1zM17 64h1v1h-1zM27 66h1v1h-1zM19 68h1v1h-1zM21 70h1v1h-1zM25 72h1v1h-1z"/><path fill="#3d2228" d="M27 7h1v1h-1zM23 8h1v1h-1zM25 14h1v1h-1zM16 16h1v1h-1zM27 20h1v1h-1zM19 21h1v1h-1zM28 21h1v1h-1zM13 22h1v1h-1zM23 25h1v1h-1zM13 26h1v1h-1zM12 27h1v1h-1zM19 28h1v1h-1zM19 29h1v1h-1zM16 30h1v1h-1zM20 30h1v1h-1zM23 33h1v1h-1zM9 35h1v1h-1zM22 36h1v1h-1zM22 37h1v1h-1zM9 39h1v1h-1zM16 39h1v1h-1zM7 42h1v1h-1zM21 45h1v1h-1zM9 48h1v1h-1zM21 49h1v1h-1zM9 50h1v1h-1zM16 52h1v1h-1zM31 53h1v1h-1zM27 56h1v1h-1zM9 57h1v1h-1zM9 61h1v1h-1zM29 61h1v1h-1z"/><path fill="#48242c" d="M20 11h1v1h-1zM26 16h1v1h-1zM26 18h1v1h-1zM11 23h1v1h-1zM27 25h1v1h-1zM26 26h1v1h-1zM19 32h1v1h-1zM8 34h1v1h-1zM24 34h2v1h-2zM9 37h1v1h-1zM11 37h1v1h-1zM10 40h1v1h-1zM18 40h1v1h-1zM23 44h1v1h-1zM23 45h1v1h-1zM11 46h1v1h-1zM15 49h1v1h-1zM14 50h1v1h-1zM11 54h1v1h-1zM24 58h1v1h-1z"/><path fill="#542732" d="M19 15h1v1h-1zM10 21h1v1h-1zM28 23h1v1h-1zM22 31h1v1h-1zM26 36h1v1h-1zM23 43h1v1h-1zM20 54h1v1h-1zM17 59h1v1h-1zM26 67h1v1h-1zM31 71h1v1h-1zM28 73h1v1h-1z"/><path fill="#642a38" d="M31 5h1v1h-1zM22 7h1v1h-1zM15 11h1v1h-1zM17 35h1v1h-1zM15 38h1v1h-1zM17 39h1v1h-1zM29 47h1v1h-1z"/><path fill="#722c3d" d="M8 23h1v1h-1zM15 24h1v1h-1zM26 32h1v1h-1zM28 36h1v1h-1zM31 49h1v1h-1zM23 53h1v1h-1z"/><path fill="#842d42" d="M14 13h1v1h-1zM23 14h1v1h-1zM13 41h1v1h-1zM6 49h1v1h-1zM8 54h1v1h-1zM11 57h1v1h-1zM10 59h1v1h-1zM30 59h1v1h-1zM32 67h1v1h-1zM18 68h1v1h-1zM27 68h1v1h-1zM30 70h1v1h-1zM26 72h1v1h-1z"/><path fill="#932e44" d="M25 21h1v1h-1zM10 24h1v1h-1zM7 26h1v1h-1zM28 31h1v1h-1zM31 32h1v1h-1zM18 55h2v1h-2zM26 60h1v1h-1zM12 61h1v1h-1zM27 61h1v1h-1zM11 62h1v1h-1zM14 64h1v1h-1zM16 64h1v1h-1zM32 66h1v1h-1zM26 71h1v1h-1zM29 72h1v1h-1z"/><path fill="#a52f44" d="M23 6h1v1h-1zM27 10h2v1h-2zM26 12h1v1h-1zM29 12h1v1h-1zM28 13h1v1h-1zM29 15h1v1h-1zM25 27h1v1h-1zM14 36h1v1h-1zM15 43h1v1h-1zM4 48h1v1h-1zM22 48h1v1h-1zM13 64h1v1h-1zM27 71h1v1h-1z"/><path fill="#b33341" d="M28 6h1v1h-1zM29 9h1v1h-1zM15 10h1v1h-1zM30 10h1v1h-1zM8 30h1v1h-1zM31 30h1v1h-1zM27 35h1v1h-1zM28 45h1v1h-1zM21 47h1v1h-1zM8 55h1v1h-1zM10 58h1v1h-1zM29 69h1v1h-1zM32 69h1v1h-1z"/><path fill="#c33a3c" d="M28 9h1v1h-1zM29 10h1v1h-1zM30 11h1v1h-1zM14 16h1v1h-1zM11 18h1v1h-1zM24 20h1v1h-1zM7 30h1v1h-1zM10 30h1v1h-1zM15 31h1v1h-1zM6 41h1v1h-1zM20 42h1v1h-1zM6 44h1v1h-1zM25 55h1v1h-1zM20 57h1v1h-1zM29 68h1v1h-1z"/><path fill="#ce4338" d="M12 14h1v1h-1zM28 17h1v1h-1zM20 32h1v1h-1zM10 38h1v1h-1zM12 42h1v1h-1zM7 45h1v1h-1zM6 54h1v1h-1zM13 61h1v1h-1zM20 63h1v1h-1zM21 64h1v1h-1zM22 66h1v1h-1zM27 69h1v1h-1z"/><path fill="#d74e35" d="M24 5h1v1h-1zM28 14h1v1h-1zM19 18h1v1h-1zM27 19h1v1h-1zM13 20h1v1h-1zM10 31h1v1h-1zM11 43h1v1h-1zM16 43h1v1h-1zM15 44h1v1h-1zM29 56h1v1h-1zM27 62h1v1h-1zM26 63h1v1h-1z"/><path fill="#e15c33" d="M30 7h1v1h-1zM12 15h1v1h-1zM31 18h1v1h-1zM6 29h1v1h-1zM28 37h1v1h-1zM6 40h1v1h-1zM5 52h1v1h-1zM10 55h1v1h-1zM20 55h1v1h-1zM9 58h1v1h-1zM9 59h1v1h-1zM27 70h1v1h-1z"/><path fill="#e76a34" d="M20 19h1v1h-1zM9 27h1v1h-1zM25 28h1v1h-1zM7 38h1v1h-1zM9 60h1v1h-1zM18 61h1v1h-1zM31 66h1v1h-1zM28 71h1v1h-1zM30 71h1v1h-1z"/><path fill="#ed7b3e" d="M20 9h1v1h-1zM24 18h1v1h-1zM9 26h1v1h-1zM22 34h1v1h-1zM14 38h1v1h-1zM9 40h1v1h-1zM17 55h1v1h-1zM20 56h1v1h-1zM11 59h1v1h-1zM12 62h1v1h-1zM19 67h1v1h-1zM31 67h1v1h-1z"/><path fill="#f0894b" d="M29 6h1v1h-1zM14 11h1v1h-1zM10 18h1v1h-1zM28 26h1v1h-1zM6 28h1v1h-1zM29 32h1v1h-1zM6 34h1v1h-1zM5 42h1v1h-1zM9 44h1v1h-1zM5 48h1v1h-1zM6 50h1v1h-1zM30 50h1v1h-1zM6 51h1v1h-1zM9 53h1v1h-1zM7 54h1v1h-1zM7 55h1v1h-1zM29 59h1v1h-1zM12 63h1v1h-1zM17 68h1v1h-1z"/><path fill="#f39a5f" d="M11 16h1v1h-1zM7 29h1v1h-1zM6 33h1v1h-1zM6 45h1v1h-1zM26 55h1v1h-1zM7 57h1v1h-1z"/><path fill="#f6a871" d="M24 7h1v1h-1zM29 16h1v1h-1zM7 40h1v1h-1zM6 46h1v1h-1zM21 48h1v1h-1zM8 53h1v1h-1zM15 62h1v1h-1zM29 73h1v1h-1z"/><path fill="#fab887" d="M24 6h1v1h-1zM21 8h1v1h-1zM30 9h1v1h-1zM9 25h1v1h-1zM13 25h1v1h-1zM24 36h1v1h-1zM28 50h1v1h-1zM17 65h1v1h-1zM17 67h1v1h-1z"/><path fill="#fcc69a" d="M13 14h1v1h-1zM11 25h1v1h-1zM9 28h1v1h-1zM8 29h1v1h-1zM30 53h1v1h-1zM28 60h1v1h-1zM11 61h1v1h-1zM16 62h1v1h-1z"/><path fill="#ffd4ac" d="M22 4h1v1h-1zM27 4h2v1h-2zM19 5h1v1h-1zM17 6h1v1h-1zM20 6h1v1h-1zM15 8h1v1h-1zM12 10h1v1h-1zM10 15h1v1h-1zM8 17h1v1h-1zM9 19h1v1h-1zM28 19h1v1h-1zM6 20h1v1h-1zM6 21h1v1h-1zM6 22h2v1h-2zM5 24h2v1h-2zM5 25h1v1h-1zM5 26h1v1h-1zM4 27h2v1h-2zM4 28h1v1h-1zM4 30h1v1h-1zM4 32h1v1h-1zM30 32h1v1h-1zM4 33h1v1h-1zM4 34h2v1h-2zM4 35h1v1h-1zM4 36h1v1h-1zM4 37h1v1h-1zM5 38h1v1h-1zM4 39h1v1h-1zM4 40h1v1h-1zM3 41h1v1h-1zM3 42h1v1h-1zM3 44h1v1h-1zM3 45h1v1h-1zM3 46h1v1h-1zM3 47h2v1h-2zM3 50h2v1h-2zM4 51h1v1h-1zM4 52h1v1h-1zM4 54h2v1h-2zM5 55h1v1h-1zM6 58h1v1h-1zM6 59h2v1h-2zM7 60h1v1h-1zM8 61h1v1h-1zM8 62h2v1h-2zM9 63h2v1h-2zM10 64h2v1h-2zM11 65h1v1h-1zM12 66h2v1h-2zM13 67h2v1h-2zM14 68h2v1h-2zM15 69h2v1h-2zM16 70h2v1h-2zM25 74h2v1h-2zM25 75h1v1h-1zM28 75h1v1h-1zM32 75h1v1h-1z"/></g><use href="#h31" x="35"/></g><rect x="1413" y="569" width="57" height="75.8" fill="none" stroke="#ffff00" stroke-width="4.3"/><rect x="1524" y="451.9" width="15.8" height="309.4" fill="url(#g3)"/><rect x="1539.8" y="451.10" width="13.2" height="2.8" fill="#262626"/><text x="1560.0" y="0" font-size="22" transform="translate(0,460.25) scale(1,1.045)">5%</text><rect x="1539.8" y="528.45" width="13.2" height="2.8" fill="#262626"/><text x="1560.0" y="0" font-size="22" transform="translate(0,537.60) scale(1,1.045)">2%</text><rect x="1539.8" y="605.80" width="13.2" height="2.8" fill="#262626"/><text x="1560.0" y="0" font-size="22" transform="translate(0,614.95) scale(1,1.045)">0%</text><rect x="1539.8" y="683.15" width="13.2" height="2.8" fill="#262626"/><text x="1560.0" y="0" font-size="22" transform="translate(0,692.30) scale(1,1.045)">-2%</text><rect x="1539.8" y="760.50" width="13.2" height="2.8" fill="#262626"/><text x="1560.0" y="0" font-size="22" transform="translate(0,769.65) scale(1,1.045)">-5%</text><text x="1773.5" y="81.8" text-anchor="middle" font-size="25">RISH 0</text><rect x="1641.5" y="106.5" width="264" height="303.7" fill="#1f1e1e" stroke="#0e0e0e" stroke-width="1"/><g transform="translate(1641,106) scale(3.78571,3.80875)" shape-rendering="crispEdges"><g id="h40"><path fill="#4167c7" d="M31 3h1v1h-1zM22 4h5v1h-5zM28 4h1v1h-1zM30 4h2v1h-2zM19 5h2v1h-2zM22 5h1v1h-1zM30 5h1v1h-1zM32 5h1v1h-1zM19 6h1v1h-1zM23 6h2v1h-2zM27 6h1v1h-1zM29 6h1v1h-1zM31 6h1v1h-1zM16 7h1v1h-1zM22 7h1v1h-1zM14 8h5v1h-5zM32 8h1v1h-1zM13 9h2v1h-2zM12 10h1v1h-1zM11 11h1v1h-1zM14 11h1v1h-1zM16 11h1v1h-1zM11 12h1v1h-1zM13 12h1v1h-1zM10 13h1v1h-1zM9 14h2v1h-2zM9 15h1v1h-1zM11 15h1v1h-1zM8 16h1v1h-1zM8 17h1v1h-1zM7 18h2v1h-2zM12 18h1v1h-1zM9 19h1v1h-1zM6 20h2v1h-2zM6 21h1v1h-1zM8 21h1v1h-1zM23 21h1v1h-1zM6 22h1v1h-1zM8 22h1v1h-1zM22 22h1v1h-1zM5 23h1v1h-1zM7 23h1v1h-1zM5 24h1v1h-1zM7 24h1v1h-1zM5 25h1v1h-1zM5 26h1v1h-1zM7 26h1v1h-1zM32 26h1v1h-1zM4 27h1v1h-1zM7 27h1v1h-1zM32 28h1v1h-1zM4 29h1v1h-1zM30 29h3v1h-3zM4 30h1v1h-1zM6 30h1v1h-1zM31 30h2v1h-2zM4 31h1v1h-1zM9 31h1v1h-1zM30 31h1v1h-1zM30 32h2v1h-2zM4 33h1v1h-1zM29 33h4v1h-4zM4 34h1v1h-1zM31 34h1v1h-1zM4 35h1v1h-1zM30 35h1v1h-1zM4 36h1v1h-1zM6 36h1v1h-1zM31 36h2v1h-2zM4 37h1v1h-1zM31 37h2v1h-2zM4 38h1v1h-1zM6 38h1v1h-1zM21 38h1v1h-1zM32 38h1v1h-1zM6 39h1v1h-1zM28 39h1v1h-1zM30 39h1v1h-1zM3 40h1v1h-1zM3 41h1v1h-1zM5 41h1v1h-1zM3 43h1v1h-1zM5 43h1v1h-1zM3 44h1v1h-1zM3 45h1v1h-1zM3 46h1v1h-1zM3 47h2v1h-2zM12 47h1v1h-1zM3 48h1v1h-1zM5 48h1v1h-1zM3 49h1v1h-1zM3 50h2v1h-2zM7 50h1v1h-1zM4 51h1v1h-1zM4 52h1v1h-1zM4 53h1v1h-1zM4 54h2v1h-2zM5 55h1v1h-1zM7 55h1v1h-1zM5 56h1v1h-1zM7 56h1v1h-1zM5 57h1v1h-1zM5 58h2v1h-2zM21 58h1v1h-1zM6 59h2v1h-2zM9 59h1v1h-1zM7 60h1v1h-1zM9 60h1v1h-1zM7 61h1v1h-1zM9 61h1v1h-1zM13 61h1v1h-1zM8 62h2v1h-2zM11 62h1v1h-1zM9 63h2v1h-2zM12 63h1v1h-1zM10 64h2v1h-2zM11 65h1v1h-1zM12 66h2v1h-2zM15 66h1v1h-1zM14 67h2v1h-2zM14 68h2v1h-2zM17 68h1v1h-1zM15 69h2v1h-2zM18 69h1v1h-1zM16 70h2v1h-2zM20 70h1v1h-1zM17 71h3v1h-3zM22 71h1v1h-1zM18 72h4v1h-4zM20 73h4v1h-4zM27 73h1v1h-1zM32 73h1v1h-1zM22 74h1v1h-1zM24 74h2v1h-2zM29 74h1v1h-1zM25 75h3v1h-3zM29 75h4v1h-4z"/><path fill="#465ebe" d="M26 8h1v1h-1zM31 9h1v1h-1zM32 10h1v1h-1zM31 11h1v1h-1zM14 18h1v1h-1zM11 30h1v1h-1zM11 31h1v1h-1zM6 32h1v1h-1zM26 32h1v1h-1zM21 34h1v1h-1zM17 45h1v1h-1zM9 46h1v1h-1zM6 49h1v1h-1zM28 55h1v1h-1zM11 57h1v1h-1zM26 58h1v1h-1zM12 62h1v1h-1zM18 66h1v1h-1zM22 67h1v1h-1zM25 68h1v1h-1zM29 72h1v1h-1z"/><path fill="#4956b3" d="M27 8h1v1h-1zM22 11h1v1h-1zM31 15h1v1h-1zM13 16h1v1h-1zM13 17h1v1h-1zM29 22h1v1h-1zM16 26h1v1h-1zM18 27h1v1h-1zM10 28h1v1h-1zM11 32h1v1h-1zM17 35h1v1h-1zM23 36h1v1h-1zM29 40h1v1h-1zM6 46h1v1h-1zM14 52h1v1h-1zM30 53h1v1h-1zM11 61h1v1h-1zM15 64h1v1h-1zM24 68h1v1h-1zM24 72h1v1h-1zM30 72h1v1h-1z"/><path fill="#4a4fa5" d="M31 12h1v1h-1zM11 18h1v1h-1zM13 18h1v1h-1zM11 20h1v1h-1zM13 20h1v1h-1zM10 29h1v1h-1zM13 29h1v1h-1zM9 33h1v1h-1zM15 39h1v1h-1zM7 44h1v1h-1zM9 57h1v1h-1zM10 58h1v1h-1zM22 58h1v1h-1zM25 61h2v1h-2zM25 69h1v1h-1zM29 69h1v1h-1zM30 70h1v1h-1zM32 72h1v1h-1z"/><path fill="#454386" d="M16 31h1v1h-1zM10 54h1v1h-1z"/><path fill="#413e77" d="M11 21h1v1h-1zM27 46h1v1h-1zM11 56h1v1h-1zM13 60h1v1h-1zM22 64h1v1h-1z"/><path fill="#3c3a69" d="M18 40h1v1h-1zM23 41h1v1h-1zM8 44h1v1h-1zM31 56h1v1h-1zM26 57h1v1h-1zM26 63h1v1h-1z"/><path fill="#37355c" d="M30 6h1v1h-1zM24 16h1v1h-1zM27 17h1v1h-1zM30 17h1v1h-1zM19 22h1v1h-1zM16 23h1v1h-1zM16 28h1v1h-1zM19 30h1v1h-1zM25 34h1v1h-1zM8 35h1v1h-1zM26 45h1v1h-1zM15 48h1v1h-1zM11 54h1v1h-1zM13 56h1v1h-1zM25 58h1v1h-1zM14 61h1v1h-1zM21 61h1v1h-1zM24 62h1v1h-1zM29 62h1v1h-1z"/><path fill="#323050" d="M16 10h1v1h-1zM27 12h1v1h-1zM12 16h1v1h-1zM17 16h1v1h-1zM20 19h1v1h-1zM16 21h1v1h-1zM18 22h1v1h-1zM32 22h1v1h-1zM11 23h1v1h-1zM32 34h1v1h-1zM7 39h1v1h-1zM26 39h1v1h-1zM23 45h1v1h-1zM29 45h1v1h-1zM28 48h1v1h-1zM16 52h1v1h-1zM26 53h1v1h-1zM8 54h1v1h-1zM24 54h1v1h-1zM31 62h1v1h-1zM27 66h1v1h-1z"/><path fill="#2d2c45" d="M28 6h1v1h-1zM23 7h1v1h-1zM27 15h1v1h-1zM31 16h1v1h-1zM26 18h1v1h-1zM22 19h1v1h-1zM26 20h1v1h-1zM25 21h1v1h-1zM32 23h1v1h-1zM25 26h1v1h-1zM22 27h1v1h-1zM22 31h1v1h-1zM13 32h1v1h-1zM12 33h1v1h-1zM19 35h1v1h-1zM16 36h1v1h-1zM7 37h1v1h-1zM29 37h1v1h-1zM8 39h1v1h-1zM22 42h1v1h-1zM31 43h1v1h-1zM14 45h1v1h-1zM14 46h1v1h-1zM16 47h1v1h-1zM17 50h1v1h-1zM15 51h1v1h-1zM29 51h1v1h-1zM9 54h1v1h-1zM23 54h1v1h-1zM10 56h1v1h-1zM19 56h1v1h-1zM32 56h1v1h-1zM17 59h1v1h-1zM31 64h1v1h-1zM31 65h1v1h-1zM25 71h1v1h-1z"/><path fill="#29283b" d="M31 7h1v1h-1zM29 9h1v1h-1zM15 12h1v1h-1zM19 12h1v1h-1zM21 13h1v1h-1zM26 14h1v1h-1zM22 16h1v1h-1zM28 16h1v1h-1zM30 16h1v1h-1zM19 17h1v1h-1zM27 18h1v1h-1zM16 19h1v1h-1zM15 23h1v1h-1zM30 23h1v1h-1zM19 25h1v1h-1zM13 27h1v1h-1zM25 27h1v1h-1zM29 27h1v1h-1zM6 29h1v1h-1zM9 30h1v1h-1zM8 31h1v1h-1zM15 31h1v1h-1zM25 33h1v1h-1zM17 34h1v1h-1zM22 34h1v1h-1zM16 35h1v1h-1zM9 39h1v1h-1zM27 42h1v1h-1zM14 43h1v1h-1zM26 43h1v1h-1zM11 44h1v1h-1zM8 45h1v1h-1zM27 45h1v1h-1zM21 46h1v1h-1zM9 49h1v1h-1zM14 49h1v1h-1zM6 51h1v1h-1zM30 52h2v1h-2zM31 53h1v1h-1zM15 56h1v1h-1zM30 56h1v1h-1zM19 59h2v1h-2zM22 60h2v1h-2zM15 61h1v1h-1zM29 61h1v1h-1z"/><path fill="#242430" d="M26 6h1v1h-1zM19 11h1v1h-1zM25 13h1v1h-1zM32 13h1v1h-1zM25 14h1v1h-1zM32 14h1v1h-1zM29 15h1v1h-1zM27 16h1v1h-1zM32 16h1v1h-1zM11 19h1v1h-1zM15 19h1v1h-1zM25 20h1v1h-1zM22 21h1v1h-1zM9 22h1v1h-1zM12 22h1v1h-1zM16 22h1v1h-1zM18 24h1v1h-1zM22 25h1v1h-1zM24 25h1v1h-1zM14 27h1v1h-1zM15 28h1v1h-1zM22 28h1v1h-1zM29 28h1v1h-1zM14 29h1v1h-1zM24 29h1v1h-1zM27 29h1v1h-1zM17 30h1v1h-1zM9 32h1v1h-1zM12 32h1v1h-1zM24 32h1v1h-1zM8 37h1v1h-1zM14 37h1v1h-1zM15 38h1v1h-1zM24 39h1v1h-1zM9 40h1v1h-1zM14 40h1v1h-1zM19 40h1v1h-1zM16 41h1v1h-1zM19 41h1v1h-1zM9 43h1v1h-1zM24 44h1v1h-1zM31 44h1v1h-1zM28 45h1v1h-1zM5 46h1v1h-1zM28 46h1v1h-1zM11 47h1v1h-1zM20 47h1v1h-1zM26 47h1v1h-1zM29 47h2v1h-2zM16 48h1v1h-1zM21 48h1v1h-1zM8 50h1v1h-1zM24 52h1v1h-1zM6 53h2v1h-2zM13 53h1v1h-1zM17 53h1v1h-1zM23 53h1v1h-1zM16 54h1v1h-1zM32 55h1v1h-1zM10 57h1v1h-1zM19 57h1v1h-1zM32 58h1v1h-1zM29 59h2v1h-2zM18 60h1v1h-1zM26 60h2v1h-2zM17 62h1v1h-1zM27 63h1v1h-1zM21 64h1v1h-1zM15 65h1v1h-1zM32 66h1v1h-1z"/><path fill="#222129" d="M25 6h1v1h-1zM21 7h1v1h-1zM24 8h1v1h-1zM22 9h1v1h-1zM16 15h1v1h-1zM14 16h1v1h-1zM16 16h1v1h-1zM11 17h1v1h-1zM18 19h1v1h-1zM27 20h1v1h-1zM20 21h1v1h-1zM27 23h1v1h-1zM24 24h1v1h-1zM31 25h1v1h-1zM30 26h2v1h-2zM16 27h1v1h-1zM31 27h1v1h-1zM19 29h1v1h-1zM21 30h1v1h-1zM24 30h1v1h-1zM30 30h1v1h-1zM10 33h1v1h-1zM13 33h1v1h-1zM20 33h1v1h-1zM23 33h1v1h-1zM26 33h1v1h-1zM26 34h1v1h-1zM30 34h1v1h-1zM11 35h1v1h-1zM18 35h1v1h-1zM24 35h1v1h-1zM27 36h1v1h-1zM10 37h1v1h-1zM18 37h1v1h-1zM25 39h1v1h-1zM27 39h1v1h-1zM7 40h1v1h-1zM31 40h1v1h-1zM25 41h1v1h-1zM28 41h1v1h-1zM28 42h1v1h-1zM32 42h1v1h-1zM16 44h1v1h-1zM25 46h1v1h-1zM29 46h1v1h-1zM15 47h1v1h-1zM7 49h1v1h-1zM9 50h1v1h-1zM16 50h1v1h-1zM18 52h1v1h-1zM23 52h1v1h-1zM14 55h2v1h-2zM18 57h1v1h-1zM12 59h1v1h-1zM18 59h1v1h-1zM23 59h1v1h-1zM32 59h1v1h-1zM10 60h1v1h-1zM26 65h1v1h-1zM23 69h1v1h-1z"/><path fill="#201f24" d="M25 8h1v1h-1zM23 9h1v1h-1zM26 9h1v1h-1zM21 10h1v1h-1zM24 10h1v1h-1zM23 11h1v1h-1zM16 12h1v1h-1zM13 13h1v1h-1zM27 14h2v1h-2zM20 15h1v1h-1zM22 15h1v1h-1zM25 15h1v1h-1zM29 16h1v1h-1zM20 17h1v1h-1zM25 17h1v1h-1zM28 19h1v1h-1zM20 20h1v1h-1zM30 20h1v1h-1zM29 21h1v1h-1zM9 23h1v1h-1zM12 23h1v1h-1zM8 25h1v1h-1zM14 26h1v1h-1zM26 28h1v1h-1zM17 29h1v1h-1zM22 29h1v1h-1zM12 30h1v1h-1zM6 31h1v1h-1zM20 31h1v1h-1zM31 31h1v1h-1zM14 33h1v1h-1zM19 33h1v1h-1zM8 34h1v1h-1zM12 34h1v1h-1zM27 34h1v1h-1zM10 36h1v1h-1zM28 36h1v1h-1zM21 37h1v1h-1zM10 38h1v1h-1zM13 38h1v1h-1zM27 38h1v1h-1zM29 38h1v1h-1zM8 40h1v1h-1zM17 40h1v1h-1zM25 40h1v1h-1zM10 41h1v1h-1zM26 41h2v1h-2zM24 42h1v1h-1zM13 43h1v1h-1zM16 43h1v1h-1zM24 43h2v1h-2zM12 46h1v1h-1zM16 46h1v1h-1zM20 46h1v1h-1zM31 46h1v1h-1zM31 47h1v1h-1zM8 48h1v1h-1zM14 48h1v1h-1zM30 48h1v1h-1zM10 49h1v1h-1zM16 49h1v1h-1zM22 49h1v1h-1zM29 49h1v1h-1zM15 50h1v1h-1zM25 50h1v1h-1zM29 50h2v1h-2zM7 51h1v1h-1zM24 51h1v1h-1zM27 51h1v1h-1zM31 51h1v1h-1zM21 52h1v1h-1zM19 54h1v1h-1zM31 55h1v1h-1zM18 56h1v1h-1zM17 57h1v1h-1zM15 58h1v1h-1zM20 58h1v1h-1zM16 59h1v1h-1zM27 59h1v1h-1zM20 60h2v1h-2zM30 60h1v1h-1zM15 62h1v1h-1zM32 62h1v1h-1zM31 63h1v1h-1zM24 64h1v1h-1zM24 65h1v1h-1zM27 65h1v1h-1zM24 69h1v1h-1zM26 70h2v1h-2zM31 72h1v1h-1z"/><path fill="#1f1e20" d="M25 7h1v1h-1zM20 9h1v1h-1zM29 10h2v1h-2zM20 11h1v1h-1zM28 11h1v1h-1zM24 12h1v1h-1zM16 13h2v1h-2zM19 13h1v1h-1zM27 13h1v1h-1zM13 14h1v1h-1zM21 14h1v1h-1zM23 14h1v1h-1zM15 15h1v1h-1zM10 17h1v1h-1zM14 17h1v1h-1zM18 18h1v1h-1zM26 19h1v1h-1zM12 20h1v1h-1zM18 20h1v1h-1zM31 20h1v1h-1zM13 21h1v1h-1zM17 21h1v1h-1zM30 21h1v1h-1zM14 23h1v1h-1zM21 23h1v1h-1zM22 24h1v1h-1zM11 25h1v1h-1zM23 25h1v1h-1zM32 25h1v1h-1zM27 26h1v1h-1zM9 27h1v1h-1zM13 28h1v1h-1zM18 28h1v1h-1zM23 28h2v1h-2zM23 29h1v1h-1zM29 29h1v1h-1zM10 31h1v1h-1zM17 31h1v1h-1zM26 31h1v1h-1zM7 32h1v1h-1zM19 32h1v1h-1zM24 33h1v1h-1zM14 34h2v1h-2zM19 34h1v1h-1zM7 35h1v1h-1zM25 35h1v1h-1zM9 36h1v1h-1zM23 38h1v1h-1zM11 39h1v1h-1zM22 39h1v1h-1zM12 40h1v1h-1zM21 40h2v1h-2zM32 40h1v1h-1zM32 41h1v1h-1zM5 42h1v1h-1zM7 43h2v1h-2zM19 43h1v1h-1zM9 45h1v1h-1zM20 45h1v1h-1zM7 46h1v1h-1zM24 47h1v1h-1zM11 48h1v1h-1zM13 48h1v1h-1zM20 48h1v1h-1zM32 48h1v1h-1zM8 52h1v1h-1zM17 52h1v1h-1zM14 54h1v1h-1zM26 54h1v1h-1zM28 54h1v1h-1zM31 54h1v1h-1zM19 55h2v1h-2zM26 56h1v1h-1zM13 57h1v1h-1zM15 57h1v1h-1zM11 58h1v1h-1zM28 60h1v1h-1zM24 61h1v1h-1zM28 61h1v1h-1zM20 63h1v1h-1zM24 63h1v1h-1zM20 64h1v1h-1zM23 64h1v1h-1zM28 64h1v1h-1zM32 64h1v1h-1zM20 66h1v1h-1zM19 67h1v1h-1zM25 67h1v1h-1zM27 67h1v1h-1zM20 68h1v1h-1zM31 69h1v1h-1zM30 71h1v1h-1zM22 72h1v1h-1zM28 73h1v1h-1z"/><path fill="#201e1e" d="M19 8h1v1h-1zM21 9h1v1h-1zM28 9h1v1h-1zM30 9h1v1h-1zM19 10h1v1h-1zM23 13h1v1h-1zM26 13h1v1h-1zM20 14h1v1h-1zM24 14h1v1h-1zM14 15h1v1h-1zM17 15h1v1h-1zM12 17h1v1h-1zM21 17h1v1h-1zM21 18h1v1h-1zM25 18h1v1h-1zM17 19h1v1h-1zM17 20h1v1h-1zM10 21h1v1h-1zM15 21h1v1h-1zM19 21h1v1h-1zM27 21h1v1h-1zM24 22h1v1h-1zM31 22h1v1h-1zM18 23h1v1h-1zM23 23h1v1h-1zM15 24h1v1h-1zM23 24h1v1h-1zM7 25h1v1h-1zM17 25h1v1h-1zM25 25h2v1h-2zM17 26h1v1h-1zM25 29h1v1h-1zM28 30h1v1h-1zM8 32h1v1h-1zM18 32h1v1h-1zM25 32h1v1h-1zM28 32h1v1h-1zM11 33h1v1h-1zM23 35h1v1h-1zM17 36h1v1h-1zM19 36h1v1h-1zM6 37h1v1h-1zM12 37h1v1h-1zM20 37h1v1h-1zM24 37h1v1h-1zM11 38h1v1h-1zM32 39h1v1h-1zM7 41h1v1h-1zM13 41h1v1h-1zM18 41h1v1h-1zM23 42h1v1h-1zM30 42h1v1h-1zM5 44h1v1h-1zM22 44h1v1h-1zM25 44h1v1h-1zM27 44h1v1h-1zM29 44h1v1h-1zM30 45h1v1h-1zM32 45h1v1h-1zM6 47h1v1h-1zM19 47h1v1h-1zM9 48h1v1h-1zM17 48h1v1h-1zM26 49h2v1h-2zM13 50h2v1h-2zM24 50h1v1h-1zM21 51h1v1h-1zM30 51h1v1h-1zM12 52h1v1h-1zM15 52h1v1h-1zM28 52h2v1h-2zM19 53h1v1h-1zM22 53h1v1h-1zM25 54h1v1h-1zM32 54h1v1h-1zM27 55h1v1h-1zM17 56h1v1h-1zM24 56h2v1h-2zM24 57h1v1h-1zM29 57h1v1h-1zM14 58h1v1h-1zM11 59h1v1h-1zM26 59h1v1h-1zM28 59h1v1h-1zM14 60h1v1h-1zM25 60h1v1h-1zM14 62h1v1h-1zM26 62h1v1h-1zM15 63h1v1h-1zM18 63h1v1h-1zM22 63h1v1h-1zM28 63h1v1h-1zM30 63h1v1h-1zM13 64h1v1h-1zM25 64h1v1h-1zM30 64h1v1h-1zM14 65h1v1h-1zM32 65h1v1h-1zM26 66h1v1h-1zM17 67h1v1h-1zM31 68h1v1h-1zM19 69h2v1h-2zM28 69h1v1h-1zM32 69h1v1h-1zM21 70h1v1h-1zM23 70h1v1h-1zM21 71h1v1h-1zM23 72h1v1h-1z"/><path fill="#251e1f" d="M32 7h1v1h-1zM21 8h1v1h-1zM29 8h1v1h-1zM22 10h1v1h-1zM27 10h1v1h-1zM21 11h1v1h-1zM30 11h1v1h-1zM14 12h1v1h-1zM23 12h1v1h-1zM29 12h1v1h-1zM28 13h1v1h-1zM22 14h1v1h-1zM26 15h1v1h-1zM28 15h1v1h-1zM30 15h1v1h-1zM19 16h1v1h-1zM21 16h1v1h-1zM28 17h1v1h-1zM10 18h1v1h-1zM16 18h1v1h-1zM29 18h1v1h-1zM13 19h1v1h-1zM27 19h1v1h-1zM30 19h1v1h-1zM21 20h1v1h-1zM14 21h1v1h-1zM10 22h2v1h-2zM22 23h1v1h-1zM26 23h1v1h-1zM9 24h2v1h-2zM20 24h1v1h-1zM10 25h1v1h-1zM13 25h1v1h-1zM21 25h1v1h-1zM30 25h1v1h-1zM13 26h1v1h-1zM19 26h1v1h-1zM21 26h2v1h-2zM28 26h1v1h-1zM32 27h1v1h-1zM24 31h1v1h-1zM27 31h1v1h-1zM16 32h1v1h-1zM27 32h1v1h-1zM6 33h1v1h-1zM22 33h1v1h-1zM6 34h1v1h-1zM9 34h1v1h-1zM23 34h1v1h-1zM27 35h2v1h-2zM22 36h1v1h-1zM8 38h2v1h-2zM26 38h1v1h-1zM16 39h1v1h-1zM15 40h1v1h-1zM29 41h1v1h-1zM19 42h1v1h-1zM10 43h2v1h-2zM15 43h1v1h-1zM18 43h1v1h-1zM32 43h1v1h-1zM12 44h2v1h-2zM10 45h1v1h-1zM21 45h1v1h-1zM11 46h1v1h-1zM24 48h1v1h-1zM29 48h1v1h-1zM31 48h1v1h-1zM6 50h1v1h-1zM22 50h2v1h-2zM27 50h1v1h-1zM31 50h1v1h-1zM12 51h1v1h-1zM17 51h1v1h-1zM23 51h1v1h-1zM20 52h1v1h-1zM22 52h1v1h-1zM9 53h1v1h-1zM12 53h1v1h-1zM20 53h1v1h-1zM25 53h1v1h-1zM32 53h1v1h-1zM29 54h1v1h-1zM10 55h1v1h-1zM28 56h1v1h-1zM13 58h1v1h-1zM30 58h1v1h-1zM15 59h1v1h-1zM24 59h1v1h-1zM24 60h1v1h-1zM27 62h1v1h-1zM17 63h1v1h-1zM22 65h1v1h-1zM29 65h1v1h-1zM23 67h2v1h-2zM30 67h1v1h-1zM22 68h1v1h-1zM31 70h1v1h-1zM31 71h1v1h-1zM26 72h1v1h-1zM29 73h1v1h-1z"/><path fill="#2a1e20" d="M20 8h1v1h-1zM25 9h1v1h-1zM32 9h1v1h-1zM15 10h1v1h-1zM17 12h1v1h-1zM30 12h1v1h-1zM32 12h1v1h-1zM19 14h1v1h-1zM13 15h1v1h-1zM22 17h1v1h-1zM22 18h1v1h-1zM19 19h1v1h-1zM31 19h1v1h-1zM22 20h1v1h-1zM9 21h1v1h-1zM18 21h1v1h-1zM17 22h1v1h-1zM27 22h1v1h-1zM8 24h1v1h-1zM14 24h1v1h-1zM25 24h1v1h-1zM27 24h1v1h-1zM32 24h1v1h-1zM16 25h1v1h-1zM21 27h1v1h-1zM19 28h1v1h-1zM28 28h1v1h-1zM8 29h1v1h-1zM15 29h1v1h-1zM26 29h1v1h-1zM15 30h1v1h-1zM32 32h1v1h-1zM18 33h1v1h-1zM27 33h1v1h-1zM7 34h1v1h-1zM13 34h1v1h-1zM29 34h1v1h-1zM9 37h1v1h-1zM13 37h1v1h-1zM16 37h2v1h-2zM19 37h1v1h-1zM14 38h1v1h-1zM16 38h2v1h-2zM17 39h1v1h-1zM20 39h1v1h-1zM11 40h1v1h-1zM13 40h1v1h-1zM15 41h1v1h-1zM10 42h1v1h-1zM12 42h1v1h-1zM14 42h1v1h-1zM25 42h2v1h-2zM31 42h1v1h-1zM23 43h1v1h-1zM20 44h1v1h-1zM23 44h1v1h-1zM8 46h1v1h-1zM30 46h1v1h-1zM5 47h1v1h-1zM7 47h1v1h-1zM17 47h1v1h-1zM23 47h1v1h-1zM6 48h1v1h-1zM19 48h1v1h-1zM27 48h1v1h-1zM13 49h1v1h-1zM17 49h1v1h-1zM21 49h1v1h-1zM25 49h1v1h-1zM30 49h3v1h-3zM18 50h2v1h-2zM28 51h1v1h-1zM6 52h1v1h-1zM27 52h1v1h-1zM14 53h1v1h-1zM21 53h1v1h-1zM18 54h1v1h-1zM27 54h1v1h-1zM16 56h1v1h-1zM22 56h1v1h-1zM12 57h1v1h-1zM16 57h1v1h-1zM16 58h3v1h-3zM25 59h1v1h-1zM15 60h1v1h-1zM30 61h1v1h-1zM16 62h1v1h-1zM19 62h1v1h-1zM25 62h1v1h-1zM17 64h1v1h-1zM18 65h2v1h-2zM28 66h2v1h-2zM23 68h1v1h-1zM27 68h1v1h-1zM22 69h1v1h-1zM27 69h1v1h-1zM23 71h2v1h-2zM29 71h1v1h-1zM27 72h1v1h-1zM31 74h1v1h-1z"/><path fill="#311f23" d="M32 6h1v1h-1zM24 7h1v1h-1zM26 7h1v1h-1zM28 7h1v1h-1zM30 7h1v1h-1zM17 9h1v1h-1zM25 10h1v1h-1zM17 11h1v1h-1zM18 12h1v1h-1zM20 13h1v1h-1zM29 14h1v1h-1zM31 14h1v1h-1zM24 15h1v1h-1zM11 16h1v1h-1zM18 16h1v1h-1zM18 17h1v1h-1zM19 18h2v1h-2zM24 18h1v1h-1zM31 18h1v1h-1zM25 19h1v1h-1zM16 20h1v1h-1zM28 20h1v1h-1zM32 21h1v1h-1zM14 22h1v1h-1zM30 22h1v1h-1zM8 23h1v1h-1zM28 23h2v1h-2zM29 24h1v1h-1zM18 25h1v1h-1zM23 26h1v1h-1zM23 27h1v1h-1zM12 28h1v1h-1zM11 29h1v1h-1zM18 29h1v1h-1zM28 29h1v1h-1zM13 30h1v1h-1zM22 30h2v1h-2zM14 31h1v1h-1zM18 31h1v1h-1zM10 32h1v1h-1zM15 32h1v1h-1zM22 32h1v1h-1zM15 33h1v1h-1zM10 34h1v1h-1zM6 35h1v1h-1zM13 35h1v1h-1zM20 35h1v1h-1zM32 35h1v1h-1zM11 36h3v1h-3zM20 36h1v1h-1zM26 36h1v1h-1zM18 38h1v1h-1zM25 38h1v1h-1zM12 39h1v1h-1zM31 39h1v1h-1zM16 40h1v1h-1zM14 41h1v1h-1zM31 41h1v1h-1zM7 42h1v1h-1zM13 42h1v1h-1zM20 43h1v1h-1zM22 43h1v1h-1zM27 43h1v1h-1zM6 44h1v1h-1zM21 44h1v1h-1zM30 44h1v1h-1zM22 45h1v1h-1zM31 45h1v1h-1zM10 46h1v1h-1zM19 46h1v1h-1zM32 46h1v1h-1zM12 48h1v1h-1zM20 49h1v1h-1zM11 50h1v1h-1zM8 51h1v1h-1zM11 51h1v1h-1zM13 51h1v1h-1zM16 51h1v1h-1zM25 51h1v1h-1zM7 52h1v1h-1zM25 52h2v1h-2zM12 54h1v1h-1zM21 55h1v1h-1zM26 55h1v1h-1zM21 57h1v1h-1zM30 57h1v1h-1zM32 57h1v1h-1zM10 59h1v1h-1zM23 61h1v1h-1zM13 62h1v1h-1zM18 62h1v1h-1zM28 62h1v1h-1zM25 63h1v1h-1zM27 64h1v1h-1zM30 65h1v1h-1zM19 66h1v1h-1zM25 66h1v1h-1zM16 67h1v1h-1zM26 68h1v1h-1zM29 68h2v1h-2zM30 69h1v1h-1zM28 72h1v1h-1z"/><path fill="#392126" d="M30 8h1v1h-1zM18 9h1v1h-1zM20 10h1v1h-1zM25 11h1v1h-1zM21 12h1v1h-1zM26 12h1v1h-1zM12 14h1v1h-1zM16 14h1v1h-1zM32 15h1v1h-1zM25 16h1v1h-1zM17 17h1v1h-1zM17 18h1v1h-1zM12 19h1v1h-1zM21 19h1v1h-1zM15 20h1v1h-1zM29 20h1v1h-1zM26 21h1v1h-1zM15 22h1v1h-1zM13 23h1v1h-1zM26 24h1v1h-1zM31 24h1v1h-1zM12 26h1v1h-1zM26 26h1v1h-1zM15 27h1v1h-1zM17 27h1v1h-1zM27 27h2v1h-2zM20 28h1v1h-1zM25 28h1v1h-1zM12 29h1v1h-1zM10 30h1v1h-1zM12 31h2v1h-2zM21 31h1v1h-1zM29 31h1v1h-1zM21 32h1v1h-1zM7 33h1v1h-1zM16 33h2v1h-2zM28 33h1v1h-1zM14 35h1v1h-1zM26 35h1v1h-1zM29 35h1v1h-1zM18 36h1v1h-1zM21 36h1v1h-1zM22 37h2v1h-2zM30 37h1v1h-1zM19 38h1v1h-1zM31 38h1v1h-1zM14 39h1v1h-1zM20 40h1v1h-1zM21 41h1v1h-1zM30 41h1v1h-1zM6 42h1v1h-1zM20 42h1v1h-1zM30 43h1v1h-1zM19 44h1v1h-1zM7 45h1v1h-1zM16 45h1v1h-1zM24 45h1v1h-1zM26 46h1v1h-1zM8 47h1v1h-1zM14 47h1v1h-1zM25 47h1v1h-1zM7 48h1v1h-1zM22 48h1v1h-1zM25 48h2v1h-2zM12 49h1v1h-1zM28 49h1v1h-1zM20 50h1v1h-1zM26 50h1v1h-1zM28 50h1v1h-1zM20 51h1v1h-1zM22 51h1v1h-1zM11 52h1v1h-1zM13 52h1v1h-1zM19 52h1v1h-1zM10 53h1v1h-1zM16 53h1v1h-1zM29 53h1v1h-1zM8 55h1v1h-1zM17 55h1v1h-1zM25 55h1v1h-1zM8 56h1v1h-1zM21 56h1v1h-1zM29 56h1v1h-1zM22 57h1v1h-1zM28 58h1v1h-1zM31 59h1v1h-1zM17 60h1v1h-1zM19 60h1v1h-1zM19 61h2v1h-2zM22 62h1v1h-1zM30 62h1v1h-1zM21 63h1v1h-1zM23 63h1v1h-1zM32 63h1v1h-1zM16 66h1v1h-1zM24 66h1v1h-1zM20 67h1v1h-1zM21 68h1v1h-1zM28 68h1v1h-1zM32 68h1v1h-1zM25 70h1v1h-1zM28 70h1v1h-1zM25 72h1v1h-1z"/><path fill="#412329" d="M20 7h1v1h-1zM27 7h1v1h-1zM27 9h1v1h-1zM23 10h1v1h-1zM18 11h1v1h-1zM22 12h1v1h-1zM14 13h1v1h-1zM18 13h1v1h-1zM22 13h1v1h-1zM29 13h1v1h-1zM15 14h1v1h-1zM30 14h1v1h-1zM21 15h1v1h-1zM26 16h1v1h-1zM26 17h1v1h-1zM29 17h1v1h-1zM23 18h1v1h-1zM10 19h1v1h-1zM9 20h1v1h-1zM20 22h1v1h-1zM25 22h1v1h-1zM31 23h1v1h-1zM11 24h1v1h-1zM18 26h1v1h-1zM20 27h1v1h-1zM7 28h1v1h-1zM14 28h1v1h-1zM17 28h1v1h-1zM21 28h1v1h-1zM7 30h1v1h-1zM20 30h1v1h-1zM25 30h1v1h-1zM5 33h1v1h-1zM8 33h1v1h-1zM7 36h2v1h-2zM15 36h1v1h-1zM24 36h1v1h-1zM7 38h1v1h-1zM20 38h1v1h-1zM28 38h1v1h-1zM10 39h1v1h-1zM19 39h1v1h-1zM21 39h1v1h-1zM23 39h1v1h-1zM26 40h1v1h-1zM28 40h1v1h-1zM30 40h1v1h-1zM6 43h1v1h-1zM21 43h1v1h-1zM15 44h1v1h-1zM6 45h1v1h-1zM11 45h1v1h-1zM13 45h1v1h-1zM15 45h1v1h-1zM18 45h1v1h-1zM17 46h2v1h-2zM10 47h1v1h-1zM21 47h1v1h-1zM27 47h2v1h-2zM32 47h1v1h-1zM11 49h1v1h-1zM15 49h1v1h-1zM18 49h1v1h-1zM23 49h1v1h-1zM21 50h1v1h-1zM8 53h1v1h-1zM30 55h1v1h-1zM9 56h1v1h-1zM31 57h1v1h-1zM29 60h1v1h-1zM16 61h1v1h-1zM27 61h1v1h-1zM20 62h2v1h-2zM13 63h1v1h-1zM29 63h1v1h-1zM16 64h1v1h-1zM19 64h1v1h-1zM17 66h1v1h-1zM21 66h1v1h-1zM31 66h1v1h-1zM32 71h1v1h-1zM30 73h1v1h-1z"/><path fill="#4a252e" d="M23 8h1v1h-1zM28 8h1v1h-1zM19 9h1v1h-1zM18 10h1v1h-1zM27 11h1v1h-1zM32 11h1v1h-1zM25 12h1v1h-1zM24 13h1v1h-1zM31 13h1v1h-1zM31 17h1v1h-1zM15 18h1v1h-1zM17 23h1v1h-1zM19 23h1v1h-1zM24 23h2v1h-2zM17 24h1v1h-1zM19 27h1v1h-1zM9 29h1v1h-1zM21 29h1v1h-1zM14 30h1v1h-1zM26 30h1v1h-1zM32 31h1v1h-1zM17 32h1v1h-1zM11 34h1v1h-1zM12 35h1v1h-1zM30 36h1v1h-1zM18 39h1v1h-1zM27 40h1v1h-1zM12 41h1v1h-1zM20 41h1v1h-1zM17 42h1v1h-1zM29 42h1v1h-1zM12 43h1v1h-1zM17 43h1v1h-1zM28 43h1v1h-1zM14 44h1v1h-1zM19 45h1v1h-1zM13 46h1v1h-1zM22 46h2v1h-2zM18 47h1v1h-1zM32 50h1v1h-1zM9 51h1v1h-1zM10 52h1v1h-1zM15 53h1v1h-1zM7 54h1v1h-1zM20 54h1v1h-1zM22 54h1v1h-1zM30 54h1v1h-1zM11 55h1v1h-1zM22 55h1v1h-1zM29 55h1v1h-1zM12 56h1v1h-1zM14 56h1v1h-1zM14 57h1v1h-1zM20 57h1v1h-1zM31 58h1v1h-1zM32 60h1v1h-1zM14 63h1v1h-1zM16 65h1v1h-1zM22 66h1v1h-1zM31 67h2v1h-2zM19 68h1v1h-1zM21 69h1v1h-1z"/><path fill="#542732" d="M22 8h1v1h-1zM26 10h1v1h-1zM24 11h1v1h-1zM20 12h1v1h-1zM15 13h1v1h-1zM18 15h1v1h-1zM32 19h1v1h-1zM10 20h1v1h-1zM14 20h1v1h-1zM19 20h1v1h-1zM21 21h1v1h-1zM28 21h1v1h-1zM13 22h1v1h-1zM23 22h1v1h-1zM26 22h1v1h-1zM10 23h1v1h-1zM28 24h1v1h-1zM12 25h1v1h-1zM11 26h1v1h-1zM24 26h1v1h-1zM11 27h2v1h-2zM24 27h1v1h-1zM26 27h1v1h-1zM30 27h1v1h-1zM29 30h1v1h-1zM19 31h1v1h-1zM23 31h1v1h-1zM20 32h1v1h-1zM23 32h1v1h-1zM20 34h1v1h-1zM28 34h1v1h-1zM22 38h1v1h-1zM17 41h1v1h-1zM29 43h1v1h-1zM10 44h1v1h-1zM25 45h1v1h-1zM9 47h1v1h-1zM10 48h1v1h-1zM18 48h1v1h-1zM12 50h1v1h-1zM10 51h1v1h-1zM26 51h1v1h-1zM18 53h1v1h-1zM27 53h1v1h-1zM17 54h1v1h-1zM13 55h1v1h-1zM23 56h1v1h-1zM25 57h1v1h-1zM27 57h1v1h-1zM9 58h1v1h-1zM13 59h1v1h-1zM22 59h1v1h-1zM11 60h1v1h-1zM16 60h1v1h-1zM31 60h1v1h-1zM17 61h1v1h-1zM22 61h1v1h-1zM26 64h1v1h-1zM23 65h1v1h-1zM25 65h1v1h-1zM23 66h1v1h-1z"/><path fill="#622937" d="M17 10h1v1h-1zM30 13h1v1h-1zM14 14h1v1h-1zM17 14h1v1h-1zM19 15h1v1h-1zM23 15h1v1h-1zM20 16h1v1h-1zM23 17h1v1h-1zM28 18h1v1h-1zM30 18h1v1h-1zM14 19h1v1h-1zM29 19h1v1h-1zM31 21h1v1h-1zM21 22h1v1h-1zM30 24h1v1h-1zM29 25h1v1h-1zM29 26h1v1h-1zM11 28h1v1h-1zM16 34h1v1h-1zM18 34h1v1h-1zM15 35h1v1h-1zM14 36h1v1h-1zM11 37h1v1h-1zM27 37h2v1h-2zM10 40h1v1h-1zM16 42h1v1h-1zM17 44h1v1h-1zM26 44h1v1h-1zM12 45h1v1h-1zM24 46h1v1h-1zM23 48h1v1h-1zM19 49h1v1h-1zM24 49h1v1h-1zM24 53h1v1h-1zM13 54h1v1h-1zM18 55h1v1h-1zM24 55h1v1h-1zM27 56h1v1h-1zM27 58h1v1h-1zM21 59h1v1h-1zM17 65h1v1h-1zM30 66h1v1h-1zM29 67h1v1h-1zM26 69h1v1h-1z"/><path fill="#6d2b3b" d="M31 10h1v1h-1zM12 21h1v1h-1zM20 23h1v1h-1zM13 24h1v1h-1zM16 24h1v1h-1zM21 24h1v1h-1zM15 25h1v1h-1zM15 26h1v1h-1zM20 26h1v1h-1zM7 31h1v1h-1zM28 31h1v1h-1zM22 35h1v1h-1zM31 35h1v1h-1zM11 41h1v1h-1zM22 41h1v1h-1zM11 42h1v1h-1zM28 44h1v1h-1zM13 47h1v1h-1zM8 49h1v1h-1zM14 51h1v1h-1zM19 51h1v1h-1zM28 53h1v1h-1zM20 56h1v1h-1zM19 58h1v1h-1zM31 61h1v1h-1zM28 65h1v1h-1zM24 70h1v1h-1zM32 70h1v1h-1zM27 71h1v1h-1z"/><path fill="#782c3f" d="M24 9h1v1h-1zM24 17h1v1h-1zM23 20h1v1h-1zM20 25h1v1h-1zM27 25h1v1h-1zM16 30h1v1h-1zM18 30h1v1h-1zM25 31h1v1h-1zM10 35h1v1h-1zM15 37h1v1h-1zM29 39h1v1h-1zM15 42h1v1h-1zM18 44h1v1h-1zM15 46h1v1h-1zM32 52h1v1h-1zM28 57h1v1h-1zM23 58h1v1h-1zM29 58h1v1h-1zM12 60h1v1h-1zM18 61h1v1h-1zM28 71h1v1h-1z"/><path fill="#842d42" d="M18 14h1v1h-1zM23 16h1v1h-1zM32 17h1v1h-1zM32 18h1v1h-1zM24 20h1v1h-1zM28 22h1v1h-1zM28 25h1v1h-1zM27 28h1v1h-1zM16 29h1v1h-1zM25 36h1v1h-1zM30 38h1v1h-1zM23 40h1v1h-1zM8 41h1v1h-1zM9 42h1v1h-1zM10 50h1v1h-1zM9 52h1v1h-1zM15 54h1v1h-1zM23 55h1v1h-1zM12 61h1v1h-1zM32 61h1v1h-1zM18 68h1v1h-1z"/><path fill="#902e44" d="M28 12h1v1h-1zM24 19h1v1h-1zM19 24h1v1h-1zM14 25h1v1h-1zM24 34h1v1h-1zM25 37h1v1h-1zM24 40h1v1h-1zM8 42h1v1h-1zM21 54h1v1h-1zM16 55h1v1h-1zM8 57h1v1h-1zM18 64h1v1h-1z"/><path fill="#9c2f45" d="M31 8h1v1h-1zM29 11h1v1h-1zM24 21h1v1h-1zM20 29h1v1h-1zM26 37h1v1h-1zM24 41h1v1h-1zM22 70h1v1h-1z"/><path fill="#a83044" d="M15 11h1v1h-1zM9 41h1v1h-1zM23 57h1v1h-1zM14 59h1v1h-1zM19 63h1v1h-1zM14 64h1v1h-1zM21 65h1v1h-1z"/><path fill="#b33341" d="M6 28h1v1h-1zM29 32h1v1h-1zM32 44h1v1h-1zM23 62h1v1h-1zM16 63h1v1h-1z"/><path fill="#be373e" d="M16 17h1v1h-1zM32 20h1v1h-1zM8 27h1v1h-1zM12 38h1v1h-1zM18 42h1v1h-1zM9 55h1v1h-1z"/><path fill="#c73d3b" d="M12 15h1v1h-1zM9 35h1v1h-1zM18 51h1v1h-1zM12 58h1v1h-1zM29 70h1v1h-1z"/><path fill="#d04537" d="M8 26h1v1h-1zM13 39h1v1h-1zM12 55h1v1h-1zM19 70h1v1h-1z"/><path fill="#d74e35" d="M28 10h1v1h-1zM7 29h1v1h-1zM21 33h1v1h-1zM24 38h1v1h-1zM20 65h1v1h-1zM18 67h1v1h-1zM26 67h1v1h-1z"/><path fill="#df5a33" d="M15 17h1v1h-1zM21 35h1v1h-1z"/><path fill="#e56433" d="M15 16h1v1h-1z"/><path fill="#e96f36" d="M6 41h1v1h-1zM26 71h1v1h-1z"/><path fill="#ed7b3e" d="M29 7h1v1h-1zM10 15h1v1h-1zM9 25h1v1h-1zM9 28h1v1h-1zM8 30h1v1h-1z"/><path fill="#ef8748" d="M23 19h1v1h-1zM9 44h1v1h-1zM22 47h1v1h-1z"/><path fill="#f29255" d="M8 28h1v1h-1zM6 40h1v1h-1z"/><path fill="#f49d63" d="M12 24h1v1h-1zM8 58h1v1h-1zM21 67h1v1h-1zM28 67h1v1h-1z"/><path fill="#f6a871" d="M9 26h1v1h-1zM21 42h1v1h-1zM29 64h1v1h-1z"/><path fill="#f8b380" d="M10 26h1v1h-1z"/><path fill="#fbbe8f" d="M27 30h1v1h-1zM11 53h1v1h-1zM10 61h1v1h-1z"/><path fill="#fdc99e" d="M26 11h1v1h-1zM10 27h1v1h-1zM14 32h1v1h-1zM32 51h1v1h-1zM24 58h1v1h-1z"/><path fill="#ffd4ac" d="M32 3h1v1h-1zM27 4h1v1h-1zM29 4h1v1h-1zM32 4h1v1h-1zM21 5h1v1h-1zM23 5h7v1h-7zM31 5h1v1h-1zM17 6h2v1h-2zM20 6h3v1h-3zM17 7h3v1h-3zM15 9h2v1h-2zM13 10h2v1h-2zM12 11h2v1h-2zM12 12h1v1h-1zM11 13h2v1h-2zM11 14h1v1h-1zM9 16h2v1h-2zM9 17h1v1h-1zM9 18h1v1h-1zM7 19h2v1h-2zM8 20h1v1h-1zM7 21h1v1h-1zM5 22h1v1h-1zM7 22h1v1h-1zM6 23h1v1h-1zM6 24h1v1h-1zM6 25h1v1h-1zM6 26h1v1h-1zM5 27h2v1h-2zM4 28h2v1h-2zM30 28h2v1h-2zM5 29h1v1h-1zM5 30h1v1h-1zM5 31h1v1h-1zM4 32h2v1h-2zM5 34h1v1h-1zM5 35h1v1h-1zM5 36h1v1h-1zM29 36h1v1h-1zM5 37h1v1h-1zM5 38h1v1h-1zM4 39h2v1h-2zM4 40h2v1h-2zM4 41h1v1h-1zM3 42h2v1h-2zM4 43h1v1h-1zM4 44h1v1h-1zM4 45h2v1h-2zM4 46h1v1h-1zM4 48h1v1h-1zM4 49h2v1h-2zM5 50h1v1h-1zM5 51h1v1h-1zM5 52h1v1h-1zM5 53h1v1h-1zM6 54h1v1h-1zM6 55h1v1h-1zM6 56h1v1h-1zM6 57h2v1h-2zM7 58h1v1h-1zM8 59h1v1h-1zM8 60h1v1h-1zM8 61h1v1h-1zM10 62h1v1h-1zM11 63h1v1h-1zM12 64h1v1h-1zM12 65h2v1h-2zM14 66h1v1h-1zM13 67h1v1h-1zM16 68h1v1h-1zM17 69h1v1h-1zM18 70h1v1h-1zM20 71h1v1h-1zM24 73h3v1h-3zM31 73h1v1h-1zM23 74h1v1h-1zM26 74h3v1h-3zM30 74h1v1h-1zM32 74h1v1h-1zM28 75h1v1h-1z"/></g><use href="#h40" x="35"/></g><rect x="1812" y="221" width="57" height="75.8" fill="none" stroke="#ffff00" stroke-width="4.3"/><rect x="1923" y="103.9" width="15.8" height="309.4" fill="url(#g4)"/><rect x="1938.8" y="103.10" width="13.2" height="2.8" fill="#262626"/><text x="1958.6" y="0" font-size="22" transform="translate(0,112.25) scale(1,1.045)">10%</text><rect x="1938.8" y="206.23" width="13.2" height="2.8" fill="#262626"/><text x="1958.6" y="0" font-size="22" transform="translate(0,215.38) scale(1,1.045)">5%</text><rect x="1938.8" y="309.37" width="13.2" height="2.8" fill="#262626"/><text x="1958.6" y="0" font-size="22" transform="translate(0,318.52) scale(1,1.045)">0%</text><rect x="1938.8" y="412.50" width="13.2" height="2.8" fill="#262626"/><text x="1958.6" y="0" font-size="22" transform="translate(0,421.65) scale(1,1.045)">-5%</text><rect x="1641.5" y="454.5" width="264" height="303.7" fill="#1f1e1e" stroke="#0e0e0e" stroke-width="1"/><g transform="translate(1641,454) scale(3.78571,3.80875)" shape-rendering="crispEdges"><g id="h41"><path fill="#4167c7" d="M31 3h2v1h-2zM23 4h9v1h-9zM20 5h4v1h-4zM32 5h1v1h-1zM17 6h3v1h-3zM21 6h1v1h-1zM23 6h1v1h-1zM28 6h4v1h-4zM16 7h3v1h-3zM21 7h1v1h-1zM25 7h1v1h-1zM14 8h3v1h-3zM14 9h1v1h-1zM17 9h1v1h-1zM24 9h1v1h-1zM13 10h2v1h-2zM11 11h2v1h-2zM13 12h1v1h-1zM13 13h1v1h-1zM10 14h1v1h-1zM12 14h1v1h-1zM32 14h1v1h-1zM9 15h1v1h-1zM11 15h1v1h-1zM8 16h2v1h-2zM11 16h2v1h-2zM8 17h1v1h-1zM7 18h2v1h-2zM11 18h1v1h-1zM14 18h1v1h-1zM7 19h1v1h-1zM9 19h1v1h-1zM7 20h1v1h-1zM29 20h1v1h-1zM6 21h1v1h-1zM31 21h1v1h-1zM5 22h2v1h-2zM21 22h1v1h-1zM5 23h1v1h-1zM5 24h1v1h-1zM5 25h1v1h-1zM7 25h1v1h-1zM5 26h1v1h-1zM20 26h1v1h-1zM4 27h4v1h-4zM4 28h1v1h-1zM6 28h1v1h-1zM32 28h1v1h-1zM4 29h3v1h-3zM31 29h2v1h-2zM4 30h1v1h-1zM6 30h1v1h-1zM31 30h1v1h-1zM4 31h1v1h-1zM30 31h1v1h-1zM4 32h1v1h-1zM6 32h1v1h-1zM15 32h1v1h-1zM5 33h2v1h-2zM26 33h1v1h-1zM31 33h2v1h-2zM4 34h1v1h-1zM18 34h1v1h-1zM29 34h1v1h-1zM31 34h1v1h-1zM4 35h1v1h-1zM4 36h1v1h-1zM6 36h2v1h-2zM25 36h1v1h-1zM29 36h3v1h-3zM4 37h1v1h-1zM6 37h1v1h-1zM32 37h1v1h-1zM4 38h1v1h-1zM29 38h1v1h-1zM32 38h1v1h-1zM31 39h1v1h-1zM3 40h2v1h-2zM32 40h1v1h-1zM3 41h1v1h-1zM5 41h1v1h-1zM5 42h1v1h-1zM3 43h1v1h-1zM4 44h1v1h-1zM6 44h1v1h-1zM3 45h1v1h-1zM3 46h1v1h-1zM8 46h1v1h-1zM10 46h1v1h-1zM3 47h1v1h-1zM5 47h1v1h-1zM3 48h1v1h-1zM3 49h3v1h-3zM3 50h2v1h-2zM9 50h1v1h-1zM4 51h1v1h-1zM6 51h1v1h-1zM16 51h1v1h-1zM4 52h1v1h-1zM30 52h1v1h-1zM4 54h2v1h-2zM30 54h1v1h-1zM5 55h1v1h-1zM5 56h1v1h-1zM5 57h1v1h-1zM7 57h1v1h-1zM5 58h1v1h-1zM7 58h2v1h-2zM21 58h1v1h-1zM7 59h1v1h-1zM20 59h2v1h-2zM7 60h1v1h-1zM18 60h1v1h-1zM7 61h1v1h-1zM10 61h1v1h-1zM8 62h2v1h-2zM11 62h1v1h-1zM9 63h2v1h-2zM10 64h2v1h-2zM13 64h1v1h-1zM11 65h2v1h-2zM14 65h1v1h-1zM15 66h1v1h-1zM13 67h1v1h-1zM16 67h1v1h-1zM14 68h2v1h-2zM29 68h1v1h-1zM15 69h1v1h-1zM18 69h1v1h-1zM32 69h1v1h-1zM16 70h2v1h-2zM20 70h1v1h-1zM17 71h2v1h-2zM21 71h2v1h-2zM18 72h2v1h-2zM21 72h2v1h-2zM24 72h1v1h-1zM28 72h2v1h-2zM20 73h1v1h-1zM22 73h1v1h-1zM25 73h1v1h-1zM27 73h1v1h-1zM31 73h1v1h-1zM22 74h3v1h-3zM26 75h7v1h-7z"/><path fill="#465ebe" d="M24 8h1v1h-1zM30 8h1v1h-1zM26 9h1v1h-1zM26 10h1v1h-1zM17 11h1v1h-1zM30 11h1v1h-1zM14 12h1v1h-1zM13 15h1v1h-1zM14 17h2v1h-2zM22 17h1v1h-1zM28 17h1v1h-1zM16 18h1v1h-1zM31 18h1v1h-1zM13 19h1v1h-1zM24 19h1v1h-1zM17 20h1v1h-1zM32 20h1v1h-1zM12 21h1v1h-1zM12 22h1v1h-1zM32 22h1v1h-1zM6 25h1v1h-1zM15 26h1v1h-1zM11 29h1v1h-1zM30 29h1v1h-1zM12 30h1v1h-1zM7 32h1v1h-1zM10 32h1v1h-1zM12 32h1v1h-1zM7 33h1v1h-1zM24 34h1v1h-1zM8 35h1v1h-1zM27 35h1v1h-1zM30 35h2v1h-2zM23 36h1v1h-1zM7 37h1v1h-1zM21 38h2v1h-2zM5 39h1v1h-1zM30 39h1v1h-1zM12 41h1v1h-1zM12 42h1v1h-1zM9 43h1v1h-1zM8 44h1v1h-1zM9 45h2v1h-2zM8 47h1v1h-1zM10 47h1v1h-1zM24 47h1v1h-1zM7 49h1v1h-1zM19 49h1v1h-1zM27 49h1v1h-1zM30 49h1v1h-1zM25 50h1v1h-1zM24 51h1v1h-1zM22 52h1v1h-1zM24 52h1v1h-1zM24 53h1v1h-1zM22 56h1v1h-1zM21 57h1v1h-1zM19 58h1v1h-1zM20 60h1v1h-1zM18 61h1v1h-1zM26 62h1v1h-1zM32 62h1v1h-1zM16 66h1v1h-1zM29 66h1v1h-1zM27 68h1v1h-1zM22 69h1v1h-1zM25 69h1v1h-1zM32 70h1v1h-1zM32 72h1v1h-1zM29 74h1v1h-1z"/><path fill="#4956b3" d="M25 8h2v1h-2zM32 8h1v1h-1zM25 9h1v1h-1zM15 10h1v1h-1zM21 10h2v1h-2zM30 12h1v1h-1zM30 13h1v1h-1zM16 14h1v1h-1zM14 16h1v1h-1zM13 17h1v1h-1zM22 18h1v1h-1zM14 19h1v1h-1zM22 19h1v1h-1zM13 20h1v1h-1zM21 21h1v1h-1zM22 22h1v1h-1zM22 23h1v1h-1zM17 25h1v1h-1zM19 26h1v1h-1zM13 27h1v1h-1zM10 30h1v1h-1zM9 31h2v1h-2zM26 31h1v1h-1zM11 32h1v1h-1zM9 33h2v1h-2zM17 35h1v1h-1zM20 38h1v1h-1zM26 39h1v1h-1zM10 40h1v1h-1zM7 43h1v1h-1zM10 44h1v1h-1zM9 47h1v1h-1zM7 48h1v1h-1zM7 51h2v1h-2zM25 51h1v1h-1zM17 53h1v1h-1zM14 56h1v1h-1zM17 57h1v1h-1zM14 59h1v1h-1zM19 59h1v1h-1zM19 60h1v1h-1zM24 60h1v1h-1zM30 61h1v1h-1zM15 63h1v1h-1zM18 64h1v1h-1zM17 66h1v1h-1zM27 67h1v1h-1zM29 67h1v1h-1zM22 68h1v1h-1zM25 68h1v1h-1zM23 69h1v1h-1zM23 70h2v1h-2zM23 72h1v1h-1zM28 73h1v1h-1z"/><path fill="#4a4fa5" d="M27 9h1v1h-1zM31 9h1v1h-1zM31 10h2v1h-2zM31 11h1v1h-1zM15 15h1v1h-1zM28 16h1v1h-1zM30 16h1v1h-1zM11 17h2v1h-2zM12 18h2v1h-2zM11 19h1v1h-1zM24 22h1v1h-1zM29 22h1v1h-1zM20 23h1v1h-1zM16 25h1v1h-1zM15 29h1v1h-1zM26 30h1v1h-1zM32 30h1v1h-1zM9 32h1v1h-1zM26 32h1v1h-1zM27 33h1v1h-1zM32 35h1v1h-1zM15 40h1v1h-1zM26 40h1v1h-1zM22 43h1v1h-1zM22 44h2v1h-2zM16 47h1v1h-1zM11 48h1v1h-1zM31 51h1v1h-1zM23 52h1v1h-1zM23 54h1v1h-1zM20 58h1v1h-1zM18 59h1v1h-1zM32 59h1v1h-1zM13 62h1v1h-1zM31 62h1v1h-1zM25 67h1v1h-1zM24 69h1v1h-1z"/><path fill="#484996" d="M32 25h1v1h-1z"/><path fill="#454386" d="M18 19h1v1h-1zM21 23h1v1h-1zM22 24h1v1h-1z"/><path fill="#413e77" d="M17 21h1v1h-1zM11 36h1v1h-1zM23 38h1v1h-1zM14 63h1v1h-1z"/><path fill="#3c3a69" d="M28 7h1v1h-1zM21 13h1v1h-1zM32 15h1v1h-1zM31 16h1v1h-1zM19 22h1v1h-1zM12 24h1v1h-1zM22 37h1v1h-1zM9 49h1v1h-1zM27 59h1v1h-1z"/><path fill="#37355c" d="M26 11h1v1h-1zM20 15h1v1h-1zM13 21h1v1h-1zM9 22h1v1h-1zM26 27h1v1h-1zM16 39h1v1h-1zM31 45h1v1h-1zM7 46h1v1h-1zM11 46h1v1h-1zM28 48h1v1h-1zM17 50h1v1h-1zM15 52h1v1h-1zM25 57h1v1h-1zM32 57h1v1h-1zM30 59h1v1h-1zM25 62h1v1h-1zM23 68h1v1h-1zM23 73h1v1h-1z"/><path fill="#323050" d="M22 7h1v1h-1zM24 14h1v1h-1zM23 21h1v1h-1zM13 23h1v1h-1zM17 27h1v1h-1zM23 27h1v1h-1zM17 29h1v1h-1zM23 31h1v1h-1zM22 40h1v1h-1zM12 44h1v1h-1zM29 45h1v1h-1zM19 50h1v1h-1zM32 51h1v1h-1zM16 54h1v1h-1zM15 58h1v1h-1z"/><path fill="#2d2c45" d="M23 14h1v1h-1zM18 15h1v1h-1zM25 16h1v1h-1zM7 24h1v1h-1zM17 30h1v1h-1zM24 38h1v1h-1zM11 41h1v1h-1zM9 46h1v1h-1zM20 52h1v1h-1zM11 53h1v1h-1zM7 56h1v1h-1zM23 57h1v1h-1zM25 58h1v1h-1zM22 59h1v1h-1zM25 59h1v1h-1zM31 68h1v1h-1z"/><path fill="#29283b" d="M19 8h1v1h-1zM23 11h1v1h-1zM22 16h1v1h-1zM15 19h1v1h-1zM15 23h1v1h-1zM24 27h1v1h-1zM23 29h1v1h-1zM32 31h1v1h-1zM8 32h1v1h-1zM19 33h1v1h-1zM22 34h1v1h-1zM9 39h1v1h-1zM22 49h1v1h-1zM14 50h1v1h-1zM19 51h1v1h-1zM9 54h1v1h-1zM15 56h1v1h-1zM18 57h1v1h-1zM22 58h1v1h-1zM8 59h1v1h-1zM13 60h1v1h-1zM17 60h1v1h-1z"/><path fill="#242430" d="M26 7h1v1h-1zM26 12h1v1h-1zM32 12h1v1h-1zM19 13h1v1h-1zM16 17h1v1h-1zM11 20h1v1h-1zM20 20h1v1h-1zM9 23h1v1h-1zM19 24h1v1h-1zM28 27h1v1h-1zM30 27h1v1h-1zM14 29h1v1h-1zM23 30h1v1h-1zM15 34h1v1h-1zM19 35h1v1h-1zM12 37h1v1h-1zM10 38h1v1h-1zM25 38h1v1h-1zM13 41h1v1h-1zM18 41h1v1h-1zM19 44h1v1h-1zM31 44h1v1h-1zM16 45h1v1h-1zM21 45h1v1h-1zM30 45h1v1h-1zM14 47h1v1h-1zM19 47h1v1h-1zM30 47h1v1h-1zM8 50h1v1h-1zM11 51h1v1h-1zM9 52h1v1h-1zM20 54h1v1h-1zM8 57h1v1h-1zM16 57h1v1h-1zM29 57h1v1h-1zM21 61h1v1h-1zM21 62h1v1h-1zM20 63h1v1h-1zM31 67h1v1h-1z"/><path fill="#222129" d="M25 6h1v1h-1zM32 9h1v1h-1zM29 10h1v1h-1zM15 11h1v1h-1zM22 14h1v1h-1zM22 15h1v1h-1zM27 16h1v1h-1zM32 18h1v1h-1zM12 20h1v1h-1zM27 22h1v1h-1zM24 24h1v1h-1zM23 26h1v1h-1zM29 28h1v1h-1zM17 33h1v1h-1zM16 34h2v1h-2zM23 34h1v1h-1zM28 34h1v1h-1zM10 35h1v1h-1zM19 37h1v1h-1zM20 40h1v1h-1zM23 40h1v1h-1zM20 41h1v1h-1zM19 45h1v1h-1zM27 45h1v1h-1zM12 46h1v1h-1zM26 47h1v1h-1zM24 48h1v1h-1zM23 49h1v1h-1zM24 50h1v1h-1zM27 51h1v1h-1zM8 52h1v1h-1zM13 52h1v1h-1zM26 52h1v1h-1zM28 52h2v1h-2zM7 53h1v1h-1zM14 54h1v1h-1zM22 54h1v1h-1zM13 56h1v1h-1zM23 56h1v1h-1zM10 57h1v1h-1zM15 57h1v1h-1zM29 58h1v1h-1zM10 59h1v1h-1zM21 63h1v1h-1zM21 64h1v1h-1zM32 64h1v1h-1zM30 66h1v1h-1zM20 68h1v1h-1zM28 69h1v1h-1zM24 71h1v1h-1z"/><path fill="#201f24" d="M29 9h1v1h-1zM17 10h1v1h-1zM28 12h1v1h-1zM15 14h1v1h-1zM18 16h1v1h-1zM21 17h1v1h-1zM10 18h1v1h-1zM24 18h1v1h-1zM29 18h1v1h-1zM15 21h1v1h-1zM24 21h1v1h-1zM11 24h1v1h-1zM27 25h1v1h-1zM27 27h1v1h-1zM11 28h1v1h-1zM14 28h1v1h-1zM21 28h1v1h-1zM27 28h1v1h-1zM11 31h1v1h-1zM18 31h1v1h-1zM20 31h1v1h-1zM24 31h1v1h-1zM20 32h1v1h-1zM17 36h1v1h-1zM19 36h1v1h-1zM7 38h1v1h-1zM11 38h2v1h-2zM11 40h1v1h-1zM16 40h1v1h-1zM6 41h1v1h-1zM16 41h1v1h-1zM22 41h1v1h-1zM27 41h1v1h-1zM7 42h1v1h-1zM23 42h1v1h-1zM31 42h1v1h-1zM5 44h1v1h-1zM9 44h1v1h-1zM32 45h1v1h-1zM23 46h1v1h-1zM7 47h1v1h-1zM18 47h1v1h-1zM7 50h1v1h-1zM26 50h1v1h-1zM5 51h1v1h-1zM12 51h1v1h-1zM10 52h1v1h-1zM32 53h1v1h-1zM11 56h1v1h-1zM16 56h1v1h-1zM30 57h1v1h-1zM12 58h1v1h-1zM15 59h1v1h-1zM17 59h1v1h-1zM28 60h1v1h-1zM23 61h1v1h-1zM29 61h1v1h-1zM16 62h1v1h-1zM22 63h2v1h-2zM17 65h1v1h-1zM31 71h1v1h-1z"/><path fill="#1f1e20" d="M30 5h1v1h-1zM27 7h1v1h-1zM31 7h1v1h-1zM19 9h1v1h-1zM24 12h1v1h-1zM15 13h1v1h-1zM17 13h1v1h-1zM28 13h1v1h-1zM14 15h1v1h-1zM27 17h1v1h-1zM14 20h1v1h-1zM19 20h1v1h-1zM25 21h1v1h-1zM8 22h1v1h-1zM10 22h1v1h-1zM19 23h1v1h-1zM30 23h1v1h-1zM8 25h1v1h-1zM12 25h1v1h-1zM15 25h1v1h-1zM21 26h1v1h-1zM15 27h1v1h-1zM32 27h1v1h-1zM12 28h1v1h-1zM16 28h1v1h-1zM22 28h1v1h-1zM29 32h1v1h-1zM23 33h1v1h-1zM21 34h1v1h-1zM16 35h1v1h-1zM25 35h1v1h-1zM28 35h1v1h-1zM8 36h1v1h-1zM31 37h1v1h-1zM26 38h1v1h-1zM27 39h1v1h-1zM28 41h1v1h-1zM9 42h1v1h-1zM11 42h1v1h-1zM30 42h1v1h-1zM27 44h2v1h-2zM25 45h1v1h-1zM18 46h1v1h-1zM25 46h3v1h-3zM32 46h1v1h-1zM12 47h1v1h-1zM20 48h1v1h-1zM8 49h1v1h-1zM24 49h1v1h-1zM31 49h1v1h-1zM32 52h1v1h-1zM15 53h1v1h-1zM31 56h1v1h-1zM12 57h3v1h-3zM24 57h1v1h-1zM11 58h1v1h-1zM31 60h1v1h-1zM14 61h1v1h-1zM24 63h1v1h-1zM26 65h1v1h-1zM21 68h1v1h-1z"/><path fill="#201e1e" d="M31 8h1v1h-1zM16 10h1v1h-1zM18 10h1v1h-1zM18 11h1v1h-1zM20 11h1v1h-1zM16 15h1v1h-1zM24 15h1v1h-1zM15 16h1v1h-1zM17 17h1v1h-1zM31 17h1v1h-1zM26 19h1v1h-1zM30 19h1v1h-1zM16 21h1v1h-1zM18 21h1v1h-1zM27 21h1v1h-1zM10 23h1v1h-1zM30 24h1v1h-1zM32 24h1v1h-1zM13 25h2v1h-2zM20 25h1v1h-1zM22 25h1v1h-1zM17 26h1v1h-1zM13 28h1v1h-1zM28 28h1v1h-1zM12 29h2v1h-2zM16 29h1v1h-1zM22 29h1v1h-1zM26 29h1v1h-1zM21 30h1v1h-1zM27 31h2v1h-2zM16 32h1v1h-1zM22 33h1v1h-1zM12 34h2v1h-2zM9 35h1v1h-1zM12 35h1v1h-1zM27 38h1v1h-1zM12 39h1v1h-1zM17 39h1v1h-1zM24 40h1v1h-1zM9 41h1v1h-1zM24 41h1v1h-1zM22 42h1v1h-1zM8 43h1v1h-1zM20 43h1v1h-1zM24 43h1v1h-1zM25 44h1v1h-1zM13 46h1v1h-1zM23 47h1v1h-1zM27 47h1v1h-1zM16 48h1v1h-1zM23 48h1v1h-1zM31 48h2v1h-2zM10 49h1v1h-1zM12 49h1v1h-1zM17 49h1v1h-1zM25 49h1v1h-1zM18 50h1v1h-1zM23 50h1v1h-1zM25 52h1v1h-1zM6 53h1v1h-1zM23 53h1v1h-1zM28 54h1v1h-1zM28 55h1v1h-1zM21 56h1v1h-1zM28 56h2v1h-2zM12 60h1v1h-1zM15 60h2v1h-2zM25 64h1v1h-1zM16 65h1v1h-1zM27 65h1v1h-1zM30 65h1v1h-1zM18 66h1v1h-1zM19 67h1v1h-1zM17 68h1v1h-1zM26 69h1v1h-1zM29 69h1v1h-1zM22 70h1v1h-1zM28 70h1v1h-1z"/><path fill="#251e1f" d="M20 8h1v1h-1zM23 9h1v1h-1zM23 10h1v1h-1zM19 12h1v1h-1zM26 13h1v1h-1zM19 14h1v1h-1zM16 16h1v1h-1zM24 17h1v1h-1zM18 18h1v1h-1zM23 18h1v1h-1zM31 19h1v1h-1zM8 21h1v1h-1zM19 21h1v1h-1zM16 22h1v1h-1zM11 23h1v1h-1zM31 23h1v1h-1zM13 24h1v1h-1zM18 24h1v1h-1zM21 24h1v1h-1zM28 24h1v1h-1zM28 25h1v1h-1zM30 25h1v1h-1zM18 26h1v1h-1zM18 29h1v1h-1zM29 29h1v1h-1zM18 30h2v1h-2zM30 30h1v1h-1zM7 31h1v1h-1zM21 32h1v1h-1zM25 32h1v1h-1zM13 35h2v1h-2zM23 35h1v1h-1zM28 36h1v1h-1zM10 37h1v1h-1zM15 37h2v1h-2zM21 37h1v1h-1zM26 37h1v1h-1zM13 38h1v1h-1zM16 38h1v1h-1zM17 40h1v1h-1zM28 40h1v1h-1zM6 42h1v1h-1zM11 43h1v1h-1zM13 43h1v1h-1zM17 43h1v1h-1zM25 43h1v1h-1zM26 44h1v1h-1zM29 44h1v1h-1zM13 45h1v1h-1zM17 45h1v1h-1zM5 46h1v1h-1zM20 46h1v1h-1zM17 47h1v1h-1zM28 47h1v1h-1zM9 48h2v1h-2zM17 48h1v1h-1zM22 48h1v1h-1zM26 48h1v1h-1zM20 49h2v1h-2zM28 49h1v1h-1zM15 50h2v1h-2zM14 52h1v1h-1zM27 52h1v1h-1zM19 53h1v1h-1zM11 54h1v1h-1zM13 54h1v1h-1zM13 55h1v1h-1zM15 55h1v1h-1zM12 59h1v1h-1zM31 63h1v1h-1zM21 66h1v1h-1zM24 67h1v1h-1zM25 70h1v1h-1zM31 72h1v1h-1z"/><path fill="#2a1e20" d="M32 6h1v1h-1zM16 13h1v1h-1zM18 13h1v1h-1zM26 15h1v1h-1zM30 15h1v1h-1zM13 16h1v1h-1zM23 16h1v1h-1zM10 19h1v1h-1zM22 20h1v1h-1zM29 21h1v1h-1zM17 22h2v1h-2zM26 22h1v1h-1zM30 22h2v1h-2zM24 23h1v1h-1zM28 23h1v1h-1zM21 25h1v1h-1zM32 26h1v1h-1zM25 28h1v1h-1zM10 29h1v1h-1zM22 32h1v1h-1zM31 32h2v1h-2zM18 33h1v1h-1zM7 34h1v1h-1zM21 35h1v1h-1zM26 36h1v1h-1zM24 39h2v1h-2zM32 39h1v1h-1zM30 40h1v1h-1zM15 41h1v1h-1zM26 41h1v1h-1zM5 45h1v1h-1zM15 46h1v1h-1zM21 46h1v1h-1zM31 46h1v1h-1zM25 47h1v1h-1zM14 49h1v1h-1zM26 49h1v1h-1zM20 51h1v1h-1zM20 53h1v1h-1zM27 53h1v1h-1zM29 53h1v1h-1zM17 54h1v1h-1zM21 54h1v1h-1zM32 54h1v1h-1zM14 55h1v1h-1zM21 55h1v1h-1zM26 56h1v1h-1zM32 56h1v1h-1zM22 57h1v1h-1zM29 59h1v1h-1zM11 60h1v1h-1zM23 60h1v1h-1zM26 60h1v1h-1zM28 61h1v1h-1zM18 62h1v1h-1zM29 62h1v1h-1zM12 63h1v1h-1zM26 63h1v1h-1zM17 67h1v1h-1zM25 72h3v1h-3z"/><path fill="#311f23" d="M22 8h1v1h-1zM16 11h1v1h-1zM32 11h1v1h-1zM31 12h1v1h-1zM24 13h1v1h-1zM17 14h1v1h-1zM21 14h1v1h-1zM23 17h1v1h-1zM32 17h1v1h-1zM25 18h2v1h-2zM30 18h1v1h-1zM17 19h1v1h-1zM9 20h1v1h-1zM16 20h1v1h-1zM18 20h1v1h-1zM21 20h1v1h-1zM12 23h1v1h-1zM27 23h1v1h-1zM29 23h1v1h-1zM8 24h1v1h-1zM27 24h1v1h-1zM31 25h1v1h-1zM9 26h1v1h-1zM14 26h1v1h-1zM16 26h1v1h-1zM28 26h1v1h-1zM18 27h1v1h-1zM25 27h1v1h-1zM17 28h1v1h-1zM23 28h1v1h-1zM22 30h1v1h-1zM28 30h1v1h-1zM12 31h2v1h-2zM17 31h1v1h-1zM25 31h1v1h-1zM17 32h1v1h-1zM20 35h1v1h-1zM15 36h1v1h-1zM21 36h1v1h-1zM32 36h1v1h-1zM19 38h1v1h-1zM14 39h1v1h-1zM21 39h1v1h-1zM8 40h2v1h-2zM14 40h1v1h-1zM29 40h1v1h-1zM30 41h1v1h-1zM25 42h1v1h-1zM32 42h1v1h-1zM29 43h1v1h-1zM13 44h1v1h-1zM17 44h1v1h-1zM24 44h1v1h-1zM11 47h1v1h-1zM8 48h1v1h-1zM15 51h1v1h-1zM21 51h1v1h-1zM30 51h1v1h-1zM11 52h1v1h-1zM30 53h1v1h-1zM29 54h1v1h-1zM19 55h1v1h-1zM23 55h1v1h-1zM26 57h1v1h-1zM31 57h1v1h-1zM10 58h1v1h-1zM26 58h1v1h-1zM23 59h1v1h-1zM32 60h1v1h-1zM14 62h1v1h-1zM32 63h1v1h-1zM18 68h1v1h-1zM31 69h1v1h-1zM30 70h1v1h-1zM32 73h1v1h-1z"/><path fill="#392126" d="M26 6h1v1h-1zM20 10h1v1h-1zM25 10h1v1h-1zM25 11h1v1h-1zM27 14h1v1h-1zM23 15h1v1h-1zM19 17h1v1h-1zM25 17h1v1h-1zM15 18h1v1h-1zM21 18h1v1h-1zM29 19h1v1h-1zM28 20h1v1h-1zM26 21h1v1h-1zM14 23h1v1h-1zM16 23h1v1h-1zM20 24h1v1h-1zM23 25h1v1h-1zM13 26h1v1h-1zM31 26h1v1h-1zM14 27h1v1h-1zM20 27h1v1h-1zM19 28h1v1h-1zM14 30h1v1h-1zM25 30h1v1h-1zM24 32h1v1h-1zM12 33h1v1h-1zM22 35h1v1h-1zM26 35h1v1h-1zM10 36h1v1h-1zM12 36h1v1h-1zM14 37h1v1h-1zM8 38h1v1h-1zM14 38h1v1h-1zM22 39h1v1h-1zM17 41h1v1h-1zM14 42h1v1h-1zM19 42h1v1h-1zM28 42h1v1h-1zM19 43h1v1h-1zM18 44h1v1h-1zM11 45h1v1h-1zM16 46h2v1h-2zM22 46h1v1h-1zM24 46h1v1h-1zM29 47h1v1h-1zM5 48h1v1h-1zM13 48h1v1h-1zM13 49h1v1h-1zM15 49h1v1h-1zM32 49h1v1h-1zM12 50h1v1h-1zM22 50h1v1h-1zM28 50h1v1h-1zM13 51h1v1h-1zM7 52h1v1h-1zM21 52h1v1h-1zM22 53h1v1h-1zM31 54h1v1h-1zM9 57h1v1h-1zM13 58h1v1h-1zM27 58h1v1h-1zM24 59h1v1h-1zM27 60h1v1h-1zM16 61h1v1h-1zM17 63h1v1h-1zM30 63h1v1h-1zM19 64h1v1h-1zM24 64h1v1h-1zM30 64h1v1h-1zM19 66h1v1h-1zM24 66h1v1h-1zM28 68h1v1h-1zM19 69h1v1h-1zM30 73h1v1h-1z"/><path fill="#412329" d="M28 8h1v1h-1zM21 9h1v1h-1zM19 10h1v1h-1zM21 11h1v1h-1zM17 12h1v1h-1zM25 12h1v1h-1zM25 13h1v1h-1zM25 15h1v1h-1zM19 19h1v1h-1zM25 19h1v1h-1zM23 20h1v1h-1zM27 20h1v1h-1zM11 22h1v1h-1zM32 23h1v1h-1zM14 24h1v1h-1zM26 26h1v1h-1zM12 27h1v1h-1zM19 29h1v1h-1zM13 30h1v1h-1zM29 30h1v1h-1zM14 31h1v1h-1zM18 32h2v1h-2zM11 33h1v1h-1zM14 33h1v1h-1zM30 34h1v1h-1zM22 36h1v1h-1zM8 39h1v1h-1zM15 39h1v1h-1zM31 40h1v1h-1zM18 43h1v1h-1zM20 45h1v1h-1zM22 45h1v1h-1zM19 46h1v1h-1zM30 46h1v1h-1zM12 48h1v1h-1zM30 48h1v1h-1zM16 49h1v1h-1zM18 49h1v1h-1zM32 50h1v1h-1zM18 52h1v1h-1zM12 53h1v1h-1zM19 54h1v1h-1zM24 54h1v1h-1zM16 55h1v1h-1zM22 55h1v1h-1zM29 55h1v1h-1zM31 55h1v1h-1zM9 56h1v1h-1zM11 57h1v1h-1zM31 58h1v1h-1zM13 59h1v1h-1zM14 60h1v1h-1zM12 61h1v1h-1zM24 61h2v1h-2zM27 61h1v1h-1zM27 62h2v1h-2zM13 63h1v1h-1zM29 63h1v1h-1zM22 64h1v1h-1zM20 65h1v1h-1zM25 65h1v1h-1zM29 65h1v1h-1zM22 66h1v1h-1zM27 66h1v1h-1zM21 69h1v1h-1zM25 71h1v1h-1z"/><path fill="#4a252e" d="M32 7h1v1h-1zM21 8h1v1h-1zM27 8h1v1h-1zM24 11h1v1h-1zM27 11h2v1h-2zM15 12h1v1h-1zM14 13h1v1h-1zM26 20h1v1h-1zM10 21h1v1h-1zM25 24h2v1h-2zM26 25h1v1h-1zM29 25h1v1h-1zM30 26h1v1h-1zM19 27h1v1h-1zM27 29h1v1h-1zM11 30h1v1h-1zM16 30h1v1h-1zM18 38h1v1h-1zM28 38h1v1h-1zM24 42h1v1h-1zM29 42h1v1h-1zM10 43h1v1h-1zM32 43h1v1h-1zM16 44h1v1h-1zM32 44h1v1h-1zM12 45h1v1h-1zM23 45h1v1h-1zM28 46h1v1h-1zM31 47h2v1h-2zM27 48h1v1h-1zM17 51h2v1h-2zM12 52h1v1h-1zM14 53h1v1h-1zM28 53h1v1h-1zM12 54h1v1h-1zM10 56h1v1h-1zM18 58h1v1h-1zM16 59h1v1h-1zM9 60h1v1h-1zM17 61h1v1h-1zM19 61h1v1h-1zM19 62h1v1h-1zM23 62h2v1h-2zM20 66h1v1h-1zM23 66h1v1h-1zM18 67h1v1h-1zM26 68h1v1h-1zM32 71h1v1h-1z"/><path fill="#542732" d="M30 7h1v1h-1zM18 9h1v1h-1zM20 12h1v1h-1zM23 12h1v1h-1zM19 15h1v1h-1zM26 17h1v1h-1zM30 17h1v1h-1zM19 18h1v1h-1zM16 19h1v1h-1zM31 20h1v1h-1zM8 23h1v1h-1zM23 23h1v1h-1zM16 24h1v1h-1zM23 24h1v1h-1zM29 26h1v1h-1zM10 28h1v1h-1zM20 28h1v1h-1zM16 31h1v1h-1zM21 31h1v1h-1zM27 32h2v1h-2zM8 33h1v1h-1zM9 34h1v1h-1zM18 35h1v1h-1zM9 36h1v1h-1zM11 37h1v1h-1zM17 37h1v1h-1zM23 39h1v1h-1zM19 40h1v1h-1zM21 40h1v1h-1zM14 43h1v1h-1zM30 44h1v1h-1zM18 45h1v1h-1zM29 46h1v1h-1zM6 49h1v1h-1zM29 49h1v1h-1zM31 50h1v1h-1zM9 51h1v1h-1zM17 52h1v1h-1zM26 53h1v1h-1zM25 55h1v1h-1zM32 55h1v1h-1zM8 56h1v1h-1zM27 56h1v1h-1zM26 59h1v1h-1zM21 60h2v1h-2zM30 60h1v1h-1zM22 61h1v1h-1zM17 62h1v1h-1zM20 64h1v1h-1zM23 64h1v1h-1zM25 66h1v1h-1zM20 67h1v1h-1z"/><path fill="#622937" d="M27 6h1v1h-1zM32 13h1v1h-1zM14 14h1v1h-1zM18 14h1v1h-1zM26 14h1v1h-1zM17 15h1v1h-1zM18 17h1v1h-1zM15 20h1v1h-1zM30 21h1v1h-1zM20 22h1v1h-1zM7 23h1v1h-1zM29 24h1v1h-1zM24 25h1v1h-1zM12 26h1v1h-1zM27 26h1v1h-1zM16 27h1v1h-1zM21 27h2v1h-2zM29 27h1v1h-1zM20 29h2v1h-2zM28 29h1v1h-1zM28 33h1v1h-1zM14 34h1v1h-1zM29 35h1v1h-1zM13 36h1v1h-1zM18 37h1v1h-1zM13 39h1v1h-1zM18 39h1v1h-1zM20 39h1v1h-1zM29 39h1v1h-1zM29 41h1v1h-1zM13 42h1v1h-1zM6 43h1v1h-1zM26 43h3v1h-3zM14 46h1v1h-1zM15 47h1v1h-1zM19 48h1v1h-1zM25 48h1v1h-1zM10 51h1v1h-1zM26 51h1v1h-1zM16 52h1v1h-1zM8 55h1v1h-1zM25 56h1v1h-1zM28 57h1v1h-1zM32 58h1v1h-1zM11 59h1v1h-1zM32 61h1v1h-1zM22 62h1v1h-1zM30 62h1v1h-1zM16 63h1v1h-1zM27 64h2v1h-2zM23 71h1v1h-1z"/><path fill="#6d2b3b" d="M24 7h1v1h-1zM24 10h1v1h-1zM25 14h1v1h-1zM30 14h1v1h-1zM21 16h1v1h-1zM28 19h1v1h-1zM20 21h1v1h-1zM15 22h1v1h-1zM23 22h1v1h-1zM10 24h1v1h-1zM17 24h1v1h-1zM9 30h1v1h-1zM27 30h1v1h-1zM8 31h1v1h-1zM20 33h1v1h-1zM11 35h1v1h-1zM30 37h1v1h-1zM31 38h1v1h-1zM11 39h1v1h-1zM19 39h1v1h-1zM18 40h1v1h-1zM10 41h1v1h-1zM23 43h1v1h-1zM31 43h1v1h-1zM24 45h1v1h-1zM11 49h1v1h-1zM27 50h1v1h-1zM19 52h1v1h-1zM13 53h1v1h-1zM16 53h1v1h-1zM25 54h1v1h-1zM12 55h1v1h-1zM24 55h1v1h-1zM30 55h1v1h-1zM24 56h1v1h-1zM14 58h1v1h-1zM26 61h1v1h-1zM28 63h1v1h-1zM30 72h1v1h-1zM29 73h1v1h-1z"/><path fill="#782c3f" d="M21 12h1v1h-1zM22 13h1v1h-1zM20 14h1v1h-1zM28 14h1v1h-1zM27 15h1v1h-1zM20 16h1v1h-1zM26 16h1v1h-1zM17 18h1v1h-1zM27 19h1v1h-1zM24 20h1v1h-1zM9 21h1v1h-1zM10 25h1v1h-1zM25 25h1v1h-1zM15 30h1v1h-1zM20 30h1v1h-1zM22 31h1v1h-1zM15 33h1v1h-1zM6 35h1v1h-1zM17 38h1v1h-1zM28 39h1v1h-1zM8 41h1v1h-1zM23 41h1v1h-1zM10 42h1v1h-1zM14 44h1v1h-1zM20 47h1v1h-1zM11 50h1v1h-1zM20 50h1v1h-1zM30 50h1v1h-1zM21 53h1v1h-1zM15 54h1v1h-1zM25 60h1v1h-1zM20 61h1v1h-1zM31 64h1v1h-1zM23 65h1v1h-1zM21 67h1v1h-1zM30 68h1v1h-1zM27 69h1v1h-1z"/><path fill="#842d42" d="M29 7h1v1h-1zM18 8h1v1h-1zM22 11h1v1h-1zM18 12h1v1h-1zM31 13h1v1h-1zM21 15h1v1h-1zM24 16h1v1h-1zM32 16h1v1h-1zM20 17h1v1h-1zM22 21h1v1h-1zM28 22h1v1h-1zM7 26h1v1h-1zM22 26h1v1h-1zM15 28h1v1h-1zM19 31h1v1h-1zM24 33h2v1h-2zM27 34h1v1h-1zM20 37h1v1h-1zM25 40h1v1h-1zM27 40h1v1h-1zM20 42h1v1h-1zM26 42h1v1h-1zM21 43h1v1h-1zM22 47h1v1h-1zM14 48h1v1h-1zM28 51h2v1h-2zM10 55h1v1h-1zM23 58h1v1h-1zM24 65h1v1h-1zM31 65h1v1h-1zM30 67h1v1h-1zM19 68h1v1h-1zM24 68h1v1h-1z"/><path fill="#902e44" d="M20 7h1v1h-1zM22 12h1v1h-1zM19 16h1v1h-1zM10 20h1v1h-1zM11 21h1v1h-1zM15 24h1v1h-1zM25 26h1v1h-1zM23 32h1v1h-1zM6 34h1v1h-1zM25 34h1v1h-1zM7 39h1v1h-1zM13 40h1v1h-1zM14 41h1v1h-1zM25 41h1v1h-1zM30 43h1v1h-1zM20 44h2v1h-2zM18 48h1v1h-1zM27 54h1v1h-1zM16 58h1v1h-1zM31 61h1v1h-1zM29 64h1v1h-1zM20 69h1v1h-1z"/><path fill="#9c2f45" d="M20 13h1v1h-1zM31 15h1v1h-1zM32 21h1v1h-1zM26 28h1v1h-1zM24 29h1v1h-1zM21 41h1v1h-1zM15 48h1v1h-1zM14 51h1v1h-1zM22 51h1v1h-1zM25 53h1v1h-1zM31 59h1v1h-1zM32 68h1v1h-1z"/><path fill="#a83044" d="M23 7h1v1h-1zM17 16h1v1h-1zM12 19h1v1h-1zM14 21h1v1h-1zM13 22h1v1h-1zM17 23h1v1h-1zM10 34h1v1h-1zM19 34h1v1h-1zM18 36h1v1h-1zM20 36h1v1h-1zM29 37h1v1h-1zM10 39h1v1h-1zM31 41h1v1h-1zM15 42h1v1h-1zM21 42h1v1h-1zM27 42h1v1h-1zM26 45h1v1h-1zM29 48h1v1h-1zM26 54h1v1h-1zM30 58h1v1h-1zM10 60h1v1h-1zM18 63h1v1h-1zM21 65h1v1h-1zM32 66h1v1h-1zM22 67h1v1h-1zM27 71h1v1h-1z"/><path fill="#b33341" d="M22 9h1v1h-1zM28 9h1v1h-1zM32 19h1v1h-1zM28 21h1v1h-1zM13 33h1v1h-1zM16 36h1v1h-1zM13 37h1v1h-1zM15 38h1v1h-1zM8 42h1v1h-1zM17 42h1v1h-1zM18 53h1v1h-1zM8 54h1v1h-1zM10 54h1v1h-1zM11 55h1v1h-1zM23 67h1v1h-1z"/><path fill="#be373e" d="M30 20h1v1h-1zM11 27h1v1h-1zM31 31h1v1h-1zM20 34h1v1h-1zM9 38h1v1h-1zM7 40h1v1h-1zM6 46h1v1h-1zM13 47h1v1h-1zM13 50h1v1h-1zM8 53h1v1h-1zM10 53h1v1h-1zM9 55h1v1h-1zM17 58h1v1h-1zM20 62h1v1h-1zM14 64h2v1h-2zM13 65h1v1h-1zM28 65h1v1h-1z"/><path fill="#c73d3b" d="M30 9h1v1h-1zM29 11h1v1h-1zM23 13h1v1h-1zM29 15h1v1h-1zM32 34h1v1h-1zM27 36h1v1h-1zM27 37h1v1h-1zM14 45h2v1h-2zM18 54h1v1h-1zM20 56h1v1h-1zM19 57h1v1h-1zM13 61h1v1h-1zM26 64h1v1h-1z"/><path fill="#d04537" d="M24 6h1v1h-1zM30 10h1v1h-1zM27 18h1v1h-1zM6 23h1v1h-1zM25 23h2v1h-2zM6 31h1v1h-1zM24 36h1v1h-1zM7 41h1v1h-1zM21 50h1v1h-1zM29 50h1v1h-1zM31 53h1v1h-1zM17 55h1v1h-1zM20 57h1v1h-1zM28 59h1v1h-1zM17 64h1v1h-1zM19 65h1v1h-1zM32 67h1v1h-1z"/><path fill="#d74e35" d="M20 9h1v1h-1zM19 11h1v1h-1zM25 20h1v1h-1zM8 30h1v1h-1zM9 53h1v1h-1zM19 56h1v1h-1zM11 61h1v1h-1zM31 66h1v1h-1z"/><path fill="#df5a33" d="M13 14h1v1h-1zM14 22h1v1h-1zM9 28h1v1h-1zM13 32h1v1h-1zM15 35h1v1h-1zM12 43h1v1h-1zM28 45h1v1h-1zM10 50h1v1h-1zM28 67h1v1h-1z"/><path fill="#e56433" d="M21 19h1v1h-1zM21 33h1v1h-1zM30 33h1v1h-1zM17 56h1v1h-1zM25 63h1v1h-1zM22 65h1v1h-1zM29 70h1v1h-1z"/><path fill="#e96f36" d="M28 10h1v1h-1zM29 13h1v1h-1zM19 25h1v1h-1zM8 37h2v1h-2zM7 55h1v1h-1zM27 57h1v1h-1zM18 65h1v1h-1z"/><path fill="#ed7b3e" d="M23 8h1v1h-1zM29 17h1v1h-1zM24 30h1v1h-1zM29 33h1v1h-1zM8 45h1v1h-1zM26 66h1v1h-1zM31 70h1v1h-1zM29 71h1v1h-1z"/><path fill="#ef8748" d="M27 10h1v1h-1zM31 24h1v1h-1zM24 35h1v1h-1zM16 42h1v1h-1zM11 44h1v1h-1zM7 54h1v1h-1zM19 63h1v1h-1zM26 70h1v1h-1z"/><path fill="#f29255" d="M20 19h1v1h-1zM23 19h1v1h-1zM9 24h1v1h-1zM8 26h1v1h-1zM10 27h1v1h-1zM24 28h1v1h-1zM7 30h1v1h-1zM14 32h1v1h-1zM18 42h1v1h-1zM6 48h1v1h-1zM23 51h1v1h-1zM27 55h1v1h-1zM18 56h1v1h-1zM24 58h1v1h-1z"/><path fill="#f49d63" d="M31 14h1v1h-1zM8 27h1v1h-1zM30 32h1v1h-1zM26 34h1v1h-1zM7 35h1v1h-1zM6 38h1v1h-1zM19 41h1v1h-1zM15 44h1v1h-1zM6 45h1v1h-1zM21 47h1v1h-1zM26 55h1v1h-1zM9 58h1v1h-1zM27 63h1v1h-1zM16 64h1v1h-1zM30 69h1v1h-1zM30 71h1v1h-1z"/><path fill="#f6a871" d="M29 14h1v1h-1zM12 15h1v1h-1zM28 18h1v1h-1zM7 28h2v1h-2zM7 44h1v1h-1zM30 56h1v1h-1zM29 60h1v1h-1zM15 65h1v1h-1zM32 65h1v1h-1zM28 66h1v1h-1zM26 71h1v1h-1z"/><path fill="#f8b380" d="M28 15h1v1h-1zM29 16h1v1h-1zM9 25h1v1h-1zM11 25h1v1h-1zM18 25h1v1h-1zM11 26h1v1h-1zM9 27h1v1h-1zM9 29h1v1h-1zM25 29h1v1h-1zM24 37h2v1h-2zM32 41h1v1h-1zM15 43h1v1h-1zM28 58h1v1h-1zM15 62h1v1h-1zM21 70h1v1h-1z"/><path fill="#fbbe8f" d="M29 8h1v1h-1zM27 12h1v1h-1zM29 12h1v1h-1zM25 22h1v1h-1zM18 23h1v1h-1zM18 28h1v1h-1zM7 29h1v1h-1zM16 33h1v1h-1zM28 37h1v1h-1zM21 48h1v1h-1zM27 70h1v1h-1zM28 71h1v1h-1z"/><path fill="#fdc99e" d="M16 12h1v1h-1zM10 26h1v1h-1zM24 26h1v1h-1zM8 34h1v1h-1zM23 37h1v1h-1zM6 40h1v1h-1zM12 40h1v1h-1zM16 43h1v1h-1zM7 45h1v1h-1zM6 47h1v1h-1zM18 55h1v1h-1zM20 55h1v1h-1zM12 56h1v1h-1z"/><path fill="#ffd4ac" d="M22 4h1v1h-1zM32 4h1v1h-1zM19 5h1v1h-1zM24 5h6v1h-6zM31 5h1v1h-1zM20 6h1v1h-1zM22 6h1v1h-1zM19 7h1v1h-1zM17 8h1v1h-1zM13 9h1v1h-1zM15 9h2v1h-2zM12 10h1v1h-1zM13 11h2v1h-2zM11 12h2v1h-2zM10 13h3v1h-3zM27 13h1v1h-1zM9 14h1v1h-1zM11 14h1v1h-1zM10 15h1v1h-1zM10 16h1v1h-1zM9 17h2v1h-2zM9 18h1v1h-1zM20 18h1v1h-1zM8 19h1v1h-1zM6 20h1v1h-1zM8 20h1v1h-1zM7 21h1v1h-1zM7 22h1v1h-1zM6 24h1v1h-1zM6 26h1v1h-1zM31 27h1v1h-1zM5 28h1v1h-1zM30 28h2v1h-2zM8 29h1v1h-1zM5 30h1v1h-1zM5 31h1v1h-1zM15 31h1v1h-1zM29 31h1v1h-1zM5 32h1v1h-1zM4 33h1v1h-1zM5 34h1v1h-1zM11 34h1v1h-1zM5 35h1v1h-1zM5 36h1v1h-1zM14 36h1v1h-1zM5 37h1v1h-1zM5 38h1v1h-1zM30 38h1v1h-1zM4 39h1v1h-1zM6 39h1v1h-1zM5 40h1v1h-1zM4 41h1v1h-1zM3 42h2v1h-2zM4 43h2v1h-2zM3 44h1v1h-1zM4 45h1v1h-1zM4 46h1v1h-1zM4 47h1v1h-1zM4 48h1v1h-1zM5 50h2v1h-2zM5 52h2v1h-2zM31 52h1v1h-1zM4 53h2v1h-2zM6 54h1v1h-1zM6 55h1v1h-1zM6 56h1v1h-1zM6 57h1v1h-1zM6 58h1v1h-1zM6 59h1v1h-1zM9 59h1v1h-1zM8 60h1v1h-1zM8 61h2v1h-2zM15 61h1v1h-1zM10 62h1v1h-1zM12 62h1v1h-1zM11 63h1v1h-1zM12 64h1v1h-1zM12 66h3v1h-3zM14 67h2v1h-2zM26 67h1v1h-1zM16 68h1v1h-1zM16 69h2v1h-2zM18 70h2v1h-2zM19 71h2v1h-2zM20 72h1v1h-1zM21 73h1v1h-1zM24 73h1v1h-1zM26 73h1v1h-1zM25 74h4v1h-4zM30 74h3v1h-3zM25 75h1v1h-1z"/></g><use href="#h41" x="35"/></g><rect x="1812" y="569" width="57" height="75.8" fill="none" stroke="#ffff00" stroke-width="4.3"/><rect x="1923" y="451.9" width="15.8" height="309.4" fill="url(#g4)"/><rect x="1938.8" y="451.10" width="13.2" height="2.8" fill="#262626"/><text x="1958.6" y="0" font-size="22" transform="translate(0,460.25) scale(1,1.045)">10%</text><rect x="1938.8" y="554.23" width="13.2" height="2.8" fill="#262626"/><text x="1958.6" y="0" font-size="22" transform="translate(0,563.38) scale(1,1.045)">5%</text><rect x="1938.8" y="657.37" width="13.2" height="2.8" fill="#262626"/><text x="1958.6" y="0" font-size="22" transform="translate(0,666.52) scale(1,1.045)">0%</text><rect x="1938.8" y="760.50" width="13.2" height="2.8" fill="#262626"/><text x="1958.6" y="0" font-size="22" transform="translate(0,769.65) scale(1,1.045)">-5%</text><text x="2172.0" y="81.8" text-anchor="middle" font-size="25">RISH 2</text><rect x="2039.5" y="106.5" width="265" height="303.7" fill="#1f1e1e" stroke="#0e0e0e" stroke-width="1"/><g transform="translate(2039,106) scale(3.80000,3.80875)" shape-rendering="crispEdges"><g id="h50"><path fill="#bde7db" d="M31 3h1v1h-1zM22 4h10v1h-10zM19 5h4v1h-4zM17 6h3v1h-3zM16 7h2v1h-2zM14 8h3v1h-3zM13 9h2v1h-2zM13 10h1v1h-1zM11 11h2v1h-2zM11 12h1v1h-1zM10 13h2v1h-2zM9 14h2v1h-2zM9 15h1v1h-1zM8 16h2v1h-2zM8 17h1v1h-1zM7 18h2v1h-2zM7 19h1v1h-1zM6 20h2v1h-2zM6 21h1v1h-1zM5 22h2v1h-2zM5 23h1v1h-1zM5 24h1v1h-1zM5 25h1v1h-1zM5 26h1v1h-1zM4 27h2v1h-2zM4 28h1v1h-1zM4 29h1v1h-1zM4 30h1v1h-1zM4 31h1v1h-1zM4 32h1v1h-1zM4 33h1v1h-1zM4 34h1v1h-1zM4 35h1v1h-1zM4 36h1v1h-1zM4 37h1v1h-1zM4 38h1v1h-1zM4 39h1v1h-1zM3 40h2v1h-2zM3 41h1v1h-1zM3 42h1v1h-1zM3 43h1v1h-1zM3 44h1v1h-1zM3 45h1v1h-1zM3 46h1v1h-1zM3 47h1v1h-1zM3 48h1v1h-1zM3 49h1v1h-1zM3 50h2v1h-2zM4 51h1v1h-1zM4 52h1v1h-1zM4 53h1v1h-1zM4 54h2v1h-2zM5 55h1v1h-1zM5 56h1v1h-1zM5 57h1v1h-1zM5 58h2v1h-2zM6 59h2v1h-2zM7 60h1v1h-1zM7 61h1v1h-1zM8 62h1v1h-1zM9 63h2v1h-2zM10 64h2v1h-2zM11 65h2v1h-2zM12 66h2v1h-2zM13 67h1v1h-1zM14 68h2v1h-2zM15 69h2v1h-2zM16 70h2v1h-2zM17 71h2v1h-2zM18 72h3v1h-3zM20 73h3v1h-3zM22 74h4v1h-4zM25 75h3v1h-3zM29 75h4v1h-4z"/><path fill="#98cdd2" d="M6 54h1v1h-1z"/><path fill="#90c8d1" d="M32 4h1v1h-1zM13 37h1v1h-1zM13 41h1v1h-1zM15 41h1v1h-1zM10 62h1v1h-1zM12 62h1v1h-1zM27 64h1v1h-1zM30 74h1v1h-1z"/><path fill="#87c2cf" d="M12 13h1v1h-1zM10 15h1v1h-1zM5 40h1v1h-1zM17 41h1v1h-1zM5 42h2v1h-2zM18 43h1v1h-1zM4 45h1v1h-1zM4 48h1v1h-1zM6 57h1v1h-1zM14 64h1v1h-1zM27 70h1v1h-1zM29 71h2v1h-2z"/><path fill="#7ebdce" d="M26 5h1v1h-1zM14 22h1v1h-1zM17 23h1v1h-1zM6 25h1v1h-1zM13 42h1v1h-1zM13 43h1v1h-1zM15 44h1v1h-1zM18 56h1v1h-1zM21 66h1v1h-1zM27 66h1v1h-1zM28 70h1v1h-1z"/><path fill="#72b6ce" d="M10 17h1v1h-1zM14 34h1v1h-1zM12 38h1v1h-1zM4 42h1v1h-1zM14 42h1v1h-1zM11 43h1v1h-1zM7 44h1v1h-1zM11 45h1v1h-1zM4 46h1v1h-1zM8 60h1v1h-1zM13 65h1v1h-1zM22 65h1v1h-1zM14 66h1v1h-1zM31 66h1v1h-1zM32 67h1v1h-1zM19 71h1v1h-1z"/><path fill="#68b0cd" d="M29 6h1v1h-1zM18 7h1v1h-1zM11 15h1v1h-1zM11 16h1v1h-1zM17 24h1v1h-1zM6 40h1v1h-1zM6 41h1v1h-1zM14 43h1v1h-1zM14 44h1v1h-1zM5 50h1v1h-1zM26 65h1v1h-1zM18 70h1v1h-1z"/><path fill="#60abcd" d="M28 15h1v1h-1zM16 17h1v1h-1zM5 30h1v1h-1zM10 39h1v1h-1zM11 42h1v1h-1zM8 44h1v1h-1zM14 47h1v1h-1zM5 48h1v1h-1zM21 48h1v1h-1zM5 52h1v1h-1zM20 57h1v1h-1zM11 61h1v1h-1zM12 63h1v1h-1zM31 74h1v1h-1z"/><path fill="#58a5cd" d="M24 5h1v1h-1zM16 23h1v1h-1zM5 34h1v1h-1zM14 40h1v1h-1zM5 46h2v1h-2zM12 56h1v1h-1zM31 68h1v1h-1zM31 70h1v1h-1zM21 72h1v1h-1zM24 73h1v1h-1zM27 74h1v1h-1z"/><path fill="#4e9ecd" d="M28 10h1v1h-1zM7 29h1v1h-1zM21 33h1v1h-1zM23 36h1v1h-1zM13 39h1v1h-1zM4 41h1v1h-1zM12 42h1v1h-1zM15 42h1v1h-1zM27 63h1v1h-1zM27 65h1v1h-1zM32 66h1v1h-1zM20 71h1v1h-1z"/><path fill="#4798ce" d="M13 32h1v1h-1zM13 40h1v1h-1zM12 41h1v1h-1zM14 48h1v1h-1zM12 64h1v1h-1zM26 64h1v1h-1zM31 67h1v1h-1zM31 72h1v1h-1z"/><path fill="#4192ce" d="M14 39h1v1h-1zM14 41h1v1h-1zM7 45h1v1h-1zM14 45h1v1h-1zM19 55h1v1h-1zM13 64h1v1h-1zM31 73h1v1h-1z"/><path fill="#3a89cf" d="M24 6h1v1h-1zM27 14h1v1h-1zM10 16h1v1h-1zM14 32h2v1h-2zM10 38h1v1h-1zM13 38h1v1h-1zM12 39h1v1h-1zM14 46h1v1h-1zM30 67h1v1h-1z"/><path fill="#3783d0" d="M16 42h1v1h-1zM30 72h1v1h-1zM25 73h1v1h-1z"/><path fill="#4265c5" d="M29 8h1v1h-1zM29 9h1v1h-1zM14 13h1v1h-1zM18 13h1v1h-1zM12 15h2v1h-2zM30 18h1v1h-1zM32 18h1v1h-1zM20 19h1v1h-1zM18 22h1v1h-1zM18 23h1v1h-1zM28 26h1v1h-1zM7 27h1v1h-1zM24 27h1v1h-1zM30 28h2v1h-2zM21 30h1v1h-1zM32 30h1v1h-1zM15 31h1v1h-1zM8 35h1v1h-1zM27 36h1v1h-1zM10 40h1v1h-1zM7 42h1v1h-1zM6 44h1v1h-1zM9 45h1v1h-1zM23 51h1v1h-1zM32 51h1v1h-1zM31 53h1v1h-1zM6 55h1v1h-1zM21 55h1v1h-1zM31 56h1v1h-1zM28 57h1v1h-1zM22 61h1v1h-1zM14 62h1v1h-1zM25 63h1v1h-1zM21 65h1v1h-1zM23 65h1v1h-1zM26 69h2v1h-2zM21 70h2v1h-2zM32 73h1v1h-1z"/><path fill="#465ebe" d="M30 6h1v1h-1zM27 8h1v1h-1zM13 13h1v1h-1zM20 14h1v1h-1zM28 14h1v1h-1zM32 14h1v1h-1zM29 15h1v1h-1zM13 16h1v1h-1zM11 17h1v1h-1zM20 18h1v1h-1zM32 23h1v1h-1zM32 24h1v1h-1zM8 25h1v1h-1zM6 26h1v1h-1zM20 26h1v1h-1zM6 27h1v1h-1zM9 28h1v1h-1zM18 28h1v1h-1zM24 29h1v1h-1zM8 30h1v1h-1zM30 30h1v1h-1zM20 35h1v1h-1zM26 35h1v1h-1zM12 37h1v1h-1zM5 41h1v1h-1zM9 41h1v1h-1zM9 42h2v1h-2zM18 42h1v1h-1zM7 43h1v1h-1zM22 43h1v1h-1zM23 44h1v1h-1zM13 45h1v1h-1zM7 46h1v1h-1zM15 46h1v1h-1zM17 47h1v1h-1zM22 47h1v1h-1zM12 48h1v1h-1zM23 50h1v1h-1zM31 51h1v1h-1zM18 55h1v1h-1zM17 56h1v1h-1zM18 57h1v1h-1zM8 58h1v1h-1zM24 58h1v1h-1zM11 59h1v1h-1zM29 59h1v1h-1zM27 60h1v1h-1zM16 62h1v1h-1zM14 63h1v1h-1zM28 63h1v1h-1zM29 65h1v1h-1zM26 66h1v1h-1zM22 67h1v1h-1zM26 67h1v1h-1zM29 68h1v1h-1zM19 70h1v1h-1zM26 71h1v1h-1zM27 72h1v1h-1zM26 74h1v1h-1z"/><path fill="#4858b6" d="M23 5h1v1h-1zM28 5h1v1h-1zM30 7h1v1h-1zM29 10h1v1h-1zM28 11h1v1h-1zM26 12h2v1h-2zM14 14h1v1h-1zM18 14h1v1h-1zM16 16h1v1h-1zM20 17h1v1h-1zM21 19h2v1h-2zM27 19h1v1h-1zM21 20h2v1h-2zM27 20h1v1h-1zM23 25h1v1h-1zM8 26h1v1h-1zM13 26h1v1h-1zM27 26h1v1h-1zM30 26h1v1h-1zM25 28h1v1h-1zM14 30h1v1h-1zM30 31h1v1h-1zM6 32h1v1h-1zM17 33h1v1h-1zM19 33h1v1h-1zM21 35h1v1h-1zM25 35h1v1h-1zM19 37h1v1h-1zM28 37h1v1h-1zM8 43h1v1h-1zM12 43h1v1h-1zM4 47h1v1h-1zM9 49h1v1h-1zM30 51h1v1h-1zM30 52h1v1h-1zM13 53h1v1h-1zM29 53h1v1h-1zM18 54h1v1h-1zM9 58h1v1h-1zM11 58h1v1h-1zM28 58h1v1h-1zM23 59h1v1h-1zM10 60h1v1h-1zM9 61h1v1h-1zM25 61h1v1h-1zM28 64h1v1h-1zM18 66h1v1h-1zM24 67h1v1h-1zM28 69h1v1h-1zM31 69h2v1h-2zM27 71h1v1h-1zM28 72h1v1h-1z"/><path fill="#4a50a9" d="M29 5h1v1h-1zM28 6h1v1h-1zM15 9h2v1h-2zM26 13h1v1h-1zM13 14h1v1h-1zM20 16h1v1h-1zM30 17h1v1h-1zM30 19h1v1h-1zM27 25h1v1h-1zM8 27h1v1h-1zM13 27h1v1h-1zM7 30h1v1h-1zM15 30h1v1h-1zM27 30h1v1h-1zM31 30h1v1h-1zM29 31h1v1h-1zM32 33h1v1h-1zM20 34h1v1h-1zM32 34h1v1h-1zM24 35h1v1h-1zM10 37h1v1h-1zM15 38h1v1h-1zM19 38h1v1h-1zM20 41h1v1h-1zM17 42h1v1h-1zM11 44h1v1h-1zM11 46h1v1h-1zM18 48h1v1h-1zM29 50h1v1h-1zM12 53h1v1h-1zM20 55h1v1h-1zM27 55h1v1h-1zM21 56h1v1h-1zM21 58h1v1h-1zM10 59h1v1h-1zM16 59h1v1h-1zM24 59h1v1h-1zM28 60h1v1h-1zM13 61h1v1h-1zM26 62h1v1h-1zM26 63h1v1h-1zM19 64h1v1h-1zM30 65h1v1h-1zM32 65h1v1h-1zM28 67h1v1h-1z"/><path fill="#494c9e" d="M32 3h1v1h-1zM29 7h1v1h-1zM23 8h1v1h-1zM30 8h1v1h-1zM12 10h1v1h-1zM30 10h1v1h-1zM19 13h1v1h-1zM27 13h1v1h-1zM12 14h1v1h-1zM29 14h1v1h-1zM21 15h1v1h-1zM28 16h1v1h-1zM15 17h1v1h-1zM19 19h1v1h-1zM29 20h1v1h-1zM17 22h1v1h-1zM8 28h1v1h-1zM5 29h2v1h-2zM8 29h1v1h-1zM28 32h1v1h-1zM27 33h1v1h-1zM9 35h1v1h-1zM17 35h2v1h-2zM23 35h1v1h-1zM9 39h1v1h-1zM32 40h1v1h-1zM7 41h1v1h-1zM25 41h1v1h-1zM8 42h1v1h-1zM5 43h1v1h-1zM17 43h1v1h-1zM24 45h1v1h-1zM18 46h1v1h-1zM20 47h1v1h-1zM28 48h1v1h-1zM22 50h1v1h-1zM32 52h1v1h-1zM5 53h1v1h-1zM23 54h3v1h-3zM6 56h1v1h-1zM8 61h1v1h-1zM12 61h1v1h-1zM9 62h1v1h-1zM20 64h1v1h-1zM25 64h1v1h-1zM28 65h1v1h-1zM23 66h1v1h-1zM25 66h1v1h-1zM14 67h1v1h-1zM29 67h1v1h-1zM17 69h1v1h-1zM29 69h1v1h-1zM32 71h1v1h-1zM28 75h1v1h-1z"/><path fill="#474792" d="M20 11h1v1h-1zM29 13h1v1h-1zM13 17h1v1h-1zM19 17h1v1h-1zM27 18h1v1h-1zM26 19h1v1h-1zM31 19h1v1h-1zM24 20h1v1h-1zM15 23h1v1h-1zM9 24h1v1h-1zM20 25h1v1h-1zM31 27h1v1h-1zM24 28h1v1h-1zM13 29h1v1h-1zM12 30h1v1h-1zM8 31h1v1h-1zM14 31h1v1h-1zM31 31h1v1h-1zM16 32h1v1h-1zM30 32h1v1h-1zM21 34h1v1h-1zM22 35h1v1h-1zM25 36h1v1h-1zM14 38h1v1h-1zM8 41h1v1h-1zM6 43h1v1h-1zM5 45h1v1h-1zM17 46h1v1h-1zM15 48h1v1h-1zM22 49h1v1h-1zM5 51h1v1h-1zM31 52h1v1h-1zM32 53h1v1h-1zM22 55h1v1h-1zM8 59h1v1h-1zM9 60h1v1h-1zM15 62h1v1h-1zM28 62h1v1h-1zM15 64h1v1h-1zM14 65h1v1h-1zM22 66h1v1h-1z"/><path fill="#454386" d="M25 7h1v1h-1zM28 7h1v1h-1zM28 9h1v1h-1zM14 10h1v1h-1zM27 11h1v1h-1zM14 15h1v1h-1zM28 18h1v1h-1zM28 19h1v1h-1zM10 29h1v1h-1zM16 43h1v1h-1zM6 47h1v1h-1zM12 47h1v1h-1zM15 47h1v1h-1zM6 52h1v1h-1zM14 53h1v1h-1zM17 57h1v1h-1zM29 60h1v1h-1zM15 63h1v1h-1z"/><path fill="#413e77" d="M19 7h1v1h-1zM23 7h1v1h-1zM27 7h1v1h-1zM17 9h1v1h-1zM19 9h1v1h-1zM16 10h1v1h-1zM23 10h1v1h-1zM25 10h1v1h-1zM31 10h1v1h-1zM28 12h1v1h-1zM32 12h1v1h-1zM31 13h1v1h-1zM21 14h1v1h-1zM30 14h1v1h-1zM19 15h1v1h-1zM25 15h1v1h-1zM31 15h1v1h-1zM24 16h1v1h-1zM29 17h1v1h-1zM12 18h2v1h-2zM17 18h1v1h-1zM22 18h1v1h-1zM12 19h1v1h-1zM16 19h1v1h-1zM14 21h1v1h-1zM19 21h1v1h-1zM24 21h1v1h-1zM28 21h1v1h-1zM8 22h1v1h-1zM28 23h1v1h-1zM11 25h1v1h-1zM13 25h1v1h-1zM30 25h1v1h-1zM7 26h1v1h-1zM15 26h1v1h-1zM16 30h1v1h-1zM17 31h1v1h-1zM21 31h1v1h-1zM26 32h1v1h-1zM26 33h1v1h-1zM11 34h1v1h-1zM13 34h1v1h-1zM25 34h1v1h-1zM28 34h1v1h-1zM10 36h1v1h-1zM21 37h1v1h-1zM23 37h1v1h-1zM25 37h1v1h-1zM7 39h1v1h-1zM27 39h1v1h-1zM17 40h1v1h-1zM27 41h1v1h-1zM19 42h2v1h-2zM23 42h1v1h-1zM12 44h2v1h-2zM25 44h1v1h-1zM17 45h1v1h-1zM20 46h2v1h-2zM26 46h1v1h-1zM23 47h1v1h-1zM20 48h1v1h-1zM10 49h1v1h-1zM13 49h2v1h-2zM18 50h1v1h-1zM7 51h1v1h-1zM9 51h1v1h-1zM24 51h2v1h-2zM17 53h1v1h-1zM28 53h1v1h-1zM30 54h1v1h-1zM10 55h1v1h-1zM14 55h1v1h-1zM9 56h1v1h-1zM14 57h1v1h-1zM15 58h1v1h-1zM9 59h1v1h-1zM21 60h1v1h-1zM23 61h1v1h-1zM21 62h1v1h-1zM24 62h1v1h-1zM22 63h1v1h-1zM30 63h1v1h-1zM31 65h1v1h-1zM23 68h1v1h-1zM25 68h1v1h-1zM32 68h1v1h-1zM19 69h1v1h-1zM21 69h2v1h-2zM24 69h1v1h-1zM26 70h1v1h-1zM32 70h1v1h-1zM25 71h1v1h-1zM27 73h1v1h-1zM29 73h1v1h-1zM29 74h1v1h-1z"/><path fill="#3d3b6d" d="M31 7h1v1h-1zM24 8h1v1h-1zM28 8h1v1h-1zM20 9h1v1h-1zM24 9h1v1h-1zM19 10h1v1h-1zM13 11h1v1h-1zM29 11h1v1h-1zM14 12h1v1h-1zM29 12h1v1h-1zM17 13h1v1h-1zM24 13h1v1h-1zM30 13h1v1h-1zM16 14h1v1h-1zM26 15h1v1h-1zM32 15h1v1h-1zM15 16h1v1h-1zM29 16h1v1h-1zM18 17h1v1h-1zM32 17h1v1h-1zM18 18h1v1h-1zM31 18h1v1h-1zM9 19h1v1h-1zM17 19h1v1h-1zM9 20h1v1h-1zM28 20h1v1h-1zM12 21h1v1h-1zM17 21h1v1h-1zM21 21h1v1h-1zM27 21h1v1h-1zM30 21h1v1h-1zM16 22h1v1h-1zM20 22h1v1h-1zM8 23h1v1h-1zM29 23h1v1h-1zM12 24h1v1h-1zM31 24h1v1h-1zM18 25h1v1h-1zM11 26h1v1h-1zM22 26h1v1h-1zM19 27h1v1h-1zM26 27h1v1h-1zM29 27h1v1h-1zM16 28h2v1h-2zM12 29h1v1h-1zM11 30h1v1h-1zM17 30h1v1h-1zM23 30h2v1h-2zM5 31h1v1h-1zM16 31h1v1h-1zM11 32h1v1h-1zM27 32h1v1h-1zM32 32h1v1h-1zM12 33h1v1h-1zM16 33h1v1h-1zM31 34h1v1h-1zM5 35h1v1h-1zM26 36h1v1h-1zM17 37h2v1h-2zM22 37h1v1h-1zM27 37h1v1h-1zM5 38h1v1h-1zM23 38h1v1h-1zM28 38h1v1h-1zM15 39h1v1h-1zM20 39h1v1h-1zM23 39h1v1h-1zM29 39h1v1h-1zM19 40h1v1h-1zM31 40h1v1h-1zM23 41h1v1h-1zM23 43h1v1h-1zM29 43h1v1h-1zM17 44h1v1h-1zM28 44h1v1h-1zM22 45h1v1h-1zM25 45h1v1h-1zM28 45h1v1h-1zM8 46h1v1h-1zM29 47h1v1h-1zM29 48h1v1h-1zM18 49h1v1h-1zM27 49h1v1h-1zM30 49h1v1h-1zM13 50h1v1h-1zM25 50h1v1h-1zM18 51h1v1h-1zM28 51h1v1h-1zM11 52h5v1h-5zM20 53h1v1h-1zM12 54h1v1h-1zM15 54h1v1h-1zM21 54h1v1h-1zM31 54h1v1h-1zM11 55h1v1h-1zM20 56h1v1h-1zM30 56h1v1h-1zM7 57h2v1h-2zM30 57h1v1h-1zM13 58h1v1h-1zM29 58h1v1h-1zM20 59h1v1h-1zM22 59h1v1h-1zM25 59h2v1h-2zM23 60h1v1h-1zM27 61h1v1h-1zM29 64h1v1h-1zM16 66h1v1h-1zM30 66h1v1h-1zM21 67h1v1h-1zM21 68h1v1h-1zM23 69h1v1h-1zM23 70h1v1h-1zM30 70h1v1h-1z"/><path fill="#393763" d="M32 5h1v1h-1zM32 9h1v1h-1zM21 10h1v1h-1zM26 10h1v1h-1zM19 11h1v1h-1zM24 11h1v1h-1zM18 12h1v1h-1zM20 13h1v1h-1zM23 13h1v1h-1zM31 14h1v1h-1zM22 16h1v1h-1zM12 17h1v1h-1zM25 17h1v1h-1zM15 19h1v1h-1zM23 19h1v1h-1zM29 19h1v1h-1zM8 20h1v1h-1zM17 20h1v1h-1zM8 21h1v1h-1zM11 21h1v1h-1zM23 21h1v1h-1zM26 21h1v1h-1zM6 23h1v1h-1zM12 23h1v1h-1zM14 23h1v1h-1zM11 24h1v1h-1zM18 24h1v1h-1zM24 24h1v1h-1zM30 24h1v1h-1zM26 25h1v1h-1zM32 25h1v1h-1zM10 26h1v1h-1zM19 26h1v1h-1zM21 27h1v1h-1zM32 27h1v1h-1zM28 28h1v1h-1zM14 29h1v1h-1zM16 29h1v1h-1zM18 29h1v1h-1zM21 29h3v1h-3zM26 29h1v1h-1zM12 31h1v1h-1zM18 31h1v1h-1zM20 31h1v1h-1zM18 32h1v1h-1zM20 32h1v1h-1zM14 33h2v1h-2zM12 34h1v1h-1zM30 34h1v1h-1zM30 35h1v1h-1zM16 36h1v1h-1zM32 36h1v1h-1zM11 37h1v1h-1zM14 37h1v1h-1zM29 37h1v1h-1zM24 38h1v1h-1zM16 39h1v1h-1zM9 40h1v1h-1zM11 41h1v1h-1zM31 42h1v1h-1zM28 43h1v1h-1zM24 44h1v1h-1zM27 45h1v1h-1zM10 46h1v1h-1zM13 46h1v1h-1zM28 47h1v1h-1zM8 48h1v1h-1zM31 48h1v1h-1zM30 50h1v1h-1zM13 51h1v1h-1zM19 51h1v1h-1zM6 53h1v1h-1zM8 53h1v1h-1zM27 53h1v1h-1zM17 54h1v1h-1zM9 55h1v1h-1zM12 55h1v1h-1zM29 55h1v1h-1zM10 56h1v1h-1zM15 57h1v1h-1zM23 57h1v1h-1zM17 58h1v1h-1zM31 58h1v1h-1zM19 59h1v1h-1zM14 60h1v1h-1zM21 61h1v1h-1zM22 62h1v1h-1zM25 62h1v1h-1zM27 62h1v1h-1zM21 64h1v1h-1zM32 64h1v1h-1zM16 65h1v1h-1zM24 65h1v1h-1zM30 68h1v1h-1zM21 71h2v1h-2zM28 74h1v1h-1z"/><path fill="#343356" d="M32 7h1v1h-1zM17 8h1v1h-1zM22 9h1v1h-1zM18 10h1v1h-1zM32 10h1v1h-1zM14 11h1v1h-1zM22 11h2v1h-2zM21 12h1v1h-1zM22 13h1v1h-1zM32 13h1v1h-1zM15 15h1v1h-1zM18 15h1v1h-1zM25 16h1v1h-1zM9 17h1v1h-1zM26 17h1v1h-1zM10 18h1v1h-1zM8 19h1v1h-1zM18 19h1v1h-1zM30 20h1v1h-1zM13 21h1v1h-1zM9 22h1v1h-1zM24 22h1v1h-1zM11 23h1v1h-1zM19 23h1v1h-1zM8 24h1v1h-1zM19 24h1v1h-1zM12 26h1v1h-1zM14 26h1v1h-1zM11 27h1v1h-1zM27 27h2v1h-2zM30 27h1v1h-1zM19 28h2v1h-2zM9 29h1v1h-1zM15 29h1v1h-1zM30 29h2v1h-2zM8 32h1v1h-1zM10 32h1v1h-1zM31 32h1v1h-1zM20 33h1v1h-1zM23 33h1v1h-1zM6 34h1v1h-1zM17 34h1v1h-1zM7 35h1v1h-1zM10 35h1v1h-1zM31 35h1v1h-1zM5 37h1v1h-1zM6 38h2v1h-2zM17 38h1v1h-1zM18 39h1v1h-1zM8 40h1v1h-1zM20 40h1v1h-1zM18 41h1v1h-1zM29 41h1v1h-1zM21 42h2v1h-2zM9 43h1v1h-1zM21 43h1v1h-1zM5 44h1v1h-1zM18 44h1v1h-1zM10 45h1v1h-1zM12 45h1v1h-1zM21 45h1v1h-1zM22 46h2v1h-2zM25 46h1v1h-1zM32 47h1v1h-1zM23 48h1v1h-1zM12 49h1v1h-1zM21 49h1v1h-1zM23 49h2v1h-2zM14 50h2v1h-2zM20 50h1v1h-1zM24 50h1v1h-1zM32 50h1v1h-1zM8 51h1v1h-1zM12 51h1v1h-1zM14 51h1v1h-1zM8 52h1v1h-1zM27 52h1v1h-1zM25 53h1v1h-1zM20 54h1v1h-1zM8 56h1v1h-1zM15 56h1v1h-1zM12 57h1v1h-1zM22 57h1v1h-1zM25 57h1v1h-1zM20 58h1v1h-1zM25 58h1v1h-1zM13 59h1v1h-1zM15 59h1v1h-1zM31 59h2v1h-2zM15 60h1v1h-1zM24 60h1v1h-1zM26 61h1v1h-1zM28 61h1v1h-1zM18 62h1v1h-1zM29 62h1v1h-1zM31 62h1v1h-1zM11 63h1v1h-1zM23 64h2v1h-2zM17 66h1v1h-1zM20 66h1v1h-1zM18 67h1v1h-1zM23 67h1v1h-1zM22 68h1v1h-1zM20 69h1v1h-1zM25 70h1v1h-1zM23 73h1v1h-1zM26 73h1v1h-1z"/><path fill="#312f4d" d="M21 6h1v1h-1zM21 7h1v1h-1zM21 8h1v1h-1zM30 9h1v1h-1zM15 11h2v1h-2zM25 11h1v1h-1zM19 12h1v1h-1zM28 13h1v1h-1zM25 14h1v1h-1zM22 15h1v1h-1zM24 15h1v1h-1zM30 15h1v1h-1zM17 17h1v1h-1zM21 17h1v1h-1zM9 18h1v1h-1zM29 18h1v1h-1zM24 19h1v1h-1zM10 20h1v1h-1zM9 21h1v1h-1zM16 21h1v1h-1zM25 21h1v1h-1zM31 21h1v1h-1zM25 22h1v1h-1zM27 22h2v1h-2zM32 22h1v1h-1zM10 23h1v1h-1zM13 23h1v1h-1zM25 23h2v1h-2zM15 24h1v1h-1zM21 24h3v1h-3zM25 24h1v1h-1zM15 25h1v1h-1zM17 25h1v1h-1zM6 28h1v1h-1zM14 28h1v1h-1zM23 28h1v1h-1zM9 30h2v1h-2zM26 30h1v1h-1zM27 31h1v1h-1zM23 32h1v1h-1zM8 33h1v1h-1zM30 33h1v1h-1zM7 34h2v1h-2zM15 34h1v1h-1zM24 34h1v1h-1zM26 34h1v1h-1zM13 35h1v1h-1zM13 36h1v1h-1zM19 36h1v1h-1zM22 36h1v1h-1zM8 37h1v1h-1zM32 37h1v1h-1zM24 39h1v1h-1zM15 40h1v1h-1zM28 40h1v1h-1zM24 41h1v1h-1zM28 42h1v1h-1zM32 42h1v1h-1zM4 43h1v1h-1zM26 43h1v1h-1zM32 44h1v1h-1zM15 45h1v1h-1zM29 45h1v1h-1zM19 46h1v1h-1zM27 46h1v1h-1zM31 46h2v1h-2zM9 48h1v1h-1zM20 49h1v1h-1zM9 50h1v1h-1zM28 50h1v1h-1zM10 51h1v1h-1zM20 51h1v1h-1zM16 52h1v1h-1zM23 52h1v1h-1zM22 53h1v1h-1zM14 54h1v1h-1zM16 54h1v1h-1zM26 54h1v1h-1zM29 54h1v1h-1zM24 55h2v1h-2zM14 56h1v1h-1zM13 57h1v1h-1zM32 60h1v1h-1zM10 61h1v1h-1zM20 61h1v1h-1zM13 62h1v1h-1zM19 62h2v1h-2zM23 62h1v1h-1zM13 63h1v1h-1zM17 63h1v1h-1zM16 64h1v1h-1zM22 64h1v1h-1zM26 68h1v1h-1zM25 72h2v1h-2zM30 73h1v1h-1z"/><path fill="#2d2c45" d="M26 6h1v1h-1zM26 7h1v1h-1zM20 8h1v1h-1zM31 8h1v1h-1zM31 9h1v1h-1zM20 10h1v1h-1zM32 11h1v1h-1zM15 12h1v1h-1zM30 12h1v1h-1zM16 13h1v1h-1zM24 14h1v1h-1zM18 16h1v1h-1zM14 18h1v1h-1zM23 18h1v1h-1zM14 19h1v1h-1zM18 20h1v1h-1zM20 20h1v1h-1zM23 20h1v1h-1zM25 20h1v1h-1zM10 22h1v1h-1zM10 24h1v1h-1zM16 24h1v1h-1zM20 24h1v1h-1zM12 27h1v1h-1zM18 27h1v1h-1zM25 27h1v1h-1zM5 28h1v1h-1zM10 28h1v1h-1zM6 30h1v1h-1zM13 30h1v1h-1zM20 30h1v1h-1zM22 31h1v1h-1zM24 31h1v1h-1zM26 31h1v1h-1zM28 31h1v1h-1zM6 33h1v1h-1zM23 34h1v1h-1zM27 34h1v1h-1zM15 36h1v1h-1zM17 36h1v1h-1zM28 36h1v1h-1zM6 37h1v1h-1zM16 38h1v1h-1zM18 38h1v1h-1zM22 38h1v1h-1zM30 39h1v1h-1zM16 41h1v1h-1zM22 41h1v1h-1zM30 42h1v1h-1zM32 43h1v1h-1zM19 44h1v1h-1zM26 44h1v1h-1zM29 44h1v1h-1zM29 46h2v1h-2zM10 47h1v1h-1zM31 47h1v1h-1zM13 48h1v1h-1zM7 49h1v1h-1zM16 50h1v1h-1zM21 51h1v1h-1zM7 52h1v1h-1zM28 52h1v1h-1zM32 54h1v1h-1zM7 55h1v1h-1zM16 55h1v1h-1zM23 55h1v1h-1zM32 55h1v1h-1zM25 56h1v1h-1zM32 56h1v1h-1zM10 57h1v1h-1zM19 57h1v1h-1zM24 57h1v1h-1zM10 58h1v1h-1zM26 58h1v1h-1zM17 59h1v1h-1zM21 59h1v1h-1zM17 60h1v1h-1zM25 60h2v1h-2zM30 62h1v1h-1zM16 63h1v1h-1zM31 63h1v1h-1zM25 65h1v1h-1zM15 66h1v1h-1zM19 66h1v1h-1zM15 67h2v1h-2zM20 67h1v1h-1zM19 68h1v1h-1zM28 68h1v1h-1zM28 73h1v1h-1z"/><path fill="#2a293d" d="M27 5h1v1h-1zM30 5h2v1h-2zM22 6h1v1h-1zM31 6h1v1h-1zM24 7h1v1h-1zM18 9h1v1h-1zM26 9h1v1h-1zM22 10h1v1h-1zM27 10h1v1h-1zM12 12h1v1h-1zM17 12h1v1h-1zM22 12h2v1h-2zM25 12h1v1h-1zM19 14h1v1h-1zM23 15h1v1h-1zM17 16h1v1h-1zM30 16h1v1h-1zM32 16h1v1h-1zM22 17h2v1h-2zM28 17h1v1h-1zM24 18h1v1h-1zM13 19h1v1h-1zM15 20h2v1h-2zM19 20h1v1h-1zM26 20h1v1h-1zM32 20h1v1h-1zM15 21h1v1h-1zM22 21h1v1h-1zM29 21h1v1h-1zM7 22h1v1h-1zM15 22h1v1h-1zM21 22h1v1h-1zM29 22h2v1h-2zM7 23h1v1h-1zM13 24h1v1h-1zM28 24h1v1h-1zM7 25h1v1h-1zM16 25h1v1h-1zM19 25h1v1h-1zM22 25h1v1h-1zM25 25h1v1h-1zM29 25h1v1h-1zM31 25h1v1h-1zM23 26h1v1h-1zM15 27h2v1h-2zM17 29h1v1h-1zM27 29h1v1h-1zM29 29h1v1h-1zM19 30h1v1h-1zM10 31h1v1h-1zM5 32h1v1h-1zM24 32h2v1h-2zM7 33h1v1h-1zM18 33h1v1h-1zM24 33h1v1h-1zM16 34h1v1h-1zM11 35h1v1h-1zM29 35h1v1h-1zM7 36h1v1h-1zM11 36h1v1h-1zM14 36h1v1h-1zM18 36h1v1h-1zM29 36h1v1h-1zM7 37h1v1h-1zM15 37h1v1h-1zM30 37h2v1h-2zM20 38h1v1h-1zM31 38h1v1h-1zM6 39h1v1h-1zM28 39h1v1h-1zM24 40h2v1h-2zM32 41h1v1h-1zM25 42h1v1h-1zM25 43h1v1h-1zM30 43h1v1h-1zM10 44h1v1h-1zM31 44h1v1h-1zM16 45h1v1h-1zM23 45h1v1h-1zM7 47h1v1h-1zM9 47h1v1h-1zM27 47h1v1h-1zM11 48h1v1h-1zM32 48h1v1h-1zM5 49h1v1h-1zM15 49h1v1h-1zM19 49h1v1h-1zM6 50h1v1h-1zM10 50h1v1h-1zM17 50h1v1h-1zM19 50h1v1h-1zM11 51h1v1h-1zM20 52h1v1h-1zM7 53h1v1h-1zM16 53h1v1h-1zM13 54h1v1h-1zM28 54h1v1h-1zM13 55h1v1h-1zM14 58h1v1h-1zM18 59h1v1h-1zM18 61h1v1h-1zM30 64h2v1h-2zM18 65h1v1h-1zM29 66h1v1h-1zM17 67h1v1h-1zM18 69h1v1h-1zM25 69h1v1h-1zM24 70h1v1h-1z"/><path fill="#262534" d="M20 6h1v1h-1zM18 8h1v1h-1zM23 9h1v1h-1zM17 10h1v1h-1zM18 11h1v1h-1zM16 12h1v1h-1zM15 13h1v1h-1zM21 13h1v1h-1zM15 14h1v1h-1zM17 15h1v1h-1zM12 16h1v1h-1zM27 16h1v1h-1zM14 17h1v1h-1zM24 17h1v1h-1zM19 18h1v1h-1zM32 19h1v1h-1zM31 20h1v1h-1zM7 21h1v1h-1zM10 21h1v1h-1zM20 21h1v1h-1zM12 22h1v1h-1zM23 22h1v1h-1zM26 22h1v1h-1zM6 24h1v1h-1zM26 24h1v1h-1zM29 24h1v1h-1zM21 25h1v1h-1zM16 26h2v1h-2zM25 26h2v1h-2zM22 27h1v1h-1zM29 28h1v1h-1zM25 29h1v1h-1zM18 30h1v1h-1zM28 30h1v1h-1zM13 31h1v1h-1zM17 32h1v1h-1zM25 33h1v1h-1zM12 35h1v1h-1zM16 35h1v1h-1zM27 35h1v1h-1zM5 36h2v1h-2zM21 36h1v1h-1zM30 36h1v1h-1zM26 37h1v1h-1zM11 38h1v1h-1zM5 39h1v1h-1zM8 39h1v1h-1zM12 40h1v1h-1zM22 40h1v1h-1zM27 40h1v1h-1zM26 41h1v1h-1zM28 41h1v1h-1zM30 41h1v1h-1zM27 42h1v1h-1zM29 42h1v1h-1zM4 44h1v1h-1zM9 44h1v1h-1zM22 44h1v1h-1zM19 45h1v1h-1zM24 46h1v1h-1zM8 47h1v1h-1zM30 47h1v1h-1zM10 48h1v1h-1zM25 49h1v1h-1zM12 50h1v1h-1zM21 50h1v1h-1zM26 50h1v1h-1zM16 51h1v1h-1zM10 52h1v1h-1zM17 52h2v1h-2zM25 52h1v1h-1zM10 53h2v1h-2zM15 53h1v1h-1zM7 54h1v1h-1zM10 54h2v1h-2zM30 55h1v1h-1zM16 56h1v1h-1zM16 58h1v1h-1zM32 58h1v1h-1zM27 59h1v1h-1zM19 60h1v1h-1zM22 60h1v1h-1zM31 60h1v1h-1zM32 61h1v1h-1zM21 63h1v1h-1zM23 71h1v1h-1zM23 72h1v1h-1z"/><path fill="#24232e" d="M32 6h1v1h-1zM20 7h1v1h-1zM22 7h1v1h-1zM19 8h1v1h-1zM25 8h1v1h-1zM21 9h1v1h-1zM17 11h1v1h-1zM21 11h1v1h-1zM13 12h1v1h-1zM17 14h1v1h-1zM22 14h1v1h-1zM23 16h1v1h-1zM31 16h1v1h-1zM31 17h1v1h-1zM15 18h1v1h-1zM25 18h1v1h-1zM10 19h1v1h-1zM13 20h1v1h-1zM18 21h1v1h-1zM31 22h1v1h-1zM9 23h1v1h-1zM31 23h1v1h-1zM7 24h1v1h-1zM10 25h1v1h-1zM28 25h1v1h-1zM21 26h1v1h-1zM24 26h1v1h-1zM29 26h1v1h-1zM17 27h1v1h-1zM20 27h1v1h-1zM12 28h1v1h-1zM15 28h1v1h-1zM21 28h2v1h-2zM20 29h1v1h-1zM32 29h1v1h-1zM22 30h1v1h-1zM29 30h1v1h-1zM7 31h1v1h-1zM25 31h1v1h-1zM9 32h1v1h-1zM12 32h1v1h-1zM19 32h1v1h-1zM29 32h1v1h-1zM5 33h1v1h-1zM9 34h1v1h-1zM18 34h1v1h-1zM19 35h1v1h-1zM9 37h1v1h-1zM24 37h1v1h-1zM25 38h2v1h-2zM30 38h1v1h-1zM31 39h2v1h-2zM11 40h1v1h-1zM26 40h1v1h-1zM30 40h1v1h-1zM10 41h1v1h-1zM19 43h2v1h-2zM27 43h1v1h-1zM31 43h1v1h-1zM21 44h1v1h-1zM30 44h1v1h-1zM8 45h1v1h-1zM18 45h1v1h-1zM20 45h1v1h-1zM30 45h1v1h-1zM9 46h1v1h-1zM12 46h1v1h-1zM28 46h1v1h-1zM11 47h1v1h-1zM16 47h1v1h-1zM25 47h2v1h-2zM26 49h1v1h-1zM32 49h1v1h-1zM27 50h1v1h-1zM31 50h1v1h-1zM6 51h1v1h-1zM17 51h1v1h-1zM22 52h1v1h-1zM26 52h1v1h-1zM18 53h2v1h-2zM21 53h1v1h-1zM24 53h1v1h-1zM8 54h1v1h-1zM27 54h1v1h-1zM8 55h1v1h-1zM15 55h1v1h-1zM31 55h1v1h-1zM22 56h1v1h-1zM28 56h1v1h-1zM9 57h1v1h-1zM16 57h1v1h-1zM26 57h2v1h-2zM31 57h1v1h-1zM23 58h1v1h-1zM11 60h2v1h-2zM15 61h1v1h-1zM19 61h1v1h-1zM24 61h1v1h-1zM29 61h2v1h-2zM11 62h1v1h-1zM24 63h1v1h-1zM24 66h1v1h-1zM25 67h1v1h-1zM16 68h1v1h-1zM18 68h1v1h-1zM24 68h1v1h-1zM22 72h1v1h-1zM24 72h1v1h-1zM32 74h1v1h-1z"/><path fill="#222129" d="M27 6h1v1h-1zM31 11h1v1h-1zM31 12h1v1h-1zM19 16h1v1h-1zM11 18h1v1h-1zM26 18h1v1h-1zM11 20h1v1h-1zM11 22h1v1h-1zM22 23h1v1h-1zM30 23h1v1h-1zM32 26h1v1h-1zM23 27h1v1h-1zM11 28h1v1h-1zM13 28h1v1h-1zM19 29h1v1h-1zM28 29h1v1h-1zM25 30h1v1h-1zM6 31h1v1h-1zM11 31h1v1h-1zM19 31h1v1h-1zM23 31h1v1h-1zM7 32h1v1h-1zM11 33h1v1h-1zM19 34h1v1h-1zM6 35h1v1h-1zM12 36h1v1h-1zM8 38h1v1h-1zM21 38h1v1h-1zM19 39h1v1h-1zM25 39h1v1h-1zM7 40h1v1h-1zM23 40h1v1h-1zM29 40h1v1h-1zM19 41h1v1h-1zM31 41h1v1h-1zM10 43h1v1h-1zM24 43h1v1h-1zM20 44h1v1h-1zM27 44h1v1h-1zM26 45h1v1h-1zM18 47h1v1h-1zM7 48h1v1h-1zM24 48h1v1h-1zM27 48h1v1h-1zM8 49h1v1h-1zM11 49h1v1h-1zM31 49h1v1h-1zM15 51h1v1h-1zM27 51h1v1h-1zM19 54h1v1h-1zM29 56h1v1h-1zM19 58h1v1h-1zM16 60h1v1h-1zM18 60h1v1h-1zM14 61h1v1h-1zM31 61h1v1h-1zM17 62h1v1h-1zM18 63h1v1h-1zM20 63h1v1h-1zM29 63h1v1h-1zM17 65h1v1h-1zM27 67h1v1h-1zM17 68h1v1h-1zM20 68h1v1h-1zM24 71h1v1h-1z"/><path fill="#3d2228" d="M25 5h1v1h-1zM23 14h1v1h-1zM19 22h1v1h-1zM14 27h1v1h-1zM28 71h1v1h-1z"/><path fill="#43232a" d="M22 8h1v1h-1zM25 9h1v1h-1zM15 10h1v1h-1zM26 11h1v1h-1zM27 15h1v1h-1zM14 16h1v1h-1zM21 16h1v1h-1zM16 18h1v1h-1zM11 19h1v1h-1zM12 20h1v1h-1zM14 20h1v1h-1zM13 22h1v1h-1zM20 23h1v1h-1zM31 26h1v1h-1zM10 27h1v1h-1zM7 28h1v1h-1zM11 29h1v1h-1zM9 31h1v1h-1zM9 33h1v1h-1zM13 33h1v1h-1zM31 33h1v1h-1zM24 36h1v1h-1zM20 37h1v1h-1zM27 38h1v1h-1zM11 39h1v1h-1zM21 39h1v1h-1zM26 39h1v1h-1zM18 40h1v1h-1zM21 41h1v1h-1zM26 42h1v1h-1zM6 48h1v1h-1zM17 48h1v1h-1zM19 48h1v1h-1zM22 48h1v1h-1zM4 49h1v1h-1zM6 49h1v1h-1zM17 49h1v1h-1zM28 49h1v1h-1zM22 51h1v1h-1zM29 51h1v1h-1zM24 52h1v1h-1zM29 52h1v1h-1zM23 53h1v1h-1zM26 53h1v1h-1zM26 55h1v1h-1zM7 56h1v1h-1zM23 56h1v1h-1zM27 56h1v1h-1zM29 57h1v1h-1zM32 57h1v1h-1zM7 58h1v1h-1zM22 58h1v1h-1zM30 58h1v1h-1zM12 59h1v1h-1zM14 59h1v1h-1zM30 60h1v1h-1zM17 61h1v1h-1zM15 65h1v1h-1zM19 65h2v1h-2zM29 70h1v1h-1z"/><path fill="#4a252e" d="M23 6h1v1h-1zM25 6h1v1h-1zM26 8h1v1h-1zM32 8h1v1h-1zM27 9h1v1h-1zM24 10h1v1h-1zM30 11h1v1h-1zM20 12h1v1h-1zM24 12h1v1h-1zM25 13h1v1h-1zM11 14h1v1h-1zM26 14h1v1h-1zM16 15h1v1h-1zM20 15h1v1h-1zM26 16h1v1h-1zM27 17h1v1h-1zM21 18h1v1h-1zM25 19h1v1h-1zM32 21h1v1h-1zM22 22h1v1h-1zM21 23h1v1h-1zM23 23h2v1h-2zM27 23h1v1h-1zM14 24h1v1h-1zM27 24h1v1h-1zM9 25h1v1h-1zM12 25h1v1h-1zM14 25h1v1h-1zM24 25h1v1h-1zM9 26h1v1h-1zM18 26h1v1h-1zM9 27h1v1h-1zM26 28h2v1h-2zM32 28h1v1h-1zM32 31h1v1h-1zM21 32h2v1h-2zM10 33h1v1h-1zM22 33h1v1h-1zM28 33h2v1h-2zM10 34h1v1h-1zM22 34h1v1h-1zM29 34h1v1h-1zM14 35h2v1h-2zM28 35h1v1h-1zM32 35h1v1h-1zM8 36h2v1h-2zM20 36h1v1h-1zM31 36h1v1h-1zM16 37h1v1h-1zM9 38h1v1h-1zM29 38h1v1h-1zM32 38h1v1h-1zM17 39h1v1h-1zM22 39h1v1h-1zM16 40h1v1h-1zM21 40h1v1h-1zM24 42h1v1h-1zM15 43h1v1h-1zM16 44h1v1h-1zM6 45h1v1h-1zM31 45h2v1h-2zM16 46h1v1h-1zM5 47h1v1h-1zM13 47h1v1h-1zM19 47h1v1h-1zM21 47h1v1h-1zM24 47h1v1h-1zM16 48h1v1h-1zM25 48h2v1h-2zM30 48h1v1h-1zM16 49h1v1h-1zM29 49h1v1h-1zM7 50h2v1h-2zM11 50h1v1h-1zM26 51h1v1h-1zM9 52h1v1h-1zM19 52h1v1h-1zM21 52h1v1h-1zM9 53h1v1h-1zM30 53h1v1h-1zM9 54h1v1h-1zM22 54h1v1h-1zM17 55h1v1h-1zM28 55h1v1h-1zM11 56h1v1h-1zM13 56h1v1h-1zM19 56h1v1h-1zM24 56h1v1h-1zM26 56h1v1h-1zM11 57h1v1h-1zM21 57h1v1h-1zM12 58h1v1h-1zM18 58h1v1h-1zM27 58h1v1h-1zM28 59h1v1h-1zM30 59h1v1h-1zM13 60h1v1h-1zM20 60h1v1h-1zM16 61h1v1h-1zM32 62h1v1h-1zM19 63h1v1h-1zM23 63h1v1h-1zM32 63h1v1h-1zM17 64h2v1h-2zM28 66h1v1h-1zM19 67h1v1h-1zM27 68h1v1h-1zM30 69h1v1h-1zM20 70h1v1h-1zM31 71h1v1h-1zM29 72h1v1h-1zM32 72h1v1h-1z"/></g><use href="#h50" x="35"/></g><rect x="2210" y="221" width="57" height="75.8" fill="none" stroke="#ffff00" stroke-width="4.3"/><rect x="2322" y="103.9" width="15.8" height="309.4" fill="url(#g5)"/><rect x="2337.8" y="103.10" width="13.2" height="2.8" fill="#262626"/><text x="2357.2" y="0" font-size="22" transform="translate(0,112.25) scale(1,1.045)">10%</text><rect x="2337.8" y="154.67" width="13.2" height="2.8" fill="#262626"/><text x="2357.2" y="0" font-size="22" transform="translate(0,163.82) scale(1,1.045)">0%</text><rect x="2337.8" y="206.23" width="13.2" height="2.8" fill="#262626"/><text x="2357.2" y="0" font-size="22" transform="translate(0,215.38) scale(1,1.045)">-10%</text><rect x="2337.8" y="257.80" width="13.2" height="2.8" fill="#262626"/><text x="2357.2" y="0" font-size="22" transform="translate(0,266.95) scale(1,1.045)">-20%</text><rect x="2337.8" y="309.37" width="13.2" height="2.8" fill="#262626"/><text x="2357.2" y="0" font-size="22" transform="translate(0,318.52) scale(1,1.045)">-30%</text><rect x="2337.8" y="360.93" width="13.2" height="2.8" fill="#262626"/><text x="2357.2" y="0" font-size="22" transform="translate(0,370.08) scale(1,1.045)">-40%</text><rect x="2337.8" y="412.50" width="13.2" height="2.8" fill="#262626"/><text x="2357.2" y="0" font-size="22" transform="translate(0,421.65) scale(1,1.045)">-50%</text><rect x="2039.5" y="454.5" width="265" height="303.7" fill="#1f1e1e" stroke="#0e0e0e" stroke-width="1"/><g transform="translate(2039,454) scale(3.80000,3.80875)" shape-rendering="crispEdges"><g id="h51"><path fill="#bde7db" d="M31 3h2v1h-2zM22 4h3v1h-3zM26 4h6v1h-6zM19 5h4v1h-4zM27 5h1v1h-1zM17 6h3v1h-3zM16 7h3v1h-3zM14 8h3v1h-3zM23 8h1v1h-1zM13 9h2v1h-2zM28 9h1v1h-1zM12 10h2v1h-2zM11 11h2v1h-2zM30 11h1v1h-1zM11 12h1v1h-1zM10 13h2v1h-2zM9 14h2v1h-2zM12 15h1v1h-1zM19 15h1v1h-1zM8 16h2v1h-2zM7 18h2v1h-2zM10 18h1v1h-1zM7 19h1v1h-1zM6 20h2v1h-2zM6 21h1v1h-1zM5 22h2v1h-2zM14 22h1v1h-1zM5 23h3v1h-3zM17 23h1v1h-1zM5 24h1v1h-1zM5 25h1v1h-1zM5 26h1v1h-1zM4 27h2v1h-2zM4 28h1v1h-1zM4 29h1v1h-1zM4 30h1v1h-1zM4 31h2v1h-2zM8 31h1v1h-1zM4 32h1v1h-1zM6 32h1v1h-1zM4 33h1v1h-1zM4 34h1v1h-1zM17 34h1v1h-1zM19 34h1v1h-1zM4 35h1v1h-1zM4 36h1v1h-1zM19 36h1v1h-1zM4 37h1v1h-1zM13 37h1v1h-1zM18 37h1v1h-1zM4 38h1v1h-1zM8 38h1v1h-1zM4 39h1v1h-1zM17 39h1v1h-1zM3 40h2v1h-2zM10 40h1v1h-1zM3 41h1v1h-1zM3 42h1v1h-1zM9 42h1v1h-1zM19 42h1v1h-1zM3 43h3v1h-3zM14 44h1v1h-1zM17 44h1v1h-1zM3 45h1v1h-1zM15 45h1v1h-1zM3 46h1v1h-1zM9 46h1v1h-1zM17 46h1v1h-1zM3 47h1v1h-1zM3 48h2v1h-2zM11 48h1v1h-1zM3 49h1v1h-1zM3 50h2v1h-2zM32 50h1v1h-1zM4 51h2v1h-2zM30 51h1v1h-1zM4 52h1v1h-1zM4 53h1v1h-1zM4 54h2v1h-2zM5 55h1v1h-1zM18 55h1v1h-1zM5 56h1v1h-1zM12 56h1v1h-1zM5 57h1v1h-1zM5 58h2v1h-2zM8 58h1v1h-1zM10 58h1v1h-1zM6 59h2v1h-2zM7 60h1v1h-1zM31 60h1v1h-1zM7 61h2v1h-2zM8 62h2v1h-2zM9 63h2v1h-2zM27 63h1v1h-1zM10 64h3v1h-3zM20 64h1v1h-1zM11 65h3v1h-3zM12 66h2v1h-2zM13 67h2v1h-2zM21 67h1v1h-1zM26 67h1v1h-1zM14 68h2v1h-2zM32 68h1v1h-1zM15 69h2v1h-2zM20 69h1v1h-1zM16 70h2v1h-2zM27 70h2v1h-2zM17 71h2v1h-2zM25 71h1v1h-1zM27 71h1v1h-1zM18 72h3v1h-3zM20 73h3v1h-3zM22 74h5v1h-5zM25 75h8v1h-8z"/><path fill="#b4e1d9" d="M25 5h1v1h-1zM29 5h1v1h-1zM22 6h1v1h-1zM17 8h1v1h-1zM19 8h1v1h-1zM29 8h1v1h-1zM30 9h1v1h-1zM15 10h1v1h-1zM13 11h2v1h-2zM20 13h1v1h-1zM22 13h1v1h-1zM27 13h1v1h-1zM29 13h1v1h-1zM11 14h1v1h-1zM14 14h1v1h-1zM28 14h1v1h-1zM11 15h1v1h-1zM16 16h1v1h-1zM9 17h1v1h-1zM8 22h1v1h-1zM9 25h1v1h-1zM6 29h1v1h-1zM8 29h2v1h-2zM15 32h1v1h-1zM14 35h1v1h-1zM5 36h1v1h-1zM26 36h1v1h-1zM11 38h1v1h-1zM13 38h1v1h-1zM11 39h2v1h-2zM18 40h1v1h-1zM13 41h1v1h-1zM7 42h1v1h-1zM13 42h1v1h-1zM21 42h1v1h-1zM13 43h1v1h-1zM6 44h2v1h-2zM7 45h1v1h-1zM4 46h1v1h-1zM18 46h1v1h-1zM17 47h1v1h-1zM21 47h1v1h-1zM6 48h1v1h-1zM14 48h1v1h-1zM18 48h1v1h-1zM14 49h1v1h-1zM5 53h1v1h-1zM31 53h1v1h-1zM25 55h1v1h-1zM21 56h1v1h-1zM6 57h1v1h-1zM20 57h1v1h-1zM30 57h1v1h-1zM9 59h1v1h-1zM11 61h1v1h-1zM10 62h1v1h-1zM11 63h1v1h-1zM26 64h1v1h-1zM18 65h1v1h-1zM29 66h1v1h-1zM22 67h1v1h-1zM30 67h1v1h-1zM31 68h1v1h-1zM18 69h1v1h-1zM30 69h1v1h-1zM18 70h1v1h-1zM25 70h1v1h-1zM29 70h1v1h-1zM32 70h1v1h-1zM19 71h1v1h-1zM28 71h1v1h-1zM22 72h1v1h-1zM27 72h1v1h-1zM24 73h1v1h-1zM32 74h1v1h-1z"/><path fill="#acdbd7" d="M24 5h1v1h-1zM26 5h1v1h-1zM24 6h1v1h-1zM30 6h1v1h-1zM19 7h1v1h-1zM27 9h1v1h-1zM29 9h1v1h-1zM18 11h2v1h-2zM28 11h1v1h-1zM31 11h1v1h-1zM19 12h1v1h-1zM19 13h1v1h-1zM18 14h1v1h-1zM21 15h1v1h-1zM27 15h1v1h-1zM27 16h1v1h-1zM10 17h1v1h-1zM19 17h1v1h-1zM23 20h1v1h-1zM18 24h1v1h-1zM6 25h1v1h-1zM18 25h1v1h-1zM9 26h1v1h-1zM5 32h1v1h-1zM16 32h1v1h-1zM13 33h1v1h-1zM21 33h1v1h-1zM12 36h1v1h-1zM5 37h1v1h-1zM10 37h1v1h-1zM23 37h1v1h-1zM5 38h1v1h-1zM9 38h1v1h-1zM13 39h1v1h-1zM14 40h1v1h-1zM18 41h1v1h-1zM5 42h1v1h-1zM17 42h1v1h-1zM9 43h1v1h-1zM4 44h1v1h-1zM8 44h1v1h-1zM10 44h1v1h-1zM4 47h1v1h-1zM6 47h1v1h-1zM29 47h1v1h-1zM21 48h2v1h-2zM11 49h1v1h-1zM6 52h1v1h-1zM32 52h1v1h-1zM18 54h1v1h-1zM25 54h1v1h-1zM31 54h1v1h-1zM7 58h1v1h-1zM8 59h1v1h-1zM16 60h1v1h-1zM25 63h1v1h-1zM28 63h1v1h-1zM20 65h1v1h-1zM28 65h1v1h-1zM32 65h1v1h-1zM23 66h1v1h-1zM31 66h1v1h-1zM27 67h1v1h-1zM16 68h1v1h-1zM27 68h1v1h-1zM17 69h1v1h-1zM20 70h1v1h-1zM32 71h1v1h-1zM32 72h1v1h-1zM30 73h2v1h-2zM31 74h1v1h-1z"/><path fill="#a4d5d5" d="M32 4h1v1h-1zM31 6h1v1h-1zM20 11h1v1h-1zM31 14h1v1h-1zM14 15h1v1h-1zM20 15h1v1h-1zM15 17h1v1h-1zM20 19h2v1h-2zM27 19h1v1h-1zM16 23h1v1h-1zM7 26h1v1h-1zM19 26h1v1h-1zM6 27h1v1h-1zM9 27h1v1h-1zM14 29h1v1h-1zM31 31h1v1h-1zM17 32h1v1h-1zM16 33h1v1h-1zM5 35h1v1h-1zM13 36h2v1h-2zM12 37h1v1h-1zM24 37h1v1h-1zM5 39h1v1h-1zM14 39h2v1h-2zM5 40h1v1h-1zM9 40h1v1h-1zM11 40h1v1h-1zM4 41h2v1h-2zM8 41h1v1h-1zM14 41h1v1h-1zM10 42h1v1h-1zM14 42h1v1h-1zM16 42h1v1h-1zM20 42h1v1h-1zM8 43h1v1h-1zM18 43h1v1h-1zM11 44h1v1h-1zM18 44h1v1h-1zM4 45h1v1h-1zM6 45h1v1h-1zM11 45h1v1h-1zM8 46h1v1h-1zM15 46h1v1h-1zM11 47h1v1h-1zM15 47h1v1h-1zM5 48h1v1h-1zM15 48h1v1h-1zM5 52h1v1h-1zM20 55h1v1h-1zM19 56h1v1h-1zM12 62h3v1h-3zM14 63h1v1h-1zM23 64h1v1h-1zM22 65h1v1h-1zM14 66h1v1h-1zM26 66h1v1h-1zM32 66h1v1h-1zM31 67h2v1h-2zM17 68h1v1h-1zM26 68h1v1h-1zM30 68h1v1h-1zM31 69h1v1h-1zM19 70h1v1h-1zM26 70h1v1h-1zM21 71h2v1h-2zM26 71h1v1h-1zM29 71h1v1h-1zM31 71h1v1h-1zM24 72h1v1h-1zM27 74h1v1h-1z"/><path fill="#98cdd2" d="M23 5h1v1h-1zM31 5h1v1h-1zM25 8h1v1h-1zM30 8h1v1h-1zM15 9h1v1h-1zM12 12h1v1h-1zM12 13h2v1h-2zM23 13h1v1h-1zM12 14h1v1h-1zM26 14h2v1h-2zM28 15h2v1h-2zM10 16h1v1h-1zM12 18h1v1h-1zM22 19h1v1h-1zM7 21h1v1h-1zM15 23h1v1h-1zM5 34h1v1h-1zM9 35h1v1h-1zM26 35h1v1h-1zM17 36h2v1h-2zM7 40h1v1h-1zM4 42h1v1h-1zM12 42h1v1h-1zM11 43h1v1h-1zM9 45h1v1h-1zM13 45h1v1h-1zM13 46h2v1h-2zM29 46h1v1h-1zM18 47h1v1h-1zM22 47h1v1h-1zM31 51h1v1h-1zM30 52h1v1h-1zM6 53h1v1h-1zM8 53h1v1h-1zM6 54h1v1h-1zM21 55h1v1h-1zM11 56h1v1h-1zM15 59h1v1h-1zM9 60h1v1h-1zM12 60h1v1h-1zM10 61h1v1h-1zM29 61h1v1h-1zM11 62h1v1h-1zM14 64h2v1h-2zM19 64h1v1h-1zM21 64h1v1h-1zM27 64h1v1h-1zM19 65h1v1h-1zM27 65h1v1h-1zM21 66h2v1h-2zM27 66h1v1h-1zM30 66h1v1h-1zM28 68h1v1h-1zM32 69h1v1h-1zM30 70h1v1h-1zM29 72h2v1h-2zM28 73h2v1h-2zM32 73h1v1h-1z"/><path fill="#90c8d1" d="M28 5h1v1h-1zM30 5h1v1h-1zM20 6h1v1h-1zM27 6h1v1h-1zM22 7h1v1h-1zM29 7h2v1h-2zM14 10h1v1h-1zM28 10h2v1h-2zM28 13h1v1h-1zM14 16h1v1h-1zM20 16h1v1h-1zM16 17h1v1h-1zM26 18h1v1h-1zM19 19h1v1h-1zM26 19h1v1h-1zM15 20h1v1h-1zM20 20h2v1h-2zM17 24h1v1h-1zM10 25h1v1h-1zM10 27h1v1h-1zM8 28h2v1h-2zM5 30h1v1h-1zM15 31h1v1h-1zM14 32h1v1h-1zM14 33h1v1h-1zM15 34h1v1h-1zM31 34h1v1h-1zM6 35h1v1h-1zM13 35h1v1h-1zM16 35h1v1h-1zM19 35h1v1h-1zM24 35h1v1h-1zM12 38h1v1h-1zM19 38h1v1h-1zM10 39h1v1h-1zM15 40h1v1h-1zM11 41h1v1h-1zM21 41h1v1h-1zM6 42h1v1h-1zM15 42h1v1h-1zM10 43h1v1h-1zM12 43h1v1h-1zM15 43h2v1h-2zM12 44h1v1h-1zM4 49h1v1h-1zM29 52h1v1h-1zM10 53h1v1h-1zM30 54h1v1h-1zM19 55h1v1h-1zM17 56h1v1h-1zM9 58h1v1h-1zM29 58h1v1h-1zM10 59h1v1h-1zM12 61h1v1h-1zM25 62h1v1h-1zM28 62h1v1h-1zM20 63h1v1h-1zM13 64h1v1h-1zM20 66h1v1h-1zM24 66h1v1h-1zM25 67h1v1h-1zM28 67h1v1h-1zM19 69h1v1h-1zM28 69h2v1h-2zM30 71h1v1h-1zM31 72h1v1h-1zM25 73h1v1h-1zM30 74h1v1h-1z"/><path fill="#87c2cf" d="M23 6h1v1h-1zM23 7h1v1h-1zM30 15h1v1h-1zM11 16h1v1h-1zM13 26h1v1h-1zM13 28h1v1h-1zM7 30h1v1h-1zM9 30h1v1h-1zM14 31h1v1h-1zM16 31h1v1h-1zM30 31h1v1h-1zM30 32h1v1h-1zM14 34h1v1h-1zM8 35h1v1h-1zM20 35h1v1h-1zM19 37h1v1h-1zM10 38h1v1h-1zM14 38h1v1h-1zM18 38h1v1h-1zM13 40h1v1h-1zM7 41h1v1h-1zM10 41h1v1h-1zM15 41h1v1h-1zM6 43h2v1h-2zM14 43h1v1h-1zM17 43h1v1h-1zM20 43h1v1h-1zM16 44h1v1h-1zM8 45h1v1h-1zM18 45h1v1h-1zM11 46h1v1h-1zM5 47h1v1h-1zM7 47h1v1h-1zM13 47h2v1h-2zM12 48h1v1h-1zM13 49h1v1h-1zM21 49h1v1h-1zM5 50h1v1h-1zM30 53h1v1h-1zM17 57h1v1h-1zM24 59h1v1h-1zM8 60h1v1h-1zM13 61h1v1h-1zM13 63h1v1h-1zM18 63h1v1h-1zM26 63h1v1h-1zM14 65h1v1h-1zM21 65h1v1h-1zM28 66h1v1h-1zM24 67h1v1h-1zM29 68h1v1h-1zM31 70h1v1h-1zM20 71h1v1h-1zM23 73h1v1h-1z"/><path fill="#4e9ecd" d="M22 12h1v1h-1zM15 15h1v1h-1zM26 16h1v1h-1zM28 19h1v1h-1zM32 19h1v1h-1zM28 20h1v1h-1zM14 21h1v1h-1zM11 23h1v1h-1zM29 24h1v1h-1zM11 25h1v1h-1zM20 25h1v1h-1zM17 26h1v1h-1zM31 27h1v1h-1zM6 28h1v1h-1zM18 28h1v1h-1zM15 29h1v1h-1zM17 29h1v1h-1zM32 33h1v1h-1zM21 35h1v1h-1zM6 36h1v1h-1zM9 44h1v1h-1zM19 44h1v1h-1zM29 49h1v1h-1zM18 50h1v1h-1zM7 53h1v1h-1zM24 53h1v1h-1zM24 54h1v1h-1zM31 55h1v1h-1zM9 57h1v1h-1zM32 59h1v1h-1zM10 60h1v1h-1zM21 60h1v1h-1zM26 61h1v1h-1zM15 63h1v1h-1zM17 67h1v1h-1zM22 68h1v1h-1z"/><path fill="#4798ce" d="M24 13h1v1h-1zM24 15h1v1h-1zM8 19h1v1h-1zM9 20h1v1h-1zM22 20h1v1h-1zM25 21h1v1h-1zM17 22h1v1h-1zM8 26h1v1h-1zM15 26h1v1h-1zM32 28h1v1h-1zM5 29h1v1h-1zM12 29h1v1h-1zM30 29h1v1h-1zM23 30h1v1h-1zM10 31h1v1h-1zM13 31h1v1h-1zM18 31h1v1h-1zM32 31h1v1h-1zM11 34h2v1h-2zM16 34h1v1h-1zM23 34h1v1h-1zM25 34h1v1h-1zM12 35h1v1h-1zM25 35h1v1h-1zM8 36h1v1h-1zM20 36h2v1h-2zM19 39h2v1h-2zM25 39h1v1h-1zM28 40h1v1h-1zM16 41h1v1h-1zM20 46h1v1h-1zM10 47h1v1h-1zM20 48h1v1h-1zM13 50h1v1h-1zM11 52h1v1h-1zM27 52h1v1h-1zM26 53h1v1h-1zM21 54h1v1h-1zM29 55h1v1h-1zM15 58h1v1h-1zM19 58h1v1h-1zM24 58h1v1h-1zM32 58h1v1h-1zM19 60h1v1h-1zM24 61h1v1h-1zM27 61h1v1h-1zM15 65h1v1h-1zM23 70h1v1h-1z"/><path fill="#4192ce" d="M21 7h1v1h-1zM26 7h1v1h-1zM24 9h1v1h-1zM17 10h1v1h-1zM15 11h1v1h-1zM29 12h1v1h-1zM18 13h1v1h-1zM32 14h1v1h-1zM13 15h1v1h-1zM18 17h1v1h-1zM9 18h1v1h-1zM31 18h1v1h-1zM8 21h1v1h-1zM22 21h1v1h-1zM15 22h2v1h-2zM30 27h1v1h-1zM10 30h1v1h-1zM26 30h1v1h-1zM6 31h1v1h-1zM28 32h1v1h-1zM5 33h1v1h-1zM22 33h1v1h-1zM30 33h1v1h-1zM8 34h1v1h-1zM32 34h1v1h-1zM7 35h1v1h-1zM6 38h2v1h-2zM18 39h1v1h-1zM31 42h1v1h-1zM23 45h1v1h-1zM10 48h1v1h-1zM6 49h1v1h-1zM17 49h2v1h-2zM20 50h1v1h-1zM14 51h1v1h-1zM22 51h1v1h-1zM32 53h1v1h-1zM16 56h1v1h-1zM25 56h1v1h-1zM12 58h1v1h-1zM21 58h1v1h-1zM31 58h1v1h-1zM21 61h1v1h-1zM15 62h1v1h-1zM24 63h1v1h-1zM16 64h1v1h-1zM32 64h1v1h-1zM20 68h1v1h-1zM23 68h1v1h-1zM23 69h1v1h-1z"/><path fill="#3a89cf" d="M25 7h1v1h-1zM24 8h1v1h-1zM27 8h1v1h-1zM27 10h1v1h-1zM27 11h1v1h-1zM20 12h1v1h-1zM20 14h1v1h-1zM25 15h1v1h-1zM32 15h1v1h-1zM30 16h1v1h-1zM27 17h1v1h-1zM31 17h1v1h-1zM29 18h1v1h-1zM26 20h1v1h-1zM30 20h1v1h-1zM13 21h1v1h-1zM16 21h1v1h-1zM12 26h1v1h-1zM18 26h1v1h-1zM7 28h1v1h-1zM14 30h1v1h-1zM22 30h1v1h-1zM28 30h1v1h-1zM27 31h1v1h-1zM29 32h1v1h-1zM29 33h1v1h-1zM31 35h1v1h-1zM24 36h1v1h-1zM8 37h1v1h-1zM14 37h1v1h-1zM23 38h1v1h-1zM23 44h1v1h-1zM22 46h1v1h-1zM19 47h1v1h-1zM22 49h1v1h-1zM21 50h2v1h-2zM30 50h1v1h-1zM6 51h1v1h-1zM22 52h1v1h-1zM25 53h1v1h-1zM22 54h1v1h-1zM20 56h1v1h-1zM11 57h1v1h-1zM17 59h1v1h-1zM27 60h1v1h-1zM32 60h1v1h-1zM16 62h1v1h-1zM29 62h1v1h-1zM31 62h1v1h-1zM28 64h1v1h-1zM21 68h1v1h-1z"/><path fill="#3783d0" d="M28 7h1v1h-1zM19 9h1v1h-1zM14 12h1v1h-1zM28 12h1v1h-1zM21 14h2v1h-2zM18 16h1v1h-1zM29 16h1v1h-1zM17 18h1v1h-1zM10 19h1v1h-1zM12 19h1v1h-1zM7 22h1v1h-1zM32 23h1v1h-1zM7 24h1v1h-1zM17 27h1v1h-1zM19 27h1v1h-1zM23 29h1v1h-1zM30 30h1v1h-1zM29 31h1v1h-1zM28 36h1v1h-1zM24 38h1v1h-1zM6 39h1v1h-1zM25 40h1v1h-1zM19 41h1v1h-1zM24 41h1v1h-1zM7 48h1v1h-1zM16 48h1v1h-1zM5 49h1v1h-1zM28 49h1v1h-1zM24 50h1v1h-1zM7 51h1v1h-1zM12 52h1v1h-1zM24 55h1v1h-1zM12 57h1v1h-1zM17 58h2v1h-2zM26 60h1v1h-1zM25 64h1v1h-1zM17 65h1v1h-1zM23 65h1v1h-1zM29 65h3v1h-3zM29 67h1v1h-1zM26 69h1v1h-1z"/><path fill="#377cd0" d="M24 10h1v1h-1zM26 13h1v1h-1zM32 13h1v1h-1zM17 14h1v1h-1zM23 15h1v1h-1zM13 16h1v1h-1zM17 16h1v1h-1zM21 17h1v1h-1zM30 17h1v1h-1zM21 18h1v1h-1zM24 19h1v1h-1zM24 20h1v1h-1zM8 24h1v1h-1zM16 24h1v1h-1zM6 26h1v1h-1zM13 27h1v1h-1zM18 27h1v1h-1zM7 29h1v1h-1zM16 29h1v1h-1zM11 30h1v1h-1zM15 30h1v1h-1zM31 30h2v1h-2zM17 31h1v1h-1zM28 31h1v1h-1zM12 32h1v1h-1zM9 36h1v1h-1zM32 36h1v1h-1zM20 40h1v1h-1zM16 45h1v1h-1zM12 46h1v1h-1zM17 48h1v1h-1zM17 50h1v1h-1zM23 50h1v1h-1zM8 51h1v1h-1zM12 51h1v1h-1zM32 51h1v1h-1zM24 52h1v1h-1zM23 54h1v1h-1zM12 55h1v1h-1zM29 56h1v1h-1zM26 58h1v1h-1zM25 59h1v1h-1zM30 59h1v1h-1zM30 60h1v1h-1zM16 67h1v1h-1zM25 72h1v1h-1z"/><path fill="#3975cf" d="M32 5h1v1h-1zM29 6h1v1h-1zM18 8h1v1h-1zM31 8h1v1h-1zM32 12h1v1h-1zM17 13h1v1h-1zM16 15h1v1h-1zM28 16h1v1h-1zM11 18h1v1h-1zM16 18h1v1h-1zM23 18h1v1h-1zM16 20h1v1h-1zM15 24h1v1h-1zM12 25h1v1h-1zM17 25h1v1h-1zM19 25h1v1h-1zM10 26h1v1h-1zM8 27h1v1h-1zM15 27h1v1h-1zM14 28h1v1h-1zM25 28h1v1h-1zM12 30h1v1h-1zM27 30h1v1h-1zM21 32h1v1h-1zM7 34h1v1h-1zM27 35h1v1h-1zM11 37h1v1h-1zM20 37h1v1h-1zM20 41h1v1h-1zM31 41h1v1h-1zM21 43h1v1h-1zM31 43h1v1h-1zM13 44h1v1h-1zM22 44h1v1h-1zM13 52h1v1h-1zM21 52h1v1h-1zM12 53h1v1h-1zM15 53h1v1h-1zM24 57h1v1h-1zM20 62h1v1h-1zM23 62h1v1h-1zM25 68h1v1h-1zM21 70h1v1h-1zM24 70h1v1h-1z"/><path fill="#3e6ccb" d="M20 9h1v1h-1zM19 10h1v1h-1zM26 10h1v1h-1zM18 12h1v1h-1zM15 13h1v1h-1zM23 17h1v1h-1zM26 17h1v1h-1zM20 18h1v1h-1zM27 18h1v1h-1zM25 19h1v1h-1zM31 19h1v1h-1zM24 21h1v1h-1zM21 24h1v1h-1zM14 26h1v1h-1zM7 27h1v1h-1zM12 27h1v1h-1zM24 29h1v1h-1zM31 29h1v1h-1zM11 31h1v1h-1zM18 35h1v1h-1zM11 36h1v1h-1zM30 36h1v1h-1zM25 41h1v1h-1zM25 44h1v1h-1zM24 45h1v1h-1zM19 46h1v1h-1zM28 47h1v1h-1zM30 47h1v1h-1zM7 49h1v1h-1zM29 51h1v1h-1zM14 54h1v1h-1zM18 56h1v1h-1zM31 56h2v1h-2zM29 57h1v1h-1zM11 58h1v1h-1zM28 58h1v1h-1zM14 59h1v1h-1zM24 60h2v1h-2zM21 62h1v1h-1zM24 62h1v1h-1zM32 62h1v1h-1zM23 67h1v1h-1zM24 68h1v1h-1zM25 69h1v1h-1zM23 72h1v1h-1zM29 74h1v1h-1z"/><path fill="#4265c5" d="M26 6h1v1h-1zM16 9h1v1h-1zM14 17h1v1h-1zM18 18h2v1h-2zM30 18h1v1h-1zM16 19h1v1h-1zM29 19h1v1h-1zM13 20h1v1h-1zM14 24h1v1h-1zM20 26h1v1h-1zM14 27h1v1h-1zM16 27h1v1h-1zM26 29h1v1h-1zM9 31h1v1h-1zM6 34h1v1h-1zM11 35h1v1h-1zM22 35h1v1h-1zM28 35h1v1h-1zM15 36h1v1h-1zM6 37h1v1h-1zM27 37h1v1h-1zM20 38h1v1h-1zM32 43h1v1h-1zM17 45h1v1h-1zM24 46h1v1h-1zM8 48h1v1h-1zM28 50h1v1h-1zM21 51h1v1h-1zM9 52h1v1h-1zM23 52h1v1h-1zM7 55h1v1h-1zM32 55h1v1h-1zM8 57h1v1h-1zM27 57h1v1h-1zM23 58h1v1h-1zM26 59h3v1h-3zM20 60h1v1h-1zM25 61h1v1h-1zM30 61h1v1h-1zM32 61h1v1h-1zM19 63h1v1h-1zM17 64h1v1h-1zM31 64h1v1h-1zM25 65h1v1h-1zM18 66h1v1h-1zM20 67h1v1h-1zM18 68h1v1h-1zM22 69h1v1h-1zM26 72h1v1h-1z"/><path fill="#465ebe" d="M27 7h1v1h-1zM26 8h1v1h-1zM21 9h1v1h-1zM16 11h2v1h-2zM25 14h1v1h-1zM31 15h1v1h-1zM11 17h3v1h-3zM13 18h1v1h-1zM28 18h1v1h-1zM23 19h1v1h-1zM10 20h1v1h-1zM18 22h1v1h-1zM13 24h1v1h-1zM24 28h1v1h-1zM30 28h1v1h-1zM10 29h1v1h-1zM16 30h1v1h-1zM15 33h1v1h-1zM27 33h1v1h-1zM21 34h1v1h-1zM23 35h1v1h-1zM27 36h1v1h-1zM7 37h1v1h-1zM17 37h1v1h-1zM17 38h1v1h-1zM22 40h1v1h-1zM19 45h1v1h-1zM25 45h1v1h-1zM7 46h1v1h-1zM8 47h1v1h-1zM20 47h1v1h-1zM19 48h1v1h-1zM12 50h1v1h-1zM10 51h1v1h-1zM15 51h1v1h-1zM20 52h1v1h-1zM26 52h1v1h-1zM17 53h1v1h-1zM20 53h1v1h-1zM29 53h1v1h-1zM10 55h1v1h-1zM18 57h1v1h-1zM28 57h1v1h-1zM20 59h1v1h-1zM15 61h1v1h-1zM28 61h1v1h-1zM32 63h1v1h-1zM18 64h1v1h-1zM22 70h1v1h-1zM24 71h1v1h-1z"/><path fill="#4858b6" d="M22 8h1v1h-1zM17 9h1v1h-1zM31 9h1v1h-1zM25 10h1v1h-1zM30 10h1v1h-1zM26 11h1v1h-1zM29 11h1v1h-1zM24 12h1v1h-1zM27 12h1v1h-1zM31 12h1v1h-1zM21 13h1v1h-1zM31 13h1v1h-1zM21 16h1v1h-1zM24 18h1v1h-1zM17 19h1v1h-1zM20 22h1v1h-1zM19 23h1v1h-1zM12 24h1v1h-1zM23 24h1v1h-1zM30 24h1v1h-1zM11 28h1v1h-1zM16 28h1v1h-1zM12 31h1v1h-1zM17 33h1v1h-1zM24 34h1v1h-1zM15 35h1v1h-1zM17 35h1v1h-1zM9 37h1v1h-1zM15 37h1v1h-1zM24 39h1v1h-1zM8 40h1v1h-1zM21 40h1v1h-1zM30 42h1v1h-1zM10 45h1v1h-1zM12 47h1v1h-1zM26 47h1v1h-1zM13 48h1v1h-1zM29 48h1v1h-1zM14 50h1v1h-1zM16 51h1v1h-1zM14 53h1v1h-1zM15 54h1v1h-1zM19 54h1v1h-1zM8 55h1v1h-1zM7 56h1v1h-1zM7 57h1v1h-1zM21 57h1v1h-1zM27 58h1v1h-1zM16 59h1v1h-1zM23 59h1v1h-1zM29 59h1v1h-1zM31 59h1v1h-1zM11 60h1v1h-1zM15 60h1v1h-1zM9 61h1v1h-1zM22 64h1v1h-1zM24 64h1v1h-1zM18 67h1v1h-1zM19 68h1v1h-1z"/><path fill="#4a50a9" d="M32 9h1v1h-1zM30 13h1v1h-1zM19 14h1v1h-1zM30 14h1v1h-1zM19 16h1v1h-1zM23 16h1v1h-1zM17 17h1v1h-1zM28 17h1v1h-1zM32 18h1v1h-1zM15 21h1v1h-1zM25 22h1v1h-1zM13 23h1v1h-1zM10 24h1v1h-1zM16 25h1v1h-1zM24 27h1v1h-1zM17 28h1v1h-1zM7 32h1v1h-1zM31 33h1v1h-1zM32 35h1v1h-1zM16 36h1v1h-1zM7 39h1v1h-1zM17 40h1v1h-1zM29 44h1v1h-1zM23 48h1v1h-1zM15 50h1v1h-1zM18 53h1v1h-1zM7 54h1v1h-1zM13 54h1v1h-1zM26 54h1v1h-1zM32 54h1v1h-1zM22 55h1v1h-1zM10 57h1v1h-1zM16 58h1v1h-1zM19 62h1v1h-1zM17 63h1v1h-1zM21 63h1v1h-1zM16 66h1v1h-1z"/><path fill="#494c9e" d="M25 4h1v1h-1zM16 14h1v1h-1zM9 15h1v1h-1zM26 15h1v1h-1zM12 16h1v1h-1zM8 17h1v1h-1zM20 17h1v1h-1zM30 19h1v1h-1zM8 20h1v1h-1zM29 20h1v1h-1zM13 22h1v1h-1zM9 23h1v1h-1zM12 23h1v1h-1zM21 23h1v1h-1zM6 24h1v1h-1zM9 24h1v1h-1zM11 26h1v1h-1zM11 27h1v1h-1zM10 28h1v1h-1zM17 30h1v1h-1zM26 31h1v1h-1zM20 32h1v1h-1zM23 33h1v1h-1zM27 34h1v1h-1zM23 36h1v1h-1zM25 36h1v1h-1zM21 39h1v1h-1zM19 40h1v1h-1zM9 41h1v1h-1zM32 41h1v1h-1zM22 42h1v1h-1zM22 43h2v1h-2zM3 44h1v1h-1zM24 44h1v1h-1zM8 49h1v1h-1zM24 51h1v1h-1zM8 52h1v1h-1zM20 54h1v1h-1zM9 55h1v1h-1zM8 56h1v1h-1zM22 57h1v1h-1zM30 58h1v1h-1zM11 59h1v1h-1zM13 59h1v1h-1zM14 61h1v1h-1zM22 61h1v1h-1zM18 62h1v1h-1zM16 63h1v1h-1zM25 66h1v1h-1zM21 69h1v1h-1zM28 72h1v1h-1z"/><path fill="#474792" d="M16 10h1v1h-1zM32 10h1v1h-1zM18 15h1v1h-1zM25 18h1v1h-1zM25 20h1v1h-1zM10 22h1v1h-1zM19 22h1v1h-1zM8 23h1v1h-1zM7 25h1v1h-1zM5 28h1v1h-1zM31 28h1v1h-1zM25 29h1v1h-1zM13 30h1v1h-1zM25 30h1v1h-1zM13 32h1v1h-1zM31 32h1v1h-1zM8 33h1v1h-1zM20 33h1v1h-1zM25 38h1v1h-1zM6 40h1v1h-1zM16 40h1v1h-1zM24 42h1v1h-1zM28 45h1v1h-1zM9 47h1v1h-1zM9 49h1v1h-1zM15 49h1v1h-1zM32 49h1v1h-1zM23 51h1v1h-1zM16 57h1v1h-1zM20 58h1v1h-1zM13 60h1v1h-1zM17 60h1v1h-1zM29 60h1v1h-1zM15 66h1v1h-1z"/><path fill="#3d3b6d" d="M31 7h1v1h-1zM22 16h1v1h-1zM12 20h1v1h-1zM27 21h1v1h-1zM22 27h1v1h-1zM32 29h1v1h-1zM21 31h1v1h-1zM32 42h1v1h-1zM24 48h1v1h-1zM23 49h1v1h-1zM23 55h1v1h-1zM23 56h1v1h-1z"/><path fill="#393763" d="M21 10h1v1h-1zM22 11h1v1h-1zM16 12h1v1h-1zM25 12h1v1h-1zM15 14h1v1h-1zM24 17h2v1h-2zM9 19h1v1h-1zM23 23h1v1h-1zM19 24h2v1h-2zM23 25h1v1h-1zM26 26h1v1h-1zM31 26h1v1h-1zM32 27h1v1h-1zM19 28h1v1h-1zM26 28h1v1h-1zM23 31h1v1h-1zM22 32h1v1h-1zM32 32h1v1h-1zM18 33h1v1h-1zM25 33h1v1h-1zM28 38h1v1h-1zM16 39h1v1h-1zM20 44h1v1h-1zM27 44h1v1h-1zM31 45h1v1h-1zM31 49h1v1h-1zM7 50h1v1h-1zM9 51h1v1h-1zM17 51h1v1h-1zM15 52h1v1h-1zM18 52h1v1h-1zM23 53h1v1h-1zM12 54h1v1h-1zM30 55h1v1h-1zM14 56h1v1h-1zM15 57h1v1h-1zM12 59h1v1h-1zM22 59h1v1h-1zM30 62h1v1h-1zM15 67h1v1h-1zM23 71h1v1h-1z"/><path fill="#343356" d="M21 6h1v1h-1zM26 12h1v1h-1zM16 13h1v1h-1zM28 22h2v1h-2zM27 23h1v1h-1zM30 23h2v1h-2zM29 25h1v1h-1zM25 26h1v1h-1zM28 26h1v1h-1zM26 27h1v1h-1zM21 28h1v1h-1zM27 28h1v1h-1zM11 29h1v1h-1zM28 29h2v1h-2zM25 31h1v1h-1zM8 32h1v1h-1zM9 34h1v1h-1zM28 37h1v1h-1zM26 38h2v1h-2zM29 38h1v1h-1zM23 39h1v1h-1zM32 39h1v1h-1zM23 41h1v1h-1zM30 43h1v1h-1zM22 45h1v1h-1zM29 45h1v1h-1zM32 48h1v1h-1zM19 49h1v1h-1zM10 50h1v1h-1zM19 50h1v1h-1zM25 50h1v1h-1zM11 51h1v1h-1zM7 52h1v1h-1zM16 52h1v1h-1zM19 52h1v1h-1zM22 53h1v1h-1zM17 54h1v1h-1zM10 56h1v1h-1zM26 57h1v1h-1zM31 57h1v1h-1z"/><path fill="#312f4d" d="M24 11h1v1h-1zM17 20h1v1h-1zM19 20h1v1h-1zM32 20h1v1h-1zM12 21h1v1h-1zM26 21h1v1h-1zM31 21h1v1h-1zM27 22h1v1h-1zM25 23h1v1h-1zM26 24h1v1h-1zM28 25h1v1h-1zM22 26h2v1h-2zM27 27h1v1h-1zM20 29h1v1h-1zM19 31h1v1h-1zM26 32h1v1h-1zM11 33h1v1h-1zM10 34h1v1h-1zM10 35h1v1h-1zM29 35h2v1h-2zM31 37h1v1h-1zM16 38h1v1h-1zM22 39h1v1h-1zM28 39h1v1h-1zM30 39h1v1h-1zM27 40h1v1h-1zM22 41h1v1h-1zM27 41h1v1h-1zM23 42h1v1h-1zM32 44h1v1h-1zM28 46h1v1h-1zM25 47h1v1h-1zM25 48h1v1h-1zM27 50h1v1h-1zM28 52h1v1h-1zM28 53h1v1h-1zM11 55h1v1h-1zM16 55h1v1h-1zM28 55h1v1h-1zM14 57h1v1h-1zM16 61h1v1h-1zM22 63h2v1h-2zM17 66h1v1h-1zM24 69h1v1h-1z"/><path fill="#2d2c45" d="M22 9h1v1h-1zM23 11h1v1h-1zM17 15h1v1h-1zM32 17h1v1h-1zM20 21h1v1h-1zM12 22h1v1h-1zM22 22h2v1h-2zM26 22h1v1h-1zM30 22h1v1h-1zM31 24h2v1h-2zM31 25h1v1h-1zM29 26h2v1h-2zM12 28h1v1h-1zM22 28h1v1h-1zM21 29h2v1h-2zM18 30h1v1h-1zM29 30h1v1h-1zM24 31h1v1h-1zM9 32h1v1h-1zM12 33h1v1h-1zM24 33h1v1h-1zM26 34h1v1h-1zM30 37h1v1h-1zM8 39h1v1h-1zM31 40h1v1h-1zM27 43h2v1h-2zM30 44h1v1h-1zM30 45h1v1h-1zM21 46h1v1h-1zM23 46h1v1h-1zM26 48h2v1h-2zM12 49h1v1h-1zM24 49h1v1h-1zM13 51h1v1h-1zM19 51h1v1h-1zM21 53h1v1h-1zM16 54h1v1h-1zM14 55h1v1h-1zM13 56h1v1h-1zM19 57h1v1h-1zM13 58h2v1h-2zM18 60h1v1h-1zM18 61h1v1h-1zM22 62h1v1h-1z"/><path fill="#2a293d" d="M32 8h1v1h-1zM31 10h1v1h-1zM25 11h1v1h-1zM21 12h1v1h-1zM29 17h1v1h-1zM15 19h1v1h-1zM10 21h1v1h-1zM19 21h1v1h-1zM32 21h1v1h-1zM31 22h1v1h-1zM27 24h1v1h-1zM32 25h1v1h-1zM21 26h1v1h-1zM20 27h1v1h-1zM29 28h1v1h-1zM18 29h1v1h-1zM25 32h1v1h-1zM9 33h1v1h-1zM28 33h1v1h-1zM28 34h1v1h-1zM21 37h2v1h-2zM29 37h1v1h-1zM22 38h1v1h-1zM32 38h1v1h-1zM29 39h1v1h-1zM24 40h1v1h-1zM29 40h1v1h-1zM28 41h1v1h-1zM30 41h1v1h-1zM25 42h1v1h-1zM27 42h1v1h-1zM26 43h1v1h-1zM5 44h1v1h-1zM26 44h1v1h-1zM28 44h1v1h-1zM31 44h1v1h-1zM27 45h1v1h-1zM32 45h1v1h-1zM26 46h2v1h-2zM27 47h1v1h-1zM16 49h1v1h-1zM25 49h2v1h-2zM16 50h1v1h-1zM19 53h1v1h-1zM27 56h1v1h-1zM13 57h1v1h-1zM19 59h1v1h-1zM21 59h1v1h-1zM28 60h1v1h-1zM17 61h1v1h-1zM19 61h1v1h-1zM30 63h1v1h-1zM29 64h2v1h-2z"/><path fill="#262534" d="M20 7h1v1h-1zM25 9h2v1h-2zM22 10h1v1h-1zM21 11h1v1h-1zM25 16h1v1h-1zM14 18h1v1h-1zM22 18h1v1h-1zM13 19h2v1h-2zM11 20h1v1h-1zM18 20h1v1h-1zM17 21h1v1h-1zM32 22h1v1h-1zM29 23h1v1h-1zM24 24h1v1h-1zM28 24h1v1h-1zM21 25h1v1h-1zM24 25h1v1h-1zM21 27h1v1h-1zM20 28h1v1h-1zM23 28h1v1h-1zM8 30h1v1h-1zM19 30h1v1h-1zM24 30h1v1h-1zM11 32h1v1h-1zM30 38h1v1h-1zM27 39h1v1h-1zM23 40h1v1h-1zM29 41h1v1h-1zM26 42h1v1h-1zM29 42h1v1h-1zM25 43h1v1h-1zM29 43h1v1h-1zM21 44h1v1h-1zM20 45h1v1h-1zM25 46h1v1h-1zM30 46h1v1h-1zM9 48h1v1h-1zM31 48h1v1h-1zM9 50h1v1h-1zM31 50h1v1h-1zM25 52h1v1h-1zM9 53h1v1h-1zM11 54h1v1h-1zM15 56h1v1h-1zM25 57h1v1h-1zM22 60h1v1h-1zM29 63h1v1h-1zM31 63h1v1h-1z"/><path fill="#24232e" d="M32 7h1v1h-1zM21 8h1v1h-1zM32 11h1v1h-1zM25 13h1v1h-1zM24 16h1v1h-1zM31 16h1v1h-1zM14 20h1v1h-1zM11 21h1v1h-1zM21 21h1v1h-1zM23 21h1v1h-1zM20 23h1v1h-1zM22 24h1v1h-1zM25 24h1v1h-1zM15 25h1v1h-1zM22 25h1v1h-1zM26 25h2v1h-2zM28 27h2v1h-2zM19 29h1v1h-1zM20 31h1v1h-1zM22 31h1v1h-1zM19 32h1v1h-1zM7 33h1v1h-1zM10 33h1v1h-1zM19 33h1v1h-1zM29 34h2v1h-2zM32 37h1v1h-1zM26 39h1v1h-1zM31 39h1v1h-1zM12 45h1v1h-1zM32 46h1v1h-1zM24 47h1v1h-1zM31 47h1v1h-1zM20 49h1v1h-1zM30 49h1v1h-1zM26 50h1v1h-1zM27 51h1v1h-1zM11 53h1v1h-1zM16 53h1v1h-1zM10 54h1v1h-1zM29 54h1v1h-1zM15 55h1v1h-1zM23 57h1v1h-1zM32 57h1v1h-1zM18 59h1v1h-1zM23 60h1v1h-1zM20 61h1v1h-1zM23 61h1v1h-1zM31 61h1v1h-1z"/><path fill="#222129" d="M23 9h1v1h-1zM23 10h1v1h-1zM31 20h1v1h-1zM22 23h1v1h-1zM15 28h1v1h-1zM28 28h1v1h-1zM27 29h1v1h-1zM21 30h1v1h-1zM23 32h1v1h-1zM26 33h1v1h-1zM31 36h1v1h-1zM26 41h1v1h-1zM28 42h1v1h-1zM31 46h1v1h-1zM23 47h1v1h-1zM8 50h1v1h-1zM8 54h1v1h-1zM26 56h1v1h-1z"/><path fill="#3d2228" d="M18 10h1v1h-1zM15 38h1v1h-1zM26 40h1v1h-1zM27 55h1v1h-1zM22 58h1v1h-1z"/><path fill="#43232a" d="M32 6h1v1h-1zM13 12h1v1h-1zM15 12h1v1h-1zM13 14h1v1h-1zM24 14h1v1h-1zM11 19h1v1h-1zM9 21h1v1h-1zM28 21h1v1h-1zM9 22h1v1h-1zM24 22h1v1h-1zM14 23h1v1h-1zM18 23h1v1h-1zM24 23h1v1h-1zM11 24h1v1h-1zM14 25h1v1h-1zM25 25h1v1h-1zM24 26h1v1h-1zM25 27h1v1h-1zM20 30h1v1h-1zM6 33h1v1h-1zM13 34h1v1h-1zM7 36h1v1h-1zM22 36h1v1h-1zM21 38h1v1h-1zM9 39h1v1h-1zM6 41h1v1h-1zM11 42h1v1h-1zM24 43h1v1h-1zM16 46h1v1h-1zM16 47h1v1h-1zM28 48h1v1h-1zM10 49h1v1h-1zM18 51h1v1h-1zM14 52h1v1h-1zM31 52h1v1h-1zM28 54h1v1h-1zM13 55h1v1h-1zM17 55h1v1h-1zM22 56h1v1h-1zM12 63h1v1h-1zM16 65h1v1h-1zM27 69h1v1h-1z"/><path fill="#4a252e" d="M25 6h1v1h-1zM28 6h1v1h-1zM24 7h1v1h-1zM20 8h1v1h-1zM28 8h1v1h-1zM18 9h1v1h-1zM20 10h1v1h-1zM17 12h1v1h-1zM23 12h1v1h-1zM30 12h1v1h-1zM14 13h1v1h-1zM23 14h1v1h-1zM29 14h1v1h-1zM10 15h1v1h-1zM22 15h1v1h-1zM15 16h1v1h-1zM32 16h1v1h-1zM22 17h1v1h-1zM15 18h1v1h-1zM18 19h1v1h-1zM27 20h1v1h-1zM18 21h1v1h-1zM29 21h2v1h-2zM11 22h1v1h-1zM21 22h1v1h-1zM10 23h1v1h-1zM26 23h1v1h-1zM28 23h1v1h-1zM8 25h1v1h-1zM13 25h1v1h-1zM30 25h1v1h-1zM16 26h1v1h-1zM27 26h1v1h-1zM32 26h1v1h-1zM23 27h1v1h-1zM13 29h1v1h-1zM6 30h1v1h-1zM7 31h1v1h-1zM10 32h1v1h-1zM18 32h1v1h-1zM24 32h1v1h-1zM27 32h1v1h-1zM18 34h1v1h-1zM20 34h1v1h-1zM22 34h1v1h-1zM10 36h1v1h-1zM29 36h1v1h-1zM16 37h1v1h-1zM25 37h2v1h-2zM31 38h1v1h-1zM12 40h1v1h-1zM30 40h1v1h-1zM32 40h1v1h-1zM12 41h1v1h-1zM17 41h1v1h-1zM8 42h1v1h-1zM18 42h1v1h-1zM19 43h1v1h-1zM15 44h1v1h-1zM5 45h1v1h-1zM14 45h1v1h-1zM21 45h1v1h-1zM26 45h1v1h-1zM5 46h2v1h-2zM10 46h1v1h-1zM32 47h1v1h-1zM30 48h1v1h-1zM27 49h1v1h-1zM6 50h1v1h-1zM11 50h1v1h-1zM29 50h1v1h-1zM20 51h1v1h-1zM25 51h2v1h-2zM28 51h1v1h-1zM10 52h1v1h-1zM17 52h1v1h-1zM13 53h1v1h-1zM27 53h1v1h-1zM9 54h1v1h-1zM27 54h1v1h-1zM6 55h1v1h-1zM26 55h1v1h-1zM6 56h1v1h-1zM9 56h1v1h-1zM24 56h1v1h-1zM28 56h1v1h-1zM30 56h1v1h-1zM25 58h1v1h-1zM14 60h1v1h-1zM17 62h1v1h-1zM26 62h2v1h-2zM24 65h1v1h-1zM26 65h1v1h-1zM19 66h1v1h-1zM19 67h1v1h-1zM21 72h1v1h-1zM26 73h2v1h-2zM28 74h1v1h-1z"/></g><use href="#h51" x="35"/></g><rect x="2210" y="569" width="57" height="75.8" fill="none" stroke="#ffff00" stroke-width="4.3"/><rect x="2322" y="451.9" width="15.8" height="309.4" fill="url(#g5)"/><rect x="2337.8" y="451.10" width="13.2" height="2.8" fill="#262626"/><text x="2357.2" y="0" font-size="22" transform="translate(0,460.25) scale(1,1.045)">10%</text><rect x="2337.8" y="502.67" width="13.2" height="2.8" fill="#262626"/><text x="2357.2" y="0" font-size="22" transform="translate(0,511.82) scale(1,1.045)">0%</text><rect x="2337.8" y="554.23" width="13.2" height="2.8" fill="#262626"/><text x="2357.2" y="0" font-size="22" transform="translate(0,563.38) scale(1,1.045)">-10%</text><rect x="2337.8" y="605.80" width="13.2" height="2.8" fill="#262626"/><text x="2357.2" y="0" font-size="22" transform="translate(0,614.95) scale(1,1.045)">-20%</text><rect x="2337.8" y="657.37" width="13.2" height="2.8" fill="#262626"/><text x="2357.2" y="0" font-size="22" transform="translate(0,666.52) scale(1,1.045)">-30%</text><rect x="2337.8" y="708.93" width="13.2" height="2.8" fill="#262626"/><text x="2357.2" y="0" font-size="22" transform="translate(0,718.08) scale(1,1.045)">-40%</text><rect x="2337.8" y="760.50" width="13.2" height="2.8" fill="#262626"/><text x="2357.2" y="0" font-size="22" transform="translate(0,769.65) scale(1,1.045)">-50%</text></svg></body></html>
